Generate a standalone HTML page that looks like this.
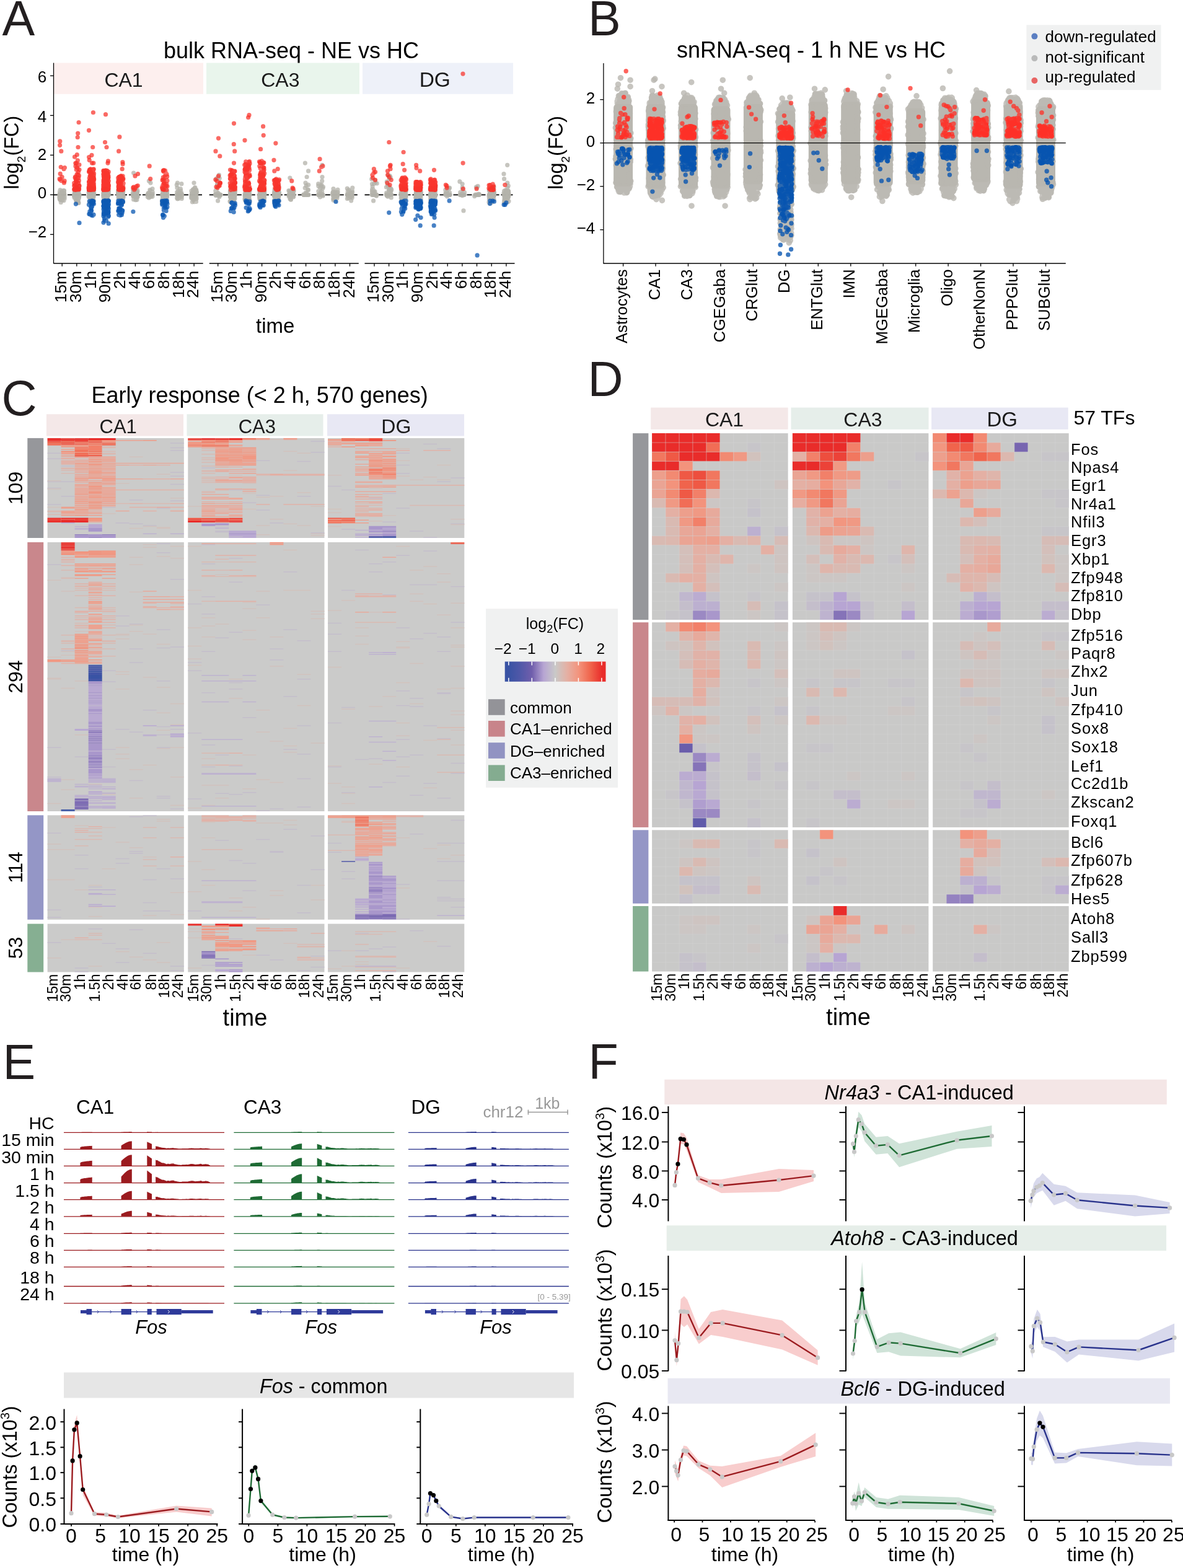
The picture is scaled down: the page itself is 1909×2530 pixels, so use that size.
<!DOCTYPE html>
<html><head><meta charset="utf-8"><title>Figure</title>
<style>html,body{margin:0;padding:0;background:#fff;overflow:hidden}svg{display:block}</style>
</head><body><svg width="1909" height="2530" viewBox="0 0 1909 2530" font-family='"Liberation Sans", Arial, Helvetica, sans-serif'><text x="3.5" y="56.8" fill="#231F20" font-size="79">A</text><text x="949" y="56.8" fill="#231F20" font-size="79">B</text><text x="2.5" y="670" fill="#231F20" font-size="79">C</text><text x="948.5" y="639" fill="#231F20" font-size="79">D</text><text x="4.5" y="1741" fill="#231F20" font-size="79">E</text><text x="949.5" y="1740.4" fill="#231F20" font-size="79">F</text><text x="470" y="93.6" text-anchor="middle" font-size="36">bulk RNA-seq - NE vs HC</text><rect x="87" y="101.5" width="241" height="50.2" fill="#FDEFEE"/><rect x="333" y="101.5" width="247" height="50.2" fill="#E9F5EC"/><rect x="585" y="101.5" width="243" height="50.2" fill="#EEF1F9"/><text x="199.5" y="140" text-anchor="middle" fill="#1A1A1A" font-size="32">CA1</text><text x="452.3" y="140" text-anchor="middle" fill="#1A1A1A" font-size="32">CA3</text><text x="701.8" y="140" text-anchor="middle" fill="#1A1A1A" font-size="33.5">DG</text><path d="M86.5 101.5L86.5 425.6" stroke="#000" stroke-width="1.3"/><path d="M81 122.3L86.5 122.3" stroke="#000" stroke-width="1.3"/><text x="75.3" y="133.1" text-anchor="end" font-size="26">6</text><path d="M81 186.3L86.5 186.3" stroke="#000" stroke-width="1.3"/><text x="75.3" y="196.8" text-anchor="end" font-size="26">4</text><path d="M81 250.3L86.5 250.3" stroke="#000" stroke-width="1.3"/><text x="75.3" y="257.7" text-anchor="end" font-size="26">2</text><path d="M81 314.3L86.5 314.3" stroke="#000" stroke-width="1.3"/><text x="75.3" y="320.2" text-anchor="end" font-size="26">0</text><path d="M81 378.3L86.5 378.3" stroke="#000" stroke-width="1.3"/><text x="75.3" y="382.9" text-anchor="end" font-size="26">−2</text><text transform="translate(29.8 246.1) rotate(-90)" text-anchor="middle" font-size="32.5">log<tspan font-size="19" dy="11">2</tspan><tspan dy="-11">(FC)</tspan></text><path d="M87 425L327.7 425" stroke="#000" stroke-width="1.3"/><path d="M87 314.3L327.7 314.3" stroke="#000" stroke-width="1.8" stroke-dasharray="8 3"/><path d="M100.2 425L100.2 429.8" stroke="#000" stroke-width="1.3"/><text transform="translate(107.3 436.8) rotate(-90)" text-anchor="end" font-size="26.5">15m</text><path d="M123.8 425L123.8 429.8" stroke="#000" stroke-width="1.3"/><text transform="translate(130.9 436.8) rotate(-90)" text-anchor="end" font-size="26.5">30m</text><path d="M147.5 425L147.5 429.8" stroke="#000" stroke-width="1.3"/><text transform="translate(154.6 436.8) rotate(-90)" text-anchor="end" font-size="26.5">1h</text><path d="M171.1 425L171.1 429.8" stroke="#000" stroke-width="1.3"/><text transform="translate(178.2 436.8) rotate(-90)" text-anchor="end" font-size="26.5">90m</text><path d="M194.8 425L194.8 429.8" stroke="#000" stroke-width="1.3"/><text transform="translate(201.9 436.8) rotate(-90)" text-anchor="end" font-size="26.5">2h</text><path d="M218.4 425L218.4 429.8" stroke="#000" stroke-width="1.3"/><text transform="translate(225.5 436.8) rotate(-90)" text-anchor="end" font-size="26.5">4h</text><path d="M242.1 425L242.1 429.8" stroke="#000" stroke-width="1.3"/><text transform="translate(249.2 436.8) rotate(-90)" text-anchor="end" font-size="26.5">6h</text><path d="M265.8 425L265.8 429.8" stroke="#000" stroke-width="1.3"/><text transform="translate(272.9 436.8) rotate(-90)" text-anchor="end" font-size="26.5">8h</text><path d="M289.4 425L289.4 429.8" stroke="#000" stroke-width="1.3"/><text transform="translate(296.5 436.8) rotate(-90)" text-anchor="end" font-size="26.5">18h</text><path d="M313.1 425L313.1 429.8" stroke="#000" stroke-width="1.3"/><text transform="translate(320.2 436.8) rotate(-90)" text-anchor="end" font-size="26.5">24h</text><path d="M337.8 425L578.8 425" stroke="#000" stroke-width="1.3"/><path d="M337.8 314.3L578.8 314.3" stroke="#000" stroke-width="1.8" stroke-dasharray="8 3"/><path d="M351.7 425L351.7 429.8" stroke="#000" stroke-width="1.3"/><text transform="translate(358.8 436.8) rotate(-90)" text-anchor="end" font-size="26.5">15m</text><path d="M375.3 425L375.3 429.8" stroke="#000" stroke-width="1.3"/><text transform="translate(382.4 436.8) rotate(-90)" text-anchor="end" font-size="26.5">30m</text><path d="M399 425L399 429.8" stroke="#000" stroke-width="1.3"/><text transform="translate(406.1 436.8) rotate(-90)" text-anchor="end" font-size="26.5">1h</text><path d="M422.6 425L422.6 429.8" stroke="#000" stroke-width="1.3"/><text transform="translate(429.8 436.8) rotate(-90)" text-anchor="end" font-size="26.5">90m</text><path d="M446.3 425L446.3 429.8" stroke="#000" stroke-width="1.3"/><text transform="translate(453.4 436.8) rotate(-90)" text-anchor="end" font-size="26.5">2h</text><path d="M469.9 425L469.9 429.8" stroke="#000" stroke-width="1.3"/><text transform="translate(477.1 436.8) rotate(-90)" text-anchor="end" font-size="26.5">4h</text><path d="M493.6 425L493.6 429.8" stroke="#000" stroke-width="1.3"/><text transform="translate(500.7 436.8) rotate(-90)" text-anchor="end" font-size="26.5">6h</text><path d="M517.2 425L517.2 429.8" stroke="#000" stroke-width="1.3"/><text transform="translate(524.4 436.8) rotate(-90)" text-anchor="end" font-size="26.5">8h</text><path d="M540.9 425L540.9 429.8" stroke="#000" stroke-width="1.3"/><text transform="translate(548 436.8) rotate(-90)" text-anchor="end" font-size="26.5">18h</text><path d="M564.5 425L564.5 429.8" stroke="#000" stroke-width="1.3"/><text transform="translate(571.6 436.8) rotate(-90)" text-anchor="end" font-size="26.5">24h</text><path d="M588.5 425L830.5 425" stroke="#000" stroke-width="1.3"/><path d="M588.5 314.3L830.5 314.3" stroke="#000" stroke-width="1.8" stroke-dasharray="8 3"/><path d="M604 425L604 429.8" stroke="#000" stroke-width="1.3"/><text transform="translate(611.1 436.8) rotate(-90)" text-anchor="end" font-size="26.5">15m</text><path d="M627.6 425L627.6 429.8" stroke="#000" stroke-width="1.3"/><text transform="translate(634.8 436.8) rotate(-90)" text-anchor="end" font-size="26.5">30m</text><path d="M651.3 425L651.3 429.8" stroke="#000" stroke-width="1.3"/><text transform="translate(658.4 436.8) rotate(-90)" text-anchor="end" font-size="26.5">1h</text><path d="M675 425L675 429.8" stroke="#000" stroke-width="1.3"/><text transform="translate(682.1 436.8) rotate(-90)" text-anchor="end" font-size="26.5">90m</text><path d="M698.6 425L698.6 429.8" stroke="#000" stroke-width="1.3"/><text transform="translate(705.7 436.8) rotate(-90)" text-anchor="end" font-size="26.5">2h</text><path d="M722.2 425L722.2 429.8" stroke="#000" stroke-width="1.3"/><text transform="translate(729.4 436.8) rotate(-90)" text-anchor="end" font-size="26.5">4h</text><path d="M745.9 425L745.9 429.8" stroke="#000" stroke-width="1.3"/><text transform="translate(753 436.8) rotate(-90)" text-anchor="end" font-size="26.5">6h</text><path d="M769.5 425L769.5 429.8" stroke="#000" stroke-width="1.3"/><text transform="translate(776.6 436.8) rotate(-90)" text-anchor="end" font-size="26.5">8h</text><path d="M793.2 425L793.2 429.8" stroke="#000" stroke-width="1.3"/><text transform="translate(800.3 436.8) rotate(-90)" text-anchor="end" font-size="26.5">18h</text><path d="M816.9 425L816.9 429.8" stroke="#000" stroke-width="1.3"/><text transform="translate(824 436.8) rotate(-90)" text-anchor="end" font-size="26.5">24h</text><text x="444.2" y="537" text-anchor="middle" font-size="33">time</text><path d="M101.5 315.5h0M100.3 315.3h0M97 322.3h0M99.3 322.7h0M98.6 312.8h0M99.1 308.6h0M98.6 316.4h0M101.9 313.1h0M104.3 314.8h0M100.1 310.3h0M101.9 311.3h0M104 316.8h0M103 323.4h0M99.9 309.6h0M99.3 311.8h0M103.5 311.8h0M104.1 320.6h0M100.1 311.2h0M104.1 318.5h0M96.4 314.9h0M99.3 314.3h0M101.4 314.3h0M97.7 314.3h0M96.4 314.3h0M96.8 314.3h0M119.8 314.8h0M121 314.6h0M121.5 316h0M121.5 311h0M122 313.4h0M127.8 301.1h0M121.3 310.9h0M120.3 319.2h0M123.7 318.8h0M123 309.6h0M120.8 317.2h0M122.6 307.3h0M125.1 313.7h0M121.7 312.8h0M123.2 307.9h0M123.2 323.3h0M119.7 314.4h0M125.8 311.8h0M126.3 309.1h0M124.4 313.5h0M123.9 317h0M125.6 325.6h0M127.7 315.6h0M120.2 311.1h0M125.7 324.3h0M123 312h0M123.3 314.9h0M121.2 314.3h0M119.7 314.3h0M119.7 314.3h0M124 314.3h0M148.7 309.8h0M149.5 323h0M150.3 309.9h0M145.2 318.8h0M148.6 311.1h0M150.1 319.3h0M145.4 307.1h0M149.6 306.6h0M148.5 317.6h0M149.6 313h0M149.2 315.1h0M147.2 308.7h0M147.1 313.5h0M145 315.3h0M144.3 326h0M145.2 314.9h0M145.8 319.5h0M143.2 310.8h0M145.7 316.7h0M146.3 303.3h0M151.2 312.3h0M146.4 308.6h0M147.9 304.5h0M149.7 311.9h0M146.2 310.5h0M148.8 327.4h0M151 312.6h0M147.1 304h0M145.4 311.3h0M146.8 319.5h0M145.6 314.3h0M147.5 314.3h0M145.1 314.3h0M146.6 314.3h0M150.5 314.3h0M168.2 313.1h0M171.4 313.8h0M171.8 306.8h0M169.1 321.1h0M170.7 316.4h0M175.3 314.5h0M167.1 317.9h0M168.8 312.3h0M167.8 314.3h0M170.9 312.4h0M167.7 315.7h0M172.4 314.4h0M174.9 308.7h0M168.9 319.1h0M174.9 315h0M168.4 319.8h0M173.6 312.9h0M170.7 322h0M169.7 312.2h0M170.6 314.9h0M175.2 314.8h0M175 313.6h0M168.9 305.5h0M174.1 308.9h0M171.8 318.3h0M167.1 312h0M167.1 316.2h0M171.9 314.4h0M167.4 322.4h0M167.1 313.7h0M172.3 314.3h0M169.3 314.3h0M173.4 314.3h0M170.5 314.3h0M169.3 314.3h0M192.2 308.2h0M196.5 318h0M194.8 310.3h0M195.6 310.9h0M198.6 309.7h0M193.9 309.9h0M198.9 316.9h0M191 318.9h0M193.6 320.3h0M190.7 312.1h0M198.1 320.2h0M196.3 312.8h0M194.2 314.3h0M191.5 310.3h0M191.8 320.1h0M193 311.4h0M196.1 319.1h0M195.8 319.5h0M195.5 319h0M195.3 306.7h0M191.1 313.9h0M194.3 313.7h0M193.4 314.5h0M197.6 320.2h0M196.6 322.6h0M197.1 307.3h0M194.1 314.3h0M195.7 314.3h0M194.4 314.3h0M193.9 314.3h0M193.3 314.3h0M218.8 322.6h0M217.7 310.1h0M219.9 311.9h0M216.7 310.2h0M221.2 309.5h0M220.7 318.6h0M215.9 311.7h0M216.9 316.5h0M214.2 312.1h0M215.1 308.2h0M214.2 313h0M216.3 316.4h0M216.7 312.9h0M215.6 279.1h0M220.5 314.3h0M221.2 314.3h0M218.9 314.3h0M216.2 314.3h0M219.6 314.3h0M245.2 309.4h0M242.2 313.4h0M239.2 311.8h0M239.5 313.1h0M246.2 310h0M243.6 317.5h0M242.7 307.9h0M243.4 314.3h0M245.4 314.3h0M243.6 314.3h0M243.5 314.3h0M241.4 314.3h0M266.2 312.3h0M265.7 317.9h0M265.9 308.1h0M266.2 323.2h0M267.7 316.7h0M268.1 308.3h0M264.7 315.9h0M269.1 315.6h0M268.9 318.7h0M262.5 318.1h0M261.8 325.9h0M267.3 306h0M266.4 309.4h0M263.9 311.9h0M266.1 312.5h0M265.8 315.8h0M268.5 315.5h0M269 311.6h0M269.1 312.3h0M264.8 320.5h0M261.6 314.1h0M263.8 316.1h0M269.7 308.1h0M269 314.3h0M266.9 314.3h0M268.3 314.3h0M267.3 314.3h0M267.8 314.3h0M288.1 314.7h0M285.7 310.2h0M290 310.6h0M287.4 313.9h0M290.6 312.2h0M292.6 310.8h0M288 320.3h0M290.1 317.2h0M291.8 307.9h0M286.1 314.5h0M292.9 296.7h0M285.9 303.1h0M285.9 314.3h0M291.3 314.3h0M285.4 314.3h0M291 314.3h0M309.7 313.6h0M309.8 314.6h0M315.1 315.6h0M316.7 310.8h0M310.3 314.8h0M312.3 313.6h0M313.5 318.4h0M312.2 315.6h0M310 318.7h0M310.9 314h0M315.5 306h0M314.3 311.6h0M313.1 314.6h0M315.1 314.4h0M311.5 320.9h0M311 315.4h0M310 318.3h0M315.7 315.6h0M316.4 321.2h0M315.8 312.8h0M313.2 320.8h0M314.7 311.3h0M311.9 309.2h0M312 308.8h0M311.1 310.3h0M314.2 303.4h0M309.1 318.4h0M312.3 307.6h0M310.4 325.8h0M311.6 319.7h0M313 295.1h0M309 314.3h0M312.7 314.3h0M312.8 314.3h0M313 314.3h0M314.5 314.3h0M354 317.4h0M348.3 313.5h0M353.3 288.7h0M347.9 314.3h0M352.4 314.3h0M354.9 314.3h0M351.9 314.3h0M349.8 314.3h0M352.2 287.8h0M354.3 287.5h0M350.6 299h0M349.1 290h0M350.9 299.2h0M372.9 316.1h0M371.9 305.8h0M378.8 316.3h0M371.4 312.9h0M372.4 316.9h0M377.9 306.1h0M375.7 316.5h0M376.9 312.6h0M375.6 302.9h0M379 307.8h0M372.3 316.3h0M379 320.1h0M371.5 307.7h0M372.6 313.2h0M377.8 309.3h0M371.9 314h0M372.5 319.3h0M378.6 315.8h0M375.7 310.1h0M375.4 313.7h0M378.5 311.8h0M375.3 314.8h0M373.3 314.3h0M378.7 310.7h0M371.6 312.7h0M376.4 322.3h0M371.1 324.8h0M373.2 311.7h0M372.9 312.3h0M375.2 316.8h0M378.9 314.3h0M372.8 314.3h0M377.8 314.3h0M374.1 314.3h0M397.7 310.4h0M401 315.3h0M403 323.6h0M397.5 303.6h0M397 323.6h0M400.2 317.1h0M400.5 320.3h0M399.3 309.8h0M399.6 305.6h0M395.3 315.7h0M397.3 313.5h0M401.4 315.7h0M397.7 321.1h0M400.5 318.6h0M402 319.1h0M397.1 316.6h0M399 318.1h0M400.3 319h0M395.3 317.2h0M396.6 317.7h0M395.3 319h0M395.9 313.9h0M401.8 313.8h0M397.5 307.6h0M399.3 309.6h0M398.3 315.4h0M399.8 319h0M403 326h0M400.6 310.8h0M398.2 313.1h0M398.5 314.3h0M396.4 314.3h0M400.7 314.3h0M402.9 314.3h0M400.9 314.3h0M423.7 308.8h0M423 321.1h0M426.7 308.5h0M424.5 310.6h0M424.3 309.7h0M420.1 307.1h0M424 315.8h0M421.5 313.6h0M424.3 310.7h0M424.3 315.9h0M421.3 316.4h0M424.1 309h0M419.7 314.1h0M426.8 313h0M418.9 319.4h0M419.5 319.3h0M419.3 309.7h0M420 314h0M422.4 311.3h0M422.1 314.2h0M419.4 312.4h0M421.5 313h0M420.3 316.7h0M426.5 312.8h0M420.2 311.4h0M422.2 314.5h0M419.4 307.5h0M418.6 317.6h0M422.6 320.2h0M425.7 306.9h0M419.9 314.3h0M426.1 314.3h0M418.7 314.3h0M420 314.3h0M426.4 314.3h0M450.2 310.8h0M442.5 310.4h0M449.5 307.8h0M446.5 312h0M445.3 312.9h0M444.7 307.2h0M450 324.7h0M444.4 311.1h0M444.6 320.8h0M442.7 322.5h0M443.2 316.2h0M449.2 313.1h0M444.1 315.6h0M449.7 311.8h0M448.2 315.6h0M442.9 312h0M443.3 328.7h0M444.9 311.6h0M448.6 314.9h0M449.3 321.3h0M442.9 317.1h0M449.6 317h0M448.5 306.6h0M449.2 307.3h0M449.3 319.5h0M447.8 305.6h0M445.9 314.3h0M448.7 314.3h0M444.9 314.3h0M444.8 314.3h0M444 314.3h0M469.7 315.2h0M474 307.6h0M471.6 310.3h0M471.9 305h0M469.4 322.2h0M468.8 311.7h0M468.6 320.5h0M472.5 306.6h0M468.8 309.4h0M468.5 317.8h0M468.8 319.6h0M472.7 315h0M466.2 315.2h0M467.9 287.1h0M473.5 314.3h0M473.6 314.3h0M469.4 314.3h0M473 314.3h0M489.8 313.8h0M490.3 313.9h0M497.6 275.9h0M493 295.1h0M491.3 314.3h0M495.4 314.3h0M490.6 314.3h0M489.8 314.3h0M493.1 311h0M492.2 303.3h0M517.8 312.9h0M519.7 309.7h0M518.7 314.1h0M518.2 308.6h0M519.8 266.3h0M521.5 301.5h0M519.5 314.3h0M514.3 314.3h0M515.3 314.3h0M520.9 314.3h0M519.5 314.3h0M513.7 296.6h0M516.7 297.9h0M517.2 310.5h0M541.5 310.2h0M540.1 318.5h0M537.1 310.7h0M542.1 315.9h0M543.9 315.9h0M542.8 313.4h0M537.6 309.7h0M544.6 314.3h0M541.9 312.8h0M544 319.7h0M538.6 316.9h0M538 323.1h0M540.8 311.5h0M541.7 323.9h0M539.8 314.3h0M537.8 314.3h0M539.9 314.3h0M536.8 314.3h0M539 314.3h0M568.4 316.2h0M562.8 317.6h0M560.3 304h0M566.1 311.3h0M560.3 314.6h0M563.8 314.8h0M562 318.1h0M564.7 315.2h0M560.8 315.1h0M563.4 314.6h0M565.6 317.8h0M562.4 319.5h0M567.1 312.5h0M563.8 314.3h0M560.7 314.3h0M566.8 314.3h0M562.3 314.3h0M563.6 314.3h0M606.9 315.4h0M600.4 314h0M605.3 314.3h0M604.1 314.3h0M601 314.3h0M607.5 314.3h0M601.1 314.3h0M605.1 309.2h0M605.9 294.2h0M600.5 296.8h0M600.5 308.4h0M624 313.7h0M625 316.2h0M631.4 314.2h0M624.4 314.3h0M628.3 314.3h0M629.5 314.3h0M626.1 314.3h0M629.6 314.3h0M631.8 306.3h0M628.8 287.6h0M629.1 303.7h0M626.1 282.4h0M628.9 283.5h0M626.3 300.7h0M627.7 306.3h0M653.1 315.5h0M650.9 313.4h0M649 314.6h0M653 320.3h0M652.8 308.6h0M647.9 317.6h0M653.1 315h0M650.6 322.2h0M654.3 316.4h0M648.7 322.4h0M652.1 318.8h0M647.1 313.7h0M647.2 316.5h0M654.4 316.9h0M649.8 314.9h0M648.8 317.7h0M649.1 303.8h0M647.3 307.9h0M647.5 325.5h0M654.2 307.6h0M650.8 314.8h0M647 311.4h0M653 318.3h0M651.2 314.6h0M652.3 317h0M650.2 312.3h0M649.9 318.7h0M648.4 315.5h0M650.9 313.4h0M648.9 308.8h0M651.1 314.3h0M652.5 314.3h0M652.5 314.3h0M648.5 314.3h0M651.7 314.3h0M678.1 315.9h0M676.1 307.6h0M676.8 313.8h0M674.4 314.9h0M676.4 316.8h0M676.9 313.5h0M673.8 314.7h0M673.2 310.1h0M679 310.9h0M671.6 314.2h0M674.4 311.2h0M678.4 324.4h0M674.5 316.2h0M671.6 304.2h0M671.7 315.2h0M672.3 312.5h0M672.8 307.5h0M674.2 304.9h0M676.6 316h0M673.1 312.3h0M671.4 310.6h0M676.8 320h0M679.1 309h0M672.4 311.7h0M671.3 321.3h0M676.8 312.5h0M676.2 316.2h0M673.9 318.2h0M675.5 321.2h0M674.7 311.7h0M677 314.3h0M677.8 314.3h0M677.4 314.3h0M673.8 314.3h0M694.6 325.5h0M699 312.1h0M696.2 314.2h0M698.1 313.7h0M699.4 317.1h0M700.6 310.6h0M700.8 307.4h0M702.4 315.6h0M696.5 321.7h0M698 315.7h0M694.4 312.9h0M695.8 315.9h0M698.8 316.8h0M698.4 312.7h0M695.1 306.8h0M701.5 313.9h0M699.7 314.2h0M695.3 310.6h0M695.1 314.8h0M702.3 313.8h0M702.6 307.1h0M701 307.4h0M695.2 315.6h0M694.7 321.1h0M701.3 308.6h0M700.1 305.9h0M695 316.2h0M702.2 314.3h0M701.3 314.3h0M702.2 314.3h0M695.5 314.3h0M696.1 314.3h0M719.1 312.4h0M722.7 314.3h0M724.8 314.3h0M726 314.3h0M724.5 314.3h0M722.9 314.3h0M721.5 308.8h0M725.5 303h0M745.6 312.9h0M748 339.9h0M747.6 314.3h0M748.1 314.3h0M744 314.3h0M744.2 314.3h0M741.9 292.9h0M746.4 305.6h0M773.3 313.4h0M766.6 314.3h0M766.6 314.3h0M771.7 314.3h0M767.6 314.3h0M771.1 314.3h0M768.4 301.8h0M789 326.3h0M790.2 319.7h0M789.3 307.4h0M791.1 311.4h0M791.6 319.2h0M795.1 303.6h0M797.4 310.8h0M789.1 315.2h0M794 317.1h0M793 321.6h0M796.3 316.6h0M790.4 321.3h0M791.9 309.8h0M796.7 308.3h0M789.4 321.9h0M789.8 328h0M797 314.3h0M796.9 316h0M797 309.4h0M795 309.6h0M794.9 314.3h0M789.6 314.3h0M792.8 314.3h0M796.9 314.3h0M793.4 314.3h0M816 308.3h0M816.4 307.8h0M815.7 308.4h0M817.8 322.9h0M820.3 308.4h0M814.7 320.7h0M816.3 314.3h0M815.2 312.2h0M818.3 322.4h0M818 307.4h0M815.6 319h0M815.3 309.9h0M817.8 314.3h0M816.3 320.3h0M818.6 320.6h0M814.8 317.7h0M815.6 314.5h0M813.5 308.3h0M813.6 323.8h0M819.9 318.5h0M816.1 314h0M820.8 312.3h0M815.5 318.4h0M818.6 307.6h0M819 319.5h0M816.1 314.9h0M813.6 288.7h0M818.8 295.1h0M818.8 314.3h0M814.5 314.3h0M814.9 314.3h0M818 314.3h0" stroke="#B3B1AA" stroke-width="7.2" stroke-linecap="round" stroke-opacity="0.75" fill="none"/><path d="M96.5 311.8h0M96.5 309.3h0M97.8 310.2h0M103.3 312.8h0M102.9 312.4h0M96.4 316h0M100.9 318.9h0M100.4 314.1h0M96.9 318.2h0M102.5 307.4h0M101 317.2h0M96.4 321.3h0M98.3 326.4h0M96.4 313.1h0M103.4 311.7h0M98.3 310.3h0M97.2 306.6h0M95.9 317.5h0M101.8 309.8h0M103.4 307.6h0M99.3 314.3h0M96.4 314.3h0M97.3 314.3h0M95.9 314.3h0M99 314.3h0M127 327.4h0M126.2 309.7h0M126.9 309.1h0M124 321.5h0M127.8 314.7h0M122.7 319.8h0M126.8 321.6h0M125.2 321.4h0M122.4 310.6h0M127.7 315.2h0M120.8 307.1h0M124.3 315.2h0M123.3 325.3h0M122.1 317.2h0M122.6 307.1h0M127.4 319.5h0M119.6 317.1h0M124.3 309.5h0M121.7 309.5h0M126.1 320h0M123.4 321.7h0M127.1 312.7h0M120.6 312.9h0M125.3 312.7h0M127.1 315.7h0M123.7 302.7h0M124 314.3h0M122.3 314.3h0M124.3 314.3h0M122.4 314.3h0M120.1 314.3h0M143.6 308.1h0M147.7 313.3h0M148.2 321.8h0M146.3 311.8h0M148.6 319.6h0M147.8 314.4h0M143.8 311.1h0M146.5 308.8h0M148.7 321.8h0M143.3 316.4h0M149 307.2h0M144.9 306.8h0M150.3 314.7h0M148.2 311.2h0M150.3 316.1h0M143.4 309.9h0M144.4 314h0M144.2 314.3h0M146.4 324.4h0M143.6 317.8h0M145.3 317.7h0M150.2 304.7h0M149.4 320.2h0M143.6 316.7h0M145.8 310.4h0M146.6 316.2h0M147.5 311.5h0M144 312.3h0M148.1 312.4h0M146.1 318.9h0M151.5 314.3h0M148.6 314.3h0M145.5 314.3h0M147 314.3h0M150.7 314.3h0M174.6 307.6h0M172.3 316.6h0M175.4 312.6h0M175.4 309h0M167.3 310.8h0M171.9 307.4h0M170.6 310.4h0M172.5 315.9h0M171.9 316.4h0M168 307.9h0M173.6 320.6h0M171.7 313.6h0M174.6 314.7h0M167.4 315.3h0M172.1 312.3h0M169.5 321.1h0M174.1 314.4h0M168.8 312.6h0M174.1 314.3h0M173.6 308.2h0M167 312.3h0M173.3 306.4h0M172.8 308.6h0M172.8 315h0M172.2 315.5h0M167.8 315.7h0M172.3 307.2h0M170 316.1h0M175 307.1h0M174.1 312.1h0M173.9 314.3h0M167.7 314.3h0M168.6 314.3h0M167 314.3h0M197.5 311.4h0M190.7 310.1h0M196.7 306.6h0M192.9 310.4h0M195.4 312.6h0M193.8 306.6h0M193.4 306.5h0M197.4 309.9h0M198.5 326.3h0M195.1 311.1h0M197.2 306.2h0M198.1 320.8h0M198.4 315.2h0M198.7 308.5h0M194.9 324.3h0M191.6 313.1h0M195.2 314.2h0M192.2 318.3h0M192.6 318.4h0M190.6 314.7h0M199 318.2h0M198 317.1h0M192.4 314.5h0M193.5 317.1h0M196.9 322.1h0M198.4 313h0M198.8 319.1h0M197.2 314.3h0M193.8 314.3h0M196.7 314.3h0M195.3 314.3h0M197.3 314.3h0M218.8 307.6h0M215.9 312.7h0M218.6 314h0M221.8 316.1h0M215.6 322h0M221.3 317.4h0M215.8 310.7h0M218.2 313.5h0M214.9 306.3h0M218.4 315.1h0M219.5 308.3h0M215.3 317.3h0M221.4 311.6h0M220.9 322.3h0M217 314.3h0M216.9 314.3h0M217.3 314.3h0M214.5 314.3h0M239.4 311.6h0M244.6 314.2h0M241.6 316.3h0M240.3 319.2h0M241.8 312.4h0M246.1 317.1h0M243 295.1h0M246 304.7h0M240.4 314.3h0M238 314.3h0M241.6 314.3h0M241 314.3h0M242.4 314.3h0M263.6 307h0M266.2 315h0M265 316h0M267.6 310.7h0M264.8 307.1h0M262.6 315.8h0M263.3 307.9h0M266.8 319.2h0M264.4 310.4h0M264.7 322.4h0M266.2 316h0M263.6 307.2h0M262.4 313.6h0M267.4 308.7h0M269.6 317.5h0M269 312h0M265.5 316.4h0M266.7 318.3h0M262.9 315.5h0M264.5 313h0M261.8 327.9h0M265.8 317.7h0M266.3 313h0M268.1 314.3h0M264.6 314.3h0M269 314.3h0M264.1 314.3h0M265.8 314.3h0M287.9 313.2h0M290.7 311h0M293.2 320.4h0M288.8 311.9h0M287 317.4h0M287.4 309h0M286.5 321h0M292.7 316.3h0M292.5 313h0M293.5 313.6h0M286.4 295.1h0M286.6 314.3h0M288 314.3h0M292.7 314.3h0M287.1 314.3h0M285.4 314.3h0M308.9 308.2h0M312.4 317.4h0M313.1 317.3h0M317.1 316.6h0M311 318.9h0M308.8 319.4h0M314.7 320.2h0M317.1 316.8h0M317.3 310.4h0M310.8 318.6h0M316.6 306.9h0M317.1 319.1h0M313.8 325.6h0M312.1 320.9h0M314.2 319.9h0M315 308.8h0M316.7 313.7h0M315.8 314h0M316.2 322.6h0M310.9 311.9h0M312.6 306.2h0M315.6 320.5h0M313.2 307.3h0M313.7 310.5h0M311.5 306h0M312.4 311.9h0M312.6 318h0M311.8 320.6h0M317.1 320.5h0M312 305.6h0M316.5 325.5h0M313.8 314.3h0M316 314.3h0M316.4 314.3h0M313.2 314.3h0M347.7 314.4h0M348.4 315.4h0M352.3 311.6h0M353.5 282.3h0M353.3 314.3h0M356 314.3h0M348.7 314.3h0M347.5 314.3h0M349.7 314.3h0M351 299.8h0M349.6 287.9h0M351.6 301.3h0M352.2 285.5h0M375.3 322.3h0M378.3 317.9h0M379.2 307.4h0M376.9 317.4h0M373.1 312.2h0M378.9 308.7h0M371.3 309.6h0M371.9 316.9h0M372.1 307.5h0M373.6 314.6h0M378.5 309.7h0M373.4 314.8h0M379.4 307.9h0M373.9 316.7h0M371.6 313.4h0M376.2 310.9h0M376 315.8h0M372.5 309.3h0M371.9 317h0M372.1 310.5h0M374.5 316.4h0M375.4 311.8h0M377 312.7h0M371.3 317.1h0M373.1 308.9h0M373.2 321.7h0M374 317.4h0M379.1 311.7h0M372.4 315h0M373.9 311.8h0M375.3 314.3h0M377.5 314.3h0M376.4 314.3h0M371.8 314.3h0M372.4 314.3h0M395.9 321.9h0M395.2 312.3h0M396.3 305.9h0M396.9 316.4h0M396.5 306.2h0M396 313.6h0M401.2 313.2h0M396.9 315.9h0M397.7 312h0M400.5 322h0M400.2 316.5h0M401.1 323.3h0M396.3 308.9h0M397.6 312.2h0M400.4 311.4h0M401.9 309.6h0M402.4 321.4h0M400.8 312.5h0M399.9 316.8h0M403.1 308.3h0M401.9 308.6h0M398.5 314.6h0M395.7 315.6h0M401.5 317.4h0M395 321.7h0M400.9 308.1h0M396.6 310.9h0M395.3 321h0M400.8 310.4h0M401 314.9h0M396.4 314.3h0M397 314.3h0M403.1 314.3h0M402.6 314.3h0M395.2 314.3h0M426.7 318.3h0M426.4 315.6h0M420.8 311.5h0M426.9 314h0M420.5 314.5h0M420.6 313h0M421 320.3h0M419.6 314h0M419.9 315.5h0M422.2 309.6h0M425.5 313.7h0M420.7 321.1h0M424 317.7h0M421.6 312.6h0M419.5 304.9h0M425.1 308.5h0M420.8 314.2h0M420.2 317.7h0M424.1 313.2h0M419.3 313.1h0M420.3 317.2h0M422.4 313.1h0M425.8 314.5h0M422.9 316.1h0M426.3 311h0M421.1 316.2h0M419.9 308.8h0M422.4 319h0M419.6 319.8h0M421.5 316.9h0M420.3 314.3h0M419.1 314.3h0M422.1 314.3h0M424.8 314.3h0M443.9 314.5h0M448.8 321h0M442.4 315.9h0M446 305.3h0M446.6 319.3h0M446.2 313.2h0M448.6 321.8h0M447.3 310.7h0M449.8 301.1h0M442.6 312.9h0M450.3 316h0M442.9 306.3h0M448.6 312.9h0M450.4 312.2h0M450.2 309.8h0M448.3 309.1h0M444.1 312.6h0M449.3 311.5h0M449.1 312.4h0M447.2 314.6h0M445.1 312.7h0M444 310.6h0M449.9 314.2h0M449 314.8h0M444.9 310.3h0M449.6 306.7h0M449.5 315.2h0M444.9 314.3h0M449.5 314.3h0M444.1 314.3h0M442.2 314.3h0M442.6 314.3h0M466.9 312.2h0M469.1 311h0M473.1 316.4h0M468.7 313.9h0M471.3 316.1h0M473 315.1h0M469.1 308.6h0M465.9 307.5h0M470.2 310.8h0M469 318.5h0M473.5 317.8h0M467 310h0M467.6 313.4h0M472 314.3h0M473.8 314.3h0M466.4 314.3h0M467.3 314.3h0M469 314.3h0M490.4 314.4h0M494.5 313.7h0M492.4 263.1h0M492.7 314.3h0M497.7 314.3h0M490.8 314.3h0M492.3 314.3h0M493.9 314.3h0M494.3 299.6h0M497.4 306.7h0M516.2 313.3h0M517.4 314.2h0M516.5 318h0M515.7 315.9h0M519.7 291.9h0M518.9 298.3h0M515.2 314.3h0M520.3 314.3h0M520.9 314.3h0M519.5 314.3h0M520.8 303.8h0M513.8 299.9h0M515.2 300.9h0M514.8 301h0M543.6 314.4h0M537.6 310.2h0M545.1 309.7h0M543.6 316.4h0M544.3 314.1h0M544.6 314.8h0M538.2 309h0M538.8 321h0M545 306.1h0M544.5 315.9h0M540.6 320.1h0M540.1 316.3h0M538.9 311h0M538 304.7h0M544.9 314.3h0M541.6 314.3h0M541.3 314.3h0M538.4 314.3h0M565.1 310.7h0M567.7 317.5h0M568.6 310.3h0M564.6 316.8h0M568.2 319.2h0M568.6 310.4h0M568 314.5h0M561.1 311.2h0M563 306.4h0M561.2 309.1h0M565.9 312.1h0M566.5 315.6h0M561.5 307.9h0M565.2 311.9h0M564.9 314.3h0M563.9 314.3h0M562.3 314.3h0M561 314.3h0M602.6 312.7h0M607.6 316.1h0M602.6 323.9h0M603.3 314.3h0M607.8 314.3h0M602.3 314.3h0M605.8 314.3h0M600.8 310.8h0M604.1 310.6h0M601.1 301.1h0M599.7 288.9h0M608.2 296h0M631.3 319h0M629.1 314.3h0M624.6 313.6h0M629.2 314.3h0M631.7 314.3h0M630.2 314.3h0M623.8 314.3h0M629.3 304.5h0M623.4 302h0M630.8 309h0M623.7 311.1h0M630.1 285.9h0M628.2 284.4h0M627.7 303.8h0M627 300.1h0M654 309.6h0M650.1 316.9h0M653.7 317.6h0M650.1 314.5h0M655.3 315.7h0M651.2 312.1h0M654.7 308.8h0M648.6 319.4h0M649.9 303.7h0M648 313.6h0M649.2 312.5h0M649.9 319.9h0M652.8 316.5h0M652 311.4h0M652.5 313.1h0M650.1 316.2h0M654.4 304.9h0M649.3 311.8h0M650.3 312.5h0M653.9 318.8h0M655.5 306.3h0M650.2 312.6h0M651.4 314.5h0M648.8 320.9h0M651.8 310.9h0M651.6 309h0M650.6 306.1h0M650.8 318h0M654.2 305.9h0M652.8 307.3h0M648.7 314.3h0M653 314.3h0M648.2 314.3h0M651.4 314.3h0M674.6 316.1h0M678.2 310.3h0M677.9 313.7h0M676.2 314.7h0M673.4 315.1h0M673.3 316.3h0M671.2 316.5h0M675 312.2h0M679 310.2h0M677.8 317.3h0M671 318.2h0M672 314h0M672.7 309.2h0M675.7 310.8h0M673.2 310.1h0M671.9 315.1h0M675.1 313.3h0M671.1 313.8h0M675.8 307.7h0M673 320.8h0M675.7 309.6h0M672.6 312.5h0M673.9 314.6h0M678.8 303.1h0M679.2 320.4h0M672.9 312.4h0M671.5 309.3h0M672.3 314.8h0M676.6 311.1h0M678.8 317.4h0M677.9 314.3h0M676.8 314.3h0M678.2 314.3h0M674.7 314.3h0M677.5 314.3h0M700.9 318.9h0M700.8 306.2h0M696.5 314.5h0M700.6 321.1h0M697 314.7h0M699.3 311.8h0M696.5 313h0M696.7 304.4h0M694.4 303.1h0M702 311.4h0M696.1 311.2h0M696.5 312.5h0M697.3 313.1h0M697.1 320.3h0M694.6 305.4h0M697.3 308.4h0M695.9 325.5h0M695.6 313.3h0M695.4 321.1h0M697.2 319.7h0M699 311.8h0M700.7 308h0M697 312.7h0M702.3 310h0M694.5 316.2h0M698 309.8h0M699.5 316.5h0M698.1 314.3h0M696.7 314.3h0M696.6 314.3h0M702.9 314.3h0M721.5 316.8h0M719 313.5h0M722.7 314.3h0M718.7 314.3h0M725.4 314.3h0M722.6 314.3h0M720.1 310.5h0M718.8 306.4h0M719.2 308.9h0M744.4 313.7h0M749.2 314.3h0M745.1 314.3h0M746.4 314.3h0M749.2 314.3h0M742.3 314.3h0M746.1 296.8h0M749.5 310.4h0M765.7 316.6h0M769.8 314.3h0M769.8 314.3h0M768.7 314.3h0M773.5 314.3h0M767.9 314.3h0M771.1 300.4h0M796.6 316.5h0M796 318.3h0M790 314.6h0M796.7 316.1h0M794.1 316.2h0M790 313.4h0M796.1 310.7h0M793.4 314.5h0M791.5 319.8h0M789.2 318.1h0M796.5 316.4h0M797.4 315.3h0M794 314.1h0M790.4 316.3h0M793.6 319.1h0M793.5 326.6h0M791.2 313.2h0M791.1 305h0M791.1 313.7h0M796.8 315.5h0M791.9 314.3h0M797.5 314.3h0M795.7 314.3h0M793.5 314.3h0M815.3 316.4h0M819.4 315.9h0M820.4 309.5h0M819.1 308.8h0M816.2 312.8h0M815.4 307h0M818.5 321.2h0M814.3 321h0M816.6 314.5h0M812.9 312.1h0M814.3 313.1h0M814.8 319.5h0M820.1 314.2h0M819.3 313.3h0M821.1 315.2h0M819.7 313.3h0M820.5 318h0M820.3 299.8h0M818.8 314.1h0M819.8 311.8h0M813.6 314.7h0M817.5 312.9h0M813.3 327.3h0M816.3 312.3h0M817 314.4h0M815.2 317.8h0M817.4 321.8h0M813 280.7h0M817.8 314.3h0M819.7 314.3h0M817.4 314.3h0M813.8 314.3h0M820.6 314.3h0" stroke="#B3B1AA" stroke-width="7.2" stroke-linecap="round" stroke-opacity="0.75" fill="none"/><path d="M96.4 318.8h0M96.7 313.1h0M100.9 322.4h0M98.4 314.5h0M101.4 311.6h0M97.7 314.8h0M102.7 318.2h0M103.4 308h0M97.2 321.3h0M100.8 312.6h0M103.1 318.9h0M101.9 313.2h0M96.1 319.7h0M102.5 312.2h0M100.6 309.7h0M99.5 323h0M97.9 312.7h0M99.5 316.3h0M101.7 320.9h0M102.8 319.2h0M96.8 314.3h0M96.5 314.3h0M98.8 314.3h0M97.2 314.3h0M124.2 317h0M125.5 316.6h0M122.4 322.5h0M126.5 327.2h0M119.8 315h0M123.4 306.9h0M121.2 313.7h0M123.7 321.5h0M126 307.2h0M126.4 306.7h0M120.6 314.8h0M126.7 319.2h0M127.9 313.7h0M127 316.2h0M121.8 313.9h0M123.5 306.6h0M124.1 320.2h0M126.4 313.2h0M124.3 317h0M121.9 310.5h0M124.8 309.9h0M124.1 314.9h0M124.4 310.8h0M123.4 316.5h0M120.9 312.1h0M127.9 316.6h0M120.9 305.2h0M122.5 314.3h0M125.8 314.3h0M123.3 314.3h0M124.9 314.3h0M128 314.3h0M148.6 309.1h0M147.5 316.7h0M149.2 308.6h0M144.1 313.8h0M143.2 316.6h0M148.9 320h0M145 315.1h0M147.3 315.2h0M145.4 311.9h0M143.7 308.4h0M147.2 315.8h0M151.6 307.4h0M145.5 309.2h0M144.4 315.4h0M149.2 324.3h0M143.2 317.6h0M150.4 316.6h0M151.2 323.5h0M148.3 328.1h0M144.1 312.6h0M144.8 314.9h0M148.6 317h0M147.1 306.9h0M151.2 317.4h0M145.4 315.2h0M144.6 308.5h0M151.8 312.3h0M146.1 311.9h0M146.7 308.2h0M143.7 315h0M144.3 314.3h0M150.6 314.3h0M145.3 314.3h0M151.4 314.3h0M168.4 314.9h0M168.3 317.1h0M171.6 320.5h0M172.3 315.8h0M173.4 318.3h0M173.9 307.2h0M166.9 316.4h0M171.3 308.9h0M169.9 314h0M171.9 311.6h0M168.1 311h0M170.3 321.7h0M170.7 318.4h0M167.2 317.9h0M171.6 314.2h0M171.2 311.8h0M174.5 314.8h0M173.3 314.8h0M167.2 311.5h0M173 321.7h0M172.4 318h0M169.1 304.6h0M169.7 318.9h0M172.6 318h0M173.1 311.1h0M167.5 311.2h0M168.1 310.3h0M172.8 312.4h0M174.5 310.6h0M167.8 322.2h0M173.8 314.3h0M172.3 314.3h0M167.7 314.3h0M169.6 314.3h0M169.1 314.3h0M190.8 312.1h0M195 319.4h0M190.9 308.5h0M191.7 310.8h0M196.9 316.4h0M195 322.4h0M192.6 317.3h0M197.8 306.8h0M192.6 315.6h0M194.8 309.7h0M198.6 304.5h0M192.8 307.6h0M195.8 308.4h0M196.1 315.3h0M192.8 321h0M194 311.6h0M197.7 312.2h0M195.2 315.6h0M192.4 313.5h0M192.6 320h0M193 314.1h0M193.8 315.9h0M198.8 316.6h0M197.8 317.3h0M197 315.2h0M190.5 307.5h0M195.4 317.2h0M198 314.3h0M194.4 314.3h0M193 314.3h0M193.8 314.3h0M216.4 316.8h0M216.3 315.6h0M220.2 315.3h0M218 310.7h0M217 310.4h0M219.9 316.7h0M217.3 311.3h0M220.2 312.9h0M214.8 316.2h0M220.3 314.7h0M218.8 317.2h0M222.2 317.6h0M221.4 306.1h0M222.1 308h0M221.3 314.3h0M215.7 314.3h0M217.3 314.3h0M221.3 314.3h0M219 314.3h0M244 313.6h0M243.5 316.2h0M243.5 313.2h0M240.8 317.4h0M246.2 313.1h0M238.3 317.7h0M240.4 291.9h0M241.9 306.3h0M240.8 314.3h0M239.4 314.3h0M238.5 314.3h0M242.8 314.3h0M269.1 312h0M262.3 308.1h0M262.4 313.4h0M262.1 315.3h0M270 314.2h0M262.9 308.9h0M263.5 314h0M264 313.7h0M269.3 310h0M268 307.4h0M267.7 315.2h0M268.4 315.6h0M268.7 312.5h0M268.3 313.7h0M269 316.3h0M261.6 322.4h0M263 313.9h0M262.8 318.6h0M263.3 310.5h0M264.6 315.1h0M264.3 308h0M262.7 310.7h0M266 314.8h0M268.1 314.4h0M266.9 314.3h0M263.9 314.3h0M269.5 314.3h0M268 314.3h0M290.6 310.6h0M292.9 317.7h0M285.6 319.5h0M290.5 310.5h0M291.6 314h0M290 304.5h0M287.5 314.2h0M291 313.7h0M288.2 312.6h0M293.7 315.8h0M285.2 298.3h0M291.4 304.7h0M291 314.3h0M293 314.3h0M293.5 314.3h0M291.9 314.3h0M289.4 314.3h0M316.3 309.3h0M310.3 314.1h0M313 310.2h0M316.3 311h0M313.1 312.7h0M314.7 316.2h0M314.9 302.6h0M312.1 308.8h0M316.7 306.4h0M310.5 317.9h0M311.5 305.9h0M308.8 315.8h0M314.2 310.1h0M313.3 308h0M314 318.2h0M313.2 317.8h0M313.3 321.2h0M312.7 310.8h0M315.9 308.9h0M309.6 312h0M317.3 309.4h0M315.3 312.2h0M311.7 313.9h0M309.2 313.9h0M309.5 313.7h0M315.6 317.3h0M311.3 320.4h0M312.1 322.7h0M314.5 315.6h0M313.3 310.1h0M315.3 314.3h0M312.7 314.3h0M312.3 314.3h0M312.5 314.3h0M315.8 314.3h0M353.2 316.2h0M354.4 314.2h0M347.9 312.6h0M351.6 323.9h0M351 314.3h0M354.4 314.3h0M350.3 314.3h0M355.9 314.3h0M349.6 305.4h0M350 310.7h0M347.8 308h0M350.5 297.5h0M350.1 310.7h0M376.8 317.5h0M372.8 307.8h0M374.6 309.6h0M377 313.4h0M376.1 317.7h0M372.4 318.4h0M374.3 314.9h0M374.7 321.9h0M379 308.4h0M375.3 318.9h0M376.2 311.3h0M373 307h0M374 313h0M377.4 317.7h0M375.9 318.2h0M375.5 315.5h0M374.1 316.3h0M378.3 310.3h0M378.6 314h0M375.7 317.1h0M372.8 311.9h0M379.2 313.7h0M373 320.3h0M373.6 318.8h0M376.2 311.1h0M371.4 325.4h0M378 322.5h0M371.8 318.5h0M374 321.5h0M377.9 298.3h0M377.8 314.3h0M376.5 314.3h0M378.3 314.3h0M377.2 314.3h0M379.4 314.3h0M396.1 324.1h0M397.3 310.7h0M396.4 318.5h0M398.1 313.4h0M401.9 309.9h0M401.2 318.4h0M402.6 315h0M401.3 307.7h0M396.8 310.8h0M398.2 316.7h0M400.7 307.6h0M397.6 307.3h0M399.2 310.2h0M395.3 315.8h0M399.6 318.6h0M396 321.3h0M401.8 307.9h0M400.8 316.1h0M396.5 312.6h0M401.6 310.3h0M400.1 314.5h0M399.5 312.6h0M397.6 313.2h0M396.5 315.7h0M399 314.1h0M399.7 311.7h0M401.6 303.6h0M398.8 302h0M396.3 318.5h0M399.1 311.2h0M400.8 314.3h0M399.5 314.3h0M401.1 314.3h0M400.9 314.3h0M421 307.2h0M419.7 309.9h0M424.3 323.2h0M426.1 312.5h0M424.3 312h0M420.6 322.3h0M423.4 307.6h0M418.9 318.6h0M426.7 310h0M419.2 306.2h0M426.4 314.6h0M420.3 315.3h0M426.1 311.2h0M419.9 319.7h0M420.3 317.9h0M426.6 313.4h0M422.8 314.3h0M421.6 305.7h0M423.9 317.7h0M425.5 315.4h0M419.2 321.6h0M422.1 313.9h0M419 308.7h0M426.6 320.5h0M425.8 314.1h0M422.3 312.4h0M421.5 312.3h0M418.4 314.8h0M420.4 314.7h0M425.3 318.6h0M426.1 314.3h0M423.5 314.3h0M420.2 314.3h0M419.6 314.3h0M423.4 314.3h0M448.6 311.5h0M448.2 315.8h0M446.4 315.6h0M446.4 313.5h0M448.7 308.5h0M443.9 314.4h0M445.2 313.2h0M447.5 310.1h0M443.1 311.2h0M445.8 314.3h0M442.4 313h0M446.6 311.7h0M445.7 311.7h0M448.4 311.5h0M447.2 317.4h0M450.2 312.1h0M444.2 318.3h0M448.4 315.6h0M449.4 309.7h0M444.8 304.8h0M445.2 317.7h0M447.5 310.1h0M448.9 317.9h0M445.3 314.4h0M449.1 309.9h0M448.4 307h0M446.7 315.5h0M448.7 314.3h0M443.8 314.3h0M442.9 314.3h0M448.9 314.3h0M473.8 308.8h0M467.1 308.2h0M468.7 317.4h0M470.6 312.6h0M469.1 321.7h0M472 308.5h0M471.5 312.7h0M467.2 316.4h0M469.9 316.7h0M473.6 317h0M467.9 320.8h0M470.3 311.3h0M467.3 314.7h0M466.1 316.8h0M471.8 314.3h0M470.4 314.3h0M473.6 314.3h0M472.1 314.3h0M466.5 314.3h0M494.7 311.3h0M495.1 285.5h0M497.7 298.3h0M491.5 314.3h0M497.9 314.3h0M490.8 314.3h0M495.6 314.3h0M495.2 314.3h0M496.9 305.8h0M497.2 298.2h0M518.9 313.1h0M516.5 309.7h0M521.2 316.1h0M520.7 315.7h0M520 285.5h0M515.7 314.3h0M518.2 314.3h0M517.2 314.3h0M513.7 314.3h0M514.2 314.3h0M516.6 303.5h0M513.9 308.5h0M518.5 300.8h0M544.7 312.2h0M544 314.1h0M543 315.6h0M537.7 320.4h0M536.9 312.3h0M540.6 310.1h0M538.2 317.8h0M538 317.8h0M544.4 313.2h0M541.2 313.6h0M543.5 313.7h0M544.5 310h0M538 318.8h0M543.2 317.6h0M544.2 314.3h0M545 314.3h0M544.9 314.3h0M539.3 314.3h0M537.7 314.3h0M563.4 308.8h0M566 317.9h0M560.8 313.9h0M561.3 315.2h0M566.4 308.5h0M562.9 313.1h0M560.4 320.4h0M568.3 307.7h0M566.2 310.5h0M566.7 323.8h0M568.8 303.1h0M565 316.2h0M565.3 313.1h0M565.1 314.3h0M560.4 314.3h0M562.3 314.3h0M567.3 314.3h0M564.4 314.3h0M605.5 314.2h0M604.9 313.7h0M600.5 314.3h0M602.4 314.3h0M601.8 314.3h0M602.5 314.3h0M603.4 314.3h0M605.3 290.8h0M600.6 305.6h0M603.4 296.5h0M603.1 308h0M602 305.6h0M624.2 315.6h0M625.9 317.2h0M627.5 314.3h0M629.3 314.3h0M623.7 314.3h0M624.3 314.3h0M628.4 314.3h0M629.5 304h0M629.6 310.1h0M624.3 293h0M630.9 304.4h0M628.4 287.6h0M627.8 308.1h0M625.3 297.4h0M650.2 319.3h0M648.8 322h0M653.5 311.1h0M652.5 318.4h0M647.3 312.6h0M649.9 313.1h0M650.2 321.8h0M650.8 308.7h0M648.4 303.1h0M650.7 308.3h0M654.8 318.9h0M650.3 309.6h0M652.8 308.4h0M648.7 317.4h0M651.9 316.2h0M648.1 318.9h0M654.8 309.7h0M650.2 314h0M653.7 322.7h0M653.7 313.4h0M647.9 315.7h0M648.8 309.8h0M650.7 313.1h0M651.4 311.4h0M654.5 307.4h0M655.2 314.7h0M649.8 309.7h0M650.5 309.9h0M650.5 320.4h0M647.2 319.8h0M651.3 314.3h0M648.5 314.3h0M649.2 314.3h0M652.3 314.3h0M649.7 314.3h0M675.4 317.5h0M679.1 312.1h0M673.2 316.8h0M676.3 317.5h0M671.8 317.9h0M675.3 306h0M676.9 313.3h0M674.2 310h0M672.6 318.1h0M674 308.1h0M672.4 323.6h0M675.1 318.1h0M670.9 318.9h0M676.8 316.4h0M673.9 314.5h0M672.6 314.2h0M674.2 308.5h0M677 305.1h0M671.2 312.9h0M674.9 318.3h0M676.2 315.5h0M671.6 319.6h0M673 322.9h0M672.9 323.4h0M675.4 319.5h0M675.9 316.6h0M674.7 315.5h0M678.9 315.6h0M674.1 314.7h0M678.9 314.6h0M672.7 314.3h0M678.7 314.3h0M673 314.3h0M673.3 314.3h0M677.9 314.3h0M697 315.6h0M700.9 315.6h0M700 314.3h0M698.9 315.9h0M697.2 317.5h0M695.3 310.7h0M698.7 312.6h0M699.1 314.3h0M697.1 318h0M697 305.3h0M695.3 316.6h0M696.9 318.9h0M702.2 321.9h0M699.5 307.6h0M700.3 318.8h0M696 321.4h0M700.4 308.1h0M701.1 317.2h0M696.2 321h0M697.3 324h0M702.4 316.3h0M702.5 316.1h0M700.2 321.8h0M698.4 320.8h0M698.5 308.6h0M702.5 303.1h0M694.4 314.3h0M699.4 314.3h0M694.6 314.3h0M694.7 314.3h0M700.7 314.3h0M720.7 313h0M721.3 314.3h0M721.4 314.3h0M720.8 314.3h0M725.9 314.3h0M724.7 314.3h0M725.5 310.7h0M724.8 304.2h0M723.9 303.5h0M746 315.6h0M744.6 314.3h0M749 314.3h0M744.7 314.3h0M748.5 314.3h0M743.3 314.3h0M746.2 302.7h0M742.8 310.3h0M771.9 313.1h0M771.9 314.3h0M773 314.3h0M769.4 314.3h0M772 314.3h0M769.4 302.8h0M795.8 314.1h0M796.2 315.5h0M792.1 307.8h0M791.7 308.8h0M796.1 313.7h0M797.1 321.8h0M791.9 316h0M790.8 311h0M791.5 312.7h0M795 315h0M792.9 313.4h0M793.1 308.9h0M789.9 306.5h0M791.8 307.3h0M797.2 310.7h0M797 315.8h0M797.1 301.8h0M793.9 318.5h0M796 317.5h0M790.9 318.6h0M789.5 314.3h0M790.1 314.3h0M795.8 314.3h0M797.2 314.3h0M791.3 314.3h0M813.9 316.9h0M814.1 319.2h0M818.3 306.8h0M816.6 308.6h0M817.3 311.8h0M814.5 314.5h0M820.6 308.6h0M815.5 323.7h0M820.5 314.6h0M816.3 314.3h0M820.8 310.6h0M819.3 319.2h0M815.1 315.9h0M815.9 316.9h0M818.9 303.1h0M818.3 313.1h0M815.5 315.4h0M819.6 307.7h0M819.4 310.6h0M819.7 314.1h0M821 314.5h0M821 324.6h0M815.3 314.3h0M813.7 314.4h0M816.1 313.7h0M819.8 325.8h0M815.2 312h0M818.7 266.3h0M814.3 314.3h0M817.9 314.3h0M815.9 314.3h0M820 314.3h0M814 314.3h0" stroke="#B3B1AA" stroke-width="7.2" stroke-linecap="round" stroke-opacity="0.75" fill="none"/><path d="M103.4 295h0M97 288.7h0M96.6 234.3h0M98.2 269.5h0M96.1 288.7h0M121.8 304.7h0M127.4 291.4h0M125.6 282.2h0M127.6 305.4h0M127 305.5h0M120.7 299.1h0M121.3 305.8h0M121.1 286.8h0M124.3 270.3h0M123.3 263.3h0M128 273.8h0M122.5 292.4h0M121 299.6h0M121.6 298.5h0M127.8 299.3h0M122.6 297.2h0M123.9 301.8h0M119.7 305.9h0M126 237.5h0M127.1 197.5h0M148.2 296.1h0M151.6 280.1h0M151.3 288.1h0M143.5 293.3h0M144.3 301.3h0M147.7 305.8h0M145.8 306.3h0M145.2 296.1h0M147.5 306.2h0M145.2 276.6h0M150.1 303.8h0M150.3 301.1h0M147.5 275.2h0M144.5 275.4h0M143.7 306h0M151.2 272.8h0M148.9 306.2h0M145.6 306.3h0M146.3 303.6h0M146.4 296.1h0M146.7 306.2h0M151.1 305.9h0M151.4 302.1h0M143.2 302h0M145.2 306.2h0M146.9 302.6h0M150.3 285.6h0M149.9 299.7h0M143.5 305.9h0M145.5 273.4h0M145.2 297h0M148.9 280.5h0M149.5 299.4h0M148.2 278.7h0M150.2 303.1h0M150.4 281.9h0M151.6 304h0M145.4 297h0M145.1 290.7h0M148.8 291.5h0M145.9 304h0M146.6 305.4h0M146.7 287.5h0M146.3 292.8h0M149.5 303.8h0M146.7 281.8h0M148.7 293.3h0M144.5 295.1h0M150.1 295.6h0M147.4 274h0M150.3 290.6h0M150.3 280.6h0M144.3 299h0M143.6 253.5h0M143.5 210.3h0M148.4 263.1h0M174.2 295.6h0M169.8 285.1h0M173.9 305.6h0M166.9 275.4h0M169.8 295.9h0M172.9 303.6h0M172.8 284.4h0M174.5 299.1h0M174.6 302.5h0M171.4 297h0M168.2 301h0M173.5 297.7h0M168.5 303.1h0M169 304.7h0M175.2 304.1h0M175.3 299.4h0M167.8 290.7h0M172.8 284.3h0M170.3 292h0M170.5 286.1h0M174.2 288.2h0M167.7 291.1h0M170.5 302.8h0M168.4 277.8h0M167.2 275.6h0M167.7 295.1h0M174 290.7h0M170.2 288.9h0M169.2 306h0M169.9 288.3h0M168.7 294.8h0M173.8 284.9h0M169.9 276.1h0M171.6 301.8h0M170.1 302.4h0M169.3 287.3h0M172.5 290.7h0M174.6 282.6h0M166.9 306.3h0M168.9 304.9h0M168.3 284.3h0M173.6 279.6h0M170.6 286.5h0M171.1 304.9h0M171.5 295.8h0M172.6 293.6h0M172.3 305.8h0M169.7 277.7h0M173 306.2h0M171.4 296.6h0M174 293.9h0M171.2 302.3h0M169.4 301.2h0M174.5 287.3h0M174.8 304.1h0M172.2 291.7h0M172.6 303.6h0M173.5 306.1h0M171.7 284.5h0M172.4 298h0M173.8 305.2h0M171.9 299.3h0M172.4 305.5h0M167.9 288.9h0M173 306.2h0M173 285.1h0M170.8 287.8h0M167 306.3h0M168.3 287h0M170.6 293.1h0M172.3 290.4h0M171.7 284.6h0M169.7 282.7h0M172 237.5h0M174.5 259.9h0M191.7 303h0M197.8 302.6h0M190.6 287h0M195.1 291.4h0M193.6 301.3h0M191.4 298.3h0M198.8 288h0M195.1 302.3h0M194.9 289.8h0M198.1 284.2h0M192.1 298.8h0M196 284.1h0M190.5 293.9h0M194.8 304.6h0M195.4 284h0M191.4 305.7h0M191 290.4h0M192 302.1h0M194.4 302.1h0M194.3 285.3h0M193.2 288.9h0M194.8 285.3h0M193.2 304.3h0M193.6 304.9h0M195.1 305.6h0M193.5 289.8h0M196.2 306.2h0M197.7 303.5h0M193.5 305.1h0M194.8 285.6h0M198.2 303.7h0M198 304.4h0M193.8 291.5h0M192 305.9h0M193.6 297.4h0M191.6 304.2h0M197.2 272.7h0M191.6 243.9h0M222.3 299.5h0M214.8 302.9h0M222.5 280.7h0M264.5 289.3h0M270 300.5h0M262.6 299.8h0M264.1 292h0M266.2 285.2h0M263 305.7h0M268.9 297.2h0M261.6 302.3h0M263.2 298.2h0M269.7 284.8h0M262.6 300h0M263.3 275.3h0M350.2 292.2h0M352.5 284h0M351.1 302.8h0M348 243.9h0M355.3 295.1h0M378.8 276h0M378.1 297.4h0M379.2 294.1h0M373 281h0M376.9 277.5h0M379.1 288h0M374 281.1h0M371.2 295.6h0M373.9 296.7h0M371.8 301.6h0M372.1 282.5h0M379.3 302.1h0M374.4 278.2h0M378.2 304h0M375 275.6h0M378.5 293.3h0M371.7 288.8h0M376.5 289h0M374.2 295.3h0M374.9 293.1h0M377.3 232.7h0M400.9 269.6h0M403.2 284h0M401.6 267.2h0M398.8 275.3h0M395.8 272.4h0M394.9 301.2h0M401 294h0M396.5 306.3h0M398.7 274.7h0M400.1 298.7h0M402.5 301.5h0M398.6 302.8h0M400.9 305.7h0M396.8 279.2h0M399.9 266.5h0M401.5 295.9h0M403.1 305.2h0M396.6 264.9h0M396 300.8h0M396.3 279.5h0M402.4 274.7h0M399 272.4h0M399.4 305.9h0M401.8 306.2h0M398.4 302.6h0M401 305.2h0M401.3 299.4h0M395.3 306.3h0M398.2 293.1h0M402.6 274.1h0M400.6 189.5h0M426.5 306.3h0M426.9 291.4h0M422.3 259.9h0M424.1 297.9h0M423.6 306.3h0M420.4 304.4h0M423.4 289.9h0M422.2 286.6h0M420.7 263.1h0M418.5 305.1h0M422.9 294.7h0M420.4 304.8h0M420 262.7h0M420.5 280.5h0M424.7 305.6h0M422.4 306.3h0M425.1 262.9h0M426.6 295.2h0M424.9 282.2h0M419.5 306.1h0M423.3 264.1h0M418.5 291.9h0M425.5 276h0M424.9 302.9h0M425.9 270.5h0M420.7 278.5h0M420.3 306.3h0M426.4 304.9h0M421.9 298.8h0M419.1 303.8h0M425.2 218.3h0M446 305h0M449.7 297.8h0M446.9 292.1h0M445.6 300.8h0M450.2 302.8h0M445.7 298.7h0M448.8 293.5h0M449.6 304.8h0M443.7 290.6h0M446.3 299.6h0M448.8 299.3h0M445.1 292.3h0M449.7 291.5h0M447.4 305.5h0M445.6 304.1h0M442 258.3h0M473.2 304.7h0M518.6 269.5h0M520.9 267.9h0M603.1 279.1h0M601 282.3h0M627.9 285.5h0M629.4 267.9h0M625.5 275.9h0M648.2 296.7h0M651.9 292.3h0M650.1 293.1h0M652.3 305.7h0M654.3 303.8h0M650.8 289h0M654.7 304.7h0M652.4 306h0M654.8 288.1h0M655 303.6h0M651.7 287.9h0M653.8 300.2h0M654.1 293.3h0M655.2 304.5h0M653.4 293.1h0M652.7 293.7h0M651.4 300h0M647.8 291.4h0M648.9 297.6h0M651.7 290.8h0M654.4 303.4h0M655.2 295.3h0M648.9 305.3h0M648.6 297.7h0M647.1 290.7h0M651.6 297.8h0M651.9 304.3h0M651.1 245.5h0M672.5 301.1h0M677.9 305.1h0M670.8 303.4h0M670.7 303.6h0M676.8 306h0M673.9 294.1h0M676.8 306.3h0M675.3 305.7h0M677.4 301h0M673.5 301.1h0M678.7 299h0M674.6 302.8h0M672.8 297.2h0M673.5 302.2h0M672.1 300.2h0M674.8 306.3h0M675.7 297.7h0M675 299.9h0M670.8 304.1h0M679 299.1h0M672.9 303.5h0M674.1 302.2h0M675.8 305.9h0M676.4 295.9h0M675.6 304.9h0M675.3 304.1h0M670.9 293.7h0M674.8 300.3h0M673.4 306.3h0M677.5 299.9h0M675.9 301.7h0M672.8 294.5h0M675.5 305.5h0M678.7 302.2h0M671.2 294.9h0M675.6 299.1h0M677.7 297h0M678.1 306.3h0M677.8 300.1h0M676.5 304.3h0M675.3 304.9h0M676.4 299.1h0M673.1 306h0M672 271.1h0M699.3 297.1h0M694.8 301.9h0M694.7 295.6h0M701.2 300.3h0M698.3 304.5h0M702.8 300.3h0M697.9 305.7h0M700.6 296.4h0M699.4 299.4h0M702.7 293.9h0M699.9 295.3h0M699.9 297.5h0M698 305.6h0M698 302.4h0M697.7 295.9h0M701.8 306.3h0M702 306.1h0M698.3 294.1h0M695.3 292.5h0M694.8 305.5h0M702 301h0M696.4 301.9h0M699.2 303.1h0M700.5 274.3h0M719.3 298.3h0M769.1 304.7h0M793.7 304h0M793.8 302.7h0M794 304h0M791.1 305.9h0M795.4 306.3h0M794 305.3h0" stroke="#F83028" stroke-width="7.2" stroke-linecap="round" stroke-opacity="0.72" fill="none"/><path d="M97.2 280.4h0M104.4 270.5h0M96.8 227.9h0M103 272.7h0M104.1 291.9h0M126.2 306h0M121.8 263.3h0M120 305.1h0M126.4 277.7h0M122.5 289.6h0M121.6 285.1h0M122.2 297.1h0M119.7 295.4h0M123.6 302.2h0M126.7 287.1h0M126.7 295.6h0M120.7 305.7h0M126.8 305.2h0M123.5 298h0M124.3 249.7h0M122.8 306.3h0M121.8 306.3h0M121.6 297.5h0M125.2 221.5h0M143.5 306.2h0M146.6 306.3h0M144.1 302.7h0M148.8 286.4h0M145.2 283.6h0M148.7 302.6h0M146.5 292.1h0M151.4 296.6h0M151.5 302.7h0M146.8 288.4h0M146.1 306.1h0M147.5 285.6h0M145.1 303.1h0M145.1 304h0M145 298.7h0M150.9 298.8h0M144.8 300.6h0M146.4 299.2h0M151.4 300h0M150.3 281.8h0M144.9 276.9h0M149.8 282.2h0M149.6 302.5h0M145.5 290.8h0M151.1 284.8h0M151.4 296.1h0M151.2 295.4h0M148.4 284.1h0M144.9 305.7h0M146 293.3h0M144 305.7h0M148.5 298h0M150.4 305.2h0M145.3 303.8h0M146.6 300.7h0M151.7 289.3h0M143.5 277.2h0M151.2 292.1h0M151.3 283.8h0M144.4 299.5h0M143.3 303.7h0M150 303.7h0M148.7 293.4h0M145.8 301.8h0M150.6 298h0M143.3 303.7h0M147.2 278.8h0M144 277.4h0M147.7 301.8h0M144.9 274.5h0M151.2 306h0M150 304.5h0M145.1 304.1h0M149.4 302.7h0M148 250.3h0M150.4 181.5h0M170 287.6h0M167.1 291.5h0M171.5 288h0M166.9 304.4h0M171.1 296.1h0M169.1 282.5h0M167.8 295.8h0M172.3 284.5h0M174.5 305.7h0M170.1 295.7h0M173.3 285.9h0M172.5 281.9h0M167.9 292.9h0M172.9 301.6h0M171.3 301h0M167.7 287h0M173.2 284.1h0M170.2 303.7h0M172.3 295.7h0M174.7 286.5h0M173.1 303.3h0M172.4 289.1h0M173.6 298.3h0M172.2 297.2h0M173.5 290.1h0M168.2 294.2h0M171.5 293.1h0M170.4 295h0M167.9 285.6h0M167 298.9h0M168.8 302.5h0M170.2 283.8h0M170.9 290.9h0M173.9 290.7h0M174 305.1h0M170.5 302.7h0M169.4 302.9h0M174.8 300h0M168.1 284.6h0M172.5 276.7h0M169.8 285h0M172.1 279.7h0M168.5 282.1h0M171.6 280.1h0M170.9 306h0M166.9 281h0M170.1 282.1h0M167.1 290.8h0M171.2 275.2h0M169.8 291.2h0M168.7 285.2h0M174 301.8h0M172.5 275.6h0M172.3 292.7h0M167.3 294.2h0M172.5 291.8h0M172.8 291.1h0M173.4 297.1h0M172.5 278.6h0M169.4 302.6h0M167.3 277.6h0M174.8 293.1h0M175.3 277.4h0M168.2 303.6h0M167.6 276h0M173.2 303h0M173.1 281.4h0M169 277.7h0M173.9 290.2h0M171 281.1h0M168.1 289.2h0M170.2 298.4h0M167.4 301.8h0M175.3 291.9h0M169.5 229.5h0M194.8 289h0M195.5 297h0M198.7 289.4h0M195.4 306.1h0M195 284h0M193.5 296.5h0M193.9 301.6h0M194.3 299.2h0M192 290.1h0M198.2 305.6h0M191.8 300.7h0M195.9 304.8h0M194 306.2h0M197.7 303h0M192.8 297.6h0M191.5 300.9h0M195 305h0M197.1 306.3h0M191.4 303.6h0M191 301.4h0M192.6 295.9h0M197.5 287.4h0M192.6 285.7h0M194.7 288.2h0M198.9 304.8h0M194 301.4h0M192.1 303.9h0M191.8 302.3h0M194.3 305.5h0M193.7 293h0M194.4 304.2h0M193.7 296.7h0M194.9 305.5h0M195.4 294.8h0M193.3 289h0M193.1 298.9h0M192.9 293.2h0M198.1 264.7h0M192.9 220.9h0M218.4 303.7h0M215.6 301.9h0M242.7 288.7h0M264.9 292.7h0M264.6 295.4h0M268.9 306.3h0M262 304.3h0M264.4 274.6h0M269.9 291.6h0M265.6 305.8h0M263.8 304.3h0M268.9 290.6h0M262.1 290.7h0M266.1 303.9h0M267.9 300.4h0M354.2 299.7h0M355.4 295.4h0M347.8 289.8h0M352.5 223.1h0M377.5 288.5h0M378.2 285.3h0M378.5 283.5h0M379.4 305.2h0M375 303.8h0M374.4 286.9h0M374.5 281.6h0M378.2 291.7h0M378 305.3h0M374.1 303.5h0M377.1 302.1h0M371.4 288h0M373 299.7h0M379.3 295.2h0M375.6 304.5h0M373.2 282.3h0M374.3 294.7h0M374.9 290.5h0M375.5 299.3h0M371.5 274h0M377.5 263.1h0M377.5 199.1h0M397 284.1h0M395.1 299.3h0M395.6 293.1h0M402.5 260.6h0M399.5 305h0M400.8 266.5h0M401.7 296.3h0M398 286.6h0M402.3 306h0M398.9 268.1h0M395.6 296.3h0M400.2 286.6h0M398.7 305.9h0M400.7 283h0M396.8 305.7h0M400.2 272.3h0M395 273.7h0M402.7 281.7h0M401.2 306.2h0M396.1 273.4h0M394.7 266h0M399.8 284.7h0M398.1 299.9h0M398.6 273.1h0M403.1 304.9h0M402 270.5h0M399.9 304.1h0M400.7 304.9h0M400.3 285.2h0M400.9 271.4h0M402 185.7h0M422.5 301.8h0M420.2 284.6h0M426.6 302h0M421.6 306.2h0M422.3 301h0M426.6 304.7h0M418.8 268h0M426 295.2h0M421.9 264.1h0M420.8 299.9h0M425.3 270.6h0M423.4 282.5h0M426.1 305.5h0M421.5 301.7h0M422.4 284.5h0M424.4 281.4h0M422.1 301.8h0M420.3 267.1h0M420.3 304.6h0M422 295.3h0M424.4 297.4h0M419.7 281.5h0M423.8 283.5h0M420.5 299.5h0M420.1 286.4h0M418.4 305.6h0M424.5 300.8h0M419.6 262.1h0M420.6 292h0M424.3 284.5h0M424.6 203.9h0M448.9 302.2h0M449.7 301h0M447.1 305.8h0M447.7 291.9h0M443.1 296.4h0M445.7 296h0M443.9 302.9h0M445.7 288.9h0M444.8 303.7h0M443.2 297.1h0M449.8 305.1h0M443.8 290.8h0M446.4 290h0M445.6 293.9h0M446 300.2h0M444.9 231.1h0M472.1 303.1h0M515.3 275.9h0M605.5 290.3h0M605.6 277.5h0M629.1 298.3h0M625.7 282.3h0M630.1 266.3h0M631.3 290.3h0M652.8 303.1h0M650.8 304.4h0M655.3 300.5h0M655 306.2h0M654.1 305h0M652.9 290.9h0M647.2 302.6h0M648.4 305.6h0M655.5 289.7h0M653.3 291.4h0M654.4 296.8h0M648.7 300.4h0M653 304.1h0M651.4 302.1h0M650.1 289.5h0M651.5 301.4h0M648.7 292.1h0M652.5 303.6h0M647 300.8h0M652.4 297.1h0M652.8 292.1h0M647.9 304.9h0M650.3 289.8h0M651.6 300h0M648.7 287.8h0M653.7 304.5h0M652.6 274.3h0M676.4 296.5h0M671.5 304.1h0M678 304.1h0M673.9 302.9h0M672.6 294.3h0M675 300.9h0M678.3 293.7h0M676.6 297.2h0M674.1 304.8h0M675.8 300.2h0M673.8 294.9h0M676.3 299.9h0M673.4 298.1h0M678.3 299.3h0M679.2 294.5h0M672.2 294.1h0M678.9 303.2h0M673.3 305h0M675.9 304.2h0M671.1 306h0M675.7 296.7h0M671.2 300.3h0M676.9 306h0M679.1 296h0M678.6 304.7h0M673.2 303.6h0M675.5 294.9h0M675.4 302.6h0M675.2 300.1h0M671.2 295.9h0M673.9 305h0M675.7 304.2h0M674 301.9h0M678.7 297.8h0M677.9 305.6h0M672 304.1h0M677.5 305.9h0M678.7 305.2h0M671.5 296.9h0M673.5 293.8h0M677.9 299.3h0M678 305.8h0M677.3 305.9h0M674.7 297.8h0M671.6 266.3h0M697.9 305.6h0M695.2 288.8h0M698.5 296.5h0M701.8 305.6h0M699.2 297.5h0M694.4 304.8h0M702.2 306.2h0M696.9 295h0M695.7 294.6h0M696.1 305.7h0M698.7 294.5h0M698.5 298.8h0M698 301.9h0M702.7 302.7h0M699.4 301.4h0M696.8 290.4h0M696.4 293.1h0M696.3 302.4h0M702.8 298.7h0M694.9 295.6h0M699.6 290.6h0M700.6 290.7h0M698.1 303.4h0M721.1 303.1h0M747.4 304.7h0M795.2 297h0M790.6 298.9h0M796.8 305.9h0M788.9 303.8h0M796.3 299.5h0M792 302.1h0M814.8 298.3h0" stroke="#F83028" stroke-width="7.2" stroke-linecap="round" stroke-opacity="0.72" fill="none"/><path d="M98.9 291.6h0M100.1 285.7h0M98.8 243.9h0M97.3 290.3h0M127.9 265.8h0M120.7 299h0M127.5 303.5h0M123.2 273.7h0M126.9 305.2h0M127.5 283.4h0M120.9 304.6h0M122 268.2h0M119.7 299.8h0M120.5 253.2h0M123.9 293h0M125 272.3h0M125.9 305.4h0M125.3 258.9h0M123.4 303.2h0M127.9 300.1h0M123.9 288.3h0M123 305h0M124.1 281.2h0M125.7 215.1h0M150.9 286.9h0M150.3 276.5h0M147.7 304.6h0M147.1 284.4h0M148.8 276.9h0M144.2 287.4h0M148.4 303.2h0M150.8 289.7h0M145.8 287.1h0M148.9 302.5h0M149.1 297.9h0M151.5 303.6h0M145.7 284.6h0M148.9 298h0M144.4 274.1h0M149.5 278.7h0M149.6 276.1h0M144.7 300.6h0M151.5 305.1h0M143.6 297.5h0M150.9 299.6h0M143.5 306.1h0M146.1 278h0M145.9 286.6h0M151.3 290.1h0M146.5 275.1h0M150.1 304.1h0M145.9 300.7h0M145.3 285h0M150.8 273.8h0M149.3 295.3h0M149.6 288.4h0M148.1 301.6h0M144.5 302.8h0M147.6 273.1h0M147.3 305.4h0M144.2 301.6h0M150.6 299.4h0M148.3 305.4h0M145.4 303.7h0M149 300.7h0M143.7 293.5h0M144.6 305.6h0M145.9 275.2h0M146.3 272.9h0M146.8 277.8h0M143.3 304.5h0M146.4 290.6h0M144.1 276.6h0M151.3 305.1h0M151 298.9h0M146.7 303.3h0M147.7 298.6h0M150.9 263.1h0M149.7 237.5h0M144.2 258.3h0M175.1 301.1h0M170.6 298.5h0M174.3 303.5h0M173.4 303.8h0M168.4 284.1h0M169.3 277.1h0M167.5 290.8h0M170.3 300.2h0M168.6 306.2h0M168.9 280h0M169.8 290.4h0M168.3 286.4h0M174.5 297h0M168.2 281.9h0M169.7 304.6h0M167.7 276.2h0M168.5 297.9h0M170.3 306.2h0M168.1 297h0M171.8 298h0M173.5 280.2h0M169.5 297.3h0M172.3 287.7h0M172.7 298.6h0M171.1 299.2h0M174.9 284.7h0M171.3 287.5h0M168.7 276.9h0M169.9 275.1h0M170.5 298.4h0M174.9 286.5h0M168 303.6h0M168.8 293.6h0M170.9 283.2h0M174.2 300.2h0M166.9 304.1h0M170.5 296.4h0M167.3 281.4h0M172.3 282.5h0M167.7 302.8h0M174.6 304.7h0M172.6 284.7h0M171.4 288.5h0M168.9 302.5h0M171.1 304.9h0M170.9 282.1h0M175.1 298.3h0M172.7 291.8h0M174.6 296.3h0M170 281.1h0M170.5 297.8h0M171.2 298.8h0M169.7 284.3h0M167.2 284.6h0M166.9 301.6h0M174.7 284.4h0M172.7 292.3h0M168.4 305.5h0M173.9 299.8h0M169.6 298.3h0M167.2 293.4h0M167 297.5h0M170.4 296.6h0M166.9 306.3h0M168 280.7h0M167.3 304.1h0M172.3 305.7h0M173 276.1h0M169.5 305.7h0M170 305.9h0M170 284h0M175 284.5h0M172.9 275.6h0M174 263.1h0M170.5 184.7h0M192.1 300.2h0M198.4 305.8h0M194.2 304.5h0M198.4 299h0M196.4 298.5h0M196.3 285.7h0M195.4 297.4h0M199.1 295.8h0M198.9 302.7h0M197.6 293.9h0M194.9 303.2h0M193.5 296.3h0M193.1 291h0M196.2 296.8h0M195.1 295.1h0M197 305.1h0M195.8 289.9h0M196.7 302.6h0M195.5 287.2h0M195.5 287.7h0M198.5 306.1h0M195.7 303h0M196.7 301.3h0M192.6 290.9h0M195.3 303.2h0M191.6 306h0M192.5 303.3h0M191.3 293.5h0M197.4 289.5h0M192.3 285.4h0M196.6 305.4h0M195.7 303.9h0M192.8 297.9h0M193.9 302.8h0M191.4 294.7h0M193.2 306h0M198.3 301.1h0M197.9 261.5h0M220.2 300.5h0M216.7 305.9h0M218 283.9h0M241.2 267.9h0M264.4 305.9h0M263.5 302.6h0M265.3 296.4h0M264.1 301.1h0M266.5 275.4h0M268.1 299.5h0M263.8 276.6h0M263.3 286.2h0M263.1 288.7h0M269 281.2h0M267 277.8h0M267 282.3h0M353.5 299.3h0M355 295.7h0M354.8 251.9h0M348.9 301.5h0M378.2 304.9h0M376.1 282.7h0M379.3 301.4h0M373.2 283.4h0M375.3 303h0M377.9 283.5h0M376.7 305.6h0M371.1 283.1h0M376.3 298h0M376.4 280.7h0M376.7 297.2h0M372.6 281.7h0M376.3 278.4h0M379.6 295h0M372.6 306.3h0M371.9 300h0M378.7 276.5h0M374.2 274.9h0M378.9 288.3h0M376.9 281.1h0M378.7 243.9h0M394.8 302.6h0M396.1 297.4h0M397.8 303.4h0M396 305h0M398.8 274.2h0M396.5 290.6h0M403.1 263.9h0M395.9 271.1h0M401.8 306.3h0M395.3 289.3h0M396.5 283.6h0M395.8 286.3h0M398.5 279.7h0M400.5 295.6h0M395.9 292.4h0M396.7 260.9h0M395 277.5h0M396.8 305.9h0M402.6 283.7h0M403.1 305.1h0M395.6 290.4h0M399.5 270.4h0M395.4 273.9h0M401.1 306.3h0M400.3 304.7h0M397.7 288.7h0M397.9 305.1h0M401.3 261.5h0M399.2 285.9h0M401 265.9h0M395 226.3h0M424.2 295.5h0M426.5 290.4h0M420.1 271.6h0M421.9 298.7h0M425.5 303.8h0M424.5 287.9h0M419.5 304.1h0M419.8 301.7h0M425.7 282.3h0M426.2 305.9h0M425.8 262.3h0M422.8 282.8h0M426.1 273.8h0M419.9 287.4h0M424.2 289.8h0M425.2 281.7h0M419.9 283.2h0M420.1 263h0M421.4 277.9h0M420.6 302.3h0M423.4 305.5h0M419.9 294h0M426.6 296.9h0M426.7 279.8h0M423.5 272.4h0M422.9 306.2h0M424.3 303.5h0M418.5 260.8h0M422.8 298.2h0M419.1 305.9h0M420.6 240.7h0M448.4 306.1h0M444.7 290h0M444.7 295.6h0M446.5 293.3h0M445.1 304.9h0M442.3 291h0M446.5 305.9h0M448.9 295.3h0M448.1 302.5h0M443.6 295.6h0M450.6 289.9h0M448.5 299.5h0M446.3 306.3h0M446.8 290.6h0M444.2 298.5h0M442.8 275.9h0M448.2 272.7h0M470.8 291.9h0M516.1 256.7h0M601.6 287.1h0M603.4 272.7h0M624.9 295.1h0M630 272.7h0M627.8 229.5h0M651.2 305.5h0M652.3 298.4h0M651.9 290.9h0M652.6 291.1h0M653.3 286.4h0M647.1 299h0M654.4 298.7h0M647.6 302.7h0M649.4 303.4h0M653.8 300.7h0M647.8 304.4h0M653 305.4h0M649.4 286.9h0M648.9 301.6h0M647.2 299.4h0M650 304.6h0M654.9 305.3h0M650 293.9h0M650.2 299.8h0M649.2 291.8h0M653.7 305.5h0M650.8 291.3h0M651.4 301.3h0M648.6 305.3h0M651.3 300.7h0M653.6 306.2h0M653.3 303.2h0M650.2 264.7h0M672 305.5h0M676.8 305.7h0M673 304.4h0M678.1 306.3h0M670.9 304.9h0M673.1 304.9h0M677.9 305.8h0M677.6 301.4h0M676.7 305.4h0M677.6 295.1h0M673.5 306h0M677.3 294.8h0M676 305.9h0M671.8 305.8h0M677.5 302.8h0M674.5 306.1h0M678 303.2h0M674 302.2h0M672.4 293.6h0M677.8 303.1h0M670.8 300.9h0M673.9 301.5h0M675.8 297.3h0M671 298.1h0M678.3 296.9h0M676 298h0M675.5 295.2h0M679 298.6h0M678.8 299h0M670.9 297.5h0M676.7 305.1h0M677.4 294.4h0M677.6 304h0M673 306.3h0M675.4 303.4h0M673.3 305.8h0M671.9 302h0M672.6 297.2h0M677.3 297.9h0M678.6 296.7h0M673 301.1h0M672.7 295.7h0M673.3 297.9h0M677.7 275.9h0M702 305.5h0M694.3 290.2h0M701.5 290h0M695.5 300.7h0M696.6 301.9h0M698.7 291.7h0M697 303.3h0M701.9 300.8h0M696.1 295.7h0M701.4 303.1h0M700.5 305.8h0M702.2 299.3h0M699.2 295h0M697.4 299.3h0M694.4 305.9h0M696.4 302.8h0M697.1 301.1h0M700.3 304.3h0M701.7 294h0M698.2 296h0M700 293.8h0M699.4 305.9h0M696.3 305.7h0M695.9 293.7h0M720.9 299.9h0M747.1 263.1h0M796.1 301.2h0M789.1 298.8h0M790.5 303.7h0M795 306.1h0M790.4 298.5h0M792.6 306.3h0M747 119.1h0" stroke="#F83028" stroke-width="7.2" stroke-linecap="round" stroke-opacity="0.72" fill="none"/><path d="M122.4 329.1h0M146.8 327.5h0M143.4 330.3h0M147.1 340h0M144 330.1h0M149.5 324.3h0M151.4 329h0M144.9 341.2h0M150 325.2h0M150.9 325.2h0M145 344.9h0M174.6 335.3h0M171.9 330.4h0M174.3 342.2h0M174.7 337.9h0M173.3 325.9h0M168.6 331.4h0M173.8 324.4h0M171.3 345h0M172.9 325.6h0M167.2 325.1h0M168.2 341.4h0M175.4 324h0M170.5 341.1h0M167.2 326.8h0M174.3 333.9h0M170.3 335.1h0M175.1 336.5h0M175.4 348.1h0M174.6 345.6h0M175.3 336.6h0M169.4 337.6h0M167.9 326.8h0M167 337.6h0M174.9 326.2h0M174.8 324.5h0M171 342.6h0M171.6 338.8h0M169.2 325.2h0M174.6 328h0M168.7 337.3h0M175.4 329h0M167.3 345.4h0M169.8 342.1h0M170.6 325.6h0M173.5 325.5h0M171.1 335.5h0M171.9 342.2h0M167.3 339.1h0M167 332.2h0M174 325.6h0M171.3 323.9h0M174.3 342.4h0M174.4 324.2h0M171.5 355.9h0M168.8 355.9h0M193.5 337.2h0M193.5 343.5h0M196.6 339.5h0M193.8 327.7h0M195.4 343.2h0M190.5 328.7h0M195.7 343.8h0M198.4 326h0M197.6 340h0M196.4 346.7h0M196.5 324.1h0M190.9 340.5h0M261.9 328.4h0M266.6 332.2h0M269.9 334.1h0M262.8 324.5h0M266.1 330.4h0M267.8 328.3h0M268.1 327.8h0M262.6 347.1h0M270 328.9h0M262 324.9h0M262.7 329h0M268.1 324h0M379.2 327.8h0M374.4 327.2h0M375.7 329.3h0M374.3 335.7h0M376 328h0M400.8 328.7h0M398.5 324.3h0M403.3 337.1h0M396.7 323.9h0M402.4 335.6h0M426.3 324.8h0M424.5 326.7h0M420 329.3h0M424.1 324.2h0M423.8 324.3h0M418.6 331.5h0M423.6 331h0M444 329.9h0M443.7 332.1h0M444.3 329.5h0M442.7 326.5h0M447.5 326.7h0M443.4 324.6h0M442.7 324.7h0M445.8 326.9h0M652.5 324.2h0M654.2 324.5h0M647.7 326.4h0M653.8 328.5h0M647.9 327.7h0M653.5 324h0M655.2 324.2h0M651.1 340.6h0M651.8 335.4h0M671.4 333h0M674.2 335.5h0M676.8 333.7h0M673.2 327h0M678.1 325.8h0M674.5 336.9h0M675 324.3h0M673.9 328.4h0M677 330.9h0M674.5 325.9h0M678.9 328.3h0M679.2 327.4h0M672.5 334.6h0M676.9 334h0M675.6 327.4h0M671.2 324.3h0M673.7 327.4h0M674.3 329.3h0M675.5 337.8h0M678.3 333.6h0M671 329.2h0M677.7 336.5h0M671 325.2h0M674.5 325.8h0M676.8 328h0M675.5 327.1h0M671.5 330.9h0M678.1 327.8h0M673.2 332.1h0M679.1 334.3h0M670.7 354.3h0M697.1 344.6h0M697.2 334.8h0M699.6 327.3h0M701 326.7h0M696 325.2h0M697.8 338.3h0M702.2 329.6h0M696.6 328.7h0M698.8 330.4h0M694.3 332.3h0M701.4 325.8h0M697.3 326.8h0M695.3 335.3h0M699.3 340.3h0M694.7 327.9h0M697.4 335.2h0M702.7 339.8h0M702.8 324.3h0M702.3 329.8h0M695.8 331.5h0M698.4 331.6h0M701.4 324h0M695.4 339h0M700.2 363.9h0M770.1 411.9h0M790.8 324h0M813.1 330.3h0" stroke="#0A57B2" stroke-width="7.2" stroke-linecap="round" stroke-opacity="0.75" fill="none"/><path d="M128 359.7h0M146.9 334h0M147.4 335h0M147.3 325.4h0M147.6 330.4h0M147.6 339.9h0M150.6 324.9h0M147.4 347.2h0M143.8 345.3h0M150.2 326.9h0M147.6 326.7h0M169.3 342.1h0M174.5 342.4h0M169.2 334.4h0M167.6 328.6h0M168.9 346.8h0M173.3 326.8h0M168.9 340.8h0M171.9 331.7h0M171.7 329h0M170.1 349.4h0M169.8 335.1h0M171 344.2h0M173.4 347.3h0M168.4 325.9h0M175 331.2h0M175.1 324.8h0M170.2 337.4h0M167.2 326.2h0M167.3 343.2h0M168.1 324.2h0M173.4 334.9h0M168.3 331.8h0M168.5 338.9h0M174.5 344.3h0M172.3 343.4h0M168.1 336.1h0M174.3 325.1h0M169.7 343.3h0M175.3 324.7h0M169.3 331.7h0M174.8 349.4h0M169.4 339.3h0M166.9 325h0M168.7 346h0M168.5 338.8h0M168.6 327.1h0M167.4 325.9h0M169.7 342.2h0M170.9 345.9h0M168.3 329.1h0M171.3 330.9h0M173 328.1h0M171.1 347.6h0M167 359.1h0M168.4 352.7h0M196.2 330.1h0M192.1 336.1h0M190.8 324.1h0M193.2 324h0M192.7 338.9h0M197.2 343.1h0M192.6 324.1h0M191.2 340h0M191.3 327.3h0M197.6 339.7h0M194.9 330.5h0M214.9 341.5h0M261.8 330.2h0M265.4 326.8h0M266.7 324.2h0M268 325h0M266.2 334.9h0M267.6 326.8h0M265.3 348.6h0M265.5 323.9h0M268 326.3h0M266.2 332.4h0M267.8 325.5h0M263.5 351.1h0M372.3 340.4h0M376.6 337.1h0M379.5 331.1h0M377.2 342.2h0M402.3 328.5h0M397.3 325.8h0M400.3 341h0M397.1 335.1h0M402.6 338.4h0M399.3 336.1h0M418.8 329h0M425.2 325.1h0M425.3 331.3h0M419.5 329h0M420.6 325.2h0M420.3 331.5h0M420.1 334.7h0M446.4 325h0M448.2 328h0M450 331.1h0M448.9 324h0M444.9 333.5h0M447.3 326.2h0M444.7 324.6h0M542 325.5h0M648.3 336.3h0M647.4 341.8h0M649.2 331h0M648 337.2h0M653.7 336.5h0M655 329.3h0M650.8 331.6h0M650.5 325.3h0M678.2 326.6h0M671.4 331.4h0M670.9 327.9h0M675.2 333.7h0M677 325.8h0M674.8 330.9h0M678.1 329.7h0M672 333.3h0M678.3 334.8h0M676.3 336.6h0M678.5 328.2h0M678.6 324.5h0M677.9 323.9h0M674.7 333h0M679.1 324.2h0M678.8 335.9h0M675.7 328.9h0M672.1 327.5h0M673.4 325.5h0M671.1 325.1h0M677.4 325.3h0M676.4 324.1h0M671.2 326h0M670.9 328.5h0M672.2 325.3h0M677.6 326.6h0M679 324.9h0M672.6 326.4h0M676.8 333.6h0M673.7 332.5h0M673.9 347.9h0M678.2 363.9h0M695.3 334h0M695.4 324h0M698.7 342.8h0M696.6 325h0M696.1 324.8h0M697.7 330.7h0M702.7 326.3h0M701.9 324.8h0M695.8 325.7h0M698 336.9h0M697.1 332.5h0M701.1 339.3h0M695.7 324.1h0M696.4 329.7h0M696.5 345.7h0M696.9 342.5h0M700.2 334.9h0M699.6 324h0M695.7 326.3h0M695.3 342h0M700.6 332.6h0M697 323.9h0M701.6 327.1h0M701.1 351.1h0M790.7 328.6h0M797.4 325.2h0M815.1 330.3h0" stroke="#0A57B2" stroke-width="7.2" stroke-linecap="round" stroke-opacity="0.75" fill="none"/><path d="M148.6 333.1h0M147 336.2h0M149.8 326.3h0M144.3 324.6h0M148.7 324h0M147.5 324.1h0M149.5 347.8h0M151.1 346.3h0M149.7 328.4h0M147.5 325h0M172.7 329.3h0M169.1 323.9h0M174 324.1h0M173.8 343.7h0M173.7 333.8h0M172.7 335.4h0M170.8 341.5h0M174.6 334.6h0M168.5 325.7h0M171.3 329.9h0M172.3 324.6h0M167 332.9h0M169.1 334.2h0M175.1 342.5h0M167.3 324.4h0M167.4 345.9h0M171.7 326.8h0M168.2 331h0M169.9 326.8h0M173 341.3h0M174.9 340.2h0M169.6 324.6h0M168.1 326.5h0M174.8 324h0M170.7 325h0M169.8 331.1h0M167.3 326.2h0M170.4 327h0M171.1 325.4h0M174.5 324.2h0M168.6 326.8h0M169.3 324.5h0M167 348.6h0M171.4 343h0M168 334.4h0M167.6 324.3h0M172.9 335.6h0M170.4 339.5h0M174.3 343.3h0M169.1 344.5h0M172 329.1h0M173 324.8h0M173.3 329.4h0M171.4 332.7h0M175.2 360.7h0M196.3 324h0M192.6 338.3h0M198.3 324.7h0M192.2 325.3h0M192 336.4h0M196.4 330.7h0M190.9 327.4h0M197.3 324.7h0M193.9 338.2h0M194.1 347.3h0M194.4 336.1h0M191.6 346.6h0M267.3 329.9h0M264.3 336h0M269.4 323.9h0M264.3 339.2h0M268.5 324.4h0M266.6 337h0M268.1 340.5h0M266 327.2h0M268.1 336.9h0M261.7 324.4h0M269.5 325.6h0M262.8 346.4h0M373.8 327.2h0M376 333.9h0M377.6 329.2h0M378 335.1h0M373.4 336h0M402.8 325h0M397.5 327.2h0M401.3 339.6h0M398.2 325.8h0M401.3 326.9h0M422.6 326.2h0M424.3 324.5h0M419.2 332.9h0M420.3 332.7h0M423.4 324.8h0M422.9 327.1h0M423.9 325.7h0M424 325.9h0M447.2 324.5h0M448.1 329.9h0M450.1 324h0M443.2 329.1h0M444.1 330.2h0M443.4 325.3h0M443.6 327.1h0M627.7 343.1h0M653.3 332.5h0M647.7 326.3h0M651 327.2h0M647.1 325.9h0M648.8 346.1h0M649.7 328.9h0M653.6 329.9h0M650.5 342.5h0M671.3 324.7h0M676.4 325.4h0M672.7 326.5h0M671.7 332h0M673.4 325.1h0M678.6 327h0M672.9 325.5h0M679.2 327.7h0M671.7 326.9h0M675.1 326.1h0M678.6 336.2h0M678.2 331h0M673.9 334.4h0M672.3 327.4h0M673.9 325.2h0M673.8 330.8h0M679.1 327.9h0M675.7 336.9h0M674.5 328.6h0M673.6 324.7h0M675.3 327.8h0M673.9 331.8h0M676.3 329.5h0M676 332.7h0M677.7 324.8h0M676.3 330.2h0M675.2 331.5h0M670.8 334.9h0M672.6 326h0M675.6 333.2h0M679.1 351.1h0M702.4 327.7h0M699.7 329.3h0M695.8 332.8h0M699.3 326.4h0M702.1 329.9h0M697.7 327.7h0M702.1 338.8h0M700.2 331.9h0M700.3 328.3h0M700.2 327.8h0M696.5 324.2h0M696.8 326.3h0M701.9 336.5h0M698.8 326.5h0M700.8 345.6h0M695.3 341.1h0M696 324.5h0M696.6 326.9h0M695.9 328.1h0M700 334.6h0M696.4 325.3h0M698.3 342.6h0M699.5 324.9h0M695.2 336.2h0M725.1 323.9h0M794.9 324h0M816.9 327.1h0" stroke="#0A57B2" stroke-width="7.2" stroke-linecap="round" stroke-opacity="0.75" fill="none"/><text x="1309" y="93" text-anchor="middle" font-size="36">snRNA-seq - 1 h NE vs HC</text><path d="M973.9 102L973.9 425.6" stroke="#000" stroke-width="1.3"/><path d="M973.9 425L1719.8 425" stroke="#000" stroke-width="1.3"/><path d="M968.3 160.7L973.9 160.7" stroke="#000" stroke-width="1.3"/><text x="960.3" y="167" text-anchor="end" font-size="26">2</text><path d="M968.3 230.7L973.9 230.7" stroke="#000" stroke-width="1.3"/><text x="960.3" y="237" text-anchor="end" font-size="26">0</text><path d="M968.3 300.7L973.9 300.7" stroke="#000" stroke-width="1.3"/><text x="960.3" y="307" text-anchor="end" font-size="26">−2</text><path d="M968.3 370.7L973.9 370.7" stroke="#000" stroke-width="1.3"/><text x="960.3" y="377" text-anchor="end" font-size="26">−4</text><text transform="translate(907.6 246.4) rotate(-90)" text-anchor="middle" font-size="32.5">log<tspan font-size="19" dy="11">2</tspan><tspan dy="-11">(FC)</tspan></text><path d="M1005.6 425L1005.6 429.8" stroke="#000" stroke-width="1.3"/><text transform="translate(1012.1 434.5) rotate(-90)" text-anchor="end" font-size="25.6">Astrocytes</text><path d="M1058 425L1058 429.8" stroke="#000" stroke-width="1.3"/><text transform="translate(1064.5 434.5) rotate(-90)" text-anchor="end" font-size="25.6">CA1</text><path d="M1110.5 425L1110.5 429.8" stroke="#000" stroke-width="1.3"/><text transform="translate(1117 434.5) rotate(-90)" text-anchor="end" font-size="25.6">CA3</text><path d="M1163 425L1163 429.8" stroke="#000" stroke-width="1.3"/><text transform="translate(1169.5 434.5) rotate(-90)" text-anchor="end" font-size="25.6">CGEGaba</text><path d="M1215.4 425L1215.4 429.8" stroke="#000" stroke-width="1.3"/><text transform="translate(1221.9 434.5) rotate(-90)" text-anchor="end" font-size="25.6">CRGlut</text><path d="M1267.8 425L1267.8 429.8" stroke="#000" stroke-width="1.3"/><text transform="translate(1274.3 434.5) rotate(-90)" text-anchor="end" font-size="25.6">DG</text><path d="M1320.3 425L1320.3 429.8" stroke="#000" stroke-width="1.3"/><text transform="translate(1326.8 434.5) rotate(-90)" text-anchor="end" font-size="25.6">ENTGlut</text><path d="M1372.8 425L1372.8 429.8" stroke="#000" stroke-width="1.3"/><text transform="translate(1379.2 434.5) rotate(-90)" text-anchor="end" font-size="25.6">IMN</text><path d="M1425.2 425L1425.2 429.8" stroke="#000" stroke-width="1.3"/><text transform="translate(1431.7 434.5) rotate(-90)" text-anchor="end" font-size="25.6">MGEGaba</text><path d="M1477.7 425L1477.7 429.8" stroke="#000" stroke-width="1.3"/><text transform="translate(1484.2 434.5) rotate(-90)" text-anchor="end" font-size="25.6">Microglia</text><path d="M1530.1 425L1530.1 429.8" stroke="#000" stroke-width="1.3"/><text transform="translate(1536.6 434.5) rotate(-90)" text-anchor="end" font-size="25.6">Oligo</text><path d="M1582.6 425L1582.6 429.8" stroke="#000" stroke-width="1.3"/><text transform="translate(1589.1 434.5) rotate(-90)" text-anchor="end" font-size="25.6">OtherNonN</text><path d="M1635 425L1635 429.8" stroke="#000" stroke-width="1.3"/><text transform="translate(1641.5 434.5) rotate(-90)" text-anchor="end" font-size="25.6">PPPGlut</text><path d="M1687.5 425L1687.5 429.8" stroke="#000" stroke-width="1.3"/><text transform="translate(1694 434.5) rotate(-90)" text-anchor="end" font-size="25.6">SUBGlut</text><rect x="990.1" y="167.7" width="31" height="133" rx="6" fill="#B9B7B0"/><rect x="1042.5" y="167.7" width="31" height="136.5" rx="6" fill="#B9B7B0"/><rect x="1095" y="167.7" width="31" height="136.5" rx="6" fill="#B9B7B0"/><rect x="1147.5" y="171.2" width="31" height="133" rx="6" fill="#B9B7B0"/><rect x="1199.9" y="167.7" width="31" height="129.5" rx="6" fill="#B9B7B0"/><rect x="1252.3" y="178.2" width="31" height="133" rx="6" fill="#B9B7B0"/><rect x="1304.8" y="164.2" width="31" height="133" rx="6" fill="#B9B7B0"/><rect x="1357.2" y="164.2" width="31" height="133" rx="6" fill="#B9B7B0"/><rect x="1409.7" y="167.7" width="31" height="133" rx="6" fill="#B9B7B0"/><rect x="1462.2" y="174.7" width="31" height="122.5" rx="6" fill="#B9B7B0"/><rect x="1514.6" y="167.7" width="31" height="133" rx="6" fill="#B9B7B0"/><rect x="1567.1" y="160.7" width="31" height="133" rx="6" fill="#B9B7B0"/><rect x="1619.5" y="167.7" width="31" height="136.5" rx="6" fill="#B9B7B0"/><rect x="1672" y="171.2" width="31" height="129.5" rx="6" fill="#B9B7B0"/><path d="M1012.3 166.8h0M1008.5 164.4h0M1009 153.5h0M1000 166h0M1013.4 163.2h0M1007.6 165.3h0M1007.1 166.9h0M1001.8 155.2h0M1014.6 163.4h0M1011.7 159.8h0M1009.5 159.9h0M1008.7 150.9h0M1000.5 161.7h0M1005.4 156.5h0M1013.2 156.2h0M1009.1 164.6h0M1002.9 161.6h0M1002.2 160h0M998.2 167.1h0M1006.2 160.6h0M1007 167.6h0M1002 163.2h0M998.4 154.7h0M1003.6 162.9h0M1007 161.7h0M1011.2 158.8h0M1006 151.2h0M1003.7 155.8h0M1003.9 152h0M1000.7 165.2h0M999.1 166.6h0M1011.1 162.1h0M1014.3 166.6h0M1012.9 161.1h0M1005.5 166.2h0M1006.6 309.5h0M1005 304.7h0M1008.4 310.1h0M1011.7 309.3h0M1001.1 309.5h0M1007.1 305.1h0M1010.4 301.5h0M1011.7 309h0M1003.1 301h0M1011.7 307.8h0M1010.3 310.8h0M1005.9 304.5h0M1015.7 302.7h0M1011.2 301.2h0M1013.7 302.2h0M996.1 301.1h0M1009.9 303.4h0M998.4 305.4h0M1012.3 303.2h0M995.6 301.3h0M1011.2 310.8h0M1009.4 308.5h0M999.1 306.1h0M1007.7 306.2h0M1016.5 300.7h0M1000.4 309.4h0M1007.5 305.7h0M1010.2 306.3h0M1008.9 302.2h0M1011.9 302.4h0M1006.6 310.7h0M1003.8 309.3h0M1007.2 311h0M1005.1 303.1h0M1002.2 305h0M994.9 238.6h0M1016.2 271h0M1016.2 180.7h0M1016.4 183.2h0M993.9 252.2h0M994.8 232.1h0M1016.8 227h0M1016.6 293.6h0M1016.5 298.1h0M1017.1 296.6h0M994.1 240.6h0M995.1 288.8h0M1016.5 173h0M1017.8 292.2h0M993.4 256.6h0M993.6 198.5h0M994.8 235.3h0M1017.4 257.3h0M995.2 259.9h0M1016.8 291.8h0M996.3 143.2h0M1017.1 129.2h0M1017.1 139.7h0M1063.1 157.2h0M1062.5 158.8h0M1055 164.2h0M1063.2 154.8h0M1066.9 166.8h0M1052.4 164.4h0M1066 160.2h0M1055.3 162.3h0M1054 158h0M1057.5 156.6h0M1051.8 158h0M1061.6 156.1h0M1057.7 156.4h0M1055.8 167.2h0M1068.1 164.6h0M1052.2 156.1h0M1067.3 163.8h0M1064.9 163h0M1053.3 164.9h0M1061 160.8h0M1056.6 165h0M1060.2 156.8h0M1053.3 156.7h0M1067.6 166.4h0M1058.3 163.8h0M1050.3 165.8h0M1055.5 161.4h0M1060.5 154.1h0M1056 161.2h0M1068.1 167.5h0M1064.5 157.9h0M1051.5 161.4h0M1056 161.9h0M1053.4 154.3h0M1056.1 166.2h0M1054.7 317.9h0M1064.6 305.1h0M1057 304.4h0M1056.4 304.7h0M1055.1 304.4h0M1053.4 310.7h0M1050.2 305.1h0M1060.3 309.7h0M1056.6 307h0M1068.3 306.1h0M1051.4 310.3h0M1055.2 304.8h0M1051.2 314.5h0M1056.2 305h0M1062.4 313.2h0M1057.7 304.8h0M1062.6 310.3h0M1057.4 307.9h0M1052.6 309.4h0M1056.2 306.4h0M1055.7 304.3h0M1064.7 309.5h0M1054.8 306.1h0M1067.5 305.6h0M1052.9 316.9h0M1055.8 316.7h0M1058.7 318.2h0M1050.1 312.4h0M1059 309.1h0M1058.5 314.3h0M1052.7 313.7h0M1061.2 317.8h0M1058.7 304.3h0M1049.1 306.7h0M1063.6 309.6h0M1047.5 227.7h0M1046.3 201.5h0M1069.2 239.9h0M1046.6 179h0M1047.2 287.4h0M1068.3 226h0M1069.5 271.7h0M1047.7 263.2h0M1069.3 259.3h0M1069.3 283h0M1046.2 254.6h0M1046.3 204.5h0M1068.2 264.7h0M1070.3 207.1h0M1046.9 194.7h0M1069.6 203.9h0M1045.9 236.6h0M1045.8 226h0M1047.3 240.4h0M1070.2 195.2h0M1068 139.7h0M1056.9 127.4h0M1059.1 321.7h0M1110.7 163.7h0M1118.2 167.1h0M1102 164h0M1106 160.4h0M1110.9 165.3h0M1117.3 159.2h0M1114.3 166.9h0M1100.4 167.5h0M1112.2 162.8h0M1115.2 164.8h0M1109.7 166.6h0M1112.8 165h0M1109.9 161.2h0M1112.7 167.2h0M1109.2 160.9h0M1111.5 161.1h0M1114.5 166h0M1108.1 158.5h0M1115.1 157.6h0M1112.1 163.9h0M1106.8 158.6h0M1105.9 166.6h0M1108.7 162.1h0M1103.9 161.3h0M1118.2 166.7h0M1113.9 164.7h0M1116.1 157.7h0M1107.2 160.3h0M1105 159.3h0M1108.9 162.4h0M1109.6 160.9h0M1099.7 167.3h0M1109.1 159.7h0M1112.4 164.2h0M1118.4 165.6h0M1108.9 308h0M1110.6 307.4h0M1110.6 312.6h0M1105.8 310.1h0M1104.2 307.5h0M1105.3 315h0M1112.9 308h0M1103.7 304.5h0M1108.8 312.7h0M1117.7 310.1h0M1117 311.8h0M1113.6 304.9h0M1104 306.7h0M1116.9 312.1h0M1107 313.5h0M1101.6 308.5h0M1117.7 308.7h0M1104.7 316.2h0M1118.9 304.5h0M1108 306.4h0M1114.2 305.4h0M1105.8 316h0M1110.3 307.5h0M1112.7 310.2h0M1117.8 308.5h0M1107.3 304.6h0M1113.2 307.8h0M1104.3 311.7h0M1111.1 306.4h0M1107.4 307.8h0M1108.6 316.4h0M1108.7 314.4h0M1106.4 309.7h0M1111.3 315.7h0M1112.9 315.4h0M1099.7 285.1h0M1098.4 235.3h0M1122.2 302.1h0M1122 182.8h0M1121.6 249.6h0M1120.5 181.7h0M1121.2 240.3h0M1121.3 200.8h0M1098 263.5h0M1100 244.8h0M1098.5 202.5h0M1120.8 217.9h0M1122 236.5h0M1100.1 215h0M1121.3 235.2h0M1122.3 222.1h0M1098.4 185.1h0M1122.6 208.9h0M1098.7 206.6h0M1121.1 287.3h0M1103.6 150.2h0M1116 332.2h0M1163 162.6h0M1170.2 163.2h0M1153.5 168.5h0M1154.2 167h0M1168 168.6h0M1158.7 164.1h0M1163.1 157.8h0M1160.3 163.6h0M1171.3 169.6h0M1162.3 169.3h0M1161.1 164h0M1167 169.4h0M1162 167.1h0M1172.1 166.9h0M1157.6 167h0M1156.4 163.4h0M1160.3 164h0M1160.7 166.9h0M1168.1 163.7h0M1161.2 158.7h0M1160.2 167.9h0M1164.1 166.4h0M1156.1 168.3h0M1162.9 165.1h0M1159.6 157.5h0M1161.1 162.5h0M1169.1 169h0M1162.2 164.5h0M1171.8 165h0M1154.8 168.7h0M1157.8 162.6h0M1171.2 170.6h0M1166.3 157.7h0M1162.2 167.1h0M1158.3 168.2h0M1164.1 308.2h0M1172.9 305.5h0M1169.7 307.5h0M1166.9 308.1h0M1167.8 314.5h0M1156.6 316.5h0M1161.9 309.9h0M1158.9 314.5h0M1154.3 310.3h0M1158.6 306.8h0M1161.3 314.8h0M1160 304.6h0M1171 304.4h0M1153.5 304.8h0M1159.4 312.3h0M1156.2 311.1h0M1159.3 316.8h0M1158.5 309.1h0M1169.5 315.4h0M1158.7 307.8h0M1168.6 304.5h0M1167.5 306.7h0M1153.6 309.1h0M1160.6 304.7h0M1159.3 317h0M1164.7 311.2h0M1167.3 313.8h0M1160.9 305.2h0M1157 314.1h0M1172.9 305.5h0M1164 311.5h0M1157.4 308.2h0M1159.6 316.8h0M1161.9 313.4h0M1167.8 305.4h0M1173 182.6h0M1152.3 197.7h0M1152.4 247.4h0M1152.7 269.9h0M1152.7 208h0M1150.5 227.5h0M1150.5 293.6h0M1174.3 232.4h0M1152.1 242.3h0M1151.7 232.2h0M1152.6 251.7h0M1151.2 214.5h0M1173.4 221.8h0M1174.1 188.9h0M1152.1 237.6h0M1174.4 237.5h0M1152.2 285.3h0M1152.6 288.2h0M1150.9 295.5h0M1173.8 216h0M1163.5 143.2h0M1170.1 332.2h0M1220.7 154.9h0M1216.8 165.6h0M1215.6 159.6h0M1224.9 167.6h0M1214.3 155.6h0M1211 154.3h0M1212.3 165.4h0M1212.9 162.1h0M1217.1 161h0M1208.4 158.2h0M1218 153.9h0M1213.8 162.5h0M1215.2 163h0M1225.6 167.4h0M1220.2 154h0M1215.3 163.3h0M1223.2 166.7h0M1226.5 167.4h0M1215.2 153.9h0M1221 167.2h0M1221.7 166.6h0M1218.2 156.1h0M1216.8 160.6h0M1218.5 155.4h0M1217.6 155.3h0M1205.2 164.8h0M1219.5 157.2h0M1221.1 166.8h0M1217.3 165h0M1217.5 164.5h0M1224 161h0M1217.3 156.9h0M1214.7 167.7h0M1215.4 159.7h0M1217.4 158h0M1221 300.4h0M1205 298.3h0M1224.8 301.2h0M1206.2 303h0M1218.6 311.4h0M1216 308.4h0M1210.5 297.6h0M1215.6 318.6h0M1221.3 309.8h0M1214.3 306.1h0M1213.7 312.6h0M1211.4 320.2h0M1209 307.7h0M1222.8 297.4h0M1212.6 316.1h0M1217.5 300.2h0M1225.6 298.8h0M1222.9 297.2h0M1223.5 303h0M1208.8 305.9h0M1223 299.5h0M1205.3 301.2h0M1207.5 304.8h0M1208.4 299h0M1224.7 300.4h0M1210.4 302.9h0M1215 317.5h0M1220.7 319.3h0M1209.6 320h0M1208.5 308.8h0M1214.5 319.1h0M1214.4 308.7h0M1204.1 297.2h0M1213.8 314.3h0M1218.4 297.2h0M1203.6 279.8h0M1227.5 258.6h0M1205 198.7h0M1227.4 243.1h0M1226.6 281.8h0M1203.7 294.5h0M1226.6 238.6h0M1204.2 205.2h0M1226.5 182.3h0M1204 278.9h0M1227.9 177.3h0M1205.1 247h0M1227.7 246.1h0M1203 273.6h0M1204.8 180.3h0M1205 241.4h0M1225.5 269.7h0M1226.7 226.9h0M1226.4 270.3h0M1227.1 231.1h0M1210.2 125.7h0M1210.1 321.7h0M1258.1 176.3h0M1274.1 177h0M1265 167h0M1269.8 167h0M1262.1 174.6h0M1274.4 177.3h0M1269.3 169.1h0M1271.8 166.5h0M1268.7 173.4h0M1262.1 172.6h0M1263.5 170.1h0M1263.9 174.8h0M1267.9 173.4h0M1262.9 174.7h0M1270.3 167.5h0M1263 176.6h0M1272.6 169.5h0M1265.2 176.5h0M1275.2 173.9h0M1266.2 170.8h0M1277.9 175.7h0M1272.4 172.4h0M1278.2 178.1h0M1276.5 172.3h0M1274.4 178h0M1273.4 170.9h0M1263 166.8h0M1275.6 175.7h0M1260.6 170h0M1264.6 169.1h0M1271.8 170.9h0M1272.4 172.8h0M1264.2 168.9h0M1262.8 172.7h0M1263 169.9h0M1275.6 320.6h0M1264.9 365.5h0M1269.4 378h0M1260.3 326.3h0M1268.9 351h0M1261.9 383.3h0M1263.2 347h0M1276.6 327.4h0M1261.4 373.2h0M1267.4 351.2h0M1261.7 329.9h0M1264.1 349.2h0M1271.2 316.8h0M1273.1 373.2h0M1276.9 329.5h0M1259.3 360.2h0M1260.6 344.2h0M1270.5 311.5h0M1260.5 328.1h0M1262.3 330.2h0M1262.2 379h0M1274.1 362.3h0M1260.7 369.6h0M1262.2 340.7h0M1274.4 324.1h0M1272.2 333.6h0M1258.7 314.3h0M1274.8 347.1h0M1266.1 319.8h0M1276.9 348.9h0M1269.8 332.5h0M1268.5 347.7h0M1261.6 321.4h0M1273.8 312.4h0M1261 316.5h0M1273.7 314h0M1273.7 334.7h0M1267.2 352.5h0M1273.5 369.6h0M1268.9 375.2h0M1260.3 353.8h0M1275 350.8h0M1267.8 326h0M1265.8 360.6h0M1272.4 343.8h0M1259.5 339.5h0M1273.4 349.6h0M1267.8 349.3h0M1265.1 335.3h0M1276 355h0M1269.6 343.2h0M1265.3 362h0M1266.5 373h0M1263.4 365.8h0M1266.1 342.6h0M1271.3 322.2h0M1275.5 314h0M1264.7 324.1h0M1267.1 334.3h0M1267.4 326.2h0M1275 366.7h0M1267.2 349.1h0M1262.7 322.4h0M1264.7 371.1h0M1271.6 365.4h0M1258.7 377.1h0M1261.6 373.6h0M1272.6 324.9h0M1269.4 362.2h0M1261.2 375.1h0M1269 320.2h0M1260.7 359h0M1269.2 385.7h0M1275.3 355.1h0M1268.3 336.8h0M1266.3 334.6h0M1275.6 324.3h0M1269.3 321.2h0M1260 315.7h0M1261.4 350.5h0M1268 316.1h0M1259.6 336.9h0M1258.9 335h0M1272.4 322h0M1262.8 382.6h0M1276.9 362.4h0M1266.7 371.5h0M1265.5 357.2h0M1259.7 383.5h0M1263.9 316.7h0M1275.2 313.6h0M1268.5 382.1h0M1263.2 315.8h0M1266.6 322.8h0M1276.1 343.1h0M1267.2 362.2h0M1263.2 386h0M1264.4 366h0M1260.2 342.6h0M1275.3 388.1h0M1275.4 331.1h0M1266 311.5h0M1266.9 340.1h0M1273.9 359.1h0M1273.4 370.5h0M1263.7 336h0M1270.1 368.7h0M1263.6 359.7h0M1274.4 311.5h0M1261.2 343.4h0M1272.7 345.7h0M1258.9 344.4h0M1269.6 336h0M1266.5 379.2h0M1275 311.7h0M1269.4 323.5h0M1269.6 327.2h0M1275 322.1h0M1261.5 364.9h0M1266.5 372.1h0M1266.5 369.8h0M1273 336.1h0M1272.5 319.4h0M1274.8 383.9h0M1275.3 350.3h0M1274.9 321.8h0M1271.7 332.7h0M1270.2 356.1h0M1262.7 386.2h0M1267.9 343.9h0M1256 219.2h0M1279.2 281h0M1256.8 262.5h0M1255.6 243.4h0M1279 252.6h0M1255.6 196.7h0M1256.1 276.2h0M1257.3 201.8h0M1279.7 222.7h0M1255.5 298.6h0M1279.2 178.3h0M1279 195.5h0M1279 258.2h0M1257.6 196h0M1255.4 183.1h0M1257.4 309.2h0M1279.5 221.1h0M1278.1 267.9h0M1280.1 271.4h0M1280.3 301.3h0M1274.8 157.2h0M1326.2 162.5h0M1310.6 161.5h0M1326.7 158.6h0M1326.8 156.7h0M1324.9 163.9h0M1315.8 151.5h0M1315.7 163.4h0M1324.3 159.8h0M1325.9 153h0M1326 160.2h0M1326.7 155h0M1323.6 155.2h0M1315.7 152.4h0M1318.5 163.6h0M1319.1 161.5h0M1325.8 160.3h0M1316 154.2h0M1319.3 158.9h0M1320.1 155h0M1317 162.6h0M1322 161.2h0M1324.8 152.7h0M1326.5 152.7h0M1318.2 163.8h0M1315.6 159.7h0M1322.6 155h0M1320.8 154.8h0M1315.2 164.1h0M1321.4 152.2h0M1324.9 163.7h0M1330.6 162.1h0M1318.6 157.8h0M1319.8 155.6h0M1318 164.2h0M1312.8 160h0M1318.3 305.6h0M1317.9 298.6h0M1312.8 302h0M1325.3 306.2h0M1313.2 303.5h0M1319.2 307.3h0M1319.4 302.5h0M1323 303.2h0M1327.3 298.7h0M1326.5 306.7h0M1326.3 299.3h0M1328.1 301.7h0M1310.7 298.2h0M1328.8 298.9h0M1318.7 301.7h0M1323.2 302.2h0M1318.4 302.8h0M1316.5 298.2h0M1325.4 298.8h0M1325.5 299.1h0M1324.6 297.9h0M1314.8 303h0M1324.4 306.3h0M1320.9 302.2h0M1323.9 302.6h0M1318.5 297.7h0M1319.7 301h0M1314.5 299.8h0M1328.5 300.7h0M1313.4 302.9h0M1311.4 298.6h0M1320 298.1h0M1314.1 298.1h0M1317.7 299.7h0M1325.7 299.6h0M1332.2 258.5h0M1331 202.4h0M1309.3 211.2h0M1309.5 226.6h0M1310 233.2h0M1310 256.8h0M1309.6 170.3h0M1309 168.6h0M1308.1 259.3h0M1331 232.3h0M1330.5 193h0M1309.7 255.8h0M1309.2 181h0M1308.6 231.1h0M1310.1 217.3h0M1330.8 280.2h0M1309.4 290.5h0M1331.2 184.4h0M1331.3 252.6h0M1331 218.3h0M1314.5 143.2h0M1361.8 164h0M1372.6 157.7h0M1369.2 159h0M1376.6 151.5h0M1371.5 158h0M1376 153.8h0M1367.9 152.6h0M1366.4 159.9h0M1371.3 160.6h0M1365.5 158.1h0M1378.5 156.3h0M1373.7 157.8h0M1366.6 152h0M1372.2 157.8h0M1368.9 157.4h0M1374.2 160.6h0M1378.7 157.7h0M1371.2 154.6h0M1370.7 157.2h0M1367.6 161.9h0M1367.8 162.6h0M1373.2 160.7h0M1373.1 154.2h0M1368.1 161.7h0M1366.7 163.7h0M1371.1 157.4h0M1366.5 160.9h0M1379 164h0M1364 157.9h0M1378 151.9h0M1368 164.1h0M1367.7 162.3h0M1373.5 163.8h0M1368.5 156.2h0M1377.2 164h0M1377 307.3h0M1381.8 300.4h0M1367.5 300.3h0M1362.6 297.2h0M1367.4 304.5h0M1367 301.7h0M1367.2 297.9h0M1369.1 299.4h0M1379.4 298.7h0M1365.7 305.1h0M1369.8 299.8h0M1374.5 302.2h0M1369.9 298.8h0M1366.5 298.1h0M1379.3 306.1h0M1366.6 298.7h0M1377.9 298.1h0M1370.1 307.2h0M1377.3 304.7h0M1382.2 300.8h0M1381.4 299.9h0M1381.6 299.8h0M1373 302.8h0M1377.3 300.7h0M1364 297.6h0M1379.3 300.2h0M1364.9 297.2h0M1371.4 305.2h0M1363.5 297.5h0M1370.9 307.3h0M1380.7 301.2h0M1380.1 299.4h0M1380.7 297.2h0M1369.9 304.2h0M1368.4 307.1h0M1383.5 208.2h0M1362.1 231.5h0M1360.3 214.5h0M1361.6 267.6h0M1384.3 168h0M1362.1 217.8h0M1384.9 290.2h0M1383.9 276h0M1361.9 245.7h0M1383.3 214.4h0M1361.5 281h0M1361.8 202.9h0M1385 191.2h0M1362.5 236.6h0M1384.3 292.5h0M1384.7 273h0M1384.1 196.3h0M1362.1 173h0M1384.8 181.2h0M1384.2 253.4h0M1365.6 146.7h0M1419.1 166.1h0M1419 163h0M1432.8 163.8h0M1419.8 160.1h0M1420.8 167.3h0M1416.2 165.2h0M1435.9 167.7h0M1430.7 164.5h0M1420 167.5h0M1419.7 160.9h0M1417.7 163.4h0M1421.4 156.5h0M1426.3 167.5h0M1428.9 160h0M1428.2 161.8h0M1429 158.1h0M1420.8 166.3h0M1418 164.6h0M1419 156.8h0M1423.7 156.6h0M1422.2 161.1h0M1428.6 167.3h0M1423.4 160.2h0M1423.6 157.4h0M1421.6 167.7h0M1436.3 166.7h0M1434.5 162.9h0M1428.4 159.7h0M1424.6 166.2h0M1415.1 166.6h0M1415.9 167.6h0M1431.3 164.2h0M1419.6 154.9h0M1416.5 164.1h0M1423.8 160.7h0M1422.1 309.1h0M1427 303.4h0M1426.1 304.7h0M1424 315.7h0M1420.3 312.9h0M1423.7 300.8h0M1433.1 305.4h0M1425.4 310.5h0M1430 311.8h0M1423 308.1h0M1426 306.7h0M1425.7 309.4h0M1431.1 302.7h0M1431.7 309.3h0M1425.8 305.4h0M1430.6 314.9h0M1423.5 317h0M1419.5 306h0M1422.8 301.4h0M1423.4 307h0M1421 312.9h0M1419.8 305.3h0M1415.5 305.9h0M1424.8 302.7h0M1429.1 301.9h0M1423.5 316.1h0M1422.9 315h0M1428.6 314.3h0M1423.3 317.9h0M1420.7 310h0M1431.7 304.9h0M1428.7 312.4h0M1430 316.4h0M1418.1 301.5h0M1423.1 317.2h0M1436 183.2h0M1414.2 263h0M1413.2 255.4h0M1437 248.4h0M1413.6 256.8h0M1435.7 204.6h0M1413.3 269.6h0M1437.6 193h0M1414.1 171.3h0M1436.4 234h0M1436 256.1h0M1414.9 297.2h0M1413.5 257.5h0M1437.6 207h0M1413.7 219.6h0M1412.8 244.1h0M1436.1 199.1h0M1436.1 190h0M1412.8 181.1h0M1413.2 278.7h0M1425.1 144.2h0M1423.9 324.5h0M1482.5 165.1h0M1482.6 174.1h0M1483.9 166.4h0M1470.2 169.4h0M1478.3 172.4h0M1481.4 167.7h0M1475.7 169.6h0M1475.2 165.1h0M1483.2 168.9h0M1472.4 173.6h0M1469.5 174.6h0M1479 168.1h0M1472.1 168.4h0M1483.9 172.7h0M1469.8 171.1h0M1470.3 173.7h0M1478.2 165.5h0M1477.3 171.9h0M1467.7 174.3h0M1476.5 168.9h0M1478 173.7h0M1469.7 173.7h0M1474.8 164.3h0M1477.1 170h0M1472.5 167.6h0M1475.9 173.7h0M1470.6 168.9h0M1480.1 164.3h0M1483.1 171.7h0M1480.3 166.4h0M1479.8 171.4h0M1482.1 174.2h0M1478.3 172.7h0M1480.5 168.3h0M1478 172.3h0M1480.5 308.2h0M1481.5 307.1h0M1469.9 305h0M1478.9 298.4h0M1474 302.3h0M1477.8 301.1h0M1481.1 309.3h0M1478.1 308.3h0M1479.5 300.3h0M1478.4 305.6h0M1473.5 298h0M1477.7 306.8h0M1479.8 297.2h0M1472.2 299.6h0M1474.4 303.1h0M1480.5 310.3h0M1471.7 297.4h0M1467.3 298.2h0M1472 307.3h0M1480.2 309.8h0M1475.2 298.9h0M1477.5 304h0M1482.6 306.3h0M1482.7 298.7h0M1478.7 307.5h0M1473.2 304.7h0M1477.6 308.6h0M1478.3 305.6h0M1475.1 306.8h0M1477 310h0M1471.2 300h0M1475.3 302.5h0M1488.4 297.3h0M1466.5 297.4h0M1479.7 301.5h0M1466.4 270.1h0M1465.4 204.3h0M1488.1 219.9h0M1466.1 280.8h0M1488 202.4h0M1465.8 197.1h0M1489.6 237.5h0M1466.8 234.5h0M1490.1 192.7h0M1489.6 233.9h0M1488.4 280.2h0M1465.2 217.7h0M1466.3 261.6h0M1489 237.4h0M1487.7 248.4h0M1488.9 268.3h0M1466.6 266.4h0M1490.1 215.5h0M1490.1 264.5h0M1489.7 223.3h0M1535.4 166.4h0M1526.1 163.7h0M1539.1 166.9h0M1538.7 165.7h0M1529 162.7h0M1530.6 160.2h0M1525.2 162.3h0M1528.5 167.7h0M1529.7 159.4h0M1536.5 164.1h0M1521.8 162h0M1537.4 164.1h0M1538 166.5h0M1533.1 160.2h0M1522.6 166.2h0M1529.5 167.6h0M1527 158.6h0M1531.5 162.5h0M1534.7 161.1h0M1530.3 166.2h0M1534.5 161.5h0M1525.7 159.1h0M1532.4 163.2h0M1529.5 159.2h0M1527.3 159.9h0M1533.1 160.3h0M1528.4 165.7h0M1524.8 158.2h0M1535.6 166.9h0M1537.7 163h0M1528.8 162.1h0M1528.3 164.6h0M1526.3 163.1h0M1519.8 166.9h0M1526.4 165.3h0M1530.7 308.4h0M1534.7 313.7h0M1528.4 305.2h0M1534.9 311.3h0M1535.4 315.3h0M1540.2 304.7h0M1527.5 306h0M1527.1 306.7h0M1525 303.4h0M1527.9 310.5h0M1523.6 311.5h0M1534 317.4h0M1533.5 316.8h0M1537.2 301.4h0M1521.2 303.3h0M1533.6 305.5h0M1524.3 315h0M1523.2 306.4h0M1521.4 303.8h0M1522.8 310.2h0M1530.3 316.2h0M1525.3 308.3h0M1525.4 305.6h0M1536.6 301.5h0M1527 316.2h0M1526.1 304.1h0M1537.4 308.9h0M1523.3 305.4h0M1534.3 315.6h0M1530.7 307.4h0M1524.2 304.2h0M1539.8 304.5h0M1535.6 315.6h0M1525.7 315.6h0M1528.8 306h0M1541.9 271.8h0M1541.2 214.4h0M1520 198.4h0M1541.6 179.8h0M1519.8 238.6h0M1540.9 192.2h0M1542.5 175.7h0M1542.4 279.6h0M1541.6 235.4h0M1517.9 283.9h0M1540.3 206.6h0M1541.7 231.9h0M1518.3 271h0M1518.5 228.5h0M1540.3 212.5h0M1518.5 284.2h0M1540.7 171.6h0M1518.1 191.1h0M1540.2 239.6h0M1518.8 296h0M1521.4 142.5h0M1538.9 319.6h0M1581.3 155.9h0M1577.6 158h0M1580 160.2h0M1577.6 153.2h0M1578.5 151.7h0M1576.9 155.2h0M1578.2 151.8h0M1586.6 156.1h0M1582.4 160.3h0M1577.3 153.8h0M1585.4 159.5h0M1581.8 154.3h0M1575 157.2h0M1590 155.5h0M1589.2 159.5h0M1586.3 158.7h0M1578.6 156.4h0M1580 151.5h0M1587 153.7h0M1588.2 157.2h0M1581.5 155.1h0M1576.3 152.9h0M1577.7 160.5h0M1575.6 159.3h0M1585.2 154.3h0M1589.5 159.3h0M1574 156.5h0M1580.3 150.7h0M1582 152.1h0M1583.9 155.7h0M1587.8 156.4h0M1577.5 150.6h0M1582.2 150.5h0M1588.9 159.1h0M1583.8 151h0M1579.2 304.8h0M1587.7 294.4h0M1579.6 293.7h0M1581 294.4h0M1579.1 298.9h0M1578.4 293.9h0M1578.1 297.6h0M1592.2 295.9h0M1584.9 303.4h0M1580.6 303.2h0M1586.4 295h0M1584.3 306.4h0M1583.4 296.6h0M1576.4 296.2h0M1573.8 295.9h0M1590 296.4h0M1582.9 297.2h0M1575.6 294.8h0M1579 307.1h0M1587.1 296.5h0M1581.1 298.9h0M1579.9 298.1h0M1573.2 295.3h0M1579.3 305.6h0M1575.7 294.1h0M1575.9 303.8h0M1581.4 301.7h0M1577.8 296.6h0M1578.1 304.6h0M1591.7 298.1h0M1587.3 307.7h0M1587.5 304.2h0M1586.1 306.9h0M1580.2 294.6h0M1584.3 293.7h0M1572.5 275.3h0M1572.4 271.4h0M1571.9 262.7h0M1571.1 286.3h0M1593.9 292.3h0M1572 223.1h0M1570.1 164h0M1594.1 199.3h0M1594.5 245.1h0M1593.7 255.3h0M1593.6 178h0M1571.2 259.8h0M1571.2 203.2h0M1570.3 263.9h0M1570.8 190.7h0M1594.3 170.4h0M1594.6 225.1h0M1570.4 192.8h0M1571.6 262h0M1570.1 212.2h0M1643.4 163.6h0M1634.9 167.1h0M1629.2 165.6h0M1631 157.7h0M1624.6 167h0M1641 161.6h0M1631 159.8h0M1635.9 167h0M1639.4 161.8h0M1627.4 161.2h0M1628.7 162.8h0M1628.3 161.7h0M1637.4 160.2h0M1637.7 164.6h0M1630.1 164.9h0M1637.4 166.9h0M1635.6 162.1h0M1641.2 166.9h0M1639.1 165.8h0M1631.6 160.2h0M1633.6 160.9h0M1635.9 167.2h0M1626 165.2h0M1624.7 167.4h0M1625.4 166.9h0M1636 167.5h0M1624 167.1h0M1633 163.3h0M1627.2 166.8h0M1632.4 162.3h0M1632.7 162.1h0M1641.5 159.2h0M1639.5 164.7h0M1624.4 166h0M1644.6 165.3h0M1641.6 321.2h0M1635 305.9h0M1627.1 313.5h0M1640.7 321.3h0M1635 316.9h0M1641.2 319h0M1632.7 320.9h0M1635.8 322.1h0M1633.5 310.4h0M1632.9 320h0M1629.8 317.1h0M1628.7 322h0M1630 319.7h0M1633.8 317.2h0M1639.8 322.3h0M1637.6 323.1h0M1636.6 305.4h0M1630.2 305.1h0M1640.6 324.6h0M1627.6 310.4h0M1628.2 314.1h0M1634.3 323.6h0M1637.6 318.4h0M1625.9 309.1h0M1644.9 305.2h0M1627.1 305h0M1635.5 314.3h0M1630.1 324.6h0M1639.5 317.2h0M1626.1 312.1h0M1639.9 312.7h0M1632.9 318.6h0M1644.5 311.2h0M1627.9 309.3h0M1630.4 312.9h0M1647 211.7h0M1623.6 171h0M1647 250.5h0M1623.6 191.4h0M1646.7 272.3h0M1624.6 300.2h0M1624.9 227.6h0M1645.9 215.5h0M1623.4 296.9h0M1645.3 178.2h0M1624.8 218.3h0M1645.9 180.5h0M1645.8 274h0M1647.1 194h0M1646.6 204h0M1646.4 279.1h0M1624.9 256h0M1647.4 227.1h0M1624.7 276.6h0M1624 262.2h0M1627.9 147.4h0M1695.1 167.6h0M1681.7 170.6h0M1695.6 166.8h0M1679.5 169.5h0M1693.7 170.6h0M1693.6 162.9h0M1692.8 166.2h0M1688.1 163h0M1684.3 164.1h0M1694.7 166.9h0M1688.6 165.1h0M1686 164h0M1685.9 161.9h0M1684.2 163.8h0M1687.7 164.7h0M1680.9 164h0M1688 165h0M1686.8 162.8h0M1684.1 168.7h0M1685 164h0M1688.6 171.2h0M1681.2 164.3h0M1693.7 164.5h0M1685.2 164.1h0M1688.9 165.3h0M1689.6 164.9h0M1682.4 163.4h0M1679.8 170.4h0M1690.8 171.2h0M1681.7 164.8h0M1683 166h0M1689.9 166.8h0M1690.6 171.1h0M1697.1 170h0M1690.6 163.7h0M1692.4 308.2h0M1680.9 300.7h0M1683.7 318.8h0M1689.4 310.1h0M1681.9 318.5h0M1684.1 311.8h0M1682.8 314.7h0M1696.1 307.7h0M1689.9 318.1h0M1692.4 318.6h0M1684.1 315.8h0M1677.6 300.8h0M1682.4 301.3h0M1687.8 311.2h0M1692.1 318.6h0M1697 300.9h0M1695.7 311.3h0M1694.1 301.2h0M1682.5 315.6h0M1687.4 318h0M1689.4 309.9h0M1687.5 312.1h0M1688.3 318.5h0M1689.9 305h0M1681.8 304.5h0M1676.4 300.9h0M1688 306.8h0M1697.9 301.6h0M1682.2 311.2h0M1693.3 305.2h0M1684.2 310.6h0M1693 313.5h0M1689.9 314.4h0M1680.6 308.2h0M1690.3 309.7h0M1697.7 289.9h0M1699 260.3h0M1675.3 204.4h0M1697.5 262.9h0M1675.1 277.8h0M1699.2 208.5h0M1698.5 250.7h0M1675.2 222.2h0M1699.6 172.4h0M1675.3 182.1h0M1699.7 186.2h0M1676.5 212.5h0M1677.1 242.1h0M1676.3 187.4h0M1699.1 187.2h0M1676.4 224.5h0M1699.5 193.3h0M1697.7 287.8h0M1676.8 295.8h0M1676.1 201.5h0M1688.9 315.8h0" stroke="#B9B7B0" stroke-width="9.6" stroke-linecap="round" stroke-opacity="0.8" fill="none"/><path d="M997.7 165.8h0M1006 158h0M1006.3 165.4h0M996.3 166.3h0M998.9 157.6h0M997.1 160h0M998.4 158.7h0M1006.1 158.9h0M1004.1 162.5h0M1008.7 150.5h0M1013.2 157.9h0M1007.1 165.3h0M1001.5 155h0M1009.6 161.9h0M1009.1 150.2h0M1013.7 160.7h0M1004.9 167.5h0M1005.2 166.8h0M1002.7 161.6h0M998.4 162.6h0M1003 150.9h0M1005.5 155.8h0M999.1 166.4h0M1014.8 162.6h0M1007.3 151h0M996.2 163.5h0M998.1 159h0M1002 157.8h0M1013.8 164.4h0M1014.5 160.8h0M999.5 154.7h0M1010.2 156.4h0M1011.9 163.1h0M1001.1 161h0M998 167.3h0M1000.9 309.4h0M1000.3 301.3h0M1007.6 305.1h0M997.9 306h0M997.9 302.3h0M1005 304.5h0M1002.2 305.4h0M1011.7 310.2h0M1001 304.4h0M1005.7 301.5h0M998.1 304.4h0M1001 308.4h0M1008.1 300.7h0M1013.8 304.1h0M996 302.2h0M1014.9 303.8h0M1006 300.8h0M1004.7 305.9h0M999.6 307.2h0M1008.5 302.6h0M1000.5 309.4h0M1014.8 304.7h0M997.7 302.1h0M998.9 309.3h0M1000.7 302.5h0M1011.4 308.5h0M1008.1 300.7h0M998.6 305.2h0M996.7 301.1h0M1003.1 305.5h0M1007 302.3h0M1007.1 304.3h0M1007.4 301.8h0M998.1 307.5h0M1011.1 306.1h0M994.3 266.7h0M993.5 256.9h0M995.5 291.2h0M1016 242h0M995.3 222.8h0M1017.9 214.7h0M1015.7 231.9h0M995.4 257.9h0M995.4 267.5h0M995.5 213.9h0M993.9 294.8h0M994.9 189h0M1015.6 281.6h0M1016.1 286.7h0M993.3 206.2h0M1017.9 223.3h0M994.4 180.2h0M1017.9 239.5h0M1017.2 261.3h0M1015.9 292.8h0M997.5 136.2h0M1001.5 125.7h0M1055.3 158.7h0M1058.4 167.3h0M1054.2 155.1h0M1053.6 156.8h0M1058.8 165.8h0M1060.5 162.1h0M1055.5 160.7h0M1054.1 163.1h0M1064.6 160.3h0M1062.2 156.5h0M1061.9 158.9h0M1057.9 167.2h0M1062.3 161.4h0M1053.3 154.9h0M1067.2 167.3h0M1052.5 153.9h0M1054.6 155.8h0M1051.8 162.7h0M1055.3 166.1h0M1050.6 164.6h0M1052.6 162.1h0M1062.7 160.8h0M1048.3 167.5h0M1051.5 157.7h0M1060.3 157.9h0M1048.3 166h0M1066.8 161.9h0M1054.8 161.8h0M1062.4 167.5h0M1063.9 158.7h0M1060.4 157.7h0M1061.9 167.4h0M1064.7 156.2h0M1054.2 156.7h0M1056.9 161.1h0M1063.4 314.5h0M1052.9 317.2h0M1057.4 311.2h0M1057.7 308.3h0M1057.5 311h0M1059.6 309.9h0M1050 309.8h0M1049.4 310.3h0M1065.5 311.2h0M1059.7 315.3h0M1060.3 306.4h0M1060.1 304.4h0M1064.4 314h0M1062.7 307.9h0M1051.2 305.8h0M1060.5 309.1h0M1060.2 308.1h0M1059.6 312.9h0M1050.4 306h0M1066.2 311.6h0M1058 315.2h0M1057.2 316h0M1062.1 313.8h0M1055 314.5h0M1054.8 304.8h0M1061.7 305.3h0M1053 312.4h0M1052.6 315.3h0M1063.3 311.4h0M1053.9 316.3h0M1050 308.6h0M1049.7 310.3h0M1065.3 310h0M1065 304.6h0M1052.6 313.1h0M1070.3 302.7h0M1047.6 299.4h0M1068.3 275.2h0M1047.6 289h0M1047.5 232.3h0M1046.1 300.9h0M1069.6 188.6h0M1068.4 173.7h0M1069.8 193h0M1045.6 228h0M1070.3 282.2h0M1045.6 267.5h0M1069.7 173.1h0M1047.3 192.4h0M1068.7 294.6h0M1069.5 181.1h0M1045.7 233.5h0M1046.8 209h0M1068.6 263.8h0M1048 242.1h0M1052.5 146.7h0M1055.1 129.2h0M1068.4 323.4h0M1104.6 158.8h0M1101 164.2h0M1106.6 163.9h0M1117.9 167.3h0M1101.9 165.3h0M1110.6 160.4h0M1102.5 162.7h0M1119.4 167h0M1109.4 157.3h0M1106.8 167h0M1113.4 160.1h0M1106.4 158.3h0M1105 157.3h0M1116.6 163.1h0M1115.7 165.3h0M1116.3 166.8h0M1117.3 160.5h0M1107.2 159.8h0M1111.5 157.8h0M1108.6 160.1h0M1109.3 159.8h0M1104.1 163.2h0M1112.1 167.5h0M1111.2 159.9h0M1100.8 165.2h0M1112.6 166.9h0M1114.9 158.9h0M1120 164.5h0M1111 165.2h0M1112.7 158.7h0M1108.6 164.7h0M1116.4 160.9h0M1106.7 158h0M1100.1 166.2h0M1099.4 167.5h0M1106.8 312.6h0M1107.1 312h0M1109 306.1h0M1107.1 304.5h0M1111.7 307.8h0M1104.7 314.5h0M1111.3 309.9h0M1108.1 314.6h0M1111.8 314.5h0M1114.4 307h0M1107.1 305.3h0M1115.9 308.7h0M1114.4 307.1h0M1115.2 306.4h0M1102.1 308.1h0M1110.3 312.2h0M1115.8 306h0M1111 313.5h0M1111.2 307.9h0M1112.3 305.2h0M1106.6 308.7h0M1103.5 310.9h0M1105.8 305.9h0M1105.3 314.9h0M1107.5 306.3h0M1110.2 313h0M1109.6 313.6h0M1113.9 304.4h0M1117.4 308.1h0M1111.6 307.3h0M1112.9 315.3h0M1108 308.7h0M1105.3 311.6h0M1108.8 315.1h0M1111.5 307.2h0M1122 191.7h0M1121.4 200h0M1121.3 209.2h0M1120.6 244.8h0M1100.4 240.6h0M1122 219.9h0M1122.6 286.8h0M1099.3 177.6h0M1098.6 239.6h0M1122.4 291.4h0M1121.2 300.1h0M1098.4 300.8h0M1099.6 292.9h0M1098.4 180.7h0M1120.8 247.9h0M1100.1 301.9h0M1098.6 288.9h0M1098.7 230.1h0M1099.3 195.7h0M1100.1 254.8h0M1109.1 153.7h0M1115.7 132.7h0M1169.5 160.4h0M1167 167h0M1161.2 161.6h0M1161.9 161.1h0M1170.3 165.6h0M1165.3 161.4h0M1164.3 162.8h0M1171.1 167.6h0M1157.2 163.2h0M1168.6 166.1h0M1169.4 169h0M1157.3 167.2h0M1154.9 168.1h0M1161.6 157.4h0M1162.3 162h0M1162.3 170h0M1156.9 165.9h0M1167.5 162.9h0M1156.4 170.7h0M1173.5 170.1h0M1166 164.9h0M1162.7 162h0M1162.3 170.3h0M1166.6 165.2h0M1161.7 162.9h0M1164.5 171.2h0M1159.9 167h0M1160 159.6h0M1168.1 170.2h0M1168.1 158.8h0M1157.4 160.6h0M1155.9 162.3h0M1162.1 165.3h0M1167.3 169.2h0M1157.4 168.1h0M1171.1 305.8h0M1165.5 314.9h0M1167.2 317h0M1155.2 312.1h0M1170.9 310.5h0M1161.1 317.8h0M1157 314.7h0M1166 304.7h0M1168.7 306.5h0M1172.1 307.2h0M1170.3 309.2h0M1155.3 312.5h0M1157 311.9h0M1153.3 305.8h0M1164.6 306.9h0M1159.9 310.1h0M1154.6 311.8h0M1157.5 310.7h0M1167.6 312.1h0M1163.9 309.2h0M1171.6 310h0M1164.9 307.4h0M1159.5 309.8h0M1172.1 304.9h0M1155.5 312.5h0M1162.2 317.5h0M1163.1 304.8h0M1165.7 313.6h0M1154.6 310h0M1158.9 310.9h0M1166.9 311.7h0M1157.1 315.9h0M1161.1 311.4h0M1171.7 306.7h0M1167.6 308.1h0M1173.1 274h0M1173.7 282.9h0M1173.5 212.7h0M1173.9 281.1h0M1173.4 270.7h0M1151.5 298.7h0M1150.6 255.4h0M1152.2 183.8h0M1152.5 183.9h0M1175 242.6h0M1174.2 302.1h0M1175.4 192.4h0M1150.5 270.5h0M1173.1 267.6h0M1152.1 237h0M1152.7 227.5h0M1173.2 287h0M1173.6 249.5h0M1173.6 214.5h0M1152.7 213h0M1168.7 150.2h0M1166.3 129.2h0M1224.1 165.6h0M1220.2 161.2h0M1223.1 165h0M1219.1 162.8h0M1208.2 167.7h0M1212.5 156.1h0M1209.5 161.1h0M1209.9 159.5h0M1215.8 156.3h0M1209.7 165.3h0M1222.7 161.1h0M1212.9 158.6h0M1219.1 163.5h0M1224 167h0M1212.4 161.3h0M1220.3 167.5h0M1217.4 155.1h0M1220.6 161.4h0M1209.4 161.2h0M1224 166.5h0M1205 166.2h0M1208.7 160.4h0M1216.4 155.3h0M1209.9 156.2h0M1216.4 158.4h0M1214.2 164.3h0M1216.8 160.2h0M1206.9 166.6h0M1226.4 167.2h0M1221.4 156.3h0M1216.5 161.1h0M1211.7 163h0M1223.7 165h0M1221.9 165.1h0M1212.9 160.8h0M1204.9 297.8h0M1208.9 298.1h0M1225.4 302.6h0M1218 299.8h0M1214.4 302.9h0M1225.9 299.9h0M1218.4 318.6h0M1210.9 307.3h0M1212.1 307.9h0M1215.5 300.7h0M1218.1 319.8h0M1213 302.4h0M1209.3 311.6h0M1218.7 320.9h0M1215.9 309.1h0M1225.3 297.8h0M1220.4 300.8h0M1206.5 299.6h0M1205.1 301.1h0M1222.9 312.9h0M1212.3 317.9h0M1211.6 313.5h0M1217.8 302.9h0M1223.2 297.3h0M1211.3 303.8h0M1211.9 313.1h0M1211.3 310h0M1224.3 299.9h0M1216 318h0M1217.6 316.7h0M1226.4 298.8h0M1224.1 299.6h0M1220.3 297.2h0M1206.6 306.3h0M1224.1 298.3h0M1227.2 180.3h0M1204.5 173.3h0M1226 182.1h0M1226.2 264.9h0M1226.2 174.6h0M1226.6 180h0M1226.1 250h0M1204 280.7h0M1227.4 196.5h0M1225.6 288h0M1203.3 284.8h0M1227.1 227h0M1225.9 181.6h0M1204.9 265h0M1204.8 226.7h0M1204.2 211.3h0M1204.2 290.6h0M1227.4 235.1h0M1205 252.3h0M1204.9 168.5h0M1217.3 150.2h0M1211.3 318.2h0M1263.6 171.9h0M1261.7 174h0M1274.6 178h0M1266 177.7h0M1271.8 175.9h0M1269.9 172.7h0M1266.3 170.9h0M1273 176.2h0M1261.9 174h0M1271.5 169.7h0M1272.2 173.7h0M1264.8 176.4h0M1266 170.2h0M1271.3 171.6h0M1272.9 170.4h0M1265.4 174.6h0M1263.6 172.7h0M1276.5 176.1h0M1259.5 174.4h0M1272.6 175.6h0M1275.6 172.4h0M1266.8 178.2h0M1260.5 175.7h0M1267.7 167.1h0M1273.9 168.4h0M1269.8 166.1h0M1266.5 166h0M1262.9 175.2h0M1272.2 176.5h0M1269 167h0M1266.6 167.6h0M1268.6 172.4h0M1270.6 176.9h0M1278.1 177.4h0M1258.1 175.6h0M1269.8 315h0M1264.3 344.3h0M1275.5 382.4h0M1261.7 350.3h0M1274.7 312h0M1262.2 381.6h0M1275.9 370.2h0M1274.3 346.4h0M1262.3 320.8h0M1268.8 340.7h0M1268.1 360.6h0M1264.1 333.2h0M1267.1 376h0M1275.8 338.3h0M1272.7 347h0M1260.4 363h0M1269.6 330.9h0M1264.5 372.8h0M1262.4 348.9h0M1276 370.6h0M1276.7 375.9h0M1274.4 342.6h0M1260.5 343h0M1264.5 323.3h0M1261.3 369.4h0M1263.2 370h0M1271.3 326.5h0M1271.7 363.5h0M1265.7 357.5h0M1259.4 379.7h0M1274.2 334.9h0M1267.8 380.7h0M1274.3 353.8h0M1270.7 364.8h0M1274.8 314.6h0M1263.7 320.4h0M1275 332.2h0M1276.2 323.1h0M1273.6 324.2h0M1271.1 321.5h0M1259.5 376.5h0M1266.9 349.6h0M1273.1 377.1h0M1274.2 316.3h0M1271.1 373.5h0M1262.7 352h0M1264.6 387.2h0M1265.3 323.6h0M1273.2 377.1h0M1273.1 341.6h0M1277 368.8h0M1276 323.8h0M1259 331.5h0M1274.6 316.4h0M1258.7 335.1h0M1260.3 328.7h0M1264.8 384.4h0M1273.4 357.2h0M1277 329.8h0M1271 382.8h0M1265.9 364.7h0M1269.6 312.2h0M1270.3 366.9h0M1269.7 373.8h0M1275 346.5h0M1263.5 366.3h0M1261.8 382.5h0M1266.4 343.5h0M1260 317.9h0M1260.8 311.5h0M1262.3 362.2h0M1276.9 379.8h0M1276.4 323h0M1273.2 350.7h0M1264.7 338.2h0M1270.5 319h0M1267.8 344.3h0M1270.9 313.1h0M1268.2 324.3h0M1265.7 338.3h0M1265.9 331.5h0M1274.9 328.4h0M1263.9 381.6h0M1261.4 338.4h0M1270.4 354.4h0M1274.5 355.2h0M1268.6 336.5h0M1264.2 383.9h0M1269.7 326.9h0M1268.3 315.3h0M1274.7 316.3h0M1263.4 362.9h0M1267.5 312.3h0M1269.7 375.9h0M1270.1 332.8h0M1265.5 367.5h0M1266.2 351.1h0M1261.6 338h0M1270.2 311.7h0M1261 312.1h0M1274.5 320.8h0M1259.1 354.2h0M1276.7 353.7h0M1261.6 311.4h0M1259.5 343.9h0M1276.9 354.5h0M1262.9 363.7h0M1270.4 364.1h0M1271.8 344.7h0M1260.7 313.8h0M1269 360.7h0M1276.9 379.6h0M1276.6 365.4h0M1273.3 314.7h0M1272.8 346.6h0M1262.2 367.2h0M1263.7 355.9h0M1267.9 323.9h0M1264.7 363.1h0M1264 380.4h0M1266.9 371.5h0M1274.5 313.9h0M1271.4 316.1h0M1275.8 360.1h0M1259.6 316.6h0M1276.2 325.9h0M1265.4 316.2h0M1271.2 344h0M1262.3 315.7h0M1259.3 369.8h0M1256.7 276.9h0M1278.4 256.3h0M1280 272.2h0M1278.3 288.7h0M1255.4 298.6h0M1256.5 207.7h0M1256.9 266.8h0M1257.1 307.9h0M1257 207.4h0M1257.1 288.7h0M1279.2 236.3h0M1278.1 295.5h0M1280.3 243.1h0M1278.6 284.1h0M1257.8 259.8h0M1255.4 268.6h0M1257.2 301h0M1256.5 267.6h0M1256.5 227.2h0M1279.2 214.6h0M1262.2 158.9h0M1273.3 391.7h0M1312.3 163.3h0M1314.1 162.2h0M1325.2 151.3h0M1329.4 161.8h0M1327.1 162.6h0M1315.3 152.1h0M1324.4 152h0M1321.7 160.1h0M1324.7 162.8h0M1319.4 163.1h0M1320.7 151.2h0M1314.1 156.2h0M1315.8 156.1h0M1325 152.2h0M1321.1 163.2h0M1321.3 160h0M1325.8 157.6h0M1312.3 159.6h0M1324.8 150.4h0M1330.1 163.1h0M1310.3 162.4h0M1315.2 157h0M1327.1 157.2h0M1324.7 151.4h0M1318 159.2h0M1328.5 163.3h0M1326.6 152.8h0M1320.7 156.6h0M1327.6 164h0M1329.9 162.2h0M1310.1 163.7h0M1323.9 153.7h0M1319.5 154.6h0M1317.6 157.4h0M1311.9 163.8h0M1321.5 306.3h0M1316.9 303.8h0M1321.7 300.4h0M1323.9 297.9h0M1313.9 300h0M1330.3 297.2h0M1319.8 305.5h0M1318 306.1h0M1313.8 303.5h0M1315 301.4h0M1313.4 303.6h0M1315.2 305.8h0M1317.4 299.5h0M1323.2 302.6h0M1323.6 302.4h0M1330.8 298.8h0M1315.4 303.8h0M1312.7 304.1h0M1331.6 297.5h0M1310 299.3h0M1321.4 307.7h0M1312.6 303.7h0M1328.6 301.5h0M1331.2 297.3h0M1331.3 297.7h0M1330.7 298.5h0M1316.5 304.8h0M1319.5 303h0M1322.3 307.1h0M1326.7 302.3h0M1318.1 303.2h0M1326.4 301.9h0M1324.6 300.5h0M1309.3 297.4h0M1312.2 301.5h0M1332.2 266h0M1309.2 276.6h0M1308.9 205.8h0M1309.7 191.1h0M1331.9 219.5h0M1331.7 175h0M1331.3 179.4h0M1331.8 215h0M1332.5 265.4h0M1331.5 260.4h0M1331.4 270.6h0M1310.1 187.1h0M1308.6 273.4h0M1330.3 195.8h0M1330.8 193.9h0M1308.2 280h0M1331.5 250.8h0M1331.8 181.4h0M1309.8 188h0M1307.8 231.1h0M1331.3 144.9h0M1379.2 162.3h0M1371.7 154h0M1364.5 158.1h0M1374.7 150.5h0M1373.4 161.4h0M1373 164.1h0M1374 158h0M1375.7 155.6h0M1382.6 162.9h0M1376.4 158.2h0M1364.1 162.7h0M1377.3 155.2h0M1377.8 152.9h0M1369.3 161.5h0M1373.4 150.9h0M1366.7 158.7h0M1366 163.9h0M1366.1 153.7h0M1365.9 156.5h0M1375.5 159.6h0M1364.4 163.9h0M1368.6 155.8h0M1368.8 152.1h0M1371.3 163.9h0M1366.8 160.9h0M1362.8 160.8h0M1375.5 152.6h0M1369.7 162h0M1375.6 158.6h0M1376.1 157h0M1365.9 163.6h0M1375.8 163.5h0M1371 153.2h0M1376.9 156.4h0M1371.1 156.9h0M1378.5 306.3h0M1368 307.5h0M1368.2 297.9h0M1377.9 305.6h0M1368.4 307h0M1365.4 303.7h0M1369.5 300.2h0M1372.2 302.9h0M1372.8 303.4h0M1378 302.3h0M1376.1 307.3h0M1367.2 303.1h0M1374.5 302.8h0M1370.1 299.6h0M1368.7 304.2h0M1373.8 298.3h0M1373 302.4h0M1368.8 307.6h0M1378.3 299.4h0M1370.1 302.1h0M1373.2 303.2h0M1374.4 304.1h0M1368.9 299.8h0M1377.6 304h0M1374.7 300.4h0M1376.5 297.5h0M1375.9 301.4h0M1374.7 299.6h0M1370.5 307.6h0M1376.7 304.4h0M1366.7 299h0M1371.9 303.1h0M1368.4 300.2h0M1378.7 298.2h0M1372.9 302h0M1360.7 272h0M1382.8 196.7h0M1361 238.6h0M1362 228.5h0M1383.7 209.8h0M1360.3 196.9h0M1385.1 273.5h0M1383.1 186.8h0M1361.3 261.6h0M1384.4 254.6h0M1360.3 204.2h0M1383.6 191.9h0M1360.4 208h0M1384.4 283h0M1360.8 278.4h0M1384.5 180h0M1383.2 196.9h0M1362.2 249.5h0M1385 278.6h0M1360.7 232.8h0M1373.7 318.2h0M1431.5 157.4h0M1421 166.2h0M1425 161.6h0M1424 163.8h0M1427 160.9h0M1419.2 160.9h0M1431.9 158.4h0M1427 156.3h0M1424 163.8h0M1415 165.7h0M1415 165.6h0M1426.6 161.9h0M1421.4 157.2h0M1422.7 161.1h0M1429.7 162.9h0M1418.4 163h0M1417.5 161.1h0M1419.8 161.5h0M1430.1 164h0M1429.9 154.7h0M1429.3 166.1h0M1418.5 165.6h0M1417.2 167.4h0M1426.9 157.6h0M1420.8 160.5h0M1428.4 164.5h0M1415.2 165.7h0M1419.8 156.6h0M1417.5 165h0M1418.2 163.1h0M1427.5 158.8h0M1423.3 167.5h0M1424.8 166.5h0M1429.2 156.5h0M1425.2 161.2h0M1425.5 314.1h0M1425.2 313.3h0M1420.2 311.5h0M1425.6 306.3h0M1424.9 302.6h0M1418.5 301.9h0M1421.5 309.9h0M1423.8 300.7h0M1419.4 317.4h0M1431.3 306.8h0M1430.7 312.9h0M1422.4 301.6h0M1419.3 311.1h0M1423.5 314.8h0M1434.4 306.3h0M1420.7 318.2h0M1427.3 303.8h0M1421.4 317.6h0M1429.5 314.3h0M1431.8 302.1h0M1431.6 311.1h0M1427.1 312.6h0M1429.4 304.7h0M1422.9 313.2h0M1426.9 311.4h0M1424.3 308h0M1422.4 303.4h0M1432.1 302.7h0M1428 313.6h0M1433.7 300.7h0M1430.1 315h0M1431.4 314.2h0M1433.8 304.7h0M1425.8 315.2h0M1417.3 301.2h0M1412.9 173.6h0M1437.5 208.3h0M1437.4 257.4h0M1436.2 195.1h0M1436.5 271.3h0M1413.4 259.1h0M1436.6 171.7h0M1436.5 189.7h0M1413.8 239.6h0M1412.8 249.6h0M1435.5 214.8h0M1413.3 219.7h0M1436.8 265.9h0M1413.5 226.7h0M1435.9 277.5h0M1436.8 251.8h0M1436.5 197.6h0M1435.9 272.2h0M1436.9 276.3h0M1437.3 254.4h0M1433.6 123.6h0M1487.7 174.2h0M1472.9 165.2h0M1476.9 164.7h0M1485.5 173.9h0M1481.3 165.8h0M1475.6 169.9h0M1477.6 174.5h0M1477.6 168.4h0M1482.9 168.2h0M1470.3 174.7h0M1472 171.7h0M1473.6 172.2h0M1473.7 173.3h0M1485.1 169.8h0M1483 164.8h0M1482.8 174.6h0M1470.7 170.6h0M1477.8 165.2h0M1485.3 170.4h0M1475.3 174.4h0M1483 169.9h0M1475.8 172.8h0M1485.8 169.3h0M1468.3 173.4h0M1471.7 168.9h0M1480.1 173.1h0M1480.1 165h0M1481.1 170.2h0M1483.6 165.7h0M1475.6 169.3h0M1481.4 165.5h0M1481.1 171.8h0M1472.3 169.4h0M1479.1 168.2h0M1483.8 169.1h0M1474.3 297.2h0M1483.9 308.5h0M1478.4 297.3h0M1478.3 298.7h0M1487.8 297.8h0M1477.8 304.7h0M1482.9 307.1h0M1473.7 306.2h0M1483.5 301.7h0M1482.2 305h0M1478.2 303.2h0M1480.2 297.6h0M1478.3 303h0M1482.7 304.4h0M1481 299.1h0M1472.9 301.1h0M1479.7 310.2h0M1471.7 304.6h0M1483.8 302.8h0M1477.1 308.1h0M1479.6 298.3h0M1487.9 297.5h0M1471.3 309.6h0M1470 298.6h0M1481.8 304.8h0M1475 304.1h0M1474.9 301.7h0M1486.1 304.8h0M1474.5 302.3h0M1478.5 308.2h0M1473.1 311.2h0M1487.8 298.8h0M1474.3 308.9h0M1477.2 304.9h0M1483.5 307.5h0M1488.6 286.3h0M1467.5 189.1h0M1467.2 205h0M1489.3 280.4h0M1465.5 176.2h0M1489 226.5h0M1466.6 284.2h0M1466.1 250.6h0M1488.4 260.4h0M1465.6 278.1h0M1466.6 296.5h0M1488.5 290.2h0M1489.2 275.9h0M1488.2 241.2h0M1465.4 232.3h0M1489.4 254.6h0M1466.4 285.7h0M1466.3 178.3h0M1467.1 202.9h0M1465.8 195.4h0M1479 154.8h0M1525.6 167.4h0M1533.3 160.1h0M1519.5 167.3h0M1526 162.1h0M1536.2 158h0M1534.5 159.1h0M1531.8 158.3h0M1528.1 167.2h0M1538.9 164.3h0M1522.8 161.3h0M1524.7 167.4h0M1529.9 163.2h0M1536.4 161.5h0M1527.8 159h0M1537.9 165.1h0M1537.9 167.6h0M1539.3 164.7h0M1533.1 163.7h0M1538.7 167.1h0M1530.4 161.5h0M1539.9 167.2h0M1534.7 161.2h0M1531.2 161.6h0M1530 167.4h0M1535.7 158.4h0M1531.1 157.3h0M1532.5 158.2h0M1527.1 160.6h0M1534.2 163h0M1535.5 157.4h0M1535.4 167.5h0M1537.8 167.1h0M1537.1 164.7h0M1538.9 167.4h0M1536.7 166.6h0M1535.4 317.2h0M1523.8 315.5h0M1536.9 300.8h0M1520.4 304.8h0M1531 311.8h0M1528.6 313.4h0M1536.1 301.3h0M1521.2 303.7h0M1531.3 311.2h0M1535.8 309.9h0M1532.7 302.7h0M1522.3 304.4h0M1529.6 304h0M1527.8 304.6h0M1530.2 312.5h0M1531.3 317.9h0M1526.2 303.3h0M1536.5 310.4h0M1525.3 308.7h0M1538.4 308.4h0M1533 303.5h0M1536.2 301.5h0M1527.4 303h0M1533.3 309.1h0M1526.1 314.4h0M1530.5 315.4h0M1531.7 305.1h0M1536.1 316.8h0M1534.6 315.5h0M1537.3 304.4h0M1535.9 300.9h0M1533.7 302.1h0M1526.4 304.3h0M1533.7 310.6h0M1533.2 312.5h0M1519.9 247.9h0M1519.1 178.3h0M1541.4 190.6h0M1519.6 293.4h0M1518.8 261h0M1540.6 241h0M1518 249.4h0M1541.8 292.3h0M1519 245.6h0M1542 214.9h0M1519.5 210.1h0M1520 264.8h0M1541.6 235.6h0M1520 191h0M1519.8 239.6h0M1540.7 255h0M1517.8 231.6h0M1542.3 298h0M1542.5 227.5h0M1519.1 169.4h0M1532.6 114.8h0M1572.2 160.5h0M1578.9 152h0M1587.5 154.7h0M1586.4 154.3h0M1581.8 153.8h0M1588.3 152.3h0M1579.9 158h0M1580 157.4h0M1576.4 160.6h0M1587.3 154.7h0M1576.9 150.3h0M1580.7 154.8h0M1578.7 158.4h0M1577.4 153.9h0M1587.1 152.7h0M1576.3 160.7h0M1579.2 150.4h0M1575 153.8h0M1589.6 159.6h0M1581.9 151.8h0M1577.8 156.5h0M1588.1 153.3h0M1581.6 155.8h0M1587.3 160.7h0M1579.4 152h0M1575.5 154.9h0M1578.7 157.6h0M1586.8 154h0M1589.5 154.2h0M1583.1 150.8h0M1580.2 159.5h0M1579.8 155.7h0M1579.3 159.6h0M1588.8 157.5h0M1584.7 160.3h0M1576.5 296h0M1581.7 307.1h0M1585.1 303.6h0M1590.2 299.5h0M1585.1 297.5h0M1583.4 299.4h0M1577.9 296.2h0M1586.2 297.7h0M1577.9 294.2h0M1578.1 296.8h0M1588.4 304.8h0M1583.9 295.9h0M1580.4 306.1h0M1583 297.6h0M1576 301.4h0M1577.1 302.8h0M1582 300h0M1580.5 304.3h0M1582.2 303h0M1580.8 303.2h0M1576.9 297h0M1593.5 294.3h0M1574.7 294.7h0M1585.1 300.4h0M1586.1 304.8h0M1590.5 295.5h0M1575.4 296h0M1586.7 307.3h0M1580.8 299.7h0M1583.7 305.9h0M1588 297.4h0M1581.9 308.1h0M1581.6 296.7h0M1588.2 296.8h0M1579.2 300.8h0M1570.5 212h0M1594.8 266.6h0M1571.1 266.9h0M1593.3 290.5h0M1570.7 199.2h0M1594.3 200.4h0M1570.4 269.6h0M1571 206.2h0M1593.8 260.1h0M1595 256.6h0M1592.8 189.6h0M1572 245.7h0M1594 205.5h0M1594.7 221.3h0M1570.9 275.6h0M1571.6 184.2h0M1594.3 260.2h0M1592.7 261.2h0M1594.7 205.8h0M1571.2 181.5h0M1575.6 145.6h0M1636.8 158.5h0M1635.7 162.8h0M1629.8 165.5h0M1645.4 166.3h0M1636.1 164.6h0M1628.8 158.3h0M1640.5 162.2h0M1633.9 158.1h0M1627.2 164.9h0M1634.8 158.2h0M1633.9 163h0M1635.9 165.6h0M1645.1 167.6h0M1638.9 157.4h0M1635 163.3h0M1630.6 159.3h0M1642.7 166.3h0M1643.8 167.3h0M1637.8 161.5h0M1636.8 164.1h0M1637.5 165h0M1638.6 164.5h0M1632.2 161.1h0M1635 157.9h0M1633.8 162.8h0M1636.5 163.3h0M1626.6 162h0M1635.4 159h0M1631.2 159.6h0M1632.3 165.5h0M1632.1 165.2h0M1638.9 160.3h0M1642.9 161.4h0M1638.8 163.3h0M1638.1 166.4h0M1639.5 310.3h0M1641.1 305.8h0M1634.9 324.5h0M1633.9 314.7h0M1624.2 306.5h0M1635.5 317.8h0M1640.9 308.2h0M1637.1 313.4h0M1637 304.9h0M1638.6 317.5h0M1636.9 311.5h0M1628.1 305.3h0M1631.5 313.5h0M1635.7 308.1h0M1638.9 313.5h0M1639.6 315.4h0M1635 307.9h0M1640.7 313.1h0M1640.2 315.5h0M1638.6 308.7h0M1639 307.1h0M1642.2 313.1h0M1640.6 313.7h0M1637.6 320.2h0M1634.2 311.9h0M1638 320.1h0M1640.8 309.7h0M1640.7 307.9h0M1633 305.8h0M1629.1 314.2h0M1644.8 305.1h0M1639.2 305.2h0M1637.1 312.1h0M1629.6 310.8h0M1640.5 318h0M1646 206.8h0M1645.8 284.3h0M1624 298.2h0M1624.2 209.9h0M1624.6 223.4h0M1623.3 277.5h0M1645.9 220.5h0M1646.5 243.5h0M1647.3 198.6h0M1623.1 240.6h0M1623.2 293h0M1645.8 171.2h0M1622.6 234h0M1647.3 272.3h0M1646.5 208.3h0M1623 197.8h0M1645.8 182.8h0M1646.1 276.2h0M1624.5 225.7h0M1646.3 292.8h0M1634 327.6h0M1693.4 170.8h0M1681 163.6h0M1686.4 165h0M1692.1 170.3h0M1685.5 171.1h0M1694 166h0M1682.4 166.1h0M1683.1 165.3h0M1682.8 164.4h0M1687.7 165.7h0M1689.3 168.1h0M1686.9 168.8h0M1693.8 163.1h0M1681.7 164.4h0M1690.4 162.1h0M1689.8 162h0M1689.7 162.7h0M1688.3 165.7h0M1689.9 163h0M1683.3 162h0M1695.9 171h0M1684.5 171.2h0M1677.5 170.1h0M1691.2 164.8h0M1690.7 171h0M1680.1 167.7h0M1695.4 167.7h0M1690 169.2h0M1687.7 166.2h0M1690.3 164h0M1682.7 163.5h0M1692.2 169.4h0M1690.1 169.3h0M1693.1 162.4h0M1686.6 167.7h0M1689.6 315h0M1682.5 309h0M1686 314.6h0M1694.6 308.8h0M1694.7 303.3h0M1685.9 318.9h0M1678.8 308.5h0M1695.3 307.4h0M1687.3 304.6h0M1693.1 306.5h0M1689.6 311.9h0M1695.8 310.4h0M1686 307.3h0M1680 301.2h0M1692.3 317.4h0M1681.6 307.1h0M1688 314.8h0M1677.8 300.9h0M1693.2 310.8h0M1689.4 301h0M1687.1 314h0M1689.1 310.8h0M1684 308.3h0M1686.6 309.7h0M1686.3 316.5h0M1679 308.6h0M1696.8 304.9h0M1676.6 301.4h0M1692.2 316.9h0M1694.6 302h0M1694.3 309.3h0M1687.9 303.6h0M1689.2 316.6h0M1683.4 306.1h0M1685.4 319.8h0M1676.7 259.9h0M1699 202.1h0M1676.5 259.5h0M1699.1 174.6h0M1698.2 243.1h0M1676.1 171.8h0M1675.9 172.2h0M1698.9 294.1h0M1699.9 225.7h0M1676.3 253.8h0M1677.3 203.7h0M1675.6 177.9h0M1675.7 261h0M1677.3 228.6h0M1698.7 190.6h0M1675.8 256.8h0M1699.5 297.4h0M1677 285.5h0M1676.5 289.5h0M1675.9 187.2h0M1682.5 321.3h0" stroke="#B9B7B0" stroke-width="9.6" stroke-linecap="round" stroke-opacity="0.8" fill="none"/><path d="M1004.1 184.7h0M1009 208.9h0M997.8 209.2h0M1005.8 216.7h0M997.5 210.3h0M1012.6 192.5h0M1011.1 205.3h0M996.2 209.8h0M1012 190.9h0M1007.8 214h0M1004.8 220.2h0M1007.7 197.4h0M1001.6 182.5h0M1011.6 218h0M1007.2 174.7h0M1064.9 221.9h0M1054.2 204.1h0M1062.1 209.1h0M1050.4 209.7h0M1050.4 213.5h0M1058.9 217.4h0M1067.6 218.8h0M1062 196.9h0M1049.8 198.3h0M1057.6 222.5h0M1059.9 210.6h0M1065.4 221.8h0M1068.1 197.7h0M1047.9 211.8h0M1054.5 221.6h0M1048.4 197h0M1049.3 199.6h0M1048.5 202.4h0M1052.4 205.6h0M1060.6 204.9h0M1057.9 208.7h0M1047.7 219.9h0M1059.8 211.6h0M1058.4 196.9h0M1055 217.5h0M1062.2 215.9h0M1066 215.8h0M1054.9 214.6h0M1051.2 201.9h0M1057.5 220.6h0M1054.4 205.1h0M1053.1 218h0M1048.6 210.2h0M1049.2 208.7h0M1052.6 220.6h0M1066.9 220.7h0M1055.6 221.3h0M1054.6 200.5h0M1051.7 202h0M1062.8 221.1h0M1061.9 203.8h0M1065.2 223h0M1061.2 194.9h0M1056.2 210.2h0M1066.1 202.7h0M1064 202.8h0M1054.8 206.4h0M1063.4 206h0M1060.1 209.1h0M1052.9 205.9h0M1063.8 222.2h0M1061.6 214.5h0M1066.3 221.7h0M1056.3 219.8h0M1061.4 214.2h0M1050 200.1h0M1061.8 221.8h0M1048.6 191.5h0M1049.9 201.4h0M1052.9 208.2h0M1056.4 222.1h0M1063 199.9h0M1051.6 222.9h0M1049.5 197.2h0M1057 194.3h0M1050.7 201.4h0M1059.5 220.6h0M1056.8 205.6h0M1051.2 218.3h0M1066.4 196.2h0M1064.9 217.5h0M1068.2 210.4h0M1059.4 211h0M1060.6 195.1h0M1051.3 222.5h0M1060.3 222.5h0M1062.6 222.9h0M1058.5 216.4h0M1064.2 200h0M1047.8 219.6h0M1058 214.9h0M1048.4 197.1h0M1064.2 218.7h0M1065.4 217.6h0M1048.6 200.2h0M1059.6 203.1h0M1057.5 202.4h0M1060.7 220.4h0M1061.6 217.4h0M1056.6 202.7h0M1068 208.5h0M1066.9 222.5h0M1060.1 202.7h0M1059.3 221.6h0M1064.7 202.6h0M1066.1 201.4h0M1063.9 205.1h0M1065.3 202.1h0M1058.6 215.7h0M1062.2 203.9h0M1102.8 211.9h0M1119.6 215.1h0M1101.3 219.9h0M1119.3 217h0M1120.7 206.4h0M1116.5 218.3h0M1104.9 208.2h0M1117.3 220.6h0M1115.5 217.3h0M1108.4 220.4h0M1111.3 221.4h0M1117.1 220.9h0M1120.6 217.1h0M1108.9 213.2h0M1108.2 211.6h0M1111 209.8h0M1100.9 211.1h0M1107.2 217.9h0M1115.7 203.7h0M1119.6 217.7h0M1119.5 214.7h0M1112.5 220.1h0M1106.5 220.6h0M1113.3 220.8h0M1103.1 214.1h0M1120.4 222h0M1112.9 210.7h0M1120.3 221h0M1104 219h0M1100.4 210.7h0M1104.5 216.5h0M1107.8 205.3h0M1117.2 208.3h0M1111.5 212.7h0M1102.9 217.7h0M1109.5 217.3h0M1107.7 214.7h0M1118.3 221.8h0M1100.7 209.6h0M1102 217.3h0M1119.3 208.1h0M1100.4 220.6h0M1103.6 213.1h0M1106.2 214.5h0M1115.2 220.6h0M1112.2 216.8h0M1108.7 222.2h0M1112.8 206.7h0M1117.4 214.1h0M1116.7 211.2h0M1100.9 199.2h0M1153.7 221.2h0M1169.8 220.4h0M1166.5 219.6h0M1152.5 198.5h0M1173 204.3h0M1159 221.9h0M1171.6 221h0M1157.3 197.2h0M1161.9 214.2h0M1161.1 214.5h0M1164.6 199.8h0M1163.4 219.2h0M1165.1 200.2h0M1162.6 204.5h0M1212.6 184.1h0M1265 218h0M1265.3 210h0M1275.1 217.8h0M1268.4 219.8h0M1273.1 204.5h0M1260.6 223h0M1278.2 221.8h0M1275.8 212h0M1277.2 223h0M1262.5 221.9h0M1264 215.4h0M1277.5 209.7h0M1263.9 219.2h0M1276.9 216.4h0M1265.9 206.1h0M1260.1 222.6h0M1260.5 215.4h0M1257.6 217.1h0M1275.5 211.2h0M1265.8 222.8h0M1264 219.4h0M1276.3 221.2h0M1264.7 211.8h0M1273.6 221.6h0M1264.8 211.8h0M1275.5 219.5h0M1268.1 205.3h0M1274.6 216.6h0M1262.7 207.6h0M1269 205.4h0M1265.7 220.4h0M1274.9 223h0M1273.5 215.4h0M1263.9 221.9h0M1271 214.7h0M1278.3 220.1h0M1270 218.3h0M1269.5 222.9h0M1257.8 220.5h0M1276.6 213.6h0M1265.4 186.6h0M1319.4 213.2h0M1317.5 216.9h0M1311.7 219.9h0M1310.5 198.9h0M1312.9 216.4h0M1317.8 196.1h0M1312.4 196.2h0M1311.7 188.8h0M1317.1 203.8h0M1311.8 200.7h0M1323.8 215.5h0M1311.9 213.1h0M1329.7 194h0M1330.7 212.8h0M1309.8 207.8h0M1319.9 196.4h0M1329.9 193.4h0M1423.8 206.3h0M1420.9 214.3h0M1434.7 223.7h0M1427.4 206.9h0M1418.8 222.4h0M1433.2 208.4h0M1433.8 206.3h0M1427.5 215.7h0M1431.3 218.2h0M1429.3 209.3h0M1435.5 223.5h0M1422.9 213.4h0M1418.9 201.6h0M1422.2 209.9h0M1434.9 201.1h0M1422.3 213.7h0M1431.5 220.1h0M1429 203.9h0M1427.1 217.7h0M1422.7 203.3h0M1424.5 222.2h0M1423.5 211.5h0M1417.9 206.7h0M1434.8 218.9h0M1417.6 202.5h0M1422.7 217.2h0M1421.3 209h0M1425.4 196.9h0M1416.6 222.3h0M1434.6 201.3h0M1424.9 203.9h0M1429.1 207.2h0M1419.6 217.7h0M1418.5 221.4h0M1419.4 206.3h0M1425.8 223.6h0M1427.3 214.8h0M1420.4 153.7h0M1482.4 188.7h0M1524.8 201.7h0M1538 206.5h0M1531.4 216.6h0M1529.8 171.7h0M1530 219.8h0M1536.3 187.7h0M1527.5 220.2h0M1520.7 195.4h0M1532.4 201.8h0M1523.2 169.2h0M1521.4 198.4h0M1537.3 220.1h0M1524.7 204.7h0M1527.9 195.7h0M1579.2 197.8h0M1572.3 213.6h0M1575.8 217.1h0M1575.2 208.6h0M1572.8 215.4h0M1583.2 217.8h0M1584.1 196.6h0M1588.2 197.1h0M1591.3 201.8h0M1575.7 216.6h0M1576.8 216.3h0M1585.8 204.1h0M1578.5 198.8h0M1575.9 212.5h0M1573.8 212.7h0M1580.7 203.6h0M1584.9 193.7h0M1592.5 217.5h0M1577.1 200.5h0M1587 215.4h0M1582.5 217.6h0M1592.2 217.9h0M1592.4 204.7h0M1575 190.6h0M1587.2 217.9h0M1591.1 200.9h0M1591 217.2h0M1579.8 205.1h0M1578.9 207.2h0M1584.4 196.2h0M1583.4 215.9h0M1572.1 216h0M1592.4 209h0M1576.9 193.4h0M1591.4 205.8h0M1572.6 218h0M1575.2 204.8h0M1584.4 193.4h0M1577 190.7h0M1578.3 205h0M1577.4 216.4h0M1585.2 195.2h0M1583.3 215.3h0M1587.2 178.2h0M1627.9 211.2h0M1632.5 200.8h0M1644.8 200.8h0M1628 216.5h0M1629 215.6h0M1643.9 205.3h0M1642.2 198.9h0M1639.2 199h0M1632.2 193.1h0M1645.2 192h0M1632.4 211.3h0M1626.2 210.5h0M1636.6 211.7h0M1630.9 206.9h0M1630.8 197.5h0M1644.4 215.7h0M1627.9 213.4h0M1631.7 192.4h0M1629.8 218.9h0M1631.1 216.3h0M1628 211.6h0M1644.8 215.5h0M1641 190.5h0M1642.3 195.9h0M1626.4 196.4h0M1632.2 207.4h0M1632.4 218.5h0M1633.5 197.4h0M1628.9 213h0M1645.2 218.7h0M1639.5 214.5h0M1630.4 196.2h0M1634.6 192h0M1643.2 219h0M1639.9 191.9h0M1627.3 197h0M1636.4 200.4h0M1636 213.5h0M1639.3 217.4h0M1625 220h0M1635.7 171.2h0M1696.5 216.5h0M1696.7 212.6h0M1682.8 220.1h0M1691.3 220.2h0M1685 216.4h0M1687 211.5h0M1688.8 211.5h0M1684.5 218.7h0M1678.3 203h0M1678.4 214.9h0M1686.8 219.8h0M1691.7 218.1h0M1686.3 205.5h0M1685.1 218.4h0M1695.2 204.1h0M1677.5 203.2h0M1693.2 214.4h0M1689.4 207.1h0M1696.5 218.2h0M1680.6 205.8h0M1684.4 216.7h0M1683.7 217.9h0M1688.3 216.5h0M1684.8 210.6h0M1679.4 210.5h0M1691.3 217.4h0M1689.7 208.8h0M1697.2 188.7h0" stroke="#FF2F26" stroke-width="7.4" stroke-linecap="round" stroke-opacity="0.75" fill="none"/><path d="M999.5 193.1h0M997.5 215.6h0M1008.9 184.8h0M1002.9 221.2h0M1015.8 219.4h0M999.8 190.7h0M1000.7 204.6h0M998.2 221.2h0M995.6 221.3h0M997.2 218.3h0M1015.1 217.1h0M1009.4 217.1h0M1011.6 212.9h0M1006.7 156.8h0M1049.9 205.3h0M1067.7 219.1h0M1049.1 211h0M1050.2 216.8h0M1057.5 219.3h0M1050.3 196.6h0M1060.5 191.9h0M1056.4 217.6h0M1068.3 220.6h0M1064.1 208.4h0M1060.3 218.6h0M1053.5 196.5h0M1050.2 195.2h0M1053.9 191.9h0M1057.5 219h0M1050.1 222.1h0M1065.3 200.3h0M1067.6 222.7h0M1061.1 222.1h0M1052 212.6h0M1066.2 222.5h0M1058.7 202.3h0M1065.8 211.2h0M1057.2 209.1h0M1061.8 201.1h0M1053.7 212.2h0M1050.9 195h0M1054.3 200.3h0M1062.8 213.1h0M1047.7 215.9h0M1061.3 221.5h0M1065.2 222.9h0M1050.6 204.7h0M1056.4 218.3h0M1063.2 192.8h0M1059.1 222.8h0M1053.6 200.9h0M1049.6 200.2h0M1049.6 222.7h0M1052 218.4h0M1057.3 222.8h0M1048.5 220.2h0M1055.1 196.2h0M1063.7 211.3h0M1055.8 216.9h0M1065.3 213.3h0M1051.1 215.4h0M1059.5 221.8h0M1063.4 209.5h0M1049.5 220.4h0M1063.7 212.3h0M1060.7 223h0M1049.2 197.6h0M1054.7 194.3h0M1067.2 204.3h0M1056.3 223h0M1058.6 217.8h0M1049.5 214.9h0M1049.1 220.6h0M1055.1 210.5h0M1058.6 213.9h0M1055.9 192.1h0M1062.5 215.6h0M1054.9 220.7h0M1067.5 193.8h0M1048.3 198.1h0M1058.5 222.2h0M1052.9 193h0M1057.4 214.5h0M1055.2 196.1h0M1057 204.1h0M1060.9 222.7h0M1055.1 191.8h0M1064.1 220.2h0M1059.1 204.7h0M1055.5 192.4h0M1052.1 219.6h0M1057.8 209h0M1068.4 216.9h0M1058 212.1h0M1057.1 212.1h0M1063.4 221.9h0M1057.6 220.3h0M1067.1 216.9h0M1061.7 222h0M1052.1 212.4h0M1053.5 221.5h0M1068.1 193.3h0M1058.4 208.5h0M1048.6 193.9h0M1061.6 198.8h0M1054.6 200.3h0M1061.4 194.6h0M1049.2 219.7h0M1053.1 218.7h0M1057 213.9h0M1062.5 217.9h0M1068.4 217h0M1066.7 221.3h0M1053.7 210.9h0M1056 176.1h0M1112.2 222.8h0M1113.8 208.5h0M1114 211.4h0M1102.9 218.5h0M1103.3 217.3h0M1120.4 220.5h0M1105.8 210.9h0M1119.4 205.1h0M1120.2 215.1h0M1108.3 222.7h0M1113.6 206.4h0M1109.3 217.7h0M1111.3 219.7h0M1111.7 208.1h0M1107.6 221.9h0M1114.8 216.5h0M1110.7 207.1h0M1116.2 217.4h0M1115.6 215.8h0M1111.9 203.8h0M1116.3 220.7h0M1100.7 209.6h0M1115.6 214.9h0M1116 218h0M1113.6 213.7h0M1119.4 215.1h0M1114.6 218.4h0M1109.1 206h0M1110.3 220.6h0M1108.6 213.6h0M1118.2 223h0M1103 215.2h0M1104.8 205.9h0M1115 218.6h0M1103.9 209.6h0M1102.9 221.2h0M1103.4 220.3h0M1104.8 221.8h0M1114.8 205.6h0M1118.3 220.4h0M1108.9 222h0M1111.6 215.4h0M1118.3 209.3h0M1114.9 222.3h0M1107.4 205.8h0M1112.7 219.7h0M1111.5 221.9h0M1102.4 209.7h0M1109.1 215h0M1110.9 206.4h0M1109 188.7h0M1158.3 197.7h0M1154.8 219.8h0M1163.1 197.4h0M1163.8 211.8h0M1155.9 220.8h0M1172.3 197.8h0M1164 221.2h0M1158 216h0M1155 201.1h0M1164.1 210h0M1158.2 205.6h0M1168.1 220.4h0M1156.7 205.7h0M1163 161.4h0M1219.6 192.2h0M1270.5 210.5h0M1267.7 216.2h0M1273.6 215.2h0M1258 206.2h0M1273 221.2h0M1271.8 221.1h0M1276.9 222.7h0M1267.8 210.6h0M1268 213.1h0M1270.6 222.8h0M1275.2 219.6h0M1276.1 212.8h0M1274 218.1h0M1266.5 209.5h0M1277.2 216.3h0M1270.6 217.9h0M1260.1 216.9h0M1265.1 216.5h0M1274.4 216.5h0M1272.3 211.5h0M1259.8 221.6h0M1259.2 215.6h0M1262.6 218.7h0M1260.4 214.2h0M1274.4 218.1h0M1274.6 207.7h0M1272.5 223h0M1260.4 221.2h0M1268.6 219.9h0M1267.2 215.5h0M1262.2 205.8h0M1259.7 206.2h0M1277.4 213.4h0M1264.8 217h0M1258.4 220.7h0M1272.4 220.6h0M1263 214.7h0M1272.3 213.9h0M1263.7 213.6h0M1263.7 217.3h0M1276.5 166.3h0M1329.1 213.8h0M1316.8 214h0M1330.3 208.3h0M1317.7 198.7h0M1329.5 199.4h0M1318.7 211.2h0M1324.2 204.4h0M1315.3 205.9h0M1327.4 194.9h0M1326.5 200.1h0M1320.5 213.3h0M1319.2 197.9h0M1321.1 219h0M1318.3 212.6h0M1321.6 205.1h0M1327.8 199.4h0M1311.1 182.8h0M1422.7 195.2h0M1419.2 202.4h0M1424.2 219.3h0M1427.6 219.6h0M1420.3 218.9h0M1422.1 219.1h0M1422.3 215.8h0M1422.9 218h0M1417.4 212h0M1415.3 205.2h0M1429.6 215.7h0M1426.8 218.7h0M1433.3 195h0M1431.7 214.8h0M1428.2 223.7h0M1427.9 222.9h0M1432.2 223.4h0M1425.3 213.1h0M1415.6 198.4h0M1421.9 205.6h0M1418.6 223.2h0M1426.4 196.4h0M1435.3 215.4h0M1418.2 214.3h0M1434 212.2h0M1421.1 198.4h0M1419.4 219.8h0M1432.1 222h0M1422.9 207.5h0M1414.9 211.4h0M1429.6 220.1h0M1418.5 215h0M1431.8 222.4h0M1416.5 196.2h0M1422.2 207.3h0M1431.7 197.8h0M1421.2 214.9h0M1417.8 185.2h0M1485.7 202.7h0M1526 219.7h0M1526.2 218.1h0M1535 201.3h0M1531 216.7h0M1527.2 188.3h0M1538.9 199.7h0M1535.8 185.1h0M1537.4 200.4h0M1528.3 208h0M1525.2 210.7h0M1540.1 182.9h0M1523.2 214.2h0M1526.8 171.1h0M1578 192h0M1583.2 213.4h0M1579.4 193.2h0M1576.2 211.8h0M1586.3 207.9h0M1583.1 205.6h0M1577 202.1h0M1579.6 214.1h0M1579.3 213.2h0M1588.5 213.5h0M1579.3 202h0M1577 204.7h0M1588.6 217.8h0M1592.1 194.5h0M1591.6 195.2h0M1593 208.9h0M1577.1 208.7h0M1578.9 201.7h0M1573 216.1h0M1588.1 192.8h0M1588.8 217.8h0M1575.1 211.5h0M1588.9 212.6h0M1589 209.9h0M1587.7 192.4h0M1588.1 192h0M1579.8 193.4h0M1592.6 210.3h0M1577.6 201.6h0M1574.2 198.8h0M1585.2 209.4h0M1577.2 216.7h0M1589.7 191.6h0M1591.9 190.8h0M1584 208.5h0M1580.6 209.4h0M1590.3 195.3h0M1583.1 207.2h0M1574 190.5h0M1590.8 212.9h0M1574.3 198.3h0M1591.9 198.3h0M1572.9 211.4h0M1591.9 217.5h0M1637.8 210.6h0M1634.3 195.5h0M1643.8 218.9h0M1638.7 199.4h0M1634.5 208.1h0M1627 200.7h0M1632.9 205.7h0M1640 218.3h0M1644.3 202h0M1633.4 212.5h0M1639.4 220.2h0M1629.5 208.1h0M1642.6 218.7h0M1633.5 203.9h0M1638.3 216.8h0M1628.3 197.6h0M1630 200.4h0M1633.8 215.8h0M1625.8 216.5h0M1633.1 193.9h0M1628 210.3h0M1645.3 203.5h0M1624.5 217.7h0M1645.2 213.3h0M1644.1 203.2h0M1628.8 218h0M1627.1 216.1h0M1632 192.5h0M1630.7 193.8h0M1634.8 199.9h0M1625.2 211.8h0M1636.7 194.3h0M1636.9 219.1h0M1634.5 198h0M1636.4 191.2h0M1627.4 190.8h0M1638.3 199.9h0M1632.7 213.6h0M1638.9 212.5h0M1645.4 201.6h0M1644.8 185.2h0M1630.2 164.2h0M1683 214.3h0M1677 211h0M1677 213.4h0M1677.4 203.3h0M1697.2 220.1h0M1682 207.7h0M1677.4 211h0M1693.4 209.5h0M1697 215.9h0M1684.1 208.8h0M1688.3 210.1h0M1697.2 215.4h0M1680.1 216.7h0M1696 210.3h0M1677.9 217.5h0M1682.9 204.1h0M1679.5 206.7h0M1679 212.1h0M1681.1 217.9h0M1685.7 205.2h0M1688.6 219.6h0M1687 216h0M1695.3 213.7h0M1681.4 215h0M1685.6 206.6h0M1691 208.1h0M1696.6 216.4h0M1681.1 181.7h0" stroke="#FF2F26" stroke-width="7.4" stroke-linecap="round" stroke-opacity="0.75" fill="none"/><path d="M996.6 204h0M1012.6 192.2h0M1003.1 199.6h0M1000.2 208.2h0M1001.3 200.7h0M1002.9 221.9h0M1005.8 210.4h0M1009.2 221.3h0M1009.8 202.1h0M1006.4 215.6h0M1013.3 190.1h0M999.6 198.8h0M1006.6 213.1h0M1010.2 114.8h0M1053.1 223h0M1051.6 205.4h0M1064.1 199.1h0M1063.1 217.2h0M1048.5 222.9h0M1064.2 202.6h0M1068 215.4h0M1061.2 217.4h0M1058.2 203.6h0M1061.7 201.4h0M1057.1 215.1h0M1051.4 218.5h0M1066.5 216.2h0M1052.8 222.5h0M1050.8 205.3h0M1064.3 222h0M1053.8 206.5h0M1066.8 219.7h0M1061.5 221.2h0M1060.8 197.4h0M1058.4 201.3h0M1058.4 218.4h0M1051.9 203.8h0M1062 211.5h0M1053 221.7h0M1063 191.6h0M1067.7 207.3h0M1064.5 221.3h0M1066.8 196.4h0M1054.7 220.2h0M1052.7 214.7h0M1066 202.4h0M1061.3 193.1h0M1050.6 192.4h0M1063.3 199.9h0M1051.5 222.3h0M1050.9 192.9h0M1059 200.9h0M1058.2 203.6h0M1062.3 198.3h0M1063.6 218.9h0M1062.1 206.9h0M1061.2 211.2h0M1048.2 212.2h0M1054.1 219.7h0M1058.4 221.6h0M1060.3 193.3h0M1066.2 214.9h0M1068.5 221.5h0M1062.8 204.3h0M1066.7 206.8h0M1049.1 210.7h0M1064.3 211.5h0M1050.6 220h0M1067.6 209.9h0M1050.3 222.9h0M1048.2 211h0M1055.4 212.6h0M1067.7 210.1h0M1062.4 192.6h0M1059.4 215.7h0M1063.4 211.7h0M1060.5 220.2h0M1048 203h0M1065.2 207.8h0M1061.2 201.3h0M1062 208.1h0M1067.7 199.6h0M1049.1 221.6h0M1059.4 197.2h0M1059.4 219.2h0M1056.4 216.8h0M1067.6 193.5h0M1063.6 212.3h0M1057.2 221.5h0M1056.7 221.4h0M1067 207h0M1047.8 214.4h0M1065.3 216.8h0M1050 198.6h0M1067.1 193.6h0M1051.1 211.2h0M1050.5 191.6h0M1052.5 222.9h0M1068 196.7h0M1052.7 221.7h0M1067 222.5h0M1052.9 220h0M1058.7 201.6h0M1050.5 212.3h0M1059.7 193.4h0M1066.9 222h0M1060.3 193.9h0M1057 202.8h0M1060.5 197.2h0M1055.1 214.1h0M1047.7 219.9h0M1054.3 203.8h0M1053.3 214h0M1060.8 222.5h0M1065.2 150.9h0M1115 222.5h0M1110.7 208.2h0M1110.7 213.1h0M1116 204.8h0M1110.3 216.2h0M1106 221.1h0M1109.9 217.9h0M1100.5 221.8h0M1114.3 203.8h0M1106.6 210.2h0M1109.1 222.3h0M1106.2 206.9h0M1107 212.8h0M1112 210.9h0M1100.3 219.4h0M1102.6 222.7h0M1118 204.4h0M1115.1 216.8h0M1112.2 216.2h0M1102.2 214.8h0M1115 220.5h0M1111 207.9h0M1101.5 221.5h0M1107.7 210.8h0M1114 220.7h0M1104.5 212.3h0M1114.3 210h0M1120.9 205.5h0M1105 221.9h0M1105.4 211.3h0M1106.2 218.7h0M1118.4 217.8h0M1102.7 222.8h0M1112.8 221h0M1116 209h0M1107.8 211.6h0M1109.1 210h0M1111.8 221.8h0M1108.9 208.1h0M1118.9 220h0M1106.5 208.1h0M1105.4 221.1h0M1102.7 217.7h0M1105.7 214.8h0M1104.6 214.2h0M1100.9 215.2h0M1113.1 214h0M1119.5 207h0M1110.1 221.7h0M1107.8 205h0M1111.3 186.9h0M1160.7 197.6h0M1167.8 212.8h0M1167.3 196.4h0M1168.4 212.5h0M1153.1 209.2h0M1169.2 221.8h0M1153.3 198.3h0M1166 221.3h0M1164.8 216.4h0M1161.9 220.9h0M1169.4 221.9h0M1152.7 201.4h0M1156.5 201.1h0M1208.6 173.3h0M1276.4 207.1h0M1269.1 222.5h0M1273.5 222.3h0M1264 213.9h0M1275.1 222.8h0M1274.6 211.5h0M1258.1 219.7h0M1262.9 207.5h0M1266.4 219.4h0M1272.6 206.3h0M1264.7 214.9h0M1261 204.8h0M1275.6 221.4h0M1271.5 217.7h0M1258.5 208.5h0M1258.2 221.6h0M1272.9 212.9h0M1266.2 210.3h0M1274.3 209.3h0M1267.1 220.4h0M1267.6 219.3h0M1259.5 207.7h0M1264.5 219h0M1267.5 206.8h0M1268.9 216.2h0M1277.5 221.7h0M1265.6 208h0M1260.5 218.8h0M1265.1 218.8h0M1259.8 217.2h0M1267.6 209h0M1266.5 216.4h0M1261.8 219.3h0M1261.1 211.9h0M1259 220.4h0M1261.3 208.5h0M1261.4 220.4h0M1267.6 219.2h0M1263.8 222.9h0M1260 205.8h0M1267.3 197.8h0M1316.1 207.7h0M1325.5 195.7h0M1316.2 203.3h0M1329.8 192.3h0M1311.3 207.5h0M1322.2 216.1h0M1317.4 215.1h0M1327 198.7h0M1319.7 211.8h0M1326.3 199.4h0M1310.9 192.6h0M1318.4 215.8h0M1316.1 210.8h0M1318.1 218.6h0M1329.4 212.1h0M1327.3 220.1h0M1320.6 203.7h0M1368.1 144.9h0M1420.4 220.4h0M1427.3 213.5h0M1417.2 199.1h0M1430.1 222.5h0M1424 221.3h0M1424.1 202.2h0M1416.3 206.2h0M1425.7 223.1h0M1416.7 197.3h0M1428.5 201.3h0M1420.1 220.6h0M1422.6 205.1h0M1433.2 198.6h0M1427.5 197.5h0M1425.2 223h0M1433.8 217.9h0M1428.3 198.8h0M1420.2 196.1h0M1430.7 202.2h0M1426.3 213.7h0M1416 198.3h0M1417.9 220.1h0M1424.9 223.3h0M1431.7 218.4h0M1434.2 211.7h0M1427.8 222.7h0M1421.8 195h0M1427.3 209.4h0M1419.7 221.6h0M1419.7 196.9h0M1424.9 222.2h0M1427.1 214.8h0M1435 218.6h0M1435.3 201.3h0M1418.8 221.4h0M1431.4 221.8h0M1430.9 172.6h0M1469 142.5h0M1526.7 199h0M1535.9 207.8h0M1536.2 216.3h0M1525.7 200.2h0M1521.6 200.9h0M1525 193.1h0M1527.5 206.5h0M1528.9 205.4h0M1521.2 217.8h0M1540.5 172.7h0M1532.5 174.8h0M1525.7 214.5h0M1533.8 177.5h0M1533 186.9h0M1587.5 210.2h0M1580.5 208.9h0M1585.2 193.9h0M1588.1 217.2h0M1581.2 197h0M1577.2 190.7h0M1576 214.1h0M1572.5 214.5h0M1577.6 193.3h0M1592.6 213.2h0M1590 209.6h0M1576.6 209.7h0M1578.4 193h0M1580.7 201.7h0M1591.3 201.6h0M1589.6 205.4h0M1592.2 211.4h0M1591 203.8h0M1580.5 218h0M1588.4 216.7h0M1586.5 212.4h0M1592.5 210.5h0M1584.3 197.8h0M1578.9 208.8h0M1590.7 216.1h0M1586.7 193.8h0M1580 216.1h0M1581.6 217.1h0M1590.7 218h0M1582.4 213.5h0M1579.9 193.2h0M1581.5 203.3h0M1583.8 204.1h0M1585.9 203.7h0M1584.4 213h0M1572.1 206.8h0M1577.5 199.9h0M1574.6 202.7h0M1589.2 201h0M1574.4 201.9h0M1580.5 201.1h0M1572.9 191.9h0M1583.3 201.3h0M1589.5 160.7h0M1639.9 194.5h0M1629 198.5h0M1628.3 200.7h0M1633.9 200.8h0M1630.8 212.4h0M1639.2 192.9h0M1638.1 215.4h0M1624.9 192.3h0M1643.7 220.1h0M1637 211.6h0M1634 197.9h0M1638.6 210.2h0M1628.4 199.9h0M1637.5 220.1h0M1640.2 194.8h0M1635.1 210.7h0M1626 217.1h0M1644.6 201.5h0M1632.6 213.5h0M1641.7 197.4h0M1632.9 218.6h0M1644.4 191.5h0M1643.7 210.9h0M1640.5 219.6h0M1626.6 215.2h0M1643.6 216.6h0M1630.6 206.1h0M1639.7 197.3h0M1627.8 207.2h0M1644.3 200.6h0M1642.1 194.6h0M1640.8 199.3h0M1642.1 207.2h0M1644.9 218.5h0M1627.6 205.5h0M1640.2 207.9h0M1628.6 219.7h0M1645.2 214h0M1629.3 215h0M1629 203.9h0M1642.9 178.2h0M1640.5 174.7h0M1679.4 214.5h0M1681.1 206.7h0M1685.5 203h0M1679.4 219.1h0M1682.9 208.4h0M1692.3 203.9h0M1687.2 205.5h0M1685 218.4h0M1687.9 209.5h0M1697.3 219.8h0M1692.5 215.9h0M1681.6 206.4h0M1677.7 218.9h0M1697.2 210.2h0M1684.7 212.2h0M1692.2 210.4h0M1697.6 207.3h0M1683.2 212.9h0M1688.2 206.3h0M1689.8 205.6h0M1696 219.9h0M1678.6 204.6h0M1691 213.2h0M1697.1 219.5h0M1693.5 215.5h0M1679.5 219h0M1688.5 195.7h0M1694 171.2h0" stroke="#FF2F26" stroke-width="7.4" stroke-linecap="round" stroke-opacity="0.75" fill="none"/><path d="M999.1 247.9h0M999.5 250.2h0M1002.9 259.2h0M1013.4 247.3h0M1005.2 239.9h0M1004.8 239.7h0M996.6 244.9h0M1008.8 249.5h0M1003.6 240.1h0M1015.6 253.9h0M1004.9 265.7h0M1052.3 252.7h0M1049 269.9h0M1067.3 257.8h0M1066.9 245.2h0M1064 252.7h0M1060.3 246h0M1058.6 246.9h0M1061.2 247.7h0M1048.1 248.4h0M1057.2 255.4h0M1057.7 241.1h0M1060.6 263h0M1054.9 272.7h0M1056.9 266.7h0M1060.7 260.2h0M1059.7 244.4h0M1051.1 242.4h0M1048.1 239.1h0M1062.8 246.7h0M1060.4 240.2h0M1062.2 270.8h0M1064.2 262.3h0M1055.2 256.9h0M1068.5 242.3h0M1057.4 275.2h0M1063.4 274.6h0M1055.7 253.1h0M1054 275.8h0M1061.7 259.3h0M1059.4 250.9h0M1063 262.3h0M1066.4 247.2h0M1060.2 249.2h0M1059.6 270.2h0M1050 248.7h0M1058.4 251.7h0M1068.1 257.2h0M1059.4 255.9h0M1057.9 264.6h0M1058.6 270.4h0M1055.7 275.5h0M1054.7 246.8h0M1059.3 265h0M1058 247.3h0M1061 249.7h0M1058.9 241.4h0M1063.3 262.6h0M1061.9 255.1h0M1056.1 256.7h0M1056.2 257h0M1052.8 244.9h0M1051.2 272.8h0M1050.7 259.1h0M1061.6 238.8h0M1048.7 248.3h0M1060.9 263.1h0M1065.1 247.9h0M1056.6 246h0M1057.6 241.5h0M1051.5 251.2h0M1054.4 244.7h0M1051.8 250.1h0M1065.3 241.7h0M1064.4 252.3h0M1048.6 255.9h0M1059.2 239.2h0M1064.2 250.6h0M1059.9 253.3h0M1058.2 243.2h0M1050.9 249.7h0M1066.7 257h0M1048.1 242.3h0M1047.8 250.4h0M1056 240.6h0M1054.3 269.4h0M1057.7 263.3h0M1065.4 270.5h0M1048.2 243.3h0M1068 246.3h0M1067.5 244.3h0M1049.1 270.6h0M1068.2 249h0M1062.8 260.1h0M1049.5 241.6h0M1068.5 248.5h0M1065.6 256.3h0M1061.1 259.9h0M1067.4 240.1h0M1067.2 244.8h0M1066.3 244.7h0M1059 262.9h0M1054.8 257.9h0M1058.8 249.7h0M1048.5 270.8h0M1051 259.9h0M1057.5 265.5h0M1062.3 247h0M1049.6 250.8h0M1061.1 257.4h0M1057.6 241.4h0M1052.9 309.1h0M1115.2 238.5h0M1116.2 252h0M1114.2 254.9h0M1107.4 252.6h0M1111.9 259.2h0M1114.7 241.4h0M1111.6 245.5h0M1101.8 267.5h0M1101.9 272.1h0M1119.2 260.5h0M1119.3 262.8h0M1109.1 270.1h0M1118.8 243.2h0M1117.4 239.9h0M1107.7 248.9h0M1103.8 239.7h0M1118.4 242h0M1111.7 238.6h0M1117.6 242h0M1111.4 246.4h0M1111.4 249.3h0M1102 268h0M1120 255.5h0M1114.3 260.9h0M1102.1 242.4h0M1108.7 246.6h0M1117.1 253h0M1101.9 241.9h0M1115.9 239.8h0M1102.5 258.6h0M1100.7 242.2h0M1108.6 238.8h0M1101.8 244.9h0M1102.1 268.9h0M1101.2 239.1h0M1100 265.1h0M1109.1 258.6h0M1112.3 252.3h0M1121 255.1h0M1106.4 253.3h0M1110.1 243.1h0M1105.2 241.5h0M1112.7 254.7h0M1109.4 259.8h0M1101.8 247.3h0M1108.2 268.5h0M1106 239.3h0M1105.5 252.4h0M1118.3 267.1h0M1104.6 248.1h0M1118.3 250h0M1119.9 264.2h0M1120.4 272h0M1109 269.6h0M1103.4 259.1h0M1117.2 274.3h0M1102.7 251.9h0M1105 242.7h0M1110.2 241.5h0M1100.2 254.7h0M1111.1 254h0M1116.2 248.7h0M1119.8 238.7h0M1101.9 254.6h0M1113.5 264.7h0M1116.1 255.3h0M1111.9 254.8h0M1116.5 279.7h0M1155.5 248.2h0M1171.7 241.5h0M1159.9 243.5h0M1160.8 247h0M1157.4 255.8h0M1209.4 269.6h0M1259 278.8h0M1266.3 291.3h0M1270.2 247h0M1270.5 247.8h0M1274.6 267h0M1264 252.3h0M1265.7 290.3h0M1258.1 285.7h0M1262.5 304.9h0M1272.6 313h0M1271.3 272.3h0M1277.4 239.3h0M1258.5 284.1h0M1257.8 242.5h0M1277.8 260h0M1272.8 253.2h0M1272 243.6h0M1258.6 281.5h0M1259.6 285.7h0M1261.5 265.6h0M1266.3 272.4h0M1276.1 307.6h0M1265.1 265.8h0M1270.7 265.1h0M1277.9 308.8h0M1274.9 245.5h0M1270.9 259h0M1276.4 253.2h0M1266.4 256.4h0M1262.9 284.8h0M1276.7 300.9h0M1262.3 242h0M1276.7 280.9h0M1265 259.8h0M1258.4 307.3h0M1268.1 312.9h0M1267.6 248.9h0M1259.3 245h0M1260.7 308.6h0M1270 239h0M1275.9 285.2h0M1262.7 238.7h0M1261.3 255.2h0M1259.5 243.1h0M1269.5 306.7h0M1257.4 238.9h0M1273.7 244.4h0M1278.1 251h0M1271.8 292.4h0M1272.4 248.3h0M1266.2 304.8h0M1277.9 242.3h0M1273.2 288.7h0M1275.8 309.6h0M1269 244.7h0M1275.6 258h0M1269.3 307.8h0M1266.2 314h0M1268.6 302h0M1276.5 284.9h0M1276.8 269.9h0M1274.8 280.1h0M1265.6 312.3h0M1270.5 279h0M1266.3 244.7h0M1277.2 257.7h0M1277.2 289.9h0M1272.3 273.3h0M1270.9 244.4h0M1270.8 311.7h0M1265.8 247h0M1260.8 239.7h0M1272.9 309h0M1258.6 247.2h0M1277.6 283.1h0M1261.9 268.2h0M1274.5 263.1h0M1270.3 240.5h0M1270.2 274.1h0M1272.1 281h0M1271.8 284h0M1268.6 273.4h0M1266.9 304.4h0M1259.5 264.7h0M1263.8 249.1h0M1267 252h0M1261.4 286.6h0M1260.9 264.2h0M1264.9 252.2h0M1272.6 274.2h0M1274.8 275.1h0M1266.8 312.5h0M1258.6 258.2h0M1260.7 313.8h0M1264.6 266.8h0M1265.2 244h0M1262.4 248.9h0M1272 292.1h0M1277.6 305.5h0M1275.2 273.4h0M1261.2 240.8h0M1275.6 314.5h0M1266.3 266.1h0M1270.7 251.4h0M1267.1 238.4h0M1262.8 249h0M1265.5 280.2h0M1276.7 307.5h0M1269.4 238.9h0M1263.4 245.5h0M1257.5 287.6h0M1267.1 253.5h0M1267.9 306.4h0M1265.1 244.3h0M1263.8 262.2h0M1274.3 255.6h0M1264.2 242.2h0M1268.4 241.9h0M1277.4 249.5h0M1264.7 278.2h0M1265.6 246.9h0M1269.9 254h0M1264.5 259.7h0M1268.9 297h0M1269.4 249.9h0M1262.7 276.9h0M1265 262.6h0M1270.8 307.5h0M1273.4 275.3h0M1274.1 240.2h0M1267.8 303.5h0M1274.2 257.2h0M1260.3 244.5h0M1275.8 255.5h0M1271.2 274.3h0M1259.4 248.1h0M1265.5 260.2h0M1271.4 271.1h0M1272.7 239.6h0M1259.3 259.9h0M1268.3 367.2h0M1262.8 377.7h0M1276.6 402.2h0M1270.8 368.9h0M1269.8 374.2h0M1265.8 351.8h0M1269.4 335.6h0M1261.9 314.7h0M1261.3 317.6h0M1264.4 339.1h0M1272 331.5h0M1258.5 326.7h0M1266.5 322h0M1267.2 328.1h0M1274.7 314.9h0M1268.4 331.4h0M1258.8 351.4h0M1261 347.1h0M1268.3 331.8h0M1270 324.2h0M1264.3 337.7h0M1272.5 316h0M1260.6 349.5h0M1263.5 344.6h0M1277.6 319.9h0M1277.5 347.8h0M1277.4 322h0M1268.4 321h0M1312.8 246.8h0M1429.6 250h0M1415.4 256.1h0M1423.6 239.4h0M1423.6 243h0M1430.5 241.9h0M1422.4 239.4h0M1416.3 259.2h0M1428.8 251.4h0M1418 240.4h0M1421.2 237.8h0M1425.9 246.8h0M1425.9 251.4h0M1419.8 247.5h0M1417 243.1h0M1416 253.8h0M1434 244.9h0M1432.4 247.8h0M1423.9 255.3h0M1418.6 246.9h0M1428.2 246.1h0M1418.1 237.7h0M1423 239.8h0M1425.1 252.1h0M1433.7 238.1h0M1417.1 237.9h0M1429.9 247.8h0M1427.5 244.2h0M1419.8 255.4h0M1435.5 237.9h0M1414.8 243.6h0M1428.1 240.2h0M1424.2 248.4h0M1414.8 239.3h0M1427.8 239.6h0M1418.5 241.9h0M1429.8 243.4h0M1429.9 253.5h0M1433.8 290.2h0M1476 251.2h0M1485.8 261h0M1482.5 259.1h0M1471.2 264.4h0M1476 267.5h0M1487.5 251.8h0M1488.1 274.2h0M1467.9 270.8h0M1469.4 249.5h0M1468 249.2h0M1472.4 248.7h0M1480.4 265.3h0M1470.5 249.8h0M1483.9 259.7h0M1471.7 277.1h0M1481.3 273.5h0M1480.5 254.1h0M1468.2 272.4h0M1474.7 262.3h0M1476.9 251.6h0M1481.2 270.4h0M1470.3 275.5h0M1486.3 264.3h0M1468.8 274.7h0M1486.6 260.1h0M1475.8 277.2h0M1478.1 250.6h0M1467.9 267.7h0M1477 275.8h0M1487.3 257.7h0M1480.4 287.4h0M1524.4 240.2h0M1526 241.6h0M1536.7 240.3h0M1520.1 245.4h0M1534 248.7h0M1535.3 240.2h0M1523.4 238.2h0M1529.2 241.7h0M1522 237.8h0M1530.5 244.1h0M1521.8 253.7h0M1523.4 243.6h0M1531.5 242.9h0M1534.8 246.3h0M1523.7 239.1h0M1539 244.5h0M1531.2 252h0M1535.9 238.1h0M1524.5 254.5h0M1539.1 239.4h0M1524.3 246.6h0M1523.4 254h0M1522.1 240.9h0M1530.9 241.8h0M1524.6 242h0M1533.3 240h0M1534.8 255.4h0M1539.8 252.5h0M1536 250.4h0M1530.6 240.4h0M1533.6 240.5h0M1533.3 240.8h0M1539.4 237.9h0M1520 249.5h0M1535.5 251.8h0M1522.4 242.9h0M1534.1 253.3h0M1532.4 282.1h0M1628.3 238h0M1637.6 238h0M1632.6 238.8h0M1628.4 249.2h0M1640.5 241.3h0M1643 242.1h0M1630.6 241.6h0M1636.6 247.3h0M1634.6 251.9h0M1645.1 260.4h0M1630.5 250.4h0M1632 268.5h0M1644.9 253.7h0M1628 246h0M1644.3 253.9h0M1645 239.5h0M1629.6 246.3h0M1645.1 243.6h0M1631.6 258.4h0M1639.7 237.8h0M1627.7 246.7h0M1639.3 237.7h0M1626.9 252.4h0M1637.4 244.4h0M1625.8 253.9h0M1635.8 250h0M1637.4 239.7h0M1680.5 263.3h0M1677.7 238.6h0M1680.4 249.4h0M1678.7 253h0M1683.6 245.6h0M1684.1 238.3h0M1695.2 258.7h0M1679.4 239h0M1683.7 238.5h0M1684.2 245.4h0M1683.6 243.7h0M1680.7 239.8h0M1696.8 238.6h0M1683.2 254.8h0M1686.8 255.4h0M1681.8 263h0M1680.9 247.1h0M1693.6 248.3h0M1692.4 247.3h0M1689.4 261.2h0M1681.8 237.7h0M1696.5 244h0M1696.2 262.8h0M1694.1 239.7h0M1683.8 255.7h0M1685.4 240.7h0M1687 237.7h0M1697.4 241.6h0M1679.8 238.1h0M1689 251.1h0M1690.2 242.2h0M1696.7 251.4h0M1679.3 258.6h0M1694.2 239.4h0M1696.7 263.3h0M1697.7 238.8h0M1678.1 244h0M1696.1 286.7h0M1688.7 290.2h0" stroke="#0553B0" stroke-width="7.4" stroke-linecap="round" stroke-opacity="0.78" fill="none"/><path d="M1005.6 254.4h0M1005.9 243.9h0M997.9 261.3h0M1011.7 262.8h0M999.3 255.1h0M1007.2 254.7h0M1013.7 241.8h0M1016.1 253.5h0M1003.7 239.7h0M1013 249.4h0M1050.3 238.5h0M1047.6 252.8h0M1058.2 258.5h0M1066.8 259.7h0M1067.8 265h0M1058.9 238.9h0M1055.6 262.3h0M1065.2 251.1h0M1068.1 240.7h0M1059.6 247.5h0M1052.7 238.6h0M1059.4 243.7h0M1061.3 239.3h0M1052.4 268h0M1058 250h0M1053.2 238.9h0M1067.5 247h0M1053.5 249.6h0M1054.1 239.8h0M1068.1 274.3h0M1066.1 269.8h0M1049 263.6h0M1047.6 245.3h0M1064.6 245.5h0M1056.8 249h0M1056 268.3h0M1064.9 260.8h0M1058.6 238.4h0M1047.9 272.4h0M1049.5 251.3h0M1057.9 265.6h0M1063.9 245.7h0M1063.9 272.9h0M1059 238.6h0M1062.7 276.1h0M1066 268.3h0M1057.8 246.7h0M1051.3 271.1h0M1053.9 262.4h0M1068.5 257.9h0M1065 258h0M1065 261.8h0M1065.4 248.4h0M1053.8 257.9h0M1052.8 242.3h0M1047.6 241.4h0M1053.1 245.4h0M1048.2 247.1h0M1066.6 253.8h0M1066.4 271.1h0M1065 254.8h0M1049.8 238.7h0M1055.4 244.3h0M1059.7 238.7h0M1067 239h0M1054.9 239.4h0M1058.3 255.3h0M1056.1 244.6h0M1052 248h0M1059.7 244.1h0M1061.8 258h0M1065.9 270.3h0M1067.5 250.2h0M1057.8 244.7h0M1063.2 261.6h0M1062.7 272.7h0M1050 264.1h0M1068.2 248.4h0M1064.7 249.8h0M1059.8 253.5h0M1059.2 268.3h0M1054.5 238.9h0M1051.2 240.3h0M1052.9 252.9h0M1057.3 241h0M1067.8 239.1h0M1050.6 270.2h0M1058.3 249.3h0M1050.5 241.9h0M1056.7 260.1h0M1068 248.7h0M1060.1 264.8h0M1067.4 254.2h0M1048 258.4h0M1059 239.1h0M1056.5 262.2h0M1054.4 270.2h0M1064.6 265.6h0M1049.5 259h0M1057.8 244h0M1059.5 261.7h0M1052.2 238.7h0M1064.8 247.5h0M1067 275.4h0M1061.4 239.9h0M1068.5 271.1h0M1067.3 266.7h0M1051 246.8h0M1052 261.8h0M1060.7 241.8h0M1064.8 286.7h0M1054.7 287.1h0M1117.9 241.4h0M1120.1 242.2h0M1119.4 255.2h0M1108.3 247.4h0M1119.2 243.9h0M1107.7 259.2h0M1100 257.5h0M1109 242.2h0M1101.2 269.5h0M1120.1 245.9h0M1108.2 242h0M1103.5 249.2h0M1112 264.3h0M1120.2 272.2h0M1117.2 269.6h0M1104 243.3h0M1100.1 246.5h0M1109.9 238.5h0M1117.1 273h0M1116.5 248h0M1107.1 274h0M1112.6 251.9h0M1111.9 273h0M1108.1 258.4h0M1103.6 253.2h0M1111.1 273.1h0M1110.8 252h0M1100.9 243.9h0M1113.1 249.3h0M1105.6 253.1h0M1102.5 273.7h0M1114.3 248.7h0M1100.1 242h0M1118.7 243.4h0M1112.9 242.1h0M1108.7 244h0M1113.2 245.5h0M1110.1 258h0M1110.4 244.5h0M1108.7 241.1h0M1102.1 254.1h0M1109.9 238.7h0M1101.1 238.7h0M1102.8 243.2h0M1114.9 243.7h0M1104.3 238.5h0M1110.1 247.3h0M1112 238.6h0M1101.2 258h0M1118.2 239h0M1113.2 240.4h0M1110.7 246.9h0M1119.1 274.1h0M1116.7 270.2h0M1104.1 243.1h0M1115.7 251.3h0M1107.2 242.7h0M1116.4 267.9h0M1116.9 265.9h0M1115.6 242.7h0M1101.8 245.7h0M1114.5 265.5h0M1116.3 249.4h0M1107.1 261h0M1115.6 244.3h0M1120.7 255.8h0M1106.2 282.1h0M1172 244.7h0M1165.9 242.5h0M1169 254.8h0M1153.7 245.1h0M1168.5 251.4h0M1161.5 267.1h0M1268.8 273.3h0M1266.7 241.1h0M1258.1 272.7h0M1265 288.3h0M1259.1 264.5h0M1269.9 284.1h0M1262.2 239.4h0M1264.6 288.2h0M1262 288.4h0M1258.5 299.4h0M1270.9 241.1h0M1267.8 238.4h0M1270.1 244h0M1272.4 289.2h0M1271.7 289.2h0M1276.3 257.6h0M1257.8 283.6h0M1267.3 262h0M1258.8 243.9h0M1273.5 239.6h0M1276.6 271.4h0M1265.8 241h0M1272.1 238.7h0M1261.9 295.1h0M1276.8 260.8h0M1264 277.2h0M1258.3 290.5h0M1261.9 251h0M1260.8 239.6h0M1276 262.8h0M1274.4 244h0M1265.7 267.4h0M1275.2 262.6h0M1258.8 245.4h0M1257.8 239.3h0M1263 262.9h0M1273.9 259.8h0M1267.2 292h0M1267.7 249.2h0M1263.8 253.5h0M1276.4 309.3h0M1268.2 275h0M1274.9 275.2h0M1261.6 297.9h0M1260.9 263.5h0M1269.9 296.6h0M1262.1 243.2h0M1264.1 240.7h0M1276.2 299h0M1265.8 251.7h0M1259.1 302.9h0M1272.5 284.4h0M1277.5 274h0M1270.9 292.9h0M1276.3 239.3h0M1265.2 250.3h0M1261.4 268.8h0M1258.5 244.2h0M1275.9 274.5h0M1267 300.2h0M1265 285h0M1274.5 246.2h0M1262.2 271.4h0M1264.1 294.9h0M1276.2 312.4h0M1259 313h0M1266.9 239.3h0M1270.6 256.4h0M1267.6 255.3h0M1275.7 262.8h0M1267.1 292.9h0M1270.4 281.9h0M1260.7 287.3h0M1278 273.5h0M1271.2 259.2h0M1270.6 240.6h0M1259.8 238.6h0M1265.9 244h0M1273.3 301.8h0M1259.7 244.6h0M1274.7 277.5h0M1258.3 313.2h0M1272.5 252h0M1272.9 244.4h0M1275.2 240.1h0M1270 279.8h0M1264.1 313h0M1262.2 281.7h0M1264.1 247.2h0M1269.9 299.2h0M1268.6 240.1h0M1276.2 241.7h0M1277.3 248.7h0M1263.8 242.4h0M1271.7 280.3h0M1274.6 259.1h0M1269.5 243.1h0M1277.6 288.1h0M1273.8 259.4h0M1270.6 309h0M1275.4 240.1h0M1269.9 271.8h0M1260.4 238.7h0M1265.1 249.1h0M1258 238.4h0M1270.3 240.5h0M1274.8 301.8h0M1269.6 286.1h0M1260.5 255h0M1260.8 264.2h0M1273.2 249.6h0M1274.7 259.6h0M1271.6 308h0M1273.6 273.4h0M1261.1 305.2h0M1270.6 279.1h0M1268 242.4h0M1259.6 268.4h0M1263.7 243.2h0M1262.1 279.9h0M1273.9 294.1h0M1273.3 281.9h0M1259.1 268.6h0M1267.7 273.2h0M1265.2 284h0M1260.4 250.7h0M1265.1 309.6h0M1261.4 244.1h0M1266.5 290.7h0M1273.5 281h0M1277.7 297.2h0M1262.5 270h0M1270.5 251.1h0M1258.3 301.1h0M1264.2 239.6h0M1266.4 252.7h0M1269.1 298.9h0M1265.9 287.2h0M1272.7 253.2h0M1276.1 257.1h0M1277 360.2h0M1272.5 370.7h0M1276.6 379.4h0M1258.5 409.2h0M1266.7 356.7h0M1269.9 333.6h0M1264.1 335.3h0M1262 345.4h0M1263.5 355.6h0M1259.2 317.1h0M1265.9 317.7h0M1263 314.8h0M1267.3 320.1h0M1263 321.4h0M1274.4 325.8h0M1273.8 348h0M1277.8 314.7h0M1264.2 329.9h0M1265.9 350.9h0M1265.9 334.5h0M1258.3 337.2h0M1264.7 337.3h0M1261 314.9h0M1265.2 351.6h0M1277.6 319h0M1265.5 349.2h0M1264.9 326.7h0M1272.3 335.1h0M1268.1 326.7h0M1321.3 258.7h0M1423.7 243.8h0M1417 238.2h0M1431.5 249.2h0M1424.6 255h0M1421.5 237.8h0M1418.6 246.6h0M1414.7 254.4h0M1424.8 239h0M1434.9 242.5h0M1422.1 258h0M1421.9 250.6h0M1424.4 248.8h0M1432 259.7h0M1434 253.7h0M1425.3 243.8h0M1428.7 242.7h0M1425.1 241.5h0M1415.5 246.1h0M1422 258.6h0M1433 252.1h0M1415.7 257.4h0M1419 257.3h0M1429.7 238.1h0M1431.9 242.5h0M1427.9 239.5h0M1433.8 253.1h0M1415.1 257.6h0M1421.2 243.5h0M1425.7 249.5h0M1418.7 249.8h0M1433.1 238.6h0M1429.6 252.2h0M1431.2 259.1h0M1423.5 246.1h0M1430.7 249.9h0M1427 238.5h0M1421.2 240.5h0M1422.5 291.9h0M1472 250.7h0M1486 248.3h0M1480.8 277.1h0M1482.2 254.9h0M1469.6 273h0M1480.8 262h0M1483.5 272.4h0M1484.3 260h0M1467.9 256.8h0M1467.4 256.7h0M1473.1 269.6h0M1478.9 259.2h0M1483.2 250h0M1482.2 266.9h0M1475.8 255.4h0M1470.7 261.6h0M1472 277h0M1485.4 268.2h0M1474.6 260.1h0M1474.4 251.7h0M1485.7 260.7h0M1479.4 273.9h0M1483 253.1h0M1468.3 263.7h0M1486.9 257.5h0M1486.7 253.7h0M1485.3 261.8h0M1475 250.3h0M1475.8 265.2h0M1472.6 252.7h0M1476.2 283.2h0M1529.1 237.8h0M1536.9 251.6h0M1533.8 244.1h0M1524.7 248.1h0M1536.8 252.8h0M1535.4 241.7h0M1521.7 238.6h0M1534.2 246.1h0M1526.5 249.5h0M1528.1 251.8h0M1520.1 240.8h0M1523.8 238.9h0M1529.9 243.2h0M1521.7 254.1h0M1537 242.4h0M1522.3 253.6h0M1521.5 242.5h0M1527.3 244.6h0M1524.2 239.4h0M1534.3 237.8h0M1535.2 245h0M1519.8 239.6h0M1525 244.1h0M1520.9 238.2h0M1524.2 239.6h0M1539.2 240h0M1530.6 254h0M1538.2 242.9h0M1524.5 248.2h0M1528 241.7h0M1538.4 240.6h0M1536.8 253.8h0M1527.9 240.5h0M1520.2 242.7h0M1525.9 238.4h0M1526.9 239h0M1531.2 265.7h0M1592.4 243.3h0M1625.1 244.1h0M1642.1 240.6h0M1639.3 258.6h0M1628.8 240.8h0M1636.2 244.5h0M1634.7 241h0M1643.4 238h0M1625.8 264.4h0M1634.6 242.4h0M1630.6 254.6h0M1640.5 238.8h0M1638.9 237.7h0M1637.7 238.8h0M1638.4 253.3h0M1627.6 261.3h0M1629.3 240.8h0M1643.2 245.3h0M1639.6 259.2h0M1638.7 257.2h0M1628.5 243.3h0M1638.4 265.1h0M1643.7 255.4h0M1642.4 263.1h0M1628.1 253.7h0M1644 267.7h0M1624.9 237.9h0M1631.6 266.9h0M1686.9 240.1h0M1679.3 238.5h0M1697.6 249.8h0M1683.8 258.7h0M1691 238.1h0M1680.2 241.5h0M1683.7 250.2h0M1682.7 261.9h0M1695 258.6h0M1685.2 261.6h0M1690.9 261.8h0M1679.3 262.9h0M1683.7 253.7h0M1684.4 237.9h0M1688.4 240.4h0M1689.1 239.6h0M1687.6 252.4h0M1682.3 256h0M1682.5 238.8h0M1686 249.5h0M1684.1 246.4h0M1697.7 240.4h0M1697.5 263.8h0M1695 239.5h0M1696.3 256.8h0M1689.3 253.5h0M1697.8 257.3h0M1693.8 244.7h0M1678.1 260.3h0M1693.5 253.3h0M1684.4 240.3h0M1693.8 248h0M1685.7 237.8h0M1690.3 246.7h0M1697.2 245.5h0M1685.7 237.9h0M1677.5 244.1h0M1690.8 294.8h0" stroke="#0553B0" stroke-width="7.4" stroke-linecap="round" stroke-opacity="0.78" fill="none"/><path d="M995.4 263.8h0M997.8 248.6h0M999 244.6h0M1013.3 249.7h0M1006.4 247.6h0M1015.9 241.2h0M1012.3 249.4h0M1006.2 241.7h0M1013.1 260.6h0M997.4 248.2h0M1059.2 238.5h0M1067.8 238.7h0M1065.2 253.3h0M1064.8 239.9h0M1055.8 263.2h0M1062.6 254.6h0M1066.5 259.7h0M1053.6 243.7h0M1062.9 251.9h0M1068.1 239.4h0M1061.2 245.8h0M1058.4 260h0M1063.5 251.1h0M1047.7 258.2h0M1052.4 247h0M1053.5 272.4h0M1050.3 275.2h0M1066.1 259.3h0M1056.6 240.3h0M1061.1 248.7h0M1051 240.4h0M1048 256.8h0M1068.5 262.1h0M1055.2 274.4h0M1062.8 244.9h0M1064.4 248.8h0M1067.6 271.7h0M1047.6 246.4h0M1064 246.6h0M1063.5 267.1h0M1057.7 250.8h0M1061.7 247.1h0M1054.9 247.3h0M1048.9 272.2h0M1063.4 261.4h0M1052.1 261.6h0M1068.1 250.1h0M1055.6 264h0M1055.3 259.5h0M1047.7 244h0M1055.7 270.2h0M1056.4 246.7h0M1068.3 239h0M1065.9 263.7h0M1061 268.1h0M1059.6 246.5h0M1055.1 262.5h0M1059.1 267.6h0M1067.9 238.4h0M1047.8 255.8h0M1065.3 240.2h0M1058.7 243.6h0M1055 257.8h0M1050.4 261.7h0M1050.9 260.1h0M1066.7 269.5h0M1058 258.5h0M1067.8 259.6h0M1064.1 246.4h0M1050 264.1h0M1052.4 242.3h0M1055.8 265h0M1055.8 239.4h0M1062.1 238.8h0M1052.8 243.5h0M1055.1 251.5h0M1061.9 239.6h0M1054.3 269.2h0M1064.7 260.8h0M1064.6 238.5h0M1063.1 262.5h0M1060.9 240.9h0M1057.1 253.4h0M1048.7 239.4h0M1063 240.9h0M1061.2 239.3h0M1066.6 261.5h0M1055.5 268h0M1054 272.3h0M1055.2 239.7h0M1048.5 243.7h0M1065.1 244.1h0M1055.5 272.3h0M1063.5 260h0M1065.4 239.7h0M1056.5 241.3h0M1061.5 238.5h0M1064.8 257.1h0M1061 241h0M1067.3 251.9h0M1066.1 273.2h0M1050 258.2h0M1063.2 267.5h0M1049.2 256.3h0M1063.4 241.7h0M1068.2 258.5h0M1049.3 260.4h0M1050.5 250h0M1049.8 272.6h0M1060.5 253.8h0M1060.4 281.4h0M1104.9 262.9h0M1102.9 253.8h0M1103.1 238.9h0M1101 241.7h0M1106 268.3h0M1106.3 243.1h0M1112.5 239.9h0M1117.2 238.8h0M1106.5 265.8h0M1120.4 255.2h0M1105.8 269.4h0M1112 262.8h0M1118.4 243.6h0M1100 244.4h0M1119.7 243.7h0M1106 258.6h0M1106.6 254h0M1111.6 238.4h0M1111.3 255.9h0M1120.4 270.8h0M1104.8 240.9h0M1108.1 238.4h0M1106.9 266.1h0M1113.7 245.5h0M1107.4 260.2h0M1106.2 243.8h0M1108.4 253.1h0M1103.9 245.9h0M1112 248.1h0M1116.7 248.6h0M1107.8 261.7h0M1119.5 242.9h0M1120.5 263.3h0M1113 243.4h0M1108.4 254.6h0M1110.6 238.9h0M1115.5 255.6h0M1119.5 249.6h0M1113.9 250.8h0M1117.1 273.1h0M1109.1 248.4h0M1114.9 257.7h0M1108.6 258.4h0M1119.4 251.4h0M1116.1 257.1h0M1108.4 262.8h0M1114.8 268.7h0M1119.4 238.5h0M1115.1 270.9h0M1112.2 244.7h0M1106.3 258h0M1119 242.5h0M1107.4 245h0M1113.9 250.7h0M1107.6 243.9h0M1119.1 239.7h0M1109.3 258.9h0M1113.8 246.1h0M1116.4 270.8h0M1110.1 242.3h0M1109.4 258h0M1116.2 261.4h0M1120.3 264.6h0M1102.1 261.2h0M1105.7 246.7h0M1116.8 241.3h0M1109.7 259.3h0M1106.6 293h0M1160.5 242.3h0M1154.7 244.5h0M1159.4 252.8h0M1171.2 251.7h0M1168.2 244.6h0M1210.6 247.8h0M1267.5 245.7h0M1278.1 241h0M1259 287.8h0M1271.3 261h0M1273.7 285.7h0M1273.4 314.3h0M1268.9 300.4h0M1265.1 265.9h0M1261.4 283.4h0M1271.6 267.4h0M1269.9 276.2h0M1274.7 240.1h0M1265 239h0M1278.3 268.8h0M1272.9 291.1h0M1275.2 250.8h0M1267.7 272.2h0M1272.2 312.8h0M1275.1 249.9h0M1261.3 266.4h0M1262.4 305h0M1277.5 296.4h0M1269.4 300.5h0M1261.6 306.3h0M1270.3 244.5h0M1267.2 241h0M1269.6 279.6h0M1271.9 275.6h0M1264.3 286.4h0M1267.4 247.9h0M1272.5 243.6h0M1273.6 254.9h0M1262.8 261.3h0M1269.4 296.6h0M1266.4 297.3h0M1269.9 268.3h0M1271.9 247.2h0M1263.6 245.9h0M1263.4 278.9h0M1277 303.3h0M1272.5 249h0M1273.8 304.2h0M1257.5 310.9h0M1275 261.7h0M1260.3 266.1h0M1266.1 241.5h0M1268.1 313.2h0M1275.6 238.7h0M1265 244.7h0M1272.1 246.4h0M1271.4 286.8h0M1263 270h0M1257.9 288.5h0M1265.6 264h0M1258.6 238.5h0M1270.6 278h0M1266.6 291.8h0M1264.4 259.8h0M1267.5 260.6h0M1262 271.4h0M1273.5 240h0M1276.4 243.6h0M1262.3 256.9h0M1275.7 252.2h0M1265.2 263.4h0M1276.9 294h0M1277 243.8h0M1271.2 238.6h0M1259.8 242.5h0M1264 250.4h0M1258.6 284.3h0M1268.5 299.3h0M1258.6 252.3h0M1265.8 238.8h0M1275.9 266.5h0M1264.2 238.8h0M1267.6 292.6h0M1272.9 252.4h0M1277.7 290h0M1270 291.8h0M1267.9 267.6h0M1267 241.8h0M1275.2 240.5h0M1277.1 267.7h0M1266.3 262.2h0M1263.2 273.7h0M1268.6 238.5h0M1274.9 283.6h0M1259.5 239.6h0M1267.5 264.1h0M1276.7 280.3h0M1272.1 246.5h0M1266.8 251.7h0M1260.6 293.3h0M1271.3 239.8h0M1277 244.2h0M1276.4 281.2h0M1275.1 305.1h0M1266.6 260.9h0M1261.2 254.9h0M1265.7 288.9h0M1264.9 264.8h0M1263 264.2h0M1258.2 241.8h0M1275.4 251.6h0M1270.3 270.1h0M1270.3 305.2h0M1265.6 238.7h0M1268.6 263.9h0M1265.1 293.5h0M1258.4 292.2h0M1272 253.1h0M1265.7 260.2h0M1258.7 238.5h0M1258.7 280.6h0M1274 275.8h0M1276.9 255.8h0M1258.5 272.3h0M1258.9 239.1h0M1276.5 280.7h0M1258.3 252.2h0M1264.5 245.1h0M1271.3 291.8h0M1268.5 290.8h0M1261.3 257.1h0M1277 252.2h0M1260.1 239.7h0M1262.3 268.9h0M1274.5 239.7h0M1272.1 261.4h0M1257.6 239.6h0M1258 306.2h0M1259.6 257.7h0M1263.6 239.3h0M1265.5 246.6h0M1262.2 270.1h0M1274.6 251.5h0M1263.4 238.6h0M1266.2 248.1h0M1269 259h0M1259.8 363.7h0M1259 372.4h0M1259.4 395.2h0M1271.8 410.9h0M1270.1 351.4h0M1262.1 331h0M1266.2 338.1h0M1264.1 326.1h0M1272.9 345.7h0M1275.4 320.6h0M1265.3 315h0M1259.6 322h0M1277.2 314.7h0M1277.5 324.4h0M1259.4 324.4h0M1269.7 343h0M1264.6 321h0M1258.1 320.1h0M1277.3 317.4h0M1276.2 317.3h0M1259.4 339.8h0M1265.7 326.6h0M1271.6 348.1h0M1260 316.2h0M1276.5 325.3h0M1263.9 347.1h0M1269.1 353.2h0M1264.1 339.8h0M1319 246.4h0M1326.8 272.3h0M1430.4 238.4h0M1417.5 250.6h0M1431.1 243.8h0M1426.2 245.9h0M1421.3 254.7h0M1418.5 259h0M1434.8 245.8h0M1425.2 247.5h0M1423.7 247.1h0M1419.3 245.9h0M1433 243.6h0M1415.3 246.3h0M1417.2 237.9h0M1424 248.2h0M1417.4 243.7h0M1431.8 244.4h0M1422.1 251h0M1425.6 246.6h0M1422.8 251h0M1421.1 246.2h0M1430.3 238.2h0M1422.9 241h0M1415.1 253h0M1432.5 259.7h0M1432.3 243.2h0M1432.4 249h0M1434.8 244.1h0M1433.6 252.2h0M1426.4 240.8h0M1423.5 245.8h0M1433.8 246.6h0M1431.1 238.1h0M1419.4 247.3h0M1430.8 238.5h0M1429.1 237.8h0M1420.4 252.5h0M1420.2 272.7h0M1416.3 265.7h0M1474.2 270.6h0M1474.7 249.5h0M1479.2 259.2h0M1482.7 251h0M1487.1 250.7h0M1481.4 268.3h0M1486.2 248.7h0M1483.1 261.4h0M1471 250.4h0M1486.7 276.8h0M1481.3 266.8h0M1483.1 248.2h0M1477.4 272.3h0M1476.9 267.5h0M1469.7 270h0M1471.9 250h0M1471.7 253.6h0M1485.3 255h0M1470.8 252.1h0M1472.1 250.5h0M1479.7 258h0M1470.1 269.9h0M1480 275.7h0M1467.9 257.9h0M1470.8 250.2h0M1487.9 249.4h0M1481.1 262.4h0M1470.9 253h0M1476.7 276.3h0M1486.1 260.5h0M1528.3 256.2h0M1534.9 255h0M1524.9 241.1h0M1536.4 248.4h0M1531.9 252.9h0M1536.9 254.6h0M1531.7 245.7h0M1538.7 253.3h0M1540 238.2h0M1531.3 247.5h0M1532 250.6h0M1531 237.8h0M1531.4 253.9h0M1540.3 238.1h0M1524.3 238h0M1534.7 246.5h0M1539.6 248.4h0M1521.5 240.4h0M1526.3 249.2h0M1538.2 255.6h0M1524.4 243.7h0M1538.5 243h0M1521.2 241.7h0M1536.3 254.9h0M1521.4 252h0M1539.2 239.7h0M1530.3 254h0M1521.2 238.1h0M1526.2 254.3h0M1526.6 237.9h0M1522.5 241.1h0M1529.2 253.4h0M1524.1 239.6h0M1525.7 250.6h0M1525.6 252h0M1534 251.3h0M1533.3 244.3h0M1530.7 272.7h0M1576.1 243.3h0M1627.9 248.2h0M1627 266h0M1625.8 249.4h0M1632.4 263.9h0M1634.1 238.3h0M1639.2 250.8h0M1645.1 247.6h0M1640.6 255.8h0M1628.2 259.4h0M1631.7 266.5h0M1641 262.2h0M1631.6 254.7h0M1628.9 254.6h0M1627.2 246.7h0M1643.2 242.6h0M1634.1 254.7h0M1632.6 241h0M1633.2 244.4h0M1631.2 249.2h0M1625.7 241h0M1624.8 250.6h0M1639.7 253.6h0M1640.1 265.6h0M1626.2 263.6h0M1641 254.5h0M1639.5 238h0M1625.9 272.7h0M1689.3 242.4h0M1693.5 242.9h0M1679.8 262.5h0M1696.1 250.9h0M1691.2 252.2h0M1681.7 238.7h0M1695.9 242.6h0M1683.1 262.2h0M1688.1 250.2h0M1689.3 238.6h0M1696.3 246h0M1683 254.5h0M1692 240.2h0M1683.3 248.3h0M1691.8 239h0M1679.3 240.9h0M1696 240.5h0M1683 240.5h0M1693.8 237.8h0M1684.8 242.6h0M1680.1 250.4h0M1697.3 237.7h0M1694 247h0M1691.3 255.4h0M1691.3 251.1h0M1679.8 248.4h0M1697.5 239.1h0M1690.4 249h0M1696.9 250.3h0M1679.4 241.8h0M1684.1 246h0M1695.7 240.6h0M1677.1 241h0M1679.2 246.9h0M1685.8 252.2h0M1692.3 242.6h0M1689.2 276.2h0M1696.6 300.7h0" stroke="#0553B0" stroke-width="7.4" stroke-linecap="round" stroke-opacity="0.78" fill="none"/><path d="M973.9 230.7L1719.8 230.7" stroke="#000" stroke-width="1.3"/><rect x="1656.4" y="40.3" width="217.1" height="104.9" fill="#F0F1F1"/><path d="M1669.4 58.6h0" stroke="#5B7FC2" stroke-width="10" stroke-linecap="round" fill="none"/><path d="M1669.4 94.1h0" stroke="#B9BABA" stroke-width="10" stroke-linecap="round" fill="none"/><path d="M1669.4 130h0" stroke="#E86564" stroke-width="10" stroke-linecap="round" fill="none"/><text x="1686.5" y="67.5" font-size="26">down-regulated</text><text x="1686.5" y="100.8" font-size="26">not-significant</text><text x="1686.5" y="132.5" font-size="26">up-regulated</text><text x="419.2" y="649.5" text-anchor="middle" font-size="36">Early response (&lt; 2 h, 570 genes)</text><rect x="74.9" y="668.3" width="221.1" height="35.2" fill="#F4E8E8"/><rect x="301.5" y="668.3" width="220" height="35.2" fill="#E6EEEA"/><rect x="528" y="668.3" width="221" height="35.2" fill="#E8E8F4"/><text x="190.7" y="699.4" text-anchor="middle" fill="#1A1A1A" font-size="31">CA1</text><text x="414.9" y="699.4" text-anchor="middle" fill="#1A1A1A" font-size="31">CA3</text><text x="639.3" y="699.4" text-anchor="middle" fill="#1A1A1A" font-size="32">DG</text><rect x="44.3" y="706.9" width="25.9" height="161.1" fill="#96979B"/><text transform="translate(36 787.5) rotate(-90)" text-anchor="middle" font-size="32">109</text><rect x="76.6" y="706.9" width="220.2" height="161.1" fill="#CBCBCA"/><rect x="303.3" y="706.9" width="220.2" height="161.1" fill="#CBCBCA"/><rect x="529.1" y="706.9" width="220.2" height="161.1" fill="#CBCBCA"/><rect x="44.3" y="874.9" width="25.9" height="434.1" fill="#C9878C"/><text transform="translate(36 1092) rotate(-90)" text-anchor="middle" font-size="32">294</text><rect x="76.6" y="874.9" width="220.2" height="434.1" fill="#CBCBCA"/><rect x="303.3" y="874.9" width="220.2" height="434.1" fill="#CBCBCA"/><rect x="529.1" y="874.9" width="220.2" height="434.1" fill="#CBCBCA"/><rect x="44.3" y="1315.4" width="25.9" height="168.4" fill="#9496C6"/><text transform="translate(36 1399.6) rotate(-90)" text-anchor="middle" font-size="32">114</text><rect x="76.6" y="1315.4" width="220.2" height="168.4" fill="#CBCBCA"/><rect x="303.3" y="1315.4" width="220.2" height="168.4" fill="#CBCBCA"/><rect x="529.1" y="1315.4" width="220.2" height="168.4" fill="#CBCBCA"/><rect x="44.3" y="1490.6" width="25.9" height="77.9" fill="#86AF92"/><text transform="translate(36 1529.5) rotate(-90)" text-anchor="middle" font-size="32">53</text><rect x="76.6" y="1490.6" width="220.2" height="77.9" fill="#CBCBCA"/><rect x="303.3" y="1490.6" width="220.2" height="77.9" fill="#CBCBCA"/><rect x="529.1" y="1490.6" width="220.2" height="77.9" fill="#CBCBCA"/><path d="M76.6 706.9h22v1.5h-22zM142.7 706.9h44v1.5h-44zM76.6 708.4h22v1.5h-22zM98.6 708.4h22v1.5h-22zM120.6 708.4h22v1.5h-22zM142.7 708.4h22v1.5h-22zM164.7 708.4h22v1.5h-22zM98.6 835.5h44v1.5h-44zM98.6 838.4h22v1.5h-22zM98.6 839.9h22v1.5h-22zM120.6 839.9h22v1.5h-22zM98.6 841.4h22v1.5h-22zM120.6 841.4h22v1.5h-22z" fill="#E92C2A"/><path d="M98.6 706.9h22v1.5h-22zM76.6 709.9h22v1.5h-22zM120.6 709.9h22v1.5h-22zM76.6 711.3h22v1.5h-22zM120.6 711.3h22v1.5h-22zM98.6 715.8h22v1.5h-22zM76.6 837h22v1.5h-22zM120.6 837h22v1.5h-22zM76.6 838.4h22v1.5h-22zM120.6 838.4h22v1.5h-22z" fill="#EC4238"/><path d="M120.6 706.9h22v1.5h-22zM98.6 709.9h22v1.5h-22zM76.6 835.5h22v1.5h-22zM76.6 839.9h22v1.5h-22zM76.6 841.4h22v1.5h-22z" fill="#EA322D"/><path d="M142.7 709.9h22v1.5h-22zM98.6 711.3h22v1.5h-22zM76.6 712.8h22v1.5h-22zM120.6 712.8h22v1.5h-22zM76.6 714.3h44v1.5h-44zM164.7 714.3h22v1.5h-22zM164.7 717.2h22v1.5h-22zM142.7 727.6h22v1.5h-22zM120.6 730.5h22v1.5h-22z" fill="#F0644C"/><path d="M164.7 709.9h22v1.5h-22zM120.6 717.2h44v1.5h-44zM98.6 720.2h44v1.5h-44zM98.6 727.6h22v1.5h-22zM120.6 729.1h22v1.5h-22zM142.7 732h22v1.5h-22zM142.7 788.2h22v1.5h-22zM142.7 794.1h22v1.5h-22zM142.7 810.4h22v1.5h-22zM142.7 835.5h22v1.5h-22z" fill="#F38E77"/><path d="M186.7 709.9h44v1.5h-44zM98.6 718.7h22v1.5h-22zM98.6 724.6h22v1.5h-22zM98.6 729.1h22v1.5h-22zM98.6 730.5h22v1.5h-22zM98.6 732h22v1.5h-22zM120.6 736.5h22v1.5h-22zM164.7 736.5h22v1.5h-22zM142.7 737.9h22v1.5h-22zM164.7 739.4h22v1.5h-22zM164.7 742.4h22v1.5h-22zM142.7 745.3h22v1.5h-22zM120.6 746.8h22v1.5h-22zM120.6 748.3h22v1.5h-22zM164.7 748.3h22v1.5h-22zM120.6 751.2h22v1.5h-22zM164.7 751.2h22v1.5h-22zM142.7 752.7h22v1.5h-22zM120.6 755.7h22v1.5h-22zM142.7 758.6h22v1.5h-22zM142.7 760.1h22v1.5h-22zM142.7 761.6h44v1.5h-44zM164.7 763.1h22v1.5h-22zM142.7 766h22v1.5h-22zM164.7 767.5h22v1.5h-22zM142.7 769h22v1.5h-22zM164.7 771.9h22v1.5h-22zM120.6 773.4h22v1.5h-22zM164.7 773.4h22v1.5h-22zM142.7 774.9h44v1.5h-44zM142.7 779.3h22v1.5h-22zM142.7 782.3h22v1.5h-22zM142.7 786.7h44v1.5h-44zM142.7 791.1h22v1.5h-22zM164.7 797.1h22v1.5h-22zM142.7 798.5h22v1.5h-22zM142.7 800h22v1.5h-22zM142.7 801.5h22v1.5h-22zM120.6 804.4h22v1.5h-22zM142.7 805.9h22v1.5h-22zM120.6 807.4h22v1.5h-22zM120.6 808.9h22v1.5h-22zM164.7 808.9h22v1.5h-22zM120.6 811.8h22v1.5h-22zM164.7 811.8h22v1.5h-22zM142.7 813.3h22v1.5h-22zM120.6 814.8h22v1.5h-22zM164.7 814.8h22v1.5h-22zM142.7 816.3h22v1.5h-22zM120.6 817.7h22v1.5h-22zM98.6 819.2h22v1.5h-22zM142.7 819.2h22v1.5h-22zM120.6 820.7h44v1.5h-44zM120.6 822.2h22v1.5h-22zM98.6 825.1h22v1.5h-22zM98.6 826.6h66.1v1.5h-66.1zM98.6 831.1h22v1.5h-22zM142.7 831.1h22v1.5h-22z" fill="#ECA290"/><path d="M230.7 709.9h22v1.5h-22zM164.7 711.3h22v1.5h-22zM164.7 712.8h22v1.5h-22zM120.6 718.7h22v1.5h-22zM142.7 729.1h22v1.5h-22zM98.6 735h22v1.5h-22zM142.7 740.9h22v1.5h-22zM142.7 743.8h22v1.5h-22zM142.7 748.3h22v1.5h-22zM142.7 749.8h22v1.5h-22zM142.7 755.7h22v1.5h-22zM142.7 763.1h22v1.5h-22zM120.6 770.5h66.1v1.5h-66.1zM142.7 777.8h22v1.5h-22zM164.7 779.3h22v1.5h-22zM142.7 783.8h22v1.5h-22zM142.7 785.2h22v1.5h-22zM142.7 792.6h22v1.5h-22zM142.7 795.6h22v1.5h-22zM120.6 797.1h22v1.5h-22zM164.7 801.5h22v1.5h-22zM142.7 803h22v1.5h-22zM142.7 808.9h22v1.5h-22zM142.7 814.8h22v1.5h-22zM98.6 817.7h22v1.5h-22zM142.7 817.7h22v1.5h-22zM120.6 831.1h22v1.5h-22zM142.7 837h22v1.5h-22zM142.7 838.4h22v1.5h-22zM142.7 839.9h22v1.5h-22z" fill="#F09984"/><path d="M142.7 711.3h22v1.5h-22zM76.6 715.8h22v1.5h-22zM142.7 715.8h44v1.5h-44zM76.6 717.2h22v1.5h-22zM120.6 721.7h22v1.5h-22zM120.6 726.1h22v1.5h-22zM120.6 727.6h22v1.5h-22zM142.7 730.5h22v1.5h-22zM120.6 732h22v1.5h-22zM120.6 733.5h44v1.5h-44z" fill="#F1725A"/><path d="M98.6 712.8h22v1.5h-22zM142.7 712.8h22v1.5h-22zM120.6 715.8h22v1.5h-22zM120.6 735h44v1.5h-44zM98.6 837h22v1.5h-22z" fill="#EE5342"/><path d="M120.6 714.3h44v1.5h-44zM98.6 717.2h22v1.5h-22zM142.7 718.7h22v1.5h-22zM142.7 720.2h22v1.5h-22zM142.7 721.7h22v1.5h-22zM120.6 723.2h44v1.5h-44zM120.6 724.6h44v1.5h-44zM142.7 726.1h22v1.5h-22z" fill="#F28069"/><path d="M274.8 714.3h22v1.5h-22zM274.8 721.7h22v1.5h-22zM274.8 726.1h22v1.5h-22zM76.6 730.5h22v1.5h-22zM76.6 739.4h22v1.5h-22zM98.6 751.2h22v1.5h-22zM274.8 761.6h22v1.5h-22zM274.8 767.5h22v1.5h-22zM76.6 776.4h44v1.5h-44zM274.8 780.8h22v1.5h-22zM76.6 786.7h22v1.5h-22zM98.6 800h22v1.5h-22zM208.7 805.9h22v1.5h-22zM274.8 807.4h22v1.5h-22zM76.6 813.3h22v1.5h-22zM164.7 817.7h22v1.5h-22zM252.8 819.2h22v1.5h-22zM186.7 842.9h22v1.5h-22zM208.7 844.4h22v1.5h-22zM230.7 847.3h22v1.5h-22z" fill="#C4BECB"/><path d="M164.7 720.2h22v1.5h-22zM164.7 721.7h22v1.5h-22zM164.7 727.6h22v1.5h-22zM164.7 730.5h22v1.5h-22zM164.7 732h22v1.5h-22zM98.6 754.2h22v1.5h-22zM98.6 758.6h22v1.5h-22zM98.6 763.1h22v1.5h-22zM186.7 811.8h22v1.5h-22zM230.7 811.8h44v1.5h-44zM76.6 823.7h22v1.5h-22zM76.6 825.1h22v1.5h-22zM76.6 829.6h22v1.5h-22z" fill="#D9BAB2"/><path d="M142.7 736.5h22v1.5h-22zM98.6 739.4h22v1.5h-22zM142.7 739.4h22v1.5h-22zM164.7 740.9h22v1.5h-22zM120.6 742.4h44v1.5h-44zM164.7 743.8h22v1.5h-22zM142.7 746.8h154.1v1.5h-154.1zM186.7 749.8h22v1.5h-22zM230.7 749.8h22v1.5h-22zM142.7 751.2h22v1.5h-22zM120.6 754.2h66.1v1.5h-66.1zM164.7 755.7h22v1.5h-22zM120.6 757.2h66.1v1.5h-66.1zM120.6 761.6h22v1.5h-22zM120.6 764.5h44v1.5h-44zM120.6 767.5h44v1.5h-44zM164.7 769h22v1.5h-22zM120.6 771.9h44v1.5h-44zM186.7 771.9h44v1.5h-44zM274.8 771.9h22v1.5h-22zM120.6 774.9h22v1.5h-22zM164.7 776.4h22v1.5h-22zM120.6 780.8h66.1v1.5h-66.1zM120.6 782.3h22v1.5h-22zM120.6 783.8h22v1.5h-22zM164.7 785.2h22v1.5h-22zM120.6 786.7h22v1.5h-22zM120.6 788.2h22v1.5h-22zM164.7 788.2h22v1.5h-22zM120.6 789.7h66.1v1.5h-66.1zM120.6 791.1h22v1.5h-22zM164.7 791.1h22v1.5h-22zM120.6 792.6h22v1.5h-22zM164.7 792.6h22v1.5h-22zM120.6 794.1h22v1.5h-22zM164.7 794.1h22v1.5h-22zM120.6 795.6h22v1.5h-22zM164.7 795.6h22v1.5h-22zM142.7 797.1h22v1.5h-22zM164.7 798.5h22v1.5h-22zM120.6 800h22v1.5h-22zM164.7 800h22v1.5h-22zM120.6 801.5h22v1.5h-22zM120.6 803h22v1.5h-22zM164.7 803h22v1.5h-22zM164.7 804.4h22v1.5h-22zM120.6 805.9h22v1.5h-22zM164.7 805.9h22v1.5h-22zM142.7 807.4h44v1.5h-44zM120.6 810.4h22v1.5h-22zM142.7 811.8h22v1.5h-22zM252.8 817.7h22v1.5h-22zM120.6 819.2h22v1.5h-22zM98.6 823.7h66.1v1.5h-66.1zM186.7 823.7h22v1.5h-22zM274.8 823.7h22v1.5h-22zM120.6 825.1h22v1.5h-22zM98.6 828.1h66.1v1.5h-66.1zM142.7 841.4h22v1.5h-22z" fill="#E7AA9C"/><path d="M208.7 736.5h22v1.5h-22zM120.6 763.1h22v1.5h-22zM252.8 764.5h22v1.5h-22zM76.6 774.9h22v1.5h-22zM186.7 779.3h22v1.5h-22zM76.6 788.2h22v1.5h-22zM274.8 803h22v1.5h-22zM76.6 817.7h22v1.5h-22zM164.7 828.1h22v1.5h-22zM142.7 829.6h22v1.5h-22zM230.7 848.8h22v1.5h-22zM252.8 850.3h22v1.5h-22zM208.7 851.7h22v1.5h-22zM252.8 851.7h22v1.5h-22z" fill="#D1C2BD"/><path d="M98.6 737.9h44v1.5h-44zM164.7 737.9h22v1.5h-22zM120.6 740.9h22v1.5h-22zM98.6 742.4h22v1.5h-22zM98.6 743.8h44v1.5h-44zM98.6 745.3h44v1.5h-44zM164.7 745.3h22v1.5h-22zM98.6 746.8h22v1.5h-22zM98.6 748.3h22v1.5h-22zM120.6 749.8h22v1.5h-22zM164.7 749.8h22v1.5h-22zM208.7 749.8h22v1.5h-22zM252.8 749.8h22v1.5h-22zM120.6 752.7h22v1.5h-22zM164.7 752.7h22v1.5h-22zM98.6 755.7h22v1.5h-22zM120.6 758.6h22v1.5h-22zM164.7 758.6h22v1.5h-22zM120.6 760.1h22v1.5h-22zM164.7 760.1h22v1.5h-22zM164.7 764.5h22v1.5h-22zM120.6 766h22v1.5h-22zM164.7 766h22v1.5h-22zM120.6 769h22v1.5h-22zM230.7 771.9h44v1.5h-44zM120.6 776.4h22v1.5h-22zM120.6 777.8h22v1.5h-22zM164.7 777.8h22v1.5h-22zM164.7 782.3h22v1.5h-22zM120.6 785.2h22v1.5h-22zM186.7 789.7h110.1v1.5h-110.1zM120.6 798.5h22v1.5h-22zM142.7 804.4h22v1.5h-22zM164.7 810.4h22v1.5h-22zM208.7 811.8h22v1.5h-22zM274.8 811.8h22v1.5h-22zM120.6 813.3h22v1.5h-22zM164.7 813.3h22v1.5h-22zM120.6 816.3h22v1.5h-22zM164.7 816.3h22v1.5h-22zM208.7 817.7h44v1.5h-44zM274.8 817.7h22v1.5h-22zM230.7 823.7h22v1.5h-22zM98.6 829.6h44v1.5h-44z" fill="#E1B2A8"/><path d="M98.6 842.9h22v1.5h-22zM142.7 845.8h22v1.5h-22zM142.7 847.3h22v1.5h-22zM142.7 848.8h22v1.5h-22zM142.7 850.3h22v1.5h-22z" fill="#B9A9D2"/><path d="M120.6 848.8h22v1.5h-22zM120.6 851.7h22v1.5h-22zM120.6 853.2h22v1.5h-22zM230.7 860.6h22v1.5h-22zM274.8 860.6h22v1.5h-22z" fill="#BEB3CF"/><path d="M142.7 851.7h22v1.5h-22zM142.7 853.2h22v1.5h-22zM142.7 854.7h22v1.5h-22zM142.7 856.2h22v1.5h-22zM142.7 862.1h22v1.5h-22zM120.6 863.6h66.1v1.5h-66.1zM120.6 865h66.1v1.5h-66.1zM120.6 866.5h22v1.5h-22zM164.7 866.5h22v1.5h-22z" fill="#A997CB"/><path d="M120.6 862.1h22v1.5h-22zM164.7 862.1h22v1.5h-22zM142.7 866.5h22v1.5h-22z" fill="#9482C0"/><path d="M303.3 706.9h22v1.5h-22zM369.4 835.5h22v1.5h-22z" fill="#EE5342"/><path d="M325.3 706.9h22v1.5h-22zM303.3 708.4h22v1.5h-22zM347.3 708.4h22v1.5h-22zM303.3 839.9h44v1.5h-44zM347.3 839.9h44v1.5h-44zM303.3 841.4h22v1.5h-22z" fill="#E92C2A"/><path d="M347.3 706.9h22v1.5h-22zM325.3 837h22v1.5h-22zM369.4 837h22v1.5h-22zM369.4 841.4h22v1.5h-22z" fill="#EC4238"/><path d="M369.4 706.9h22v1.5h-22zM325.3 708.4h22v1.5h-22zM369.4 708.4h22v1.5h-22zM303.3 837h22v1.5h-22zM347.3 837h22v1.5h-22zM325.3 841.4h22v1.5h-22z" fill="#EA322D"/><path d="M391.4 706.9h22v1.5h-22zM347.3 711.3h22v1.5h-22zM325.3 718.7h44v1.5h-44zM303.3 838.4h22v1.5h-22zM347.3 838.4h22v1.5h-22zM347.3 841.4h22v1.5h-22z" fill="#F0644C"/><path d="M413.4 706.9h22v1.5h-22zM457.4 706.9h22v1.5h-22zM391.4 708.4h22v1.5h-22zM347.3 709.9h22v1.5h-22zM325.3 711.3h22v1.5h-22zM325.3 715.8h22v1.5h-22zM325.3 717.2h44v1.5h-44zM303.3 718.7h22v1.5h-22zM369.4 729.1h22v1.5h-22zM347.3 742.4h44v1.5h-44z" fill="#F38E77"/><path d="M413.4 708.4h22v1.5h-22zM457.4 708.4h22v1.5h-22zM369.4 711.3h22v1.5h-22zM369.4 717.2h22v1.5h-22zM347.3 723.2h22v1.5h-22zM391.4 724.6h22v1.5h-22zM391.4 727.6h22v1.5h-22zM347.3 730.5h66.1v1.5h-66.1zM347.3 743.8h22v1.5h-22zM347.3 745.3h22v1.5h-22zM391.4 745.3h22v1.5h-22zM347.3 748.3h22v1.5h-22zM347.3 752.7h22v1.5h-22zM347.3 757.2h66.1v1.5h-66.1zM347.3 760.1h22v1.5h-22zM369.4 763.1h22v1.5h-22zM435.4 764.5h22v1.5h-22zM369.4 769h44v1.5h-44zM369.4 770.5h22v1.5h-22zM347.3 773.4h22v1.5h-22zM391.4 774.9h22v1.5h-22zM347.3 788.2h44v1.5h-44zM391.4 792.6h22v1.5h-22zM325.3 797.1h44v1.5h-44zM325.3 801.5h44v1.5h-44zM369.4 803h22v1.5h-22zM325.3 804.4h66.1v1.5h-66.1zM347.3 811.8h22v1.5h-22zM325.3 814.8h66.1v1.5h-66.1zM325.3 816.3h44v1.5h-44zM369.4 819.2h22v1.5h-22zM369.4 820.7h22v1.5h-22zM347.3 822.2h44v1.5h-44zM325.3 823.7h22v1.5h-22zM347.3 825.1h44v1.5h-44zM325.3 828.1h44v1.5h-44zM325.3 831.1h22v1.5h-22zM369.4 831.1h22v1.5h-22zM347.3 832.5h44v1.5h-44z" fill="#E7AA9C"/><path d="M435.4 708.4h22v1.5h-22zM457.4 727.6h22v1.5h-22zM479.5 730.5h22v1.5h-22zM457.4 758.6h22v1.5h-22zM369.4 766h22v1.5h-22zM325.3 770.5h22v1.5h-22zM391.4 779.3h22v1.5h-22zM479.5 794.1h22v1.5h-22zM391.4 795.6h22v1.5h-22zM435.4 800h22v1.5h-22zM413.4 801.5h22v1.5h-22zM303.3 816.3h22v1.5h-22zM501.5 816.3h22v1.5h-22zM391.4 820.7h22v1.5h-22zM435.4 837h22v1.5h-22zM369.4 842.9h22v1.5h-22zM457.4 844.4h22v1.5h-22zM413.4 847.3h22v1.5h-22zM479.5 847.3h22v1.5h-22zM501.5 860.6h22v1.5h-22zM413.4 862.1h22v1.5h-22zM501.5 863.6h22v1.5h-22z" fill="#D1C2BD"/><path d="M303.3 709.9h44v1.5h-44zM303.3 712.8h22v1.5h-22zM369.4 712.8h22v1.5h-22zM303.3 714.3h44v1.5h-44zM303.3 715.8h22v1.5h-22zM347.3 715.8h22v1.5h-22zM303.3 720.2h66.1v1.5h-66.1zM369.4 721.7h44v1.5h-44zM369.4 726.1h22v1.5h-22zM347.3 729.1h22v1.5h-22zM391.4 729.1h22v1.5h-22zM369.4 732h22v1.5h-22zM347.3 735h66.1v1.5h-66.1zM391.4 736.5h22v1.5h-22zM347.3 737.9h66.1v1.5h-66.1zM347.3 739.4h22v1.5h-22zM391.4 739.4h22v1.5h-22zM347.3 740.9h44v1.5h-44zM391.4 742.4h22v1.5h-22zM347.3 749.8h66.1v1.5h-66.1z" fill="#F09984"/><path d="M369.4 709.9h22v1.5h-22zM347.3 714.3h22v1.5h-22zM369.4 718.7h22v1.5h-22zM347.3 721.7h22v1.5h-22zM369.4 723.2h44v1.5h-44zM347.3 724.6h44v1.5h-44zM347.3 726.1h22v1.5h-22zM391.4 726.1h22v1.5h-22zM347.3 727.6h44v1.5h-44zM347.3 732h22v1.5h-22zM391.4 732h22v1.5h-22zM347.3 733.5h66.1v1.5h-66.1zM347.3 736.5h44v1.5h-44zM369.4 739.4h22v1.5h-22zM391.4 740.9h22v1.5h-22zM369.4 743.8h44v1.5h-44zM369.4 745.3h22v1.5h-22zM347.3 746.8h66.1v1.5h-66.1zM369.4 748.3h44v1.5h-44zM391.4 763.1h22v1.5h-22zM347.3 774.9h44v1.5h-44zM325.3 811.8h22v1.5h-22zM369.4 811.8h22v1.5h-22zM325.3 822.2h22v1.5h-22zM325.3 825.1h22v1.5h-22zM325.3 832.5h22v1.5h-22z" fill="#ECA290"/><path d="M501.5 711.3h22v1.5h-22zM501.5 729.1h22v1.5h-22zM413.4 742.4h22v1.5h-22zM479.5 743.8h22v1.5h-22zM325.3 754.2h22v1.5h-22zM369.4 789.7h22v1.5h-22zM413.4 798.5h22v1.5h-22zM479.5 800h22v1.5h-22zM391.4 810.4h22v1.5h-22zM413.4 822.2h22v1.5h-22zM347.3 842.9h22v1.5h-22zM435.4 842.9h22v1.5h-22zM347.3 847.3h22v1.5h-22zM347.3 850.3h22v1.5h-22zM347.3 856.2h22v1.5h-22zM347.3 857.7h22v1.5h-22zM501.5 859.1h22v1.5h-22z" fill="#C4BECB"/><path d="M325.3 712.8h22v1.5h-22zM303.3 835.5h66.1v1.5h-66.1zM369.4 838.4h22v1.5h-22z" fill="#F1725A"/><path d="M347.3 712.8h22v1.5h-22zM303.3 717.2h22v1.5h-22zM325.3 838.4h22v1.5h-22z" fill="#F28069"/><path d="M325.3 721.7h22v1.5h-22zM369.4 752.7h22v1.5h-22zM391.4 755.7h22v1.5h-22zM347.3 758.6h22v1.5h-22zM369.4 760.1h44v1.5h-44zM413.4 764.5h22v1.5h-22zM457.4 764.5h66.1v1.5h-66.1zM435.4 766h88.1v1.5h-88.1zM347.3 769h22v1.5h-22zM391.4 770.5h22v1.5h-22zM347.3 771.9h22v1.5h-22zM391.4 771.9h22v1.5h-22zM369.4 773.4h44v1.5h-44zM347.3 776.4h66.1v1.5h-66.1zM347.3 777.8h66.1v1.5h-66.1zM391.4 788.2h22v1.5h-22zM347.3 789.7h22v1.5h-22zM391.4 789.7h22v1.5h-22zM325.3 803h44v1.5h-44zM325.3 808.9h22v1.5h-22zM369.4 808.9h22v1.5h-22zM413.4 813.3h22v1.5h-22zM457.4 813.3h66.1v1.5h-66.1zM369.4 816.3h22v1.5h-22zM325.3 817.7h66.1v1.5h-66.1zM325.3 819.2h44v1.5h-44zM325.3 820.7h22v1.5h-22zM325.3 826.6h66.1v1.5h-66.1zM325.3 829.6h22v1.5h-22zM369.4 829.6h22v1.5h-22z" fill="#E1B2A8"/><path d="M325.3 723.2h22v1.5h-22zM325.3 726.1h22v1.5h-22zM325.3 732h22v1.5h-22zM325.3 737.9h22v1.5h-22zM325.3 740.9h22v1.5h-22zM325.3 745.3h22v1.5h-22zM325.3 751.2h22v1.5h-22zM325.3 758.6h22v1.5h-22zM325.3 760.1h22v1.5h-22zM325.3 763.1h22v1.5h-22zM413.4 766h22v1.5h-22zM325.3 769h22v1.5h-22zM325.3 771.9h22v1.5h-22zM325.3 774.9h22v1.5h-22zM325.3 777.8h22v1.5h-22zM325.3 792.6h22v1.5h-22zM325.3 794.1h22v1.5h-22zM347.3 808.9h22v1.5h-22z" fill="#D9BAB2"/><path d="M325.3 844.4h22v1.5h-22zM369.4 856.2h44v1.5h-44zM369.4 857.7h44v1.5h-44zM369.4 859.1h44v1.5h-44zM369.4 862.1h44v1.5h-44zM369.4 863.6h44v1.5h-44zM391.4 865h22v1.5h-22zM369.4 866.5h44v1.5h-44z" fill="#B9A9D2"/><path d="M347.3 844.4h22v1.5h-22zM325.3 845.8h44v1.5h-44zM325.3 847.3h22v1.5h-22zM369.4 860.6h44v1.5h-44z" fill="#A997CB"/><path d="M347.3 851.7h22v1.5h-22zM369.4 865h22v1.5h-22z" fill="#BEB3CF"/><path d="M551.1 706.9h22v1.5h-22zM573.1 708.4h22v1.5h-22zM551.1 709.9h22v1.5h-22zM551.1 835.5h22v1.5h-22zM529.1 838.4h22v1.5h-22z" fill="#F0644C"/><path d="M573.1 706.9h22v1.5h-22zM551.1 708.4h22v1.5h-22zM551.1 841.4h22v1.5h-22zM529.1 842.9h22v1.5h-22z" fill="#F1725A"/><path d="M595.2 706.9h22v1.5h-22zM595.2 708.4h22v1.5h-22zM573.1 709.9h22v1.5h-22zM529.1 835.5h22v1.5h-22zM551.1 838.4h22v1.5h-22z" fill="#EE5342"/><path d="M529.1 708.4h22v1.5h-22zM551.1 711.3h22v1.5h-22zM595.2 711.3h22v1.5h-22zM551.1 714.3h66.1v1.5h-66.1zM551.1 720.2h22v1.5h-22zM617.2 740.9h22v1.5h-22zM617.2 743.8h22v1.5h-22zM595.2 746.8h22v1.5h-22zM617.2 754.2h22v1.5h-22zM617.2 757.2h22v1.5h-22zM595.2 760.1h22v1.5h-22zM617.2 761.6h22v1.5h-22zM595.2 766h22v1.5h-22zM595.2 769h22v1.5h-22zM529.1 837h22v1.5h-22z" fill="#F09984"/><path d="M529.1 709.9h22v1.5h-22zM529.1 717.2h22v1.5h-22zM573.1 717.2h22v1.5h-22zM573.1 718.7h22v1.5h-22zM573.1 730.5h66.1v1.5h-66.1zM595.2 733.5h22v1.5h-22zM617.2 735h22v1.5h-22zM573.1 736.5h66.1v1.5h-66.1zM595.2 740.9h22v1.5h-22zM617.2 742.4h22v1.5h-22zM595.2 743.8h22v1.5h-22zM595.2 745.3h22v1.5h-22zM595.2 748.3h22v1.5h-22zM595.2 751.2h22v1.5h-22zM573.1 752.7h22v1.5h-22zM573.1 755.7h22v1.5h-22zM617.2 760.1h22v1.5h-22zM573.1 766h22v1.5h-22zM617.2 767.5h22v1.5h-22zM617.2 770.5h22v1.5h-22zM595.2 771.9h44v1.5h-44zM573.1 785.2h22v1.5h-22zM617.2 785.2h22v1.5h-22zM573.1 838.4h22v1.5h-22zM573.1 842.9h22v1.5h-22z" fill="#ECA290"/><path d="M595.2 709.9h22v1.5h-22z" fill="#EA322D"/><path d="M617.2 709.9h22v1.5h-22zM595.2 742.4h22v1.5h-22zM617.2 746.8h22v1.5h-22zM595.2 749.8h44v1.5h-44zM595.2 752.7h44v1.5h-44zM617.2 758.6h22v1.5h-22zM617.2 763.1h22v1.5h-22zM595.2 764.5h22v1.5h-22zM617.2 766h22v1.5h-22zM617.2 769h22v1.5h-22zM551.1 842.9h22v1.5h-22z" fill="#F38E77"/><path d="M529.1 711.3h22v1.5h-22zM529.1 720.2h22v1.5h-22zM573.1 723.2h22v1.5h-22zM639.2 726.1h22v1.5h-22zM683.2 726.1h44v1.5h-44zM573.1 757.2h22v1.5h-22zM573.1 758.6h22v1.5h-22zM573.1 760.1h22v1.5h-22zM573.1 764.5h22v1.5h-22zM573.1 776.4h44v1.5h-44zM573.1 782.3h44v1.5h-44zM639.2 782.3h110.1v1.5h-110.1zM573.1 783.8h66.1v1.5h-66.1zM595.2 797.1h22v1.5h-22zM573.1 800h22v1.5h-22zM573.1 801.5h44v1.5h-44zM573.1 804.4h44v1.5h-44zM595.2 810.4h22v1.5h-22zM573.1 819.2h44v1.5h-44zM573.1 825.1h22v1.5h-22zM573.1 829.6h44v1.5h-44zM595.2 832.5h22v1.5h-22z" fill="#E1B2A8"/><path d="M529.1 712.8h22v1.5h-22zM529.1 714.3h22v1.5h-22zM529.1 715.8h88.1v1.5h-88.1zM595.2 717.2h22v1.5h-22zM595.2 718.7h22v1.5h-22zM595.2 723.2h44v1.5h-44zM573.1 727.6h66.1v1.5h-66.1zM573.1 729.1h22v1.5h-22zM617.2 729.1h22v1.5h-22zM595.2 732h44v1.5h-44zM573.1 735h44v1.5h-44zM573.1 737.9h44v1.5h-44zM595.2 739.4h44v1.5h-44zM573.1 740.9h22v1.5h-22zM617.2 745.3h22v1.5h-22zM573.1 748.3h22v1.5h-22zM617.2 748.3h22v1.5h-22zM617.2 751.2h22v1.5h-22zM573.1 763.1h22v1.5h-22zM595.2 767.5h22v1.5h-22zM595.2 770.5h22v1.5h-22zM573.1 777.8h44v1.5h-44zM617.2 782.3h22v1.5h-22zM595.2 785.2h22v1.5h-22zM573.1 792.6h66.1v1.5h-66.1zM573.1 797.1h22v1.5h-22zM573.1 808.9h44v1.5h-44zM573.1 816.3h22v1.5h-22zM573.1 822.2h44v1.5h-44zM573.1 828.1h44v1.5h-44zM573.1 831.1h44v1.5h-44z" fill="#E7AA9C"/><path d="M683.2 715.8h22v1.5h-22zM705.3 723.2h22v1.5h-22zM639.2 730.5h22v1.5h-22zM639.2 749.8h22v1.5h-22zM639.2 763.1h22v1.5h-22zM727.3 770.5h22v1.5h-22zM705.3 776.4h22v1.5h-22zM529.1 783.8h22v1.5h-22zM551.1 789.7h22v1.5h-22zM617.2 795.6h22v1.5h-22zM595.2 803h22v1.5h-22zM639.2 819.2h22v1.5h-22zM617.2 841.4h22v1.5h-22zM727.3 844.4h22v1.5h-22zM551.1 853.2h22v1.5h-22zM661.2 856.2h22v1.5h-22zM683.2 866.5h22v1.5h-22z" fill="#C4BECB"/><path d="M639.2 723.2h22v1.5h-22zM639.2 742.4h22v1.5h-22zM705.3 749.8h22v1.5h-22zM529.1 766h22v1.5h-22zM639.2 767.5h22v1.5h-22zM683.2 769h22v1.5h-22zM661.2 773.4h22v1.5h-22zM705.3 773.4h22v1.5h-22zM595.2 786.7h22v1.5h-22zM529.1 820.7h22v1.5h-22zM529.1 826.6h22v1.5h-22zM617.2 831.1h22v1.5h-22zM727.3 837h22v1.5h-22zM595.2 839.9h22v1.5h-22zM727.3 845.8h22v1.5h-22zM529.1 848.8h22v1.5h-22z" fill="#D1C2BD"/><path d="M595.2 755.7h44v1.5h-44zM595.2 757.2h22v1.5h-22zM595.2 758.6h22v1.5h-22zM595.2 761.6h22v1.5h-22zM595.2 763.1h22v1.5h-22zM617.2 764.5h22v1.5h-22zM551.1 837h22v1.5h-22zM529.1 839.9h44v1.5h-44zM529.1 841.4h22v1.5h-22z" fill="#F28069"/><path d="M573.1 811.8h44v1.5h-44zM573.1 814.8h44v1.5h-44zM661.2 814.8h88.1v1.5h-88.1zM595.2 820.7h22v1.5h-22zM573.1 832.5h22v1.5h-22z" fill="#D9BAB2"/><path d="M595.2 848.8h44v1.5h-44zM595.2 850.3h44v1.5h-44zM595.2 851.7h22v1.5h-22zM595.2 853.2h44v1.5h-44zM595.2 856.2h22v1.5h-22zM595.2 857.7h44v1.5h-44zM617.2 860.6h22v1.5h-22zM595.2 862.1h44v1.5h-44zM617.2 863.6h22v1.5h-22z" fill="#A997CB"/><path d="M617.2 851.7h22v1.5h-22zM595.2 854.7h44v1.5h-44zM617.2 859.1h22v1.5h-22zM595.2 860.6h22v1.5h-22zM595.2 863.6h22v1.5h-22z" fill="#B9A9D2"/><path d="M573.1 854.7h22v1.5h-22zM573.1 860.6h22v1.5h-22zM573.1 862.1h22v1.5h-22zM573.1 863.6h22v1.5h-22zM573.1 866.5h22v1.5h-22z" fill="#BEB3CF"/><path d="M617.2 856.2h22v1.5h-22z" fill="#9482C0"/><path d="M595.2 865h22v1.5h-22z" fill="#5A5AA9"/><path d="M617.2 865h22v1.5h-22zM595.2 866.5h22v1.5h-22z" fill="#4956A7"/><path d="M617.2 866.5h22v1.5h-22z" fill="#4255A6"/><path d="M98.6 874.9h22v1.5h-22zM98.6 877.9h22v1.5h-22zM98.6 880.8h22v1.5h-22z" fill="#EC4238"/><path d="M98.6 876.4h22v1.5h-22zM98.6 879.3h22v1.5h-22zM98.6 882.3h22v1.5h-22zM98.6 883.8h22v1.5h-22z" fill="#E92C2A"/><path d="M252.8 876.4h22v1.5h-22zM252.8 891.1h22v1.5h-22zM76.6 910.3h22v1.5h-22zM274.8 934h22v1.5h-22zM186.7 993h22v1.5h-22zM208.7 1006.3h22v1.5h-22zM186.7 1009.3h22v1.5h-22zM252.8 1015.2h22v1.5h-22zM274.8 1043.2h22v1.5h-22zM252.8 1044.7h22v1.5h-22zM208.7 1046.2h22v1.5h-22zM98.6 1049.1h22v1.5h-22zM208.7 1068.3h22v1.5h-22zM164.7 1081.6h22v1.5h-22zM252.8 1097.9h22v1.5h-22zM164.7 1099.3h22v1.5h-22zM230.7 1145.1h22v1.5h-22zM252.8 1171.7h22v1.5h-22zM186.7 1176.1h22v1.5h-22zM274.8 1176.1h22v1.5h-22zM208.7 1180.5h22v1.5h-22zM252.8 1185h22v1.5h-22zM76.6 1205.6h22v1.5h-22zM252.8 1205.6h22v1.5h-22zM164.7 1208.6h22v1.5h-22zM120.6 1220.4h22v1.5h-22zM164.7 1236.7h22v1.5h-22zM76.6 1252.9h22v1.5h-22zM208.7 1258.8h22v1.5h-22zM164.7 1278h22v1.5h-22zM252.8 1283.9h22v1.5h-22zM252.8 1286.9h22v1.5h-22zM274.8 1304.6h22v1.5h-22z" fill="#C4BECB"/><path d="M230.7 877.9h22v1.5h-22zM274.8 880.8h22v1.5h-22zM230.7 882.3h22v1.5h-22zM252.8 897h22v1.5h-22zM208.7 898.5h22v1.5h-22zM274.8 900h22v1.5h-22zM208.7 910.3h22v1.5h-22zM98.6 931h22v1.5h-22zM76.6 935.4h22v1.5h-22zM98.6 953.2h22v1.5h-22zM208.7 954.6h22v1.5h-22zM274.8 973.8h22v1.5h-22zM164.7 987.1h22v1.5h-22zM120.6 988.6h22v1.5h-22zM208.7 1007.8h22v1.5h-22zM120.6 1018.1h22v1.5h-22zM208.7 1018.1h22v1.5h-22zM186.7 1022.6h22v1.5h-22zM230.7 1022.6h22v1.5h-22zM186.7 1024h22v1.5h-22zM186.7 1029.9h22v1.5h-22zM252.8 1038.8h22v1.5h-22zM98.6 1050.6h22v1.5h-22zM98.6 1056.5h22v1.5h-22zM76.6 1059.5h22v1.5h-22zM186.7 1083.1h22v1.5h-22zM186.7 1087.5h22v1.5h-22zM230.7 1092h22v1.5h-22zM76.6 1093.4h22v1.5h-22zM76.6 1094.9h22v1.5h-22zM120.6 1097.9h22v1.5h-22zM252.8 1108.2h22v1.5h-22zM98.6 1109.7h22v1.5h-22zM186.7 1111.1h22v1.5h-22zM274.8 1134.8h22v1.5h-22zM252.8 1149.5h22v1.5h-22zM274.8 1168.7h22v1.5h-22zM252.8 1177.6h22v1.5h-22zM120.6 1185h22v1.5h-22zM186.7 1205.6h22v1.5h-22zM274.8 1205.6h22v1.5h-22zM252.8 1207.1h22v1.5h-22zM186.7 1216h22v1.5h-22zM186.7 1223.4h22v1.5h-22zM230.7 1233.7h22v1.5h-22zM208.7 1241.1h22v1.5h-22zM274.8 1252.9h22v1.5h-22zM98.6 1257.3h22v1.5h-22zM142.7 1264.7h22v1.5h-22zM98.6 1273.6h22v1.5h-22zM164.7 1280.9h22v1.5h-22zM208.7 1286.9h22v1.5h-22zM76.6 1295.7h22v1.5h-22zM274.8 1298.7h22v1.5h-22z" fill="#D1C2BD"/><path d="M98.6 885.2h22v1.5h-22z" fill="#EE5342"/><path d="M98.6 886.7h22v1.5h-22z" fill="#EA322D"/><path d="M98.6 888.2h22v1.5h-22zM142.7 888.2h44v1.5h-44zM98.6 889.7h22v1.5h-22zM164.7 889.7h22v1.5h-22zM98.6 891.1h88.1v1.5h-88.1zM120.6 892.6h22v1.5h-22zM164.7 892.6h22v1.5h-22zM120.6 894.1h22v1.5h-22zM120.6 897h66.1v1.5h-66.1zM120.6 898.5h22v1.5h-22zM142.7 911.8h22v1.5h-22zM120.6 916.2h22v1.5h-22zM164.7 916.2h22v1.5h-22zM120.6 920.7h22v1.5h-22zM120.6 922.1h66.1v1.5h-66.1zM120.6 926.6h44v1.5h-44zM120.6 928.1h44v1.5h-44zM142.7 970.9h22v1.5h-22zM120.6 1025.5h22v1.5h-22zM120.6 1029.9h22v1.5h-22zM142.7 1032.9h22v1.5h-22zM120.6 1035.8h22v1.5h-22zM120.6 1043.2h22v1.5h-22zM120.6 1046.2h22v1.5h-22zM120.6 1052.1h22v1.5h-22zM120.6 1056.5h22v1.5h-22zM76.6 1063.9h22v1.5h-22zM142.7 1063.9h22v1.5h-22zM76.6 1065.4h66.1v1.5h-66.1zM76.6 1066.8h22v1.5h-22z" fill="#F09984"/><path d="M120.6 889.7h44v1.5h-44zM98.6 892.6h22v1.5h-22zM142.7 892.6h22v1.5h-22zM98.6 894.1h22v1.5h-22zM142.7 894.1h44v1.5h-44zM120.6 1040.3h22v1.5h-22zM120.6 1044.7h22v1.5h-22zM120.6 1049.1h22v1.5h-22z" fill="#F38E77"/><path d="M120.6 895.6h22v1.5h-22zM120.6 910.3h66.1v1.5h-66.1zM120.6 913.3h66.1v1.5h-66.1zM120.6 917.7h22v1.5h-22zM164.7 917.7h22v1.5h-22zM120.6 919.2h22v1.5h-22zM142.7 942.8h22v1.5h-22zM142.7 950.2h22v1.5h-22zM230.7 953.2h22v1.5h-22zM142.7 954.6h22v1.5h-22zM230.7 962h44v1.5h-44zM230.7 966.4h66.1v1.5h-66.1zM230.7 970.9h66.1v1.5h-66.1zM142.7 973.8h22v1.5h-22zM142.7 976.8h22v1.5h-22zM230.7 978.3h22v1.5h-22zM142.7 979.7h22v1.5h-22zM142.7 981.2h22v1.5h-22zM142.7 982.7h22v1.5h-22zM252.8 982.7h22v1.5h-22zM142.7 985.6h22v1.5h-22zM142.7 990.1h22v1.5h-22zM142.7 991.5h22v1.5h-22zM142.7 994.5h22v1.5h-22zM142.7 998.9h22v1.5h-22zM142.7 1018.1h22v1.5h-22zM142.7 1019.6h22v1.5h-22zM142.7 1029.9h22v1.5h-22zM142.7 1031.4h22v1.5h-22zM120.6 1037.3h44v1.5h-44zM142.7 1038.8h22v1.5h-22zM142.7 1043.2h22v1.5h-22zM120.6 1050.6h22v1.5h-22zM142.7 1052.1h22v1.5h-22zM120.6 1053.6h44v1.5h-44zM120.6 1055h22v1.5h-22zM120.6 1058h44v1.5h-44zM120.6 1059.5h22v1.5h-22zM120.6 1069.8h44v1.5h-44z" fill="#E7AA9C"/><path d="M142.7 895.6h44v1.5h-44zM142.7 898.5h44v1.5h-44zM120.6 908.9h66.1v1.5h-66.1zM120.6 911.8h22v1.5h-22zM164.7 911.8h22v1.5h-22zM142.7 916.2h22v1.5h-22zM142.7 919.2h22v1.5h-22zM142.7 920.7h44v1.5h-44zM164.7 926.6h22v1.5h-22zM120.6 932.5h22v1.5h-22zM164.7 932.5h22v1.5h-22zM142.7 941.3h22v1.5h-22zM142.7 944.3h22v1.5h-22zM142.7 956.1h22v1.5h-22zM142.7 969.4h22v1.5h-22zM142.7 972.4h22v1.5h-22zM142.7 997.5h22v1.5h-22zM142.7 1001.9h22v1.5h-22zM142.7 1003.4h22v1.5h-22zM142.7 1007.8h22v1.5h-22zM142.7 1009.3h22v1.5h-22zM142.7 1010.7h22v1.5h-22zM142.7 1012.2h22v1.5h-22zM142.7 1013.7h22v1.5h-22zM142.7 1021.1h22v1.5h-22zM120.6 1022.6h22v1.5h-22zM120.6 1024h22v1.5h-22zM120.6 1027h22v1.5h-22zM120.6 1028.5h22v1.5h-22zM120.6 1031.4h22v1.5h-22zM120.6 1032.9h22v1.5h-22zM120.6 1034.4h22v1.5h-22zM120.6 1038.8h22v1.5h-22zM120.6 1041.7h22v1.5h-22zM142.7 1044.7h22v1.5h-22zM142.7 1050.6h22v1.5h-22zM120.6 1060.9h22v1.5h-22zM120.6 1062.4h22v1.5h-22zM98.6 1063.9h44v1.5h-44zM98.6 1066.8h44v1.5h-44zM120.6 1068.3h44v1.5h-44z" fill="#ECA290"/><path d="M98.6 898.5h22v1.5h-22zM98.6 903h22v1.5h-22zM98.6 905.9h22v1.5h-22zM98.6 911.8h22v1.5h-22zM142.7 938.4h22v1.5h-22zM142.7 939.9h22v1.5h-22zM120.6 941.3h22v1.5h-22zM164.7 941.3h22v1.5h-22zM120.6 945.8h22v1.5h-22zM164.7 945.8h22v1.5h-22zM142.7 947.2h22v1.5h-22zM142.7 948.7h22v1.5h-22zM142.7 951.7h22v1.5h-22zM142.7 959.1h22v1.5h-22zM142.7 960.5h44v1.5h-44zM274.8 962h22v1.5h-22zM142.7 963.5h22v1.5h-22zM142.7 966.4h22v1.5h-22zM230.7 972.4h22v1.5h-22zM274.8 972.4h22v1.5h-22zM142.7 978.3h22v1.5h-22zM274.8 978.3h22v1.5h-22zM230.7 979.7h66.1v1.5h-66.1zM274.8 982.7h22v1.5h-22zM120.6 985.6h22v1.5h-22zM164.7 985.6h22v1.5h-22zM120.6 987.1h22v1.5h-22zM120.6 993h22v1.5h-22zM164.7 993h22v1.5h-22zM142.7 996h22v1.5h-22zM120.6 998.9h22v1.5h-22zM164.7 998.9h22v1.5h-22zM142.7 1000.4h22v1.5h-22zM164.7 1003.4h22v1.5h-22zM120.6 1009.3h22v1.5h-22zM120.6 1012.2h22v1.5h-22zM164.7 1012.2h22v1.5h-22zM142.7 1022.6h22v1.5h-22zM142.7 1024h22v1.5h-22zM142.7 1027h22v1.5h-22zM142.7 1040.3h22v1.5h-22zM98.6 1046.2h22v1.5h-22zM142.7 1047.7h22v1.5h-22zM142.7 1055h22v1.5h-22zM142.7 1059.5h22v1.5h-22zM142.7 1066.8h22v1.5h-22zM98.6 1069.8h22v1.5h-22z" fill="#E1B2A8"/><path d="M98.6 901.5h22v1.5h-22zM98.6 919.2h22v1.5h-22zM98.6 932.5h22v1.5h-22zM120.6 944.3h22v1.5h-22zM164.7 944.3h22v1.5h-22zM120.6 948.7h22v1.5h-22zM164.7 948.7h22v1.5h-22zM120.6 951.7h22v1.5h-22zM164.7 951.7h22v1.5h-22zM120.6 960.5h22v1.5h-22zM120.6 979.7h22v1.5h-22zM164.7 979.7h22v1.5h-22zM164.7 982.7h22v1.5h-22zM120.6 996h22v1.5h-22zM164.7 996h22v1.5h-22zM120.6 1004.8h22v1.5h-22zM120.6 1007.8h22v1.5h-22zM164.7 1007.8h22v1.5h-22zM98.6 1024h22v1.5h-22zM164.7 1024h22v1.5h-22zM98.6 1032.9h22v1.5h-22zM164.7 1032.9h22v1.5h-22zM98.6 1034.4h22v1.5h-22zM164.7 1034.4h22v1.5h-22zM98.6 1037.3h22v1.5h-22zM164.7 1037.3h22v1.5h-22zM164.7 1046.2h22v1.5h-22zM164.7 1058h22v1.5h-22z" fill="#D9BAB2"/><path d="M142.7 1072.8h22v1.5h-22zM142.7 1078.7h22v1.5h-22zM142.7 1089h22v1.5h-22zM142.7 1090.5h22v1.5h-22zM142.7 1092h22v1.5h-22zM142.7 1093.4h22v1.5h-22zM142.7 1097.9h22v1.5h-22zM98.6 1307.5h22v1.5h-22z" fill="#3953A4"/><path d="M142.7 1074.2h22v1.5h-22zM142.7 1077.2h22v1.5h-22z" fill="#4956A7"/><path d="M142.7 1075.7h22v1.5h-22zM142.7 1083.1h22v1.5h-22zM98.6 1306h22v1.5h-22z" fill="#3B54A4"/><path d="M142.7 1080.1h22v1.5h-22z" fill="#5058A8"/><path d="M142.7 1081.6h22v1.5h-22zM142.7 1084.6h22v1.5h-22zM142.7 1086h22v1.5h-22zM142.7 1087.5h22v1.5h-22zM142.7 1094.9h22v1.5h-22zM142.7 1096.4h22v1.5h-22z" fill="#4255A6"/><path d="M142.7 1099.3h22v1.5h-22zM142.7 1100.8h22v1.5h-22zM142.7 1102.3h22v1.5h-22zM142.7 1105.2h22v1.5h-22zM142.7 1117.1h22v1.5h-22zM142.7 1121.5h22v1.5h-22zM142.7 1125.9h22v1.5h-22zM142.7 1130.3h22v1.5h-22zM142.7 1133.3h22v1.5h-22zM142.7 1143.6h22v1.5h-22zM142.7 1145.1h22v1.5h-22zM142.7 1146.6h22v1.5h-22zM142.7 1151h22v1.5h-22zM142.7 1164.3h22v1.5h-22zM142.7 1165.8h22v1.5h-22zM142.7 1167.3h22v1.5h-22zM142.7 1170.2h22v1.5h-22zM142.7 1171.7h22v1.5h-22zM142.7 1174.6h22v1.5h-22zM142.7 1179.1h22v1.5h-22zM142.7 1182h22v1.5h-22zM142.7 1183.5h22v1.5h-22zM142.7 1185h22v1.5h-22zM142.7 1186.4h22v1.5h-22zM142.7 1189.4h22v1.5h-22zM142.7 1192.4h22v1.5h-22zM142.7 1195.3h22v1.5h-22zM142.7 1196.8h22v1.5h-22zM142.7 1199.7h22v1.5h-22zM142.7 1201.2h22v1.5h-22zM142.7 1202.7h22v1.5h-22zM142.7 1204.2h22v1.5h-22zM142.7 1205.6h22v1.5h-22zM142.7 1207.1h22v1.5h-22zM142.7 1208.6h22v1.5h-22zM142.7 1210.1h22v1.5h-22zM142.7 1213h22v1.5h-22zM142.7 1214.5h22v1.5h-22zM142.7 1216h22v1.5h-22zM142.7 1217.5h22v1.5h-22zM142.7 1220.4h22v1.5h-22zM142.7 1224.8h22v1.5h-22zM142.7 1226.3h22v1.5h-22zM142.7 1230.7h22v1.5h-22zM142.7 1232.2h22v1.5h-22zM142.7 1238.1h22v1.5h-22zM142.7 1241.1h22v1.5h-22zM142.7 1242.6h22v1.5h-22zM142.7 1244h22v1.5h-22zM142.7 1245.5h22v1.5h-22zM142.7 1247h22v1.5h-22zM142.7 1249.9h22v1.5h-22zM142.7 1254.4h22v1.5h-22z" fill="#A997CB"/><path d="M142.7 1103.8h22v1.5h-22zM142.7 1106.7h22v1.5h-22zM142.7 1108.2h22v1.5h-22zM142.7 1109.7h22v1.5h-22zM142.7 1111.1h22v1.5h-22zM142.7 1112.6h22v1.5h-22zM142.7 1114.1h22v1.5h-22zM142.7 1115.6h22v1.5h-22zM142.7 1118.5h22v1.5h-22zM142.7 1120h22v1.5h-22zM142.7 1123h22v1.5h-22zM142.7 1124.4h22v1.5h-22zM142.7 1127.4h22v1.5h-22zM142.7 1128.9h22v1.5h-22zM142.7 1131.8h22v1.5h-22zM142.7 1134.8h22v1.5h-22zM142.7 1136.2h22v1.5h-22zM142.7 1139.2h22v1.5h-22zM142.7 1140.7h22v1.5h-22zM142.7 1142.2h22v1.5h-22zM142.7 1148.1h22v1.5h-22zM142.7 1149.5h22v1.5h-22zM142.7 1152.5h22v1.5h-22zM142.7 1154h22v1.5h-22zM142.7 1155.4h22v1.5h-22zM142.7 1156.9h22v1.5h-22zM142.7 1158.4h22v1.5h-22zM142.7 1159.9h22v1.5h-22zM142.7 1161.3h22v1.5h-22zM142.7 1162.8h22v1.5h-22zM142.7 1168.7h22v1.5h-22zM230.7 1170.2h22v1.5h-22zM274.8 1170.2h22v1.5h-22zM142.7 1173.2h22v1.5h-22zM120.6 1176.1h44v1.5h-44zM120.6 1177.6h22v1.5h-22zM274.8 1183.5h22v1.5h-22zM274.8 1187.9h22v1.5h-22zM142.7 1211.5h22v1.5h-22zM142.7 1235.2h22v1.5h-22zM142.7 1239.6h22v1.5h-22zM142.7 1248.5h22v1.5h-22zM142.7 1251.4h22v1.5h-22zM142.7 1252.9h22v1.5h-22zM164.7 1260.3h22v1.5h-22zM142.7 1269.1h22v1.5h-22zM164.7 1272.1h22v1.5h-22zM142.7 1276.5h22v1.5h-22zM164.7 1285.4h22v1.5h-22zM164.7 1300.1h22v1.5h-22zM164.7 1303.1h22v1.5h-22z" fill="#B9A9D2"/><path d="M142.7 1137.7h22v1.5h-22zM230.7 1185h22v1.5h-22zM274.8 1185h22v1.5h-22zM230.7 1186.4h22v1.5h-22zM274.8 1186.4h22v1.5h-22zM76.6 1255.8h22v1.5h-22zM142.7 1255.8h44v1.5h-44zM76.6 1257.3h22v1.5h-22zM142.7 1257.3h44v1.5h-44zM76.6 1258.8h22v1.5h-22zM142.7 1258.8h44v1.5h-44zM76.6 1260.3h22v1.5h-22zM142.7 1260.3h22v1.5h-22zM142.7 1261.8h44v1.5h-44zM120.6 1264.7h22v1.5h-22zM142.7 1266.2h22v1.5h-22zM120.6 1267.7h22v1.5h-22zM120.6 1269.1h22v1.5h-22zM164.7 1269.1h22v1.5h-22zM142.7 1272.1h22v1.5h-22zM142.7 1278h22v1.5h-22zM142.7 1279.5h44v1.5h-44zM142.7 1280.9h22v1.5h-22zM120.6 1282.4h22v1.5h-22zM120.6 1283.9h66.1v1.5h-66.1zM120.6 1285.4h44v1.5h-44zM142.7 1286.9h44v1.5h-44zM142.7 1288.3h44v1.5h-44zM164.7 1289.8h22v1.5h-22zM142.7 1291.3h22v1.5h-22zM142.7 1294.2h44v1.5h-44zM142.7 1295.7h44v1.5h-44zM142.7 1300.1h22v1.5h-22zM142.7 1301.6h44v1.5h-44zM142.7 1303.1h22v1.5h-22z" fill="#BEB3CF"/><path d="M142.7 1177.6h22v1.5h-22zM142.7 1187.9h22v1.5h-22zM142.7 1190.9h22v1.5h-22zM142.7 1193.8h22v1.5h-22zM142.7 1198.3h22v1.5h-22zM142.7 1218.9h22v1.5h-22zM142.7 1221.9h22v1.5h-22zM142.7 1223.4h22v1.5h-22zM142.7 1227.8h22v1.5h-22zM142.7 1229.3h22v1.5h-22zM142.7 1233.7h22v1.5h-22zM142.7 1236.7h22v1.5h-22zM120.6 1291.3h22v1.5h-22zM120.6 1300.1h22v1.5h-22z" fill="#9482C0"/><path d="M142.7 1180.5h22v1.5h-22zM120.6 1288.3h22v1.5h-22zM120.6 1289.8h22v1.5h-22zM120.6 1292.8h22v1.5h-22zM120.6 1294.2h22v1.5h-22zM120.6 1295.7h22v1.5h-22zM120.6 1298.7h22v1.5h-22zM120.6 1301.6h22v1.5h-22zM120.6 1303.1h22v1.5h-22z" fill="#7E6CB4"/><path d="M120.6 1297.2h22v1.5h-22zM120.6 1304.6h22v1.5h-22z" fill="#6D5DAC"/><path d="M435.4 874.9h22v1.5h-22z" fill="#F38E77"/><path d="M325.3 876.4h22v1.5h-22zM391.4 928.1h22v1.5h-22z" fill="#E7AA9C"/><path d="M347.3 876.4h66.1v1.5h-66.1zM347.3 895.6h66.1v1.5h-66.1zM325.3 919.2h22v1.5h-22zM369.4 919.2h22v1.5h-22zM325.3 928.1h22v1.5h-22zM369.4 928.1h22v1.5h-22zM347.3 969.4h66.1v1.5h-66.1zM369.4 1214.5h22v1.5h-22zM347.3 1233.7h22v1.5h-22z" fill="#E1B2A8"/><path d="M435.4 876.4h22v1.5h-22z" fill="#ECA290"/><path d="M325.3 877.9h22v1.5h-22zM369.4 900h22v1.5h-22zM325.3 908.9h22v1.5h-22zM457.4 922.1h22v1.5h-22zM369.4 938.4h22v1.5h-22zM325.3 962h22v1.5h-22zM303.3 973.8h22v1.5h-22zM413.4 975.3h22v1.5h-22zM325.3 990.1h22v1.5h-22zM457.4 1015.2h22v1.5h-22zM369.4 1019.6h22v1.5h-22zM347.3 1028.5h22v1.5h-22zM479.5 1032.9h22v1.5h-22zM435.4 1046.2h22v1.5h-22zM325.3 1050.6h22v1.5h-22zM435.4 1063.9h22v1.5h-22zM303.3 1068.3h22v1.5h-22zM303.3 1081.6h22v1.5h-22zM479.5 1094.9h22v1.5h-22zM369.4 1100.8h22v1.5h-22zM369.4 1111.1h22v1.5h-22zM325.3 1117.1h22v1.5h-22zM457.4 1123h22v1.5h-22zM391.4 1156.9h22v1.5h-22zM479.5 1170.2h22v1.5h-22zM303.3 1182h22v1.5h-22zM325.3 1201.2h22v1.5h-22zM457.4 1208.6h22v1.5h-22zM479.5 1216h22v1.5h-22zM347.3 1217.5h22v1.5h-22zM369.4 1235.2h22v1.5h-22zM325.3 1236.7h22v1.5h-22zM479.5 1255.8h22v1.5h-22zM391.4 1278h22v1.5h-22zM347.3 1279.5h22v1.5h-22zM369.4 1280.9h22v1.5h-22zM303.3 1288.3h22v1.5h-22zM479.5 1301.6h22v1.5h-22zM435.4 1304.6h22v1.5h-22zM413.4 1307.5h22v1.5h-22z" fill="#C4BECB"/><path d="M435.4 877.9h22v1.5h-22z" fill="#F09984"/><path d="M303.3 880.8h22v1.5h-22zM457.4 886.7h22v1.5h-22zM347.3 905.9h22v1.5h-22zM347.3 926.6h22v1.5h-22zM303.3 951.7h22v1.5h-22zM457.4 951.7h44v1.5h-44zM413.4 953.2h22v1.5h-22zM391.4 970.9h22v1.5h-22zM391.4 981.2h22v1.5h-22zM501.5 985.6h22v1.5h-22zM501.5 990.1h22v1.5h-22zM325.3 996h22v1.5h-22zM413.4 996h22v1.5h-22zM501.5 997.5h22v1.5h-22zM347.3 1006.3h22v1.5h-22zM325.3 1009.3h22v1.5h-22zM303.3 1012.2h22v1.5h-22zM391.4 1016.6h22v1.5h-22zM325.3 1027h22v1.5h-22zM435.4 1027h22v1.5h-22zM391.4 1031.4h22v1.5h-22zM303.3 1041.7h22v1.5h-22zM303.3 1062.4h22v1.5h-22zM303.3 1072.8h22v1.5h-22zM435.4 1074.2h22v1.5h-22zM479.5 1087.5h22v1.5h-22zM369.4 1094.9h22v1.5h-22zM369.4 1125.9h22v1.5h-22zM479.5 1137.7h22v1.5h-22zM413.4 1145.1h22v1.5h-22zM457.4 1174.6h22v1.5h-22zM413.4 1180.5h22v1.5h-22zM435.4 1195.3h22v1.5h-22zM501.5 1198.3h22v1.5h-22zM457.4 1202.7h22v1.5h-22zM457.4 1213h22v1.5h-22zM391.4 1217.5h22v1.5h-22zM325.3 1223.4h22v1.5h-22zM413.4 1257.3h22v1.5h-22zM435.4 1261.8h22v1.5h-22zM325.3 1266.2h44v1.5h-44zM391.4 1272.1h22v1.5h-22zM347.3 1286.9h22v1.5h-22zM325.3 1298.7h22v1.5h-22zM303.3 1303.1h22v1.5h-22z" fill="#D1C2BD"/><path d="M347.3 901.5h22v1.5h-22zM325.3 905.9h22v1.5h-22zM369.4 905.9h44v1.5h-44zM347.3 919.2h22v1.5h-22zM325.3 929.5h88.1v1.5h-88.1zM325.3 969.4h22v1.5h-22zM325.3 1214.5h44v1.5h-44zM325.3 1233.7h22v1.5h-22zM369.4 1233.7h22v1.5h-22z" fill="#D9BAB2"/><path d="M325.3 1089h44v1.5h-44zM391.4 1089h22v1.5h-22zM325.3 1097.9h88.1v1.5h-88.1zM325.3 1131.8h44v1.5h-44zM391.4 1131.8h22v1.5h-22zM325.3 1192.4h66.1v1.5h-66.1zM325.3 1247h88.1v1.5h-88.1zM325.3 1248.5h88.1v1.5h-88.1zM325.3 1300.1h88.1v1.5h-88.1z" fill="#BEB3CF"/><path d="M727.3 874.9h22v1.5h-22z" fill="#F1725A"/><path d="M727.3 876.4h22v1.5h-22z" fill="#EE5342"/><path d="M639.2 880.8h22v1.5h-22zM683.2 913.3h22v1.5h-22zM661.2 919.2h22v1.5h-22zM705.3 925.1h22v1.5h-22zM705.3 938.4h22v1.5h-22zM661.2 957.6h22v1.5h-22zM551.1 967.9h22v1.5h-22zM661.2 969.4h22v1.5h-22zM727.3 972.4h22v1.5h-22zM683.2 973.8h22v1.5h-22zM529.1 984.2h22v1.5h-22zM595.2 987.1h22v1.5h-22zM705.3 991.5h22v1.5h-22zM573.1 1012.2h22v1.5h-22zM727.3 1012.2h22v1.5h-22zM573.1 1025.5h22v1.5h-22zM639.2 1034.4h22v1.5h-22zM573.1 1038.8h22v1.5h-22zM727.3 1040.3h22v1.5h-22zM639.2 1043.2h22v1.5h-22zM727.3 1043.2h22v1.5h-22zM639.2 1044.7h22v1.5h-22zM661.2 1069.8h22v1.5h-22zM727.3 1074.2h22v1.5h-22zM529.1 1075.7h22v1.5h-22zM639.2 1100.8h22v1.5h-22zM727.3 1109.7h22v1.5h-22zM705.3 1111.1h22v1.5h-22zM617.2 1123h22v1.5h-22zM661.2 1134.8h22v1.5h-22zM595.2 1139.2h22v1.5h-22zM551.1 1143.6h22v1.5h-22zM727.3 1146.6h22v1.5h-22zM727.3 1152.5h22v1.5h-22zM639.2 1165.8h22v1.5h-22zM727.3 1177.6h22v1.5h-22zM639.2 1186.4h22v1.5h-22zM683.2 1193.8h22v1.5h-22zM727.3 1201.2h22v1.5h-22zM595.2 1232.2h22v1.5h-22zM529.1 1235.2h22v1.5h-22zM639.2 1236.7h22v1.5h-22zM529.1 1263.2h22v1.5h-22zM551.1 1269.1h22v1.5h-22zM683.2 1270.6h22v1.5h-22zM551.1 1279.5h22v1.5h-22zM551.1 1295.7h22v1.5h-22z" fill="#D1C2BD"/><path d="M573.1 886.7h22v1.5h-22zM683.2 888.2h22v1.5h-22zM639.2 895.6h22v1.5h-22zM617.2 905.9h22v1.5h-22zM595.2 908.9h22v1.5h-22zM595.2 922.1h22v1.5h-22zM661.2 942.8h44v1.5h-44zM727.3 945.8h22v1.5h-22zM551.1 951.7h22v1.5h-22zM617.2 959.1h22v1.5h-22zM727.3 1003.4h22v1.5h-22zM529.1 1004.8h22v1.5h-22zM639.2 1012.2h22v1.5h-22zM683.2 1021.1h22v1.5h-22zM529.1 1022.6h22v1.5h-22zM705.3 1027h22v1.5h-22zM661.2 1029.9h22v1.5h-22zM529.1 1050.6h22v1.5h-22zM705.3 1050.6h22v1.5h-22zM639.2 1114.1h22v1.5h-22zM705.3 1117.1h22v1.5h-22zM705.3 1118.5h22v1.5h-22zM661.2 1125.9h22v1.5h-22zM639.2 1137.7h22v1.5h-22zM661.2 1139.2h22v1.5h-22zM551.1 1140.7h22v1.5h-22zM529.1 1165.8h22v1.5h-22zM683.2 1170.2h22v1.5h-22zM705.3 1190.9h22v1.5h-22zM639.2 1192.4h22v1.5h-22zM661.2 1217.5h22v1.5h-22zM639.2 1220.4h22v1.5h-22zM595.2 1223.4h22v1.5h-22zM573.1 1224.8h22v1.5h-22zM727.3 1230.7h22v1.5h-22zM529.1 1236.7h22v1.5h-22zM727.3 1247h22v1.5h-22zM639.2 1251.4h22v1.5h-22zM617.2 1261.8h22v1.5h-22zM683.2 1263.2h22v1.5h-22zM551.1 1278h22v1.5h-22zM661.2 1282.4h22v1.5h-22zM705.3 1286.9h22v1.5h-22z" fill="#C4BECB"/><path d="M617.2 898.5h22v1.5h-22zM573.1 987.1h22v1.5h-22zM617.2 987.1h22v1.5h-22z" fill="#E7AA9C"/><path d="M573.1 957.6h44v1.5h-44zM573.1 960.5h22v1.5h-22zM617.2 960.5h22v1.5h-22zM573.1 962h66.1v1.5h-66.1z" fill="#E1B2A8"/><path d="M595.2 960.5h22v1.5h-22zM573.1 1003.4h66.1v1.5h-66.1zM705.3 1173.2h44v1.5h-44zM705.3 1192.4h22v1.5h-22zM705.3 1217.5h44v1.5h-44zM705.3 1245.5h44v1.5h-44z" fill="#D9BAB2"/><path d="M595.2 1052.1h22v1.5h-22zM595.2 1055h44v1.5h-44zM595.2 1162.8h44v1.5h-44zM595.2 1187.9h22v1.5h-22zM595.2 1196.8h44v1.5h-44zM617.2 1211.5h22v1.5h-22zM617.2 1226.3h22v1.5h-22zM595.2 1269.1h22v1.5h-22z" fill="#BEB3CF"/><path d="M617.2 1052.1h22v1.5h-22z" fill="#B9A9D2"/><path d="M98.6 1315.4h22v1.5h-22z" fill="#F09984"/><path d="M230.7 1315.4h22v1.5h-22zM208.7 1316.9h22v1.5h-22zM76.6 1343.5h22v1.5h-22zM208.7 1373h22v1.5h-22zM208.7 1376h22v1.5h-22zM120.6 1378.9h22v1.5h-22zM186.7 1384.8h22v1.5h-22zM186.7 1392.2h22v1.5h-22zM120.6 1401.1h22v1.5h-22zM252.8 1401.1h22v1.5h-22zM274.8 1417.3h22v1.5h-22zM230.7 1418.8h22v1.5h-22zM142.7 1430.6h22v1.5h-22zM230.7 1455.7h22v1.5h-22zM76.6 1467.6h22v1.5h-22zM230.7 1469h44v1.5h-44zM76.6 1479.4h22v1.5h-22z" fill="#C4BECB"/><path d="M98.6 1316.9h22v1.5h-22zM98.6 1318.4h22v1.5h-22z" fill="#ECA290"/><path d="M252.8 1321.3h22v1.5h-22zM252.8 1324.3h22v1.5h-22zM120.6 1331.6h22v1.5h-22zM164.7 1334.6h22v1.5h-22zM186.7 1358.2h22v1.5h-22zM76.6 1361.2h22v1.5h-22zM208.7 1367.1h22v1.5h-22zM76.6 1370.1h44v1.5h-44zM230.7 1381.9h22v1.5h-22zM164.7 1401.1h22v1.5h-22zM76.6 1418.8h44v1.5h-44zM142.7 1427.7h22v1.5h-22zM120.6 1435.1h22v1.5h-22zM274.8 1439.5h22v1.5h-22zM142.7 1463.1h22v1.5h-22zM274.8 1474.9h22v1.5h-22zM230.7 1476.4h22v1.5h-22zM142.7 1477.9h22v1.5h-22z" fill="#D1C2BD"/><path d="M142.7 1333.1h22v1.5h-22zM120.6 1339h22v1.5h-22zM120.6 1342h22v1.5h-22zM274.8 1381.9h22v1.5h-22z" fill="#E1B2A8"/><path d="M230.7 1334.6h22v1.5h-22zM274.8 1334.6h22v1.5h-22zM120.6 1336.1h44v1.5h-44zM142.7 1342h22v1.5h-22zM142.7 1347.9h22v1.5h-22zM230.7 1350.9h22v1.5h-22zM274.8 1350.9h22v1.5h-22zM120.6 1353.8h44v1.5h-44zM120.6 1364.1h22v1.5h-22zM230.7 1386.3h22v1.5h-22zM230.7 1396.6h22v1.5h-22zM274.8 1396.6h22v1.5h-22z" fill="#D9BAB2"/><path d="M142.7 1435.1h44v1.5h-44zM142.7 1442.4h44v1.5h-44z" fill="#BEB3CF"/><path d="M142.7 1441h22v1.5h-22zM142.7 1458.7h22v1.5h-22zM142.7 1461.6h44v1.5h-44z" fill="#B9A9D2"/><path d="M325.3 1315.4h44v1.5h-44zM391.4 1315.4h22v1.5h-22zM325.3 1316.9h88.1v1.5h-88.1zM347.3 1318.4h44v1.5h-44zM325.3 1321.3h22v1.5h-22zM325.3 1322.8h44v1.5h-44zM391.4 1322.8h22v1.5h-22zM325.3 1324.3h44v1.5h-44zM391.4 1324.3h22v1.5h-22z" fill="#E1B2A8"/><path d="M325.3 1318.4h22v1.5h-22zM391.4 1318.4h22v1.5h-22zM325.3 1319.8h88.1v1.5h-88.1zM347.3 1321.3h44v1.5h-44zM325.3 1370.1h66.1v1.5h-66.1z" fill="#D9BAB2"/><path d="M369.4 1322.8h22v1.5h-22z" fill="#E7AA9C"/><path d="M457.4 1322.8h22v1.5h-22zM325.3 1325.7h22v1.5h-22zM413.4 1327.2h44v1.5h-44zM457.4 1330.2h22v1.5h-22zM325.3 1350.9h22v1.5h-22zM303.3 1389.3h22v1.5h-22zM325.3 1402.6h22v1.5h-22zM325.3 1427.7h22v1.5h-22zM501.5 1427.7h22v1.5h-22zM435.4 1436.5h22v1.5h-22zM303.3 1438h22v1.5h-22zM435.4 1443.9h22v1.5h-22zM369.4 1448.3h22v1.5h-22zM501.5 1451.3h22v1.5h-22zM391.4 1463.1h22v1.5h-22zM369.4 1469h22v1.5h-22zM413.4 1482.3h22v1.5h-22z" fill="#D1C2BD"/><path d="M457.4 1337.6h22v1.5h-22zM501.5 1347.9h22v1.5h-22zM413.4 1353.8h22v1.5h-22zM347.3 1355.3h22v1.5h-22zM435.4 1373h22v1.5h-22zM435.4 1374.5h22v1.5h-22zM369.4 1387.8h22v1.5h-22zM391.4 1392.2h22v1.5h-22zM501.5 1402.6h22v1.5h-22zM479.5 1427.7h22v1.5h-22zM391.4 1436.5h22v1.5h-22zM303.3 1469h22v1.5h-22zM479.5 1472h22v1.5h-22z" fill="#C4BECB"/><path d="M325.3 1420.3h88.1v1.5h-88.1zM325.3 1454.3h66.1v1.5h-66.1zM325.3 1455.7h66.1v1.5h-66.1zM325.3 1479.4h88.1v1.5h-88.1z" fill="#BEB3CF"/><path d="M529.1 1315.4h22v1.5h-22zM529.1 1316.9h44v1.5h-44zM617.2 1316.9h22v1.5h-22zM529.1 1318.4h22v1.5h-22zM617.2 1321.3h22v1.5h-22zM595.2 1325.7h22v1.5h-22zM617.2 1328.7h22v1.5h-22zM595.2 1330.2h22v1.5h-22zM573.1 1333.1h22v1.5h-22zM595.2 1334.6h22v1.5h-22zM573.1 1336.1h44v1.5h-44zM573.1 1337.6h44v1.5h-44zM595.2 1343.5h22v1.5h-22zM595.2 1346.4h22v1.5h-22zM617.2 1347.9h22v1.5h-22zM595.2 1349.4h22v1.5h-22zM595.2 1350.9h22v1.5h-22zM573.1 1352.3h44v1.5h-44zM573.1 1353.8h22v1.5h-22zM595.2 1359.7h22v1.5h-22zM573.1 1362.7h44v1.5h-44zM573.1 1364.1h44v1.5h-44zM573.1 1365.6h44v1.5h-44zM595.2 1370.1h22v1.5h-22zM595.2 1371.5h22v1.5h-22zM573.1 1378.9h44v1.5h-44z" fill="#ECA290"/><path d="M551.1 1315.4h88.1v1.5h-88.1zM551.1 1318.4h22v1.5h-22zM595.2 1318.4h44v1.5h-44zM573.1 1327.2h22v1.5h-22zM595.2 1328.7h22v1.5h-22zM595.2 1333.1h22v1.5h-22zM573.1 1349.4h22v1.5h-22zM573.1 1370.1h22v1.5h-22z" fill="#F09984"/><path d="M639.2 1315.4h44v1.5h-44zM661.2 1316.9h22v1.5h-22zM595.2 1319.8h44v1.5h-44zM617.2 1327.2h22v1.5h-22zM617.2 1337.6h22v1.5h-22zM573.1 1339h22v1.5h-22zM573.1 1340.5h22v1.5h-22zM617.2 1342h22v1.5h-22zM595.2 1344.9h22v1.5h-22zM617.2 1349.4h22v1.5h-22zM573.1 1355.3h44v1.5h-44zM573.1 1358.2h66.1v1.5h-66.1zM617.2 1364.1h22v1.5h-22zM595.2 1368.6h22v1.5h-22zM595.2 1376h22v1.5h-22z" fill="#E1B2A8"/><path d="M573.1 1316.9h22v1.5h-22zM573.1 1319.8h22v1.5h-22z" fill="#F38E77"/><path d="M595.2 1316.9h22v1.5h-22zM595.2 1321.3h22v1.5h-22zM617.2 1324.3h22v1.5h-22zM595.2 1327.2h22v1.5h-22zM617.2 1330.2h22v1.5h-22zM617.2 1333.1h22v1.5h-22zM617.2 1334.6h22v1.5h-22zM617.2 1336.1h22v1.5h-22zM595.2 1339h22v1.5h-22zM595.2 1340.5h22v1.5h-22zM573.1 1342h44v1.5h-44zM573.1 1343.5h22v1.5h-22zM617.2 1343.5h22v1.5h-22zM573.1 1344.9h22v1.5h-22zM617.2 1344.9h22v1.5h-22zM573.1 1346.4h22v1.5h-22zM595.2 1347.9h22v1.5h-22zM573.1 1350.9h22v1.5h-22zM617.2 1352.3h22v1.5h-22zM595.2 1353.8h44v1.5h-44zM617.2 1355.3h22v1.5h-22zM573.1 1356.8h44v1.5h-44zM573.1 1359.7h22v1.5h-22zM617.2 1359.7h22v1.5h-22zM573.1 1361.2h66.1v1.5h-66.1zM617.2 1362.7h22v1.5h-22zM573.1 1367.1h44v1.5h-44zM573.1 1368.6h22v1.5h-22zM573.1 1371.5h22v1.5h-22zM573.1 1373h44v1.5h-44zM573.1 1374.5h44v1.5h-44zM573.1 1376h22v1.5h-22zM573.1 1377.4h44v1.5h-44zM573.1 1380.4h22v1.5h-22z" fill="#E7AA9C"/><path d="M639.2 1316.9h22v1.5h-22zM551.1 1325.7h22v1.5h-22zM529.1 1346.4h44v1.5h-44zM529.1 1371.5h44v1.5h-44z" fill="#D9BAB2"/><path d="M573.1 1318.4h22v1.5h-22z" fill="#F0644C"/><path d="M573.1 1321.3h22v1.5h-22zM573.1 1324.3h22v1.5h-22zM573.1 1328.7h22v1.5h-22zM573.1 1331.6h22v1.5h-22z" fill="#F28069"/><path d="M573.1 1322.8h22v1.5h-22zM573.1 1325.7h22v1.5h-22zM573.1 1330.2h22v1.5h-22z" fill="#F1725A"/><path d="M727.3 1322.8h22v1.5h-22zM661.2 1344.9h22v1.5h-22zM529.1 1359.7h22v1.5h-22zM705.3 1359.7h44v1.5h-44zM529.1 1374.5h22v1.5h-22zM705.3 1389.3h44v1.5h-44zM551.1 1405.5h22v1.5h-22zM551.1 1417.3h22v1.5h-22zM705.3 1420.3h44v1.5h-44zM639.2 1426.2h22v1.5h-22zM705.3 1446.9h22v1.5h-22zM705.3 1449.8h44v1.5h-44zM705.3 1452.8h44v1.5h-44zM573.1 1461.6h22v1.5h-22zM727.3 1463.1h22v1.5h-22zM573.1 1467.6h22v1.5h-22zM639.2 1482.3h22v1.5h-22z" fill="#C4BECB"/><path d="M551.1 1324.3h22v1.5h-22zM639.2 1350.9h22v1.5h-22zM705.3 1362.7h22v1.5h-22zM683.2 1368.6h22v1.5h-22zM727.3 1378.9h22v1.5h-22zM705.3 1384.8h22v1.5h-22zM639.2 1432.1h22v1.5h-22z" fill="#D1C2BD"/><path d="M573.1 1381.9h22v1.5h-22zM573.1 1387.8h22v1.5h-22zM573.1 1452.8h22v1.5h-22zM573.1 1457.2h22v1.5h-22zM573.1 1460.2h22v1.5h-22zM573.1 1466.1h22v1.5h-22zM705.3 1476.4h44v1.5h-44z" fill="#BEB3CF"/><path d="M573.1 1384.8h22v1.5h-22zM573.1 1386.3h22v1.5h-22zM595.2 1392.2h22v1.5h-22zM595.2 1396.6h22v1.5h-22zM595.2 1398.1h22v1.5h-22zM595.2 1401.1h22v1.5h-22zM595.2 1404h22v1.5h-22zM595.2 1409.9h22v1.5h-22zM595.2 1411.4h22v1.5h-22zM617.2 1414.4h22v1.5h-22zM617.2 1415.8h22v1.5h-22zM595.2 1421.8h44v1.5h-44zM617.2 1423.2h22v1.5h-22zM617.2 1426.2h22v1.5h-22zM595.2 1427.7h44v1.5h-44zM595.2 1429.1h44v1.5h-44zM617.2 1430.6h22v1.5h-22zM617.2 1435.1h22v1.5h-22zM617.2 1438h22v1.5h-22zM617.2 1439.5h22v1.5h-22zM617.2 1441h22v1.5h-22zM595.2 1442.4h22v1.5h-22zM617.2 1443.9h22v1.5h-22zM617.2 1445.4h22v1.5h-22zM617.2 1446.9h22v1.5h-22zM617.2 1448.3h22v1.5h-22zM573.1 1449.8h66.1v1.5h-66.1zM573.1 1451.3h44v1.5h-44zM617.2 1452.8h22v1.5h-22zM573.1 1454.3h22v1.5h-22zM617.2 1454.3h22v1.5h-22zM573.1 1455.7h22v1.5h-22zM595.2 1457.2h44v1.5h-44zM573.1 1458.7h66.1v1.5h-66.1zM573.1 1463.1h22v1.5h-22zM617.2 1463.1h22v1.5h-22zM617.2 1464.6h22v1.5h-22zM595.2 1467.6h44v1.5h-44zM573.1 1470.5h22v1.5h-22zM617.2 1472h22v1.5h-22zM573.1 1473.5h22v1.5h-22z" fill="#B9A9D2"/><path d="M551.1 1389.3h22v1.5h-22z" fill="#5058A8"/><path d="M595.2 1390.7h22v1.5h-22zM595.2 1393.7h22v1.5h-22zM595.2 1395.2h22v1.5h-22zM595.2 1399.6h22v1.5h-22zM595.2 1402.6h22v1.5h-22zM595.2 1405.5h22v1.5h-22zM595.2 1407h22v1.5h-22zM595.2 1408.5h22v1.5h-22zM617.2 1412.9h22v1.5h-22zM595.2 1414.4h22v1.5h-22zM595.2 1415.8h22v1.5h-22zM595.2 1417.3h44v1.5h-44zM595.2 1418.8h44v1.5h-44zM595.2 1420.3h44v1.5h-44zM595.2 1423.2h22v1.5h-22zM595.2 1424.7h44v1.5h-44zM595.2 1426.2h22v1.5h-22zM595.2 1430.6h22v1.5h-22zM617.2 1432.1h22v1.5h-22zM595.2 1433.6h44v1.5h-44zM617.2 1436.5h22v1.5h-22zM595.2 1439.5h22v1.5h-22zM595.2 1441h22v1.5h-22zM617.2 1442.4h22v1.5h-22zM595.2 1443.9h22v1.5h-22zM595.2 1445.4h22v1.5h-22zM595.2 1446.9h22v1.5h-22zM595.2 1448.3h22v1.5h-22zM617.2 1451.3h22v1.5h-22zM595.2 1452.8h22v1.5h-22zM595.2 1454.3h22v1.5h-22zM595.2 1455.7h44v1.5h-44zM595.2 1460.2h44v1.5h-44zM595.2 1461.6h44v1.5h-44zM595.2 1463.1h22v1.5h-22zM595.2 1464.6h22v1.5h-22zM595.2 1466.1h44v1.5h-44zM595.2 1469h44v1.5h-44zM595.2 1470.5h44v1.5h-44zM595.2 1472h22v1.5h-22zM595.2 1473.5h44v1.5h-44zM595.2 1482.3h22v1.5h-22z" fill="#A997CB"/><path d="M595.2 1412.9h22v1.5h-22zM595.2 1432.1h22v1.5h-22zM595.2 1435.1h22v1.5h-22zM595.2 1436.5h22v1.5h-22zM595.2 1438h22v1.5h-22zM573.1 1474.9h44v1.5h-44zM573.1 1479.4h66.1v1.5h-66.1zM573.1 1482.3h22v1.5h-22zM617.2 1482.3h22v1.5h-22z" fill="#9482C0"/><path d="M617.2 1474.9h22v1.5h-22zM573.1 1476.4h66.1v1.5h-66.1zM573.1 1477.9h22v1.5h-22zM573.1 1480.8h22v1.5h-22zM617.2 1480.8h22v1.5h-22z" fill="#7E6CB4"/><path d="M595.2 1477.9h44v1.5h-44zM595.2 1480.8h22v1.5h-22z" fill="#6D5DAC"/><path d="M142.7 1497.9h22v1.5h-22zM208.7 1499.4h22v1.5h-22zM76.6 1520h22v1.5h-22zM164.7 1521.5h22v1.5h-22zM186.7 1530.3h22v1.5h-22zM230.7 1537.6h22v1.5h-22zM186.7 1552.3h22v1.5h-22zM274.8 1558.2h22v1.5h-22zM120.6 1561.2h22v1.5h-22zM274.8 1565.6h22v1.5h-22zM120.6 1567h22v1.5h-22z" fill="#C4BECB"/><path d="M142.7 1505.3h22v1.5h-22zM142.7 1508.2h22v1.5h-22zM120.6 1515.6h44v1.5h-44z" fill="#D9BAB2"/><path d="M120.6 1512.6h22v1.5h-22z" fill="#E1B2A8"/><path d="M98.6 1515.6h22v1.5h-22zM252.8 1520h22v1.5h-22zM186.7 1534.7h22v1.5h-22zM208.7 1543.5h22v1.5h-22zM76.6 1545h22v1.5h-22zM230.7 1547.9h22v1.5h-22zM252.8 1552.3h22v1.5h-22zM142.7 1558.2h22v1.5h-22z" fill="#D1C2BD"/><path d="M303.3 1490.6h22v1.5h-22zM347.3 1490.6h22v1.5h-22zM369.4 1492.1h22v1.5h-22zM369.4 1493.5h22v1.5h-22z" fill="#E92C2A"/><path d="M369.4 1490.6h22v1.5h-22z" fill="#EE5342"/><path d="M303.3 1492.1h22v1.5h-22zM347.3 1492.1h22v1.5h-22z" fill="#EA322D"/><path d="M325.3 1493.5h22v1.5h-22zM325.3 1497.9h22v1.5h-22zM325.3 1499.4h22v1.5h-22zM325.3 1508.2h22v1.5h-22zM325.3 1512.6h44v1.5h-44zM369.4 1517.1h44v1.5h-44zM391.4 1518.5h22v1.5h-22zM347.3 1522.9h66.1v1.5h-66.1zM347.3 1524.4h44v1.5h-44zM369.4 1525.9h22v1.5h-22zM369.4 1527.3h44v1.5h-44zM347.3 1530.3h22v1.5h-22zM391.4 1530.3h22v1.5h-22zM369.4 1531.8h44v1.5h-44zM347.3 1533.2h22v1.5h-22z" fill="#F09984"/><path d="M347.3 1493.5h22v1.5h-22zM347.3 1497.9h22v1.5h-22zM347.3 1517.1h22v1.5h-22z" fill="#F38E77"/><path d="M325.3 1495h44v1.5h-44zM413.4 1500.9h44v1.5h-44zM325.3 1502.4h22v1.5h-22zM347.3 1509.7h22v1.5h-22zM325.3 1511.2h44v1.5h-44zM347.3 1514.1h22v1.5h-22zM325.3 1515.6h22v1.5h-22zM369.4 1518.5h22v1.5h-22zM347.3 1520h66.1v1.5h-66.1zM347.3 1521.5h22v1.5h-22zM347.3 1525.9h22v1.5h-22zM391.4 1525.9h22v1.5h-22zM347.3 1527.3h22v1.5h-22zM369.4 1530.3h22v1.5h-22zM347.3 1531.8h22v1.5h-22zM369.4 1533.2h22v1.5h-22z" fill="#ECA290"/><path d="M413.4 1496.5h22v1.5h-22zM413.4 1497.9h22v1.5h-22zM457.4 1497.9h22v1.5h-22zM347.3 1499.4h22v1.5h-22zM457.4 1500.9h22v1.5h-22zM325.3 1503.8h44v1.5h-44zM325.3 1505.3h22v1.5h-22zM325.3 1509.7h22v1.5h-22zM325.3 1514.1h22v1.5h-22zM369.4 1521.5h44v1.5h-44z" fill="#E7AA9C"/><path d="M303.3 1497.9h22v1.5h-22zM303.3 1502.4h22v1.5h-22zM303.3 1512.6h22v1.5h-22zM347.3 1518.5h22v1.5h-22zM457.4 1521.5h22v1.5h-22zM347.3 1528.8h22v1.5h-22zM391.4 1540.6h22v1.5h-22zM303.3 1561.2h22v1.5h-22z" fill="#D1C2BD"/><path d="M435.4 1497.9h22v1.5h-22zM501.5 1505.3h22v1.5h-22zM479.5 1545h22v1.5h-22zM479.5 1547.9h44v1.5h-44z" fill="#E1B2A8"/><path d="M369.4 1514.1h22v1.5h-22zM413.4 1540.6h22v1.5h-22zM501.5 1542h22v1.5h-22zM435.4 1547.9h22v1.5h-22zM325.3 1556.7h22v1.5h-22zM501.5 1559.7h22v1.5h-22zM479.5 1565.6h22v1.5h-22zM347.3 1567h22v1.5h-22z" fill="#C4BECB"/><path d="M479.5 1522.9h44v1.5h-44zM479.5 1525.9h44v1.5h-44zM479.5 1527.3h44v1.5h-44zM479.5 1543.5h22v1.5h-22zM501.5 1545h22v1.5h-22z" fill="#D9BAB2"/><path d="M325.3 1534.7h22v1.5h-22zM325.3 1545h22v1.5h-22z" fill="#7E6CB4"/><path d="M325.3 1536.2h22v1.5h-22zM325.3 1539.1h22v1.5h-22zM325.3 1540.6h22v1.5h-22zM325.3 1543.5h22v1.5h-22z" fill="#9482C0"/><path d="M325.3 1537.6h22v1.5h-22zM347.3 1546.5h22v1.5h-22zM347.3 1552.3h44v1.5h-44zM347.3 1555.3h44v1.5h-44zM347.3 1558.2h44v1.5h-44zM369.4 1564.1h22v1.5h-22zM369.4 1567h22v1.5h-22z" fill="#A997CB"/><path d="M325.3 1542h22v1.5h-22z" fill="#6D5DAC"/><path d="M347.3 1553.8h22v1.5h-22zM347.3 1556.7h44v1.5h-44zM347.3 1564.1h22v1.5h-22zM347.3 1565.6h44v1.5h-44z" fill="#B9A9D2"/><path d="M661.2 1500.9h22v1.5h-22zM573.1 1505.3h22v1.5h-22zM705.3 1525.9h22v1.5h-22zM617.2 1527.3h22v1.5h-22zM595.2 1530.3h22v1.5h-22zM529.1 1533.2h22v1.5h-22zM573.1 1533.2h22v1.5h-22zM617.2 1567h22v1.5h-22z" fill="#C4BECB"/><path d="M573.1 1502.4h66.1v1.5h-66.1zM573.1 1506.8h44v1.5h-44zM573.1 1522.9h22v1.5h-22zM573.1 1542h66.1v1.5h-66.1zM573.1 1543.5h44v1.5h-44zM573.1 1559.7h66.1v1.5h-66.1zM573.1 1565.6h22v1.5h-22z" fill="#D9BAB2"/><path d="M683.2 1518.5h22v1.5h-22zM551.1 1533.2h22v1.5h-22zM573.1 1550.9h22v1.5h-22zM573.1 1555.3h22v1.5h-22zM551.1 1558.2h22v1.5h-22zM639.2 1561.2h22v1.5h-22zM529.1 1562.6h22v1.5h-22z" fill="#D1C2BD"/><path d="M617.2 1543.5h22v1.5h-22zM595.2 1565.6h44v1.5h-44z" fill="#E1B2A8"/><path d="M573.1 1558.2h66.1v1.5h-66.1z" fill="#BEB3CF"/><text transform="translate(92.9 1571.5) rotate(-90)" text-anchor="end" font-size="23.3">15m</text><text transform="translate(114.1 1571.5) rotate(-90)" text-anchor="end" font-size="23.3">30m</text><text transform="translate(136.8 1571.5) rotate(-90)" text-anchor="end" font-size="23.3">1h</text><text transform="translate(161 1571.5) rotate(-90)" text-anchor="end" font-size="23.3">1.5h</text><text transform="translate(182.5 1571.5) rotate(-90)" text-anchor="end" font-size="23.3">2h</text><text transform="translate(205.9 1571.5) rotate(-90)" text-anchor="end" font-size="23.3">4h</text><text transform="translate(227.4 1571.5) rotate(-90)" text-anchor="end" font-size="23.3">6h</text><text transform="translate(251.7 1571.5) rotate(-90)" text-anchor="end" font-size="23.3">8h</text><text transform="translate(272.7 1571.5) rotate(-90)" text-anchor="end" font-size="23.3">18h</text><text transform="translate(294.9 1571.5) rotate(-90)" text-anchor="end" font-size="23.3">24h</text><text transform="translate(319.6 1571.5) rotate(-90)" text-anchor="end" font-size="23.3">15m</text><text transform="translate(340.8 1571.5) rotate(-90)" text-anchor="end" font-size="23.3">30m</text><text transform="translate(363.5 1571.5) rotate(-90)" text-anchor="end" font-size="23.3">1h</text><text transform="translate(387.7 1571.5) rotate(-90)" text-anchor="end" font-size="23.3">1.5h</text><text transform="translate(409.2 1571.5) rotate(-90)" text-anchor="end" font-size="23.3">2h</text><text transform="translate(432.6 1571.5) rotate(-90)" text-anchor="end" font-size="23.3">4h</text><text transform="translate(454.1 1571.5) rotate(-90)" text-anchor="end" font-size="23.3">6h</text><text transform="translate(478.4 1571.5) rotate(-90)" text-anchor="end" font-size="23.3">8h</text><text transform="translate(499.4 1571.5) rotate(-90)" text-anchor="end" font-size="23.3">18h</text><text transform="translate(521.6 1571.5) rotate(-90)" text-anchor="end" font-size="23.3">24h</text><text transform="translate(545.4 1571.5) rotate(-90)" text-anchor="end" font-size="23.3">15m</text><text transform="translate(566.6 1571.5) rotate(-90)" text-anchor="end" font-size="23.3">30m</text><text transform="translate(589.2 1571.5) rotate(-90)" text-anchor="end" font-size="23.3">1h</text><text transform="translate(613.5 1571.5) rotate(-90)" text-anchor="end" font-size="23.3">1.5h</text><text transform="translate(635 1571.5) rotate(-90)" text-anchor="end" font-size="23.3">2h</text><text transform="translate(658.4 1571.5) rotate(-90)" text-anchor="end" font-size="23.3">4h</text><text transform="translate(679.9 1571.5) rotate(-90)" text-anchor="end" font-size="23.3">6h</text><text transform="translate(704.1 1571.5) rotate(-90)" text-anchor="end" font-size="23.3">8h</text><text transform="translate(725.2 1571.5) rotate(-90)" text-anchor="end" font-size="23.3">18h</text><text transform="translate(747.4 1571.5) rotate(-90)" text-anchor="end" font-size="23.3">24h</text><text x="395.5" y="1655" text-anchor="middle" font-size="38">time</text><rect x="784" y="982.2" width="213" height="288.6" fill="#F0F1F1"/><text x="895.5" y="1015.4" text-anchor="middle" font-size="25">log<tspan font-size="18" dy="6">2</tspan><tspan dy="-6">(FC)</tspan></text><text x="811.7" y="1054.7" text-anchor="middle" font-size="24.5">−2</text><text x="850.6" y="1054.7" text-anchor="middle" font-size="24.5">−1</text><text x="895.2" y="1054.7" text-anchor="middle" font-size="24.5">0</text><text x="933" y="1054.7" text-anchor="middle" font-size="24.5">1</text><text x="969.3" y="1054.7" text-anchor="middle" font-size="24.5">2</text><defs><linearGradient id="cb" x1="0" x2="1" y1="0" y2="0"><stop offset="0.035" stop-color="#3953A4"/><stop offset="0.151" stop-color="#5058A8"/><stop offset="0.267" stop-color="#705EAC"/><stop offset="0.384" stop-color="#B7A5D3"/><stop offset="0.500" stop-color="#C9C9C8"/><stop offset="0.616" stop-color="#E4B0A4"/><stop offset="0.733" stop-color="#F3937C"/><stop offset="0.849" stop-color="#F0644C"/><stop offset="0.965" stop-color="#E92C2A"/></linearGradient></defs><rect x="814.7" y="1067.5" width="162.8" height="32.3" fill="url(#cb)"/><path d="M820.8 1067.5L820.8 1073.5" stroke="#FFFFFF" stroke-width="1.5"/><path d="M820.8 1093.8L820.8 1099.8" stroke="#FFFFFF" stroke-width="1.5"/><path d="M858.3 1067.5L858.3 1073.5" stroke="#FFFFFF" stroke-width="1.5"/><path d="M858.3 1093.8L858.3 1099.8" stroke="#FFFFFF" stroke-width="1.5"/><path d="M895.9 1067.5L895.9 1073.5" stroke="#FFFFFF" stroke-width="1.5"/><path d="M895.9 1093.8L895.9 1099.8" stroke="#FFFFFF" stroke-width="1.5"/><path d="M933.4 1067.5L933.4 1073.5" stroke="#FFFFFF" stroke-width="1.5"/><path d="M933.4 1093.8L933.4 1099.8" stroke="#FFFFFF" stroke-width="1.5"/><path d="M970.9 1067.5L970.9 1073.5" stroke="#FFFFFF" stroke-width="1.5"/><path d="M970.9 1093.8L970.9 1099.8" stroke="#FFFFFF" stroke-width="1.5"/><rect x="788" y="1128.2" width="26.7" height="25.6" fill="#939398"/><text x="822.9" y="1151" font-size="26">common</text><rect x="788" y="1163" width="26.7" height="25.6" fill="#C8848A"/><text x="822.9" y="1185.4" font-size="26">CA1–enriched</text><rect x="788" y="1198.2" width="26.7" height="25.6" fill="#9193C2"/><text x="822.9" y="1221" font-size="26">DG–enriched</text><rect x="788" y="1234.4" width="26.7" height="25.6" fill="#84AC90"/><text x="822.9" y="1256.3" font-size="26">CA3–enriched</text><rect x="1050.2" y="657.6" width="221.4" height="35.3" fill="#F4E8E8"/><rect x="1276.5" y="657.6" width="222" height="35.3" fill="#E6EEEA"/><rect x="1503.1" y="657.6" width="220.6" height="35.3" fill="#E8E8F4"/><text x="1169" y="688" text-anchor="middle" fill="#1A1A1A" font-size="32">CA1</text><text x="1392.4" y="688" text-anchor="middle" fill="#1A1A1A" font-size="32">CA3</text><text x="1617.2" y="688" text-anchor="middle" fill="#1A1A1A" font-size="33">DG</text><text x="1732.4" y="685" font-size="32">57 TFs</text><rect x="1021.1" y="699.1" width="25.3" height="301" fill="#96979B"/><rect x="1052.1" y="699.1" width="219.5" height="301" fill="#C9C9C8"/><path d="M1052.1 699.1h109.8v15.1h-109.8zM1052.1 714.1h87.8v15.1h-87.8zM1096 729.2h65.8v15.1h-65.8zM1052.1 744.2h43.9v15.1h-43.9z" fill="#E92C2A"/><path d="M1139.9 714.1h21.9v15.1h-21.9zM1096 804.5h21.9v15.1h-21.9z" fill="#F16D56"/><path d="M1205.8 714.1h21.9v15.1h-21.9zM1205.8 804.5h21.9v15.1h-21.9zM1205.8 955h21.9v15.1h-21.9zM1074 985h21.9v15.1h-21.9z" fill="#C7C5C9"/><path d="M1052.1 729.2h21.9v15.1h-21.9zM1139.9 759.3h21.9v15.1h-21.9zM1139.9 774.4h21.9v15.1h-21.9z" fill="#F1775F"/><path d="M1074 729.2h21.9v15.1h-21.9zM1096 759.3h21.9v15.1h-21.9zM1117.9 774.4h21.9v15.1h-21.9zM1096 789.4h21.9v15.1h-21.9z" fill="#EF5945"/><path d="M1161.8 729.2h21.9v15.1h-21.9zM1074 759.3h21.9v15.1h-21.9zM1074 789.4h21.9v15.1h-21.9z" fill="#F28A72"/><path d="M1183.8 729.2h21.9v15.1h-21.9zM1074 804.5h21.9v15.1h-21.9zM1117.9 819.5h21.9v15.1h-21.9zM1096 834.6h21.9v15.1h-21.9z" fill="#F09984"/><path d="M1205.8 729.2h21.9v15.1h-21.9z" fill="#D1C2BD"/><path d="M1096 744.2h21.9v15.1h-21.9zM1074 774.4h21.9v15.1h-21.9zM1117.9 804.5h21.9v15.1h-21.9z" fill="#F3937C"/><path d="M1052.1 759.3h21.9v15.1h-21.9zM1096 819.5h21.9v15.1h-21.9zM1139.9 864.7h21.9v15.1h-21.9z" fill="#ED9F8C"/><path d="M1117.9 759.3h21.9v15.1h-21.9z" fill="#ED4E3E"/><path d="M1052.1 774.4h21.9v15.1h-21.9zM1052.1 789.4h21.9v15.1h-21.9zM1117.9 849.6h21.9v15.1h-21.9zM1096 864.7h21.9v15.1h-21.9z" fill="#EAA494"/><path d="M1096 774.4h21.9v15.1h-21.9z" fill="#F0644C"/><path d="M1249.6 774.4h21.9v15.1h-21.9zM1249.6 879.7h21.9v15.1h-21.9zM1249.6 894.8h21.9v15.1h-21.9zM1249.6 909.8h21.9v15.1h-21.9zM1139.9 924.9h21.9v15.1h-21.9z" fill="#CEC4C1"/><path d="M1117.9 789.4h21.9v15.1h-21.9zM1117.9 834.6h21.9v15.1h-21.9z" fill="#F28069"/><path d="M1139.9 789.4h21.9v15.1h-21.9zM1074 864.7h21.9v15.1h-21.9z" fill="#DCB8AF"/><path d="M1052.1 804.5h21.9v15.1h-21.9zM1074 834.6h21.9v15.1h-21.9zM1074 849.6h21.9v15.1h-21.9zM1052.1 864.7h21.9v15.1h-21.9zM1183.8 864.7h21.9v15.1h-21.9zM1139.9 894.8h21.9v15.1h-21.9zM1074 924.9h21.9v15.1h-21.9z" fill="#D9BAB2"/><path d="M1139.9 804.5h21.9v15.1h-21.9zM1205.8 909.8h21.9v15.1h-21.9zM1249.6 939.9h21.9v15.1h-21.9zM1205.8 985h21.9v15.1h-21.9z" fill="#CCC6C4"/><path d="M1074 819.5h21.9v15.1h-21.9zM1139.9 849.6h21.9v15.1h-21.9zM1161.8 864.7h21.9v15.1h-21.9zM1117.9 879.7h43.9v15.1h-43.9zM1227.7 879.7h21.9v15.1h-21.9zM1117.9 894.8h21.9v15.1h-21.9zM1117.9 909.8h21.9v15.1h-21.9zM1096 924.9h43.9v15.1h-43.9zM1117.9 939.9h21.9v15.1h-21.9z" fill="#E4B0A4"/><path d="M1139.9 819.5h21.9v15.1h-21.9zM1139.9 834.6h21.9v15.1h-21.9z" fill="#E7AA9C"/><path d="M1205.8 819.5h21.9v15.1h-21.9zM1249.6 849.6h21.9v15.1h-21.9zM1139.9 955h21.9v15.1h-21.9zM1249.6 970h21.9v15.1h-21.9zM1096 985h21.9v15.1h-21.9zM1249.6 985h21.9v15.1h-21.9z" fill="#C5C2CA"/><path d="M1096 849.6h21.9v15.1h-21.9z" fill="#E8A798"/><path d="M1205.8 849.6h21.9v15.1h-21.9zM1117.9 970h43.9v15.1h-43.9z" fill="#BCB0D0"/><path d="M1117.9 864.7h21.9v15.1h-21.9z" fill="#ECA290"/><path d="M1205.8 864.7h21.9v15.1h-21.9zM1161.8 894.8h21.9v15.1h-21.9z" fill="#DFB5AB"/><path d="M1249.6 864.7h21.9v15.1h-21.9zM1205.8 970h21.9v15.1h-21.9z" fill="#D6BCB6"/><path d="M1096 879.7h21.9v15.1h-21.9zM1096 894.8h21.9v15.1h-21.9zM1096 909.8h21.9v15.1h-21.9zM1139.9 909.8h21.9v15.1h-21.9zM1139.9 939.9h21.9v15.1h-21.9z" fill="#D4BFBA"/><path d="M1096 955h21.9v15.1h-21.9z" fill="#C0B7CE"/><path d="M1117.9 955h21.9v15.1h-21.9z" fill="#BBACD1"/><path d="M1096 970h21.9v15.1h-21.9z" fill="#C4BECB"/><path d="M1117.9 985h21.9v15.1h-21.9z" fill="#9B89C3"/><path d="M1139.9 985h21.9v15.1h-21.9z" fill="#A997CB"/><path d="M1074 699.1v301M1096 699.1v301M1117.9 699.1v301M1139.9 699.1v301M1161.8 699.1v301M1183.8 699.1v301M1205.8 699.1v301M1227.7 699.1v301M1249.6 699.1v301M1052.1 714.1h219.5M1052.1 729.2h219.5M1052.1 744.2h219.5M1052.1 759.3h219.5M1052.1 774.4h219.5M1052.1 789.4h219.5M1052.1 804.5h219.5M1052.1 819.5h219.5M1052.1 834.6h219.5M1052.1 849.6h219.5M1052.1 864.7h219.5M1052.1 879.7h219.5M1052.1 894.8h219.5M1052.1 909.8h219.5M1052.1 924.9h219.5M1052.1 939.9h219.5M1052.1 955h219.5M1052.1 970h219.5M1052.1 985h219.5" stroke="#D4D4D4" stroke-width="0.7" stroke-opacity="0.7"/><rect x="1278.9" y="699.1" width="219.5" height="301" fill="#C9C9C8"/><path d="M1278.9 699.1h109.8v15.1h-109.8zM1278.9 714.1h21.9v15.1h-21.9zM1300.9 714.1h65.8v15.1h-65.8zM1278.9 744.2h43.9v15.1h-43.9z" fill="#E92C2A"/><path d="M1366.7 714.1h21.9v15.1h-21.9zM1300.9 729.2h21.9v15.1h-21.9zM1322.8 759.3h21.9v15.1h-21.9z" fill="#F28069"/><path d="M1278.9 729.2h21.9v15.1h-21.9zM1278.9 774.4h21.9v15.1h-21.9zM1344.8 819.5h21.9v15.1h-21.9zM1322.8 834.6h21.9v15.1h-21.9zM1366.7 879.7h21.9v15.1h-21.9z" fill="#E4B0A4"/><path d="M1322.8 729.2h21.9v15.1h-21.9z" fill="#ED4E3E"/><path d="M1344.8 729.2h21.9v15.1h-21.9zM1322.8 744.2h21.9v15.1h-21.9z" fill="#EC4238"/><path d="M1366.7 729.2h21.9v15.1h-21.9zM1322.8 789.4h21.9v15.1h-21.9zM1322.8 804.5h21.9v15.1h-21.9z" fill="#F1775F"/><path d="M1388.7 729.2h21.9v15.1h-21.9z" fill="#ED9F8C"/><path d="M1476.5 729.2h21.9v15.1h-21.9zM1432.6 774.4h21.9v15.1h-21.9zM1432.6 894.8h21.9v15.1h-21.9z" fill="#C7C5C9"/><path d="M1344.8 744.2h21.9v15.1h-21.9zM1300.9 759.3h21.9v15.1h-21.9zM1344.8 759.3h21.9v15.1h-21.9zM1278.9 789.4h21.9v15.1h-21.9zM1344.8 789.4h21.9v15.1h-21.9zM1300.9 804.5h21.9v15.1h-21.9zM1366.7 834.6h21.9v15.1h-21.9z" fill="#F09984"/><path d="M1278.9 759.3h21.9v15.1h-21.9zM1344.8 804.5h21.9v15.1h-21.9zM1366.7 849.6h21.9v15.1h-21.9z" fill="#EAA494"/><path d="M1366.7 759.3h21.9v15.1h-21.9zM1322.8 849.6h21.9v15.1h-21.9z" fill="#EE9C88"/><path d="M1300.9 774.4h21.9v15.1h-21.9zM1278.9 804.5h21.9v15.1h-21.9zM1366.7 819.5h21.9v15.1h-21.9z" fill="#E6ADA0"/><path d="M1322.8 774.4h21.9v15.1h-21.9z" fill="#F3937C"/><path d="M1344.8 774.4h21.9v15.1h-21.9z" fill="#E8A798"/><path d="M1366.7 774.4h21.9v15.1h-21.9zM1300.9 819.5h21.9v15.1h-21.9zM1300.9 834.6h21.9v15.1h-21.9zM1344.8 894.8h21.9v15.1h-21.9z" fill="#E1B2A8"/><path d="M1300.9 789.4h21.9v15.1h-21.9z" fill="#F28A72"/><path d="M1322.8 819.5h21.9v15.1h-21.9zM1344.8 849.6h21.9v15.1h-21.9z" fill="#ECA290"/><path d="M1344.8 834.6h21.9v15.1h-21.9z" fill="#F29680"/><path d="M1300.9 849.6h21.9v15.1h-21.9zM1388.7 894.8h21.9v15.1h-21.9z" fill="#DCB8AF"/><path d="M1388.7 849.6h21.9v15.1h-21.9zM1322.8 864.7h21.9v15.1h-21.9zM1322.8 879.7h21.9v15.1h-21.9zM1366.7 894.8h21.9v15.1h-21.9zM1344.8 909.8h43.9v15.1h-43.9z" fill="#D9BAB2"/><path d="M1300.9 864.7h21.9v15.1h-21.9zM1388.7 864.7h21.9v15.1h-21.9z" fill="#CEC4C1"/><path d="M1344.8 864.7h43.9v15.1h-43.9zM1388.7 879.7h21.9v15.1h-21.9zM1300.9 909.8h21.9v15.1h-21.9zM1454.5 909.8h21.9v15.1h-21.9zM1300.9 924.9h65.8v15.1h-65.8zM1454.5 939.9h21.9v15.1h-21.9z" fill="#CCC6C4"/><path d="M1344.8 879.7h21.9v15.1h-21.9z" fill="#E7AA9C"/><path d="M1454.5 879.7h21.9v15.1h-21.9zM1322.8 909.8h21.9v15.1h-21.9z" fill="#DFB5AB"/><path d="M1300.9 894.8h21.9v15.1h-21.9zM1454.5 894.8h21.9v15.1h-21.9z" fill="#D4BFBA"/><path d="M1300.9 955h43.9v15.1h-43.9zM1366.7 955h21.9v15.1h-21.9zM1388.7 970h21.9v15.1h-21.9zM1388.7 985h21.9v15.1h-21.9z" fill="#C5C2CA"/><path d="M1344.8 955h21.9v15.1h-21.9zM1344.8 970h43.9v15.1h-43.9zM1454.5 985h21.9v15.1h-21.9z" fill="#B7A5D3"/><path d="M1300.9 970h21.9v15.1h-21.9zM1454.5 970h21.9v15.1h-21.9z" fill="#C4BECB"/><path d="M1322.8 970h21.9v15.1h-21.9zM1322.8 985h21.9v15.1h-21.9z" fill="#BEB3CF"/><path d="M1344.8 985h21.9v15.1h-21.9z" fill="#8573B8"/><path d="M1366.7 985h21.9v15.1h-21.9z" fill="#9B89C3"/><path d="M1300.9 699.1v301M1322.8 699.1v301M1344.8 699.1v301M1366.7 699.1v301M1388.7 699.1v301M1410.6 699.1v301M1432.6 699.1v301M1454.5 699.1v301M1476.5 699.1v301M1278.9 714.1h219.5M1278.9 729.2h219.5M1278.9 744.2h219.5M1278.9 759.3h219.5M1278.9 774.4h219.5M1278.9 789.4h219.5M1278.9 804.5h219.5M1278.9 819.5h219.5M1278.9 834.6h219.5M1278.9 849.6h219.5M1278.9 864.7h219.5M1278.9 879.7h219.5M1278.9 894.8h219.5M1278.9 909.8h219.5M1278.9 924.9h219.5M1278.9 939.9h219.5M1278.9 955h219.5M1278.9 970h219.5M1278.9 985h219.5" stroke="#D4D4D4" stroke-width="0.7" stroke-opacity="0.7"/><rect x="1505.2" y="699.1" width="219.5" height="301" fill="#C9C9C8"/><path d="M1505.2 699.1h21.9v15.1h-21.9zM1571 699.1h21.9v15.1h-21.9zM1571 714.1h21.9v15.1h-21.9zM1527.2 729.2h21.9v15.1h-21.9z" fill="#F28A72"/><path d="M1527.2 699.1h43.9v15.1h-43.9z" fill="#E92C2A"/><path d="M1505.2 714.1h21.9v15.1h-21.9z" fill="#F29680"/><path d="M1527.2 714.1h21.9v15.1h-21.9zM1571 729.2h21.9v15.1h-21.9z" fill="#F0644C"/><path d="M1549.1 714.1h21.9v15.1h-21.9z" fill="#EF5945"/><path d="M1593 714.1h21.9v15.1h-21.9zM1593 819.5h21.9v15.1h-21.9zM1593 894.8h21.9v15.1h-21.9z" fill="#E7AA9C"/><path d="M1636.9 714.1h21.9v15.1h-21.9z" fill="#7765B0"/><path d="M1505.2 729.2h21.9v15.1h-21.9zM1549.1 774.4h21.9v15.1h-21.9zM1571 819.5h21.9v15.1h-21.9z" fill="#ED9F8C"/><path d="M1549.1 729.2h21.9v15.1h-21.9zM1593 729.2h21.9v15.1h-21.9zM1527.2 744.2h21.9v15.1h-21.9z" fill="#F1775F"/><path d="M1615 729.2h21.9v15.1h-21.9zM1505.2 789.4h21.9v15.1h-21.9zM1549.1 789.4h21.9v15.1h-21.9zM1549.1 834.6h21.9v15.1h-21.9zM1571 864.7h21.9v15.1h-21.9zM1680.8 909.8h21.9v15.1h-21.9zM1571 939.9h21.9v15.1h-21.9z" fill="#DCB8AF"/><path d="M1680.8 729.2h43.9v15.1h-43.9zM1680.8 789.4h43.9v15.1h-43.9zM1702.8 804.5h21.9v15.1h-21.9zM1680.8 849.6h43.9v15.1h-43.9z" fill="#C7C5C9"/><path d="M1505.2 744.2h21.9v15.1h-21.9z" fill="#F3937C"/><path d="M1549.1 744.2h21.9v15.1h-21.9z" fill="#EAA494"/><path d="M1527.2 759.3h21.9v15.1h-21.9zM1571 879.7h21.9v15.1h-21.9zM1549.1 939.9h21.9v15.1h-21.9z" fill="#E1B2A8"/><path d="M1549.1 759.3h21.9v15.1h-21.9zM1527.2 789.4h21.9v15.1h-21.9z" fill="#ECA290"/><path d="M1571 759.3h21.9v15.1h-21.9zM1527.2 774.4h21.9v15.1h-21.9zM1593 879.7h21.9v15.1h-21.9zM1571 894.8h21.9v15.1h-21.9zM1549.1 909.8h21.9v15.1h-21.9z" fill="#E4B0A4"/><path d="M1593 759.3h21.9v15.1h-21.9zM1549.1 924.9h43.9v15.1h-43.9z" fill="#DFB5AB"/><path d="M1571 774.4h43.9v15.1h-43.9zM1549.1 804.5h21.9v15.1h-21.9zM1593 909.8h21.9v15.1h-21.9z" fill="#E8A798"/><path d="M1571 789.4h21.9v15.1h-21.9zM1702.8 894.8h21.9v15.1h-21.9zM1702.8 909.8h21.9v15.1h-21.9zM1702.8 924.9h21.9v15.1h-21.9z" fill="#CCC6C4"/><path d="M1571 834.6h21.9v15.1h-21.9zM1680.8 879.7h21.9v15.1h-21.9zM1549.1 894.8h21.9v15.1h-21.9z" fill="#D4BFBA"/><path d="M1549.1 864.7h21.9v15.1h-21.9zM1593 864.7h21.9v15.1h-21.9zM1549.1 879.7h21.9v15.1h-21.9z" fill="#D9BAB2"/><path d="M1680.8 864.7h43.9v15.1h-43.9zM1527.2 924.9h21.9v15.1h-21.9zM1593 924.9h21.9v15.1h-21.9zM1702.8 939.9h21.9v15.1h-21.9z" fill="#D6BCB6"/><path d="M1680.8 894.8h21.9v15.1h-21.9z" fill="#D1C2BD"/><path d="M1571 909.8h21.9v15.1h-21.9z" fill="#E6ADA0"/><path d="M1593 939.9h21.9v15.1h-21.9z" fill="#CEC4C1"/><path d="M1571 955h21.9v15.1h-21.9zM1549.1 970h21.9v15.1h-21.9z" fill="#BCB0D0"/><path d="M1593 955h21.9v15.1h-21.9zM1680.8 970h43.9v15.1h-43.9z" fill="#C4BECB"/><path d="M1571 970h43.9v15.1h-43.9z" fill="#B7A5D3"/><path d="M1549.1 985h21.9v15.1h-21.9zM1680.8 985h21.9v15.1h-21.9z" fill="#BBACD1"/><path d="M1571 985h21.9v15.1h-21.9z" fill="#A997CB"/><path d="M1593 985h21.9v15.1h-21.9z" fill="#B09ECF"/><path d="M1702.8 985h21.9v15.1h-21.9z" fill="#C5C2CA"/><path d="M1527.2 699.1v301M1549.1 699.1v301M1571 699.1v301M1593 699.1v301M1615 699.1v301M1636.9 699.1v301M1658.9 699.1v301M1680.8 699.1v301M1702.8 699.1v301M1505.2 714.1h219.5M1505.2 729.2h219.5M1505.2 744.2h219.5M1505.2 759.3h219.5M1505.2 774.4h219.5M1505.2 789.4h219.5M1505.2 804.5h219.5M1505.2 819.5h219.5M1505.2 834.6h219.5M1505.2 849.6h219.5M1505.2 864.7h219.5M1505.2 879.7h219.5M1505.2 894.8h219.5M1505.2 909.8h219.5M1505.2 924.9h219.5M1505.2 939.9h219.5M1505.2 955h219.5M1505.2 970h219.5M1505.2 985h219.5" stroke="#D4D4D4" stroke-width="0.7" stroke-opacity="0.7"/><rect x="1021.1" y="1004.2" width="25.3" height="330.7" fill="#C9878C"/><rect x="1052.1" y="1004.2" width="219.5" height="330.7" fill="#C9C9C8"/><path d="M1074 1004.2h21.9v15h-21.9zM1117.9 1064.3h21.9v15h-21.9zM1117.9 1094.4h21.9v15h-21.9zM1117.9 1154.5h21.9v15h-21.9zM1096 1169.6h21.9v15h-21.9z" fill="#E4B0A4"/><path d="M1096 1004.2h21.9v15h-21.9z" fill="#F28A72"/><path d="M1117.9 1004.2h21.9v15h-21.9z" fill="#F28069"/><path d="M1139.9 1004.2h21.9v15h-21.9z" fill="#F3937C"/><path d="M1249.6 1004.2h21.9v15h-21.9zM1249.6 1034.3h21.9v15h-21.9zM1249.6 1064.3h21.9v15h-21.9zM1249.6 1094.4h21.9v15h-21.9zM1249.6 1124.5h21.9v15h-21.9zM1096 1139.5h21.9v15h-21.9zM1249.6 1154.5h21.9v15h-21.9zM1117.9 1169.6h21.9v15h-21.9zM1117.9 1184.6h43.9v15h-43.9z" fill="#CCC6C4"/><path d="M1096 1019.2h21.9v15h-21.9zM1139.9 1019.2h21.9v15h-21.9zM1117.9 1034.3h21.9v15h-21.9zM1139.9 1064.3h21.9v15h-21.9zM1074 1139.5h21.9v15h-21.9z" fill="#DFB5AB"/><path d="M1117.9 1019.2h21.9v15h-21.9zM1139.9 1079.4h21.9v15h-21.9z" fill="#E7AA9C"/><path d="M1074 1034.3h21.9v15h-21.9zM1249.6 1049.3h21.9v15h-21.9zM1139.9 1109.4h21.9v15h-21.9zM1052.1 1139.5h21.9v15h-21.9zM1205.8 1169.6h21.9v15h-21.9z" fill="#CEC4C1"/><path d="M1096 1034.3h21.9v15h-21.9zM1139.9 1034.3h21.9v15h-21.9zM1139.9 1124.5h21.9v15h-21.9zM1139.9 1154.5h21.9v15h-21.9z" fill="#D1C2BD"/><path d="M1205.8 1034.3h21.9v15h-21.9zM1205.8 1049.3h21.9v15h-21.9z" fill="#D9BAB2"/><path d="M1096 1049.3h21.9v15h-21.9zM1249.6 1079.4h21.9v15h-21.9zM1205.8 1154.5h21.9v15h-21.9z" fill="#D4BFBA"/><path d="M1117.9 1049.3h43.9v15h-43.9zM1117.9 1124.5h21.9v15h-21.9zM1096 1154.5h21.9v15h-21.9z" fill="#E1B2A8"/><path d="M1096 1064.3h21.9v15h-21.9zM1052.1 1124.5h65.8v15h-65.8z" fill="#D6BCB6"/><path d="M1205.8 1064.3h21.9v15h-21.9zM1139.9 1094.4h21.9v15h-21.9z" fill="#DCB8AF"/><path d="M1117.9 1079.4h21.9v15h-21.9zM1117.9 1109.4h21.9v15h-21.9z" fill="#E6ADA0"/><path d="M1205.8 1094.4h21.9v15h-21.9zM1205.8 1139.5h21.9v15h-21.9zM1139.9 1229.7h21.9v15h-21.9zM1249.6 1259.7h21.9v15h-21.9zM1074 1274.8h21.9v15h-21.9zM1205.8 1289.8h21.9v15h-21.9z" fill="#C7C5C9"/><path d="M1249.6 1139.5h21.9v15h-21.9zM1117.9 1199.6h21.9v15h-21.9zM1205.8 1214.6h21.9v15h-21.9zM1205.8 1229.7h21.9v15h-21.9zM1249.6 1229.7h21.9v15h-21.9zM1139.9 1244.7h21.9v15h-21.9zM1139.9 1259.7h21.9v15h-21.9zM1139.9 1274.8h21.9v15h-21.9zM1096 1289.8h21.9v15h-21.9zM1205.8 1319.9h21.9v15h-21.9z" fill="#C5C2CA"/><path d="M1096 1184.6h21.9v15h-21.9z" fill="#F29680"/><path d="M1096 1199.6h21.9v15h-21.9z" fill="#6A5DAB"/><path d="M1117.9 1214.6h21.9v15h-21.9zM1117.9 1304.8h43.9v15h-43.9z" fill="#9B89C3"/><path d="M1139.9 1214.6h21.9v15h-21.9zM1096 1244.7h43.9v15h-43.9z" fill="#BBACD1"/><path d="M1117.9 1229.7h21.9v15h-21.9z" fill="#8573B8"/><path d="M1205.8 1244.7h21.9v15h-21.9z" fill="#C4BECB"/><path d="M1096 1259.7h21.9v15h-21.9zM1096 1274.8h21.9v15h-21.9z" fill="#C0B7CE"/><path d="M1117.9 1259.7h21.9v15h-21.9z" fill="#B7A5D3"/><path d="M1117.9 1274.8h21.9v15h-21.9zM1139.9 1289.8h21.9v15h-21.9z" fill="#B9A9D2"/><path d="M1117.9 1289.8h21.9v15h-21.9z" fill="#B09ECF"/><path d="M1117.9 1319.9h21.9v15h-21.9z" fill="#605BAA"/><path d="M1074 1004.2v330.7M1096 1004.2v330.7M1117.9 1004.2v330.7M1139.9 1004.2v330.7M1161.8 1004.2v330.7M1183.8 1004.2v330.7M1205.8 1004.2v330.7M1227.7 1004.2v330.7M1249.6 1004.2v330.7M1052.1 1019.2h219.5M1052.1 1034.3h219.5M1052.1 1049.3h219.5M1052.1 1064.3h219.5M1052.1 1079.4h219.5M1052.1 1094.4h219.5M1052.1 1109.4h219.5M1052.1 1124.5h219.5M1052.1 1139.5h219.5M1052.1 1154.5h219.5M1052.1 1169.6h219.5M1052.1 1184.6h219.5M1052.1 1199.6h219.5M1052.1 1214.6h219.5M1052.1 1229.7h219.5M1052.1 1244.7h219.5M1052.1 1259.7h219.5M1052.1 1274.8h219.5M1052.1 1289.8h219.5M1052.1 1304.8h219.5M1052.1 1319.9h219.5" stroke="#D4D4D4" stroke-width="0.7" stroke-opacity="0.7"/><rect x="1278.9" y="1004.2" width="219.5" height="330.7" fill="#C9C9C8"/><path d="M1300.9 1004.2h21.9v15h-21.9zM1366.7 1004.2h21.9v15h-21.9zM1300.9 1019.2h21.9v15h-21.9zM1300.9 1034.3h21.9v15h-21.9zM1344.8 1034.3h21.9v15h-21.9zM1432.6 1139.5h43.9v15h-43.9zM1322.8 1154.5h43.9v15h-43.9zM1366.7 1244.7h21.9v15h-21.9zM1454.5 1244.7h21.9v15h-21.9zM1432.6 1289.8h43.9v15h-43.9z" fill="#CCC6C4"/><path d="M1322.8 1004.2h43.9v15h-43.9zM1300.9 1109.4h21.9v15h-21.9z" fill="#D9BAB2"/><path d="M1322.8 1019.2h21.9v15h-21.9z" fill="#D4BFBA"/><path d="M1344.8 1019.2h21.9v15h-21.9zM1344.8 1079.4h43.9v15h-43.9z" fill="#CEC4C1"/><path d="M1322.8 1034.3h21.9v15h-21.9z" fill="#D1C2BD"/><path d="M1454.5 1049.3h21.9v15h-21.9z" fill="#C5C2CA"/><path d="M1300.9 1094.4h21.9v15h-21.9zM1344.8 1094.4h43.9v15h-43.9zM1432.6 1094.4h43.9v15h-43.9zM1454.5 1124.5h21.9v15h-21.9zM1300.9 1139.5h21.9v15h-21.9zM1300.9 1199.6h43.9v15h-43.9zM1300.9 1259.7h21.9v15h-21.9zM1300.9 1319.9h21.9v15h-21.9z" fill="#C7C5C9"/><path d="M1344.8 1109.4h21.9v15h-21.9zM1300.9 1154.5h21.9v15h-21.9z" fill="#DCB8AF"/><path d="M1344.8 1274.8h43.9v15h-43.9z" fill="#C4BECB"/><path d="M1366.7 1289.8h21.9v15h-21.9z" fill="#BBACD1"/><path d="M1300.9 1004.2v330.7M1322.8 1004.2v330.7M1344.8 1004.2v330.7M1366.7 1004.2v330.7M1388.7 1004.2v330.7M1410.6 1004.2v330.7M1432.6 1004.2v330.7M1454.5 1004.2v330.7M1476.5 1004.2v330.7M1278.9 1019.2h219.5M1278.9 1034.3h219.5M1278.9 1049.3h219.5M1278.9 1064.3h219.5M1278.9 1079.4h219.5M1278.9 1094.4h219.5M1278.9 1109.4h219.5M1278.9 1124.5h219.5M1278.9 1139.5h219.5M1278.9 1154.5h219.5M1278.9 1169.6h219.5M1278.9 1184.6h219.5M1278.9 1199.6h219.5M1278.9 1214.6h219.5M1278.9 1229.7h219.5M1278.9 1244.7h219.5M1278.9 1259.7h219.5M1278.9 1274.8h219.5M1278.9 1289.8h219.5M1278.9 1304.8h219.5M1278.9 1319.9h219.5" stroke="#D4D4D4" stroke-width="0.7" stroke-opacity="0.7"/><rect x="1505.2" y="1004.2" width="219.5" height="330.7" fill="#C9C9C8"/><path d="M1593 1004.2h21.9v15h-21.9z" fill="#E7AA9C"/><path d="M1571 1019.2h21.9v15h-21.9zM1702.8 1049.3h21.9v15h-21.9zM1571 1064.3h43.9v15h-43.9zM1593 1154.5h21.9v15h-21.9zM1571 1184.6h21.9v15h-21.9zM1680.8 1274.8h21.9v15h-21.9z" fill="#CCC6C4"/><path d="M1680.8 1019.2h43.9v15h-43.9zM1680.8 1094.4h21.9v15h-21.9zM1549.1 1109.4h21.9v15h-21.9zM1593 1139.5h21.9v15h-21.9zM1549.1 1199.6h21.9v15h-21.9zM1571 1214.6h21.9v15h-21.9zM1549.1 1259.7h21.9v15h-21.9zM1549.1 1304.8h43.9v15h-43.9z" fill="#C7C5C9"/><path d="M1549.1 1034.3h21.9v15h-21.9zM1680.8 1034.3h21.9v15h-21.9zM1571 1049.3h21.9v15h-21.9z" fill="#D6BCB6"/><path d="M1571 1034.3h21.9v15h-21.9zM1549.1 1049.3h21.9v15h-21.9zM1593 1049.3h21.9v15h-21.9zM1549.1 1079.4h65.8v15h-65.8zM1680.8 1079.4h43.9v15h-43.9zM1571 1094.4h43.9v15h-43.9zM1680.8 1109.4h21.9v15h-21.9zM1549.1 1124.5h21.9v15h-21.9zM1593 1124.5h21.9v15h-21.9zM1702.8 1124.5h21.9v15h-21.9z" fill="#CEC4C1"/><path d="M1593 1034.3h21.9v15h-21.9z" fill="#D4BFBA"/><path d="M1549.1 1094.4h21.9v15h-21.9z" fill="#DCB8AF"/><path d="M1571 1124.5h21.9v15h-21.9z" fill="#D1C2BD"/><path d="M1680.8 1154.5h21.9v15h-21.9zM1680.8 1169.6h21.9v15h-21.9zM1571 1289.8h21.9v15h-21.9z" fill="#C5C2CA"/><path d="M1593 1259.7h21.9v15h-21.9z" fill="#C4BECB"/><path d="M1571 1274.8h43.9v15h-43.9z" fill="#C0B7CE"/><path d="M1593 1289.8h21.9v15h-21.9z" fill="#BBACD1"/><path d="M1527.2 1004.2v330.7M1549.1 1004.2v330.7M1571 1004.2v330.7M1593 1004.2v330.7M1615 1004.2v330.7M1636.9 1004.2v330.7M1658.9 1004.2v330.7M1680.8 1004.2v330.7M1702.8 1004.2v330.7M1505.2 1019.2h219.5M1505.2 1034.3h219.5M1505.2 1049.3h219.5M1505.2 1064.3h219.5M1505.2 1079.4h219.5M1505.2 1094.4h219.5M1505.2 1109.4h219.5M1505.2 1124.5h219.5M1505.2 1139.5h219.5M1505.2 1154.5h219.5M1505.2 1169.6h219.5M1505.2 1184.6h219.5M1505.2 1199.6h219.5M1505.2 1214.6h219.5M1505.2 1229.7h219.5M1505.2 1244.7h219.5M1505.2 1259.7h219.5M1505.2 1274.8h219.5M1505.2 1289.8h219.5M1505.2 1304.8h219.5M1505.2 1319.9h219.5" stroke="#D4D4D4" stroke-width="0.7" stroke-opacity="0.7"/><rect x="1021.1" y="1339.3" width="25.3" height="118.5" fill="#9496C6"/><rect x="1052.1" y="1339.3" width="219.5" height="118.5" fill="#C9C9C8"/><path d="M1096 1354.1h21.9v14.8h-21.9zM1139.9 1398.5h21.9v14.8h-21.9z" fill="#CCC6C4"/><path d="M1117.9 1354.1h43.9v14.8h-43.9zM1249.6 1354.1h21.9v14.8h-21.9zM1117.9 1383.7h21.9v14.8h-21.9zM1205.8 1428.2h21.9v14.8h-21.9z" fill="#D9BAB2"/><path d="M1205.8 1354.1h21.9v14.8h-21.9zM1205.8 1368.9h21.9v14.8h-21.9z" fill="#C7C5C9"/><path d="M1096 1383.7h21.9v14.8h-21.9zM1139.9 1383.7h21.9v14.8h-21.9zM1117.9 1398.5h21.9v14.8h-21.9zM1205.8 1413.4h21.9v14.8h-21.9z" fill="#CEC4C1"/><path d="M1096 1398.5h21.9v14.8h-21.9z" fill="#DCB8AF"/><path d="M1096 1413.4h65.8v14.8h-65.8zM1096 1443h21.9v14.8h-21.9z" fill="#C5C2CA"/><path d="M1096 1428.2h21.9v14.8h-21.9z" fill="#D1C2BD"/><path d="M1117.9 1428.2h43.9v14.8h-43.9z" fill="#C4BECB"/><path d="M1074 1339.3v118.5M1096 1339.3v118.5M1117.9 1339.3v118.5M1139.9 1339.3v118.5M1161.8 1339.3v118.5M1183.8 1339.3v118.5M1205.8 1339.3v118.5M1227.7 1339.3v118.5M1249.6 1339.3v118.5M1052.1 1354.1h219.5M1052.1 1368.9h219.5M1052.1 1383.7h219.5M1052.1 1398.5h219.5M1052.1 1413.4h219.5M1052.1 1428.2h219.5M1052.1 1443h219.5" stroke="#D4D4D4" stroke-width="0.7" stroke-opacity="0.7"/><rect x="1278.9" y="1339.3" width="219.5" height="118.5" fill="#C9C9C8"/><path d="M1322.8 1339.3h21.9v14.8h-21.9z" fill="#F3937C"/><path d="M1300.9 1368.9h21.9v14.8h-21.9zM1300.9 1413.4h21.9v14.8h-21.9z" fill="#C5C2CA"/><path d="M1344.8 1383.7h21.9v14.8h-21.9z" fill="#CEC4C1"/><path d="M1322.8 1398.5h21.9v14.8h-21.9zM1344.8 1413.4h21.9v14.8h-21.9z" fill="#C7C5C9"/><path d="M1300.9 1339.3v118.5M1322.8 1339.3v118.5M1344.8 1339.3v118.5M1366.7 1339.3v118.5M1388.7 1339.3v118.5M1410.6 1339.3v118.5M1432.6 1339.3v118.5M1454.5 1339.3v118.5M1476.5 1339.3v118.5M1278.9 1354.1h219.5M1278.9 1368.9h219.5M1278.9 1383.7h219.5M1278.9 1398.5h219.5M1278.9 1413.4h219.5M1278.9 1428.2h219.5M1278.9 1443h219.5" stroke="#D4D4D4" stroke-width="0.7" stroke-opacity="0.7"/><rect x="1505.2" y="1339.3" width="219.5" height="118.5" fill="#C9C9C8"/><path d="M1549.1 1339.3h21.9v14.8h-21.9z" fill="#F3937C"/><path d="M1571 1339.3h21.9v14.8h-21.9z" fill="#ED9F8C"/><path d="M1549.1 1354.1h21.9v14.8h-21.9zM1593 1354.1h21.9v14.8h-21.9z" fill="#E4B0A4"/><path d="M1571 1354.1h21.9v14.8h-21.9zM1571 1368.9h21.9v14.8h-21.9zM1549.1 1398.5h21.9v14.8h-21.9z" fill="#E7AA9C"/><path d="M1593 1368.9h21.9v14.8h-21.9zM1680.8 1383.7h21.9v14.8h-21.9z" fill="#D4BFBA"/><path d="M1549.1 1383.7h21.9v14.8h-21.9z" fill="#E6ADA0"/><path d="M1571 1383.7h43.9v14.8h-43.9z" fill="#D1C2BD"/><path d="M1702.8 1383.7h21.9v14.8h-21.9z" fill="#DCB8AF"/><path d="M1571 1398.5h21.9v14.8h-21.9z" fill="#CEC4C1"/><path d="M1549.1 1413.4h43.9v14.8h-43.9z" fill="#BCB0D0"/><path d="M1593 1413.4h21.9v14.8h-21.9zM1680.8 1413.4h43.9v14.8h-43.9zM1680.8 1428.2h21.9v14.8h-21.9z" fill="#C7C5C9"/><path d="M1549.1 1428.2h21.9v14.8h-21.9z" fill="#C5C2CA"/><path d="M1571 1428.2h21.9v14.8h-21.9z" fill="#B7A5D3"/><path d="M1593 1428.2h21.9v14.8h-21.9zM1702.8 1428.2h21.9v14.8h-21.9z" fill="#BBACD1"/><path d="M1527.2 1443h43.9v14.8h-43.9z" fill="#9482C0"/><path d="M1527.2 1339.3v118.5M1549.1 1339.3v118.5M1571 1339.3v118.5M1593 1339.3v118.5M1615 1339.3v118.5M1636.9 1339.3v118.5M1658.9 1339.3v118.5M1680.8 1339.3v118.5M1702.8 1339.3v118.5M1505.2 1354.1h219.5M1505.2 1368.9h219.5M1505.2 1383.7h219.5M1505.2 1398.5h219.5M1505.2 1413.4h219.5M1505.2 1428.2h219.5M1505.2 1443h219.5" stroke="#D4D4D4" stroke-width="0.7" stroke-opacity="0.7"/><rect x="1021.1" y="1462" width="25.3" height="105.5" fill="#86AF92"/><rect x="1052.1" y="1462" width="219.5" height="105.5" fill="#C9C9C8"/><path d="M1096 1477.1h21.9v15.1h-21.9zM1096 1492.1h43.9v15.1h-43.9zM1205.8 1492.1h21.9v15.1h-21.9zM1205.8 1522.3h21.9v15.1h-21.9z" fill="#CCC6C4"/><path d="M1117.9 1477.1h43.9v15.1h-43.9z" fill="#CEC4C1"/><path d="M1249.6 1507.2h21.9v15.1h-21.9zM1117.9 1537.4h21.9v15.1h-21.9z" fill="#C7C5C9"/><path d="M1096 1537.4h21.9v15.1h-21.9zM1096 1552.4h21.9v15.1h-21.9z" fill="#C5C2CA"/><path d="M1117.9 1552.4h21.9v15.1h-21.9z" fill="#C4BECB"/><path d="M1074 1462v105.5M1096 1462v105.5M1117.9 1462v105.5M1139.9 1462v105.5M1161.8 1462v105.5M1183.8 1462v105.5M1205.8 1462v105.5M1227.7 1462v105.5M1249.6 1462v105.5M1052.1 1477.1h219.5M1052.1 1492.1h219.5M1052.1 1507.2h219.5M1052.1 1522.3h219.5M1052.1 1537.4h219.5M1052.1 1552.4h219.5" stroke="#D4D4D4" stroke-width="0.7" stroke-opacity="0.7"/><rect x="1278.9" y="1462" width="219.5" height="105.5" fill="#C9C9C8"/><path d="M1344.8 1462h21.9v15.1h-21.9z" fill="#E92C2A"/><path d="M1300.9 1477.1h21.9v15.1h-21.9zM1454.5 1492.1h21.9v15.1h-21.9z" fill="#CEC4C1"/><path d="M1322.8 1477.1h21.9v15.1h-21.9zM1366.7 1477.1h21.9v15.1h-21.9zM1300.9 1492.1h43.9v15.1h-43.9z" fill="#EAA494"/><path d="M1344.8 1477.1h21.9v15.1h-21.9z" fill="#F3937C"/><path d="M1344.8 1492.1h21.9v15.1h-21.9zM1322.8 1522.3h21.9v15.1h-21.9z" fill="#E4B0A4"/><path d="M1366.7 1492.1h21.9v15.1h-21.9zM1300.9 1507.2h21.9v15.1h-21.9zM1300.9 1522.3h21.9v15.1h-21.9zM1344.8 1522.3h21.9v15.1h-21.9z" fill="#CCC6C4"/><path d="M1410.6 1492.1h21.9v15.1h-21.9zM1322.8 1507.2h21.9v15.1h-21.9z" fill="#E7AA9C"/><path d="M1344.8 1507.2h43.9v15.1h-43.9z" fill="#DCB8AF"/><path d="M1300.9 1537.4h21.9v15.1h-21.9z" fill="#C4BECB"/><path d="M1344.8 1537.4h21.9v15.1h-21.9zM1322.8 1552.4h21.9v15.1h-21.9z" fill="#B7A5D3"/><path d="M1300.9 1552.4h21.9v15.1h-21.9zM1344.8 1552.4h21.9v15.1h-21.9z" fill="#BCB0D0"/><path d="M1366.7 1552.4h21.9v15.1h-21.9z" fill="#BEB3CF"/><path d="M1300.9 1462v105.5M1322.8 1462v105.5M1344.8 1462v105.5M1366.7 1462v105.5M1388.7 1462v105.5M1410.6 1462v105.5M1432.6 1462v105.5M1454.5 1462v105.5M1476.5 1462v105.5M1278.9 1477.1h219.5M1278.9 1492.1h219.5M1278.9 1507.2h219.5M1278.9 1522.3h219.5M1278.9 1537.4h219.5M1278.9 1552.4h219.5" stroke="#D4D4D4" stroke-width="0.7" stroke-opacity="0.7"/><rect x="1505.2" y="1462" width="219.5" height="105.5" fill="#C9C9C8"/><path d="M1571 1492.1h21.9v15.1h-21.9z" fill="#E4B0A4"/><path d="M1593 1492.1h21.9v15.1h-21.9z" fill="#CCC6C4"/><path d="M1571 1537.4h21.9v15.1h-21.9z" fill="#C4BECB"/><path d="M1527.2 1462v105.5M1549.1 1462v105.5M1571 1462v105.5M1593 1462v105.5M1615 1462v105.5M1636.9 1462v105.5M1658.9 1462v105.5M1680.8 1462v105.5M1702.8 1462v105.5M1505.2 1477.1h219.5M1505.2 1492.1h219.5M1505.2 1507.2h219.5M1505.2 1522.3h219.5M1505.2 1537.4h219.5M1505.2 1552.4h219.5" stroke="#D4D4D4" stroke-width="0.7" stroke-opacity="0.7"/><text x="1728" y="733.5" font-size="25.5" letter-spacing="0.9">Fos</text><text x="1728" y="762.5" font-size="25.5" letter-spacing="0.9">Npas4</text><text x="1728" y="791.5" font-size="25.5" letter-spacing="0.9">Egr1</text><text x="1728" y="821.5" font-size="25.5" letter-spacing="0.9">Nr4a1</text><text x="1728" y="851" font-size="25.5" letter-spacing="0.9">Nfil3</text><text x="1728" y="880.8" font-size="25.5" letter-spacing="0.9">Egr3</text><text x="1728" y="911" font-size="25.5" letter-spacing="0.9">Xbp1</text><text x="1728" y="941" font-size="25.5" letter-spacing="0.9">Zfp948</text><text x="1728" y="970.3" font-size="25.5" letter-spacing="0.9">Zfp810</text><text x="1728" y="999.7" font-size="25.5" letter-spacing="0.9">Dbp</text><text x="1728" y="1034" font-size="25.5" letter-spacing="0.9">Zfp516</text><text x="1728" y="1062.9" font-size="25.5" letter-spacing="0.9">Paqr8</text><text x="1728" y="1092.3" font-size="25.5" letter-spacing="0.9">Zhx2</text><text x="1728" y="1122.5" font-size="25.5" letter-spacing="0.9">Jun</text><text x="1728" y="1153.5" font-size="25.5" letter-spacing="0.9">Zfp410</text><text x="1728" y="1183.5" font-size="25.5" letter-spacing="0.9">Sox8</text><text x="1728" y="1214" font-size="25.5" letter-spacing="0.9">Sox18</text><text x="1728" y="1244.5" font-size="25.5" letter-spacing="0.9">Lef1</text><text x="1728" y="1273.4" font-size="25.5" letter-spacing="0.9">Cc2d1b</text><text x="1728" y="1303.3" font-size="25.5" letter-spacing="0.9">Zkscan2</text><text x="1728" y="1334.4" font-size="25.5" letter-spacing="0.9">Foxq1</text><text x="1728" y="1367.6" font-size="25.5" letter-spacing="0.9">Bcl6</text><text x="1728" y="1397" font-size="25.5" letter-spacing="0.9">Zfp607b</text><text x="1728" y="1428.6" font-size="25.5" letter-spacing="0.9">Zfp628</text><text x="1728" y="1458.5" font-size="25.5" letter-spacing="0.9">Hes5</text><text x="1728" y="1491.2" font-size="25.5" letter-spacing="0.9">Atoh8</text><text x="1728" y="1520.6" font-size="25.5" letter-spacing="0.9">Sall3</text><text x="1728" y="1551.7" font-size="25.5" letter-spacing="0.9">Zbp599</text><text transform="translate(1068.4 1570.5) rotate(-90)" text-anchor="end" font-size="23.3">15m</text><text transform="translate(1089.5 1570.5) rotate(-90)" text-anchor="end" font-size="23.3">30m</text><text transform="translate(1112.1 1570.5) rotate(-90)" text-anchor="end" font-size="23.3">1h</text><text transform="translate(1136.2 1570.5) rotate(-90)" text-anchor="end" font-size="23.3">1.5h</text><text transform="translate(1157.7 1570.5) rotate(-90)" text-anchor="end" font-size="23.3">2h</text><text transform="translate(1181 1570.5) rotate(-90)" text-anchor="end" font-size="23.3">4h</text><text transform="translate(1202.5 1570.5) rotate(-90)" text-anchor="end" font-size="23.3">6h</text><text transform="translate(1226.6 1570.5) rotate(-90)" text-anchor="end" font-size="23.3">8h</text><text transform="translate(1247.6 1570.5) rotate(-90)" text-anchor="end" font-size="23.3">18h</text><text transform="translate(1269.7 1570.5) rotate(-90)" text-anchor="end" font-size="23.3">24h</text><text transform="translate(1295.2 1570.5) rotate(-90)" text-anchor="end" font-size="23.3">15m</text><text transform="translate(1316.3 1570.5) rotate(-90)" text-anchor="end" font-size="23.3">30m</text><text transform="translate(1338.9 1570.5) rotate(-90)" text-anchor="end" font-size="23.3">1h</text><text transform="translate(1363 1570.5) rotate(-90)" text-anchor="end" font-size="23.3">1.5h</text><text transform="translate(1384.5 1570.5) rotate(-90)" text-anchor="end" font-size="23.3">2h</text><text transform="translate(1407.8 1570.5) rotate(-90)" text-anchor="end" font-size="23.3">4h</text><text transform="translate(1429.3 1570.5) rotate(-90)" text-anchor="end" font-size="23.3">6h</text><text transform="translate(1453.4 1570.5) rotate(-90)" text-anchor="end" font-size="23.3">8h</text><text transform="translate(1474.4 1570.5) rotate(-90)" text-anchor="end" font-size="23.3">18h</text><text transform="translate(1496.5 1570.5) rotate(-90)" text-anchor="end" font-size="23.3">24h</text><text transform="translate(1521.5 1570.5) rotate(-90)" text-anchor="end" font-size="23.3">15m</text><text transform="translate(1542.6 1570.5) rotate(-90)" text-anchor="end" font-size="23.3">30m</text><text transform="translate(1565.2 1570.5) rotate(-90)" text-anchor="end" font-size="23.3">1h</text><text transform="translate(1589.3 1570.5) rotate(-90)" text-anchor="end" font-size="23.3">1.5h</text><text transform="translate(1610.8 1570.5) rotate(-90)" text-anchor="end" font-size="23.3">2h</text><text transform="translate(1634.1 1570.5) rotate(-90)" text-anchor="end" font-size="23.3">4h</text><text transform="translate(1655.6 1570.5) rotate(-90)" text-anchor="end" font-size="23.3">6h</text><text transform="translate(1679.7 1570.5) rotate(-90)" text-anchor="end" font-size="23.3">8h</text><text transform="translate(1700.7 1570.5) rotate(-90)" text-anchor="end" font-size="23.3">18h</text><text transform="translate(1722.8 1570.5) rotate(-90)" text-anchor="end" font-size="23.3">24h</text><text x="1369" y="1654" text-anchor="middle" font-size="38">time</text><text x="123" y="1797.3" font-size="31.5">CA1</text><text x="393" y="1797.3" font-size="31.5">CA3</text><text x="663.5" y="1797.3" font-size="31.5">DG</text><text x="87.7" y="1822.4" text-anchor="end" font-size="28.5">HC</text><text x="87.7" y="1849.1" text-anchor="end" font-size="28.5">15 min</text><text x="87.7" y="1877" text-anchor="end" font-size="28.5">30 min</text><text x="87.7" y="1903.8" text-anchor="end" font-size="28.5">1 h</text><text x="87.7" y="1931" text-anchor="end" font-size="28.5">1.5 h</text><text x="87.7" y="1958.4" text-anchor="end" font-size="28.5">2 h</text><text x="87.7" y="1984.6" text-anchor="end" font-size="28.5">4 h</text><text x="87.7" y="2011.9" text-anchor="end" font-size="28.5">6 h</text><text x="87.7" y="2039.2" text-anchor="end" font-size="28.5">8 h</text><text x="87.7" y="2070.9" text-anchor="end" font-size="28.5">18 h</text><text x="87.7" y="2098.2" text-anchor="end" font-size="28.5">24 h</text><path d="M103 1827.3L362 1827.3" stroke="#9B1B1F" stroke-width="1.3"/><path d="M103 1854.3L362 1854.3" stroke="#9B1B1F" stroke-width="1.3"/><path d="M103 1881.3L362 1881.3" stroke="#9B1B1F" stroke-width="1.3"/><path d="M103 1908.6L362 1908.6" stroke="#9B1B1F" stroke-width="1.3"/><path d="M103 1935.7L362 1935.7" stroke="#9B1B1F" stroke-width="1.3"/><path d="M103 1962.8L362 1962.8" stroke="#9B1B1F" stroke-width="1.3"/><path d="M103 1990.3L362 1990.3" stroke="#9B1B1F" stroke-width="1.3"/><path d="M103 2017.4L362 2017.4" stroke="#9B1B1F" stroke-width="1.3"/><path d="M103 2044.4L362 2044.4" stroke="#9B1B1F" stroke-width="1.3"/><path d="M103 2075.5L362 2075.5" stroke="#9B1B1F" stroke-width="1.3"/><path d="M103 2102.8L362 2102.8" stroke="#9B1B1F" stroke-width="1.3"/><path d="M129.4 1827.3L129.4 1826.9L131 1826.9L132.6 1826.8L134.2 1826.8L135.8 1826.8L137.4 1826.8L139.1 1826.8L140.7 1826.8L142.3 1826.7L143.9 1826.7L145.5 1826.7L147.1 1826.7L148.7 1826.7L148.7 1827.3ZM195.6 1827.3L195.6 1826.8L197 1826.8L198.5 1826.7L199.9 1826.6L201.3 1826.6L202.8 1826.5L204.2 1826.5L205.6 1826.4L207.1 1826.4L208.5 1826.3L209.9 1826.3L211.4 1826.3L212.8 1826.3L212.8 1827.3ZM237.3 1827.3L237.3 1826.3L238.6 1826.3L239.9 1826.4L241.2 1826.5L242.4 1826.5L243.7 1826.5L245 1826.6L245 1827.3ZM251.1 1827.3L251.1 1826.8L252.6 1826.9L254.1 1826.8L255.6 1826.9L257 1826.9L258.5 1827L260 1827L261.5 1827.1L263 1827.1L264.5 1827.1L266 1827.1L267.5 1827.1L268.9 1827.2L270.4 1827.1L271.9 1827.1L273.4 1827.2L274.9 1827.1L276.4 1827.1L277.9 1827.1L279.3 1827.1L280.8 1827.1L282.3 1827.2L283.8 1827.2L285.3 1827.2L286.8 1827.2L288.3 1827.2L289.7 1827.2L291.2 1827.2L292.7 1827.2L294.2 1827.2L295.7 1827.2L297.2 1827.2L298.7 1827.2L300.2 1827.2L301.6 1827.2L303.1 1827.2L304.6 1827.2L306.1 1827.2L307.6 1827.1L309.1 1827.1L310.6 1827.1L312 1827.1L313.5 1827.2L315 1827.2L316.5 1827.2L318 1827.2L319.5 1827.2L321 1827.2L322.4 1827.1L323.9 1827.1L325.4 1827.1L326.9 1827.2L328.4 1827.2L329.9 1827.2L331.4 1827.1L332.9 1827.2L334.3 1827.2L335.8 1827.2L337.3 1827.2L338.8 1827.2L338.8 1827.3ZM129.4 1854.3L129.4 1851L131 1850.4L132.6 1850.1L134.2 1849.9L135.8 1849.7L137.4 1849.6L139.1 1849.4L140.7 1849.3L142.3 1849.2L143.9 1849.1L145.5 1849L147.1 1848.9L148.7 1848.8L148.7 1854.3ZM195.6 1854.3L195.6 1848.5L197 1847.5L198.5 1846.6L199.9 1845.7L201.3 1844.9L202.8 1844.1L204.2 1843.4L205.6 1842.8L207.1 1842.3L208.5 1841.8L209.9 1841.5L211.4 1841.4L212.8 1841.3L212.8 1854.3ZM237.3 1854.3L237.3 1842.3L238.6 1842.9L239.9 1843.5L241.2 1844.1L242.4 1844.7L243.7 1845.3L245 1845.9L245 1854.3ZM251.1 1854.3L251.1 1849.3L252.6 1849.8L254.1 1849.7L255.6 1850.3L257 1850.7L258.5 1851L260 1851.6L261.5 1851.8L263 1851.9L264.5 1851.9L266 1852.3L267.5 1852.6L268.9 1852.9L270.4 1852.5L271.9 1852.5L273.4 1852.8L274.9 1852.6L276.4 1852.4L277.9 1852.3L279.3 1852.3L280.8 1852.5L282.3 1852.8L283.8 1852.8L285.3 1853.1L286.8 1853.2L288.3 1853.4L289.7 1853.5L291.2 1853.5L292.7 1853.5L294.2 1853.3L295.7 1853.3L297.2 1853.3L298.7 1853.3L300.2 1853.2L301.6 1853.2L303.1 1853.3L304.6 1853.1L306.1 1852.8L307.6 1852.7L309.1 1852.6L310.6 1852.7L312 1852.8L313.5 1852.9L315 1853.1L316.5 1853L318 1853L319.5 1852.9L321 1852.9L322.4 1852.7L323.9 1852.5L325.4 1852.8L326.9 1853.1L328.4 1853L329.9 1853L331.4 1852.8L332.9 1852.8L334.3 1853L335.8 1852.9L337.3 1853.6L338.8 1853.6L338.8 1854.3ZM129.4 1881.3L129.4 1876.2L131 1875.2L132.6 1874.8L134.2 1874.5L135.8 1874.2L137.4 1874L139.1 1873.8L140.7 1873.6L142.3 1873.4L143.9 1873.3L145.5 1873.1L147.1 1872.9L148.7 1872.8L148.7 1881.3ZM195.6 1881.3L195.6 1873.2L197 1871.9L198.5 1870.6L199.9 1869.4L201.3 1868.2L202.8 1867.2L204.2 1866.2L205.6 1865.3L207.1 1864.6L208.5 1864.1L209.9 1863.6L211.4 1863.4L212.8 1863.3L212.8 1881.3ZM237.3 1881.3L237.3 1864.3L238.6 1865.1L239.9 1866L241.2 1866.8L242.4 1867.7L243.7 1868.5L245 1869.4L245 1881.3ZM251.1 1881.3L251.1 1871.3L252.6 1872.3L254.1 1872.1L255.6 1873.3L257 1874.1L258.5 1874.6L260 1875.8L261.5 1876.3L263 1876.5L264.5 1876.4L266 1877.3L267.5 1877.8L268.9 1878.5L270.4 1877.7L271.9 1877.7L273.4 1878.3L274.9 1877.9L276.4 1877.5L277.9 1877.4L279.3 1877.3L280.8 1877.8L282.3 1878.4L283.8 1878.4L285.3 1878.9L286.8 1879.2L288.3 1879.5L289.7 1879.6L291.2 1879.7L292.7 1879.7L294.2 1879.3L295.7 1879.3L297.2 1879.2L298.7 1879.2L300.2 1879.1L301.6 1879.1L303.1 1879.3L304.6 1878.8L306.1 1878.4L307.6 1878.1L309.1 1877.9L310.6 1878L312 1878.3L313.5 1878.5L315 1878.9L316.5 1878.7L318 1878.7L319.5 1878.4L321 1878.5L322.4 1878.1L323.9 1877.8L325.4 1878.2L326.9 1878.9L328.4 1878.6L329.9 1878.6L331.4 1878.2L332.9 1878.3L334.3 1878.7L335.8 1878.6L337.3 1879.8L338.8 1879.9L338.8 1881.3ZM129.4 1908.6L129.4 1903.2L131 1902.2L132.6 1901.7L134.2 1901.4L135.8 1901.1L137.4 1900.9L139.1 1900.7L140.7 1900.5L142.3 1900.3L143.9 1900.1L145.5 1899.9L147.1 1899.8L148.7 1899.6L148.7 1908.6ZM195.6 1908.6L195.6 1898.7L197 1897.1L198.5 1895.6L199.9 1894.1L201.3 1892.6L202.8 1891.3L204.2 1890.1L205.6 1889.1L207.1 1888.2L208.5 1887.5L209.9 1887L211.4 1886.7L212.8 1886.6L212.8 1908.6ZM237.3 1908.6L237.3 1888.6L238.6 1889.6L239.9 1890.6L241.2 1891.6L242.4 1892.6L243.7 1893.6L245 1894.6L245 1908.6ZM251.1 1908.6L251.1 1898.6L252.6 1899.6L254.1 1899.4L255.6 1900.6L257 1901.4L258.5 1901.9L260 1903.1L261.5 1903.6L263 1903.8L264.5 1903.7L266 1904.6L267.5 1905.1L268.9 1905.8L270.4 1905L271.9 1905L273.4 1905.6L274.9 1905.2L276.4 1904.8L277.9 1904.7L279.3 1904.6L280.8 1905.1L282.3 1905.7L283.8 1905.7L285.3 1906.2L286.8 1906.5L288.3 1906.8L289.7 1906.9L291.2 1907L292.7 1907L294.2 1906.6L295.7 1906.6L297.2 1906.5L298.7 1906.5L300.2 1906.4L301.6 1906.4L303.1 1906.6L304.6 1906.1L306.1 1905.7L307.6 1905.4L309.1 1905.2L310.6 1905.3L312 1905.6L313.5 1905.8L315 1906.2L316.5 1906L318 1906L319.5 1905.7L321 1905.8L322.4 1905.4L323.9 1905.1L325.4 1905.5L326.9 1906.2L328.4 1905.9L329.9 1905.9L331.4 1905.5L332.9 1905.6L334.3 1906L335.8 1905.9L337.3 1907.1L338.8 1907.2L338.8 1908.6ZM129.4 1935.7L129.4 1932.1L131 1931.4L132.6 1931.1L134.2 1930.9L135.8 1930.7L137.4 1930.6L139.1 1930.4L140.7 1930.3L142.3 1930.1L143.9 1930L145.5 1929.9L147.1 1929.8L148.7 1929.7L148.7 1935.7ZM195.6 1935.7L195.6 1929.4L197 1928.4L198.5 1927.4L199.9 1926.5L201.3 1925.5L202.8 1924.7L204.2 1924L205.6 1923.3L207.1 1922.7L208.5 1922.3L209.9 1922L211.4 1921.8L212.8 1921.7L212.8 1935.7ZM237.3 1935.7L237.3 1922.7L238.6 1923.4L239.9 1924L241.2 1924.7L242.4 1925.3L243.7 1926L245 1926.6L245 1935.7ZM251.1 1935.7L251.1 1930.7L252.6 1931.2L254.1 1931.1L255.6 1931.7L257 1932.1L258.5 1932.4L260 1933L261.5 1933.2L263 1933.3L264.5 1933.3L266 1933.7L267.5 1934L268.9 1934.3L270.4 1933.9L271.9 1933.9L273.4 1934.2L274.9 1934L276.4 1933.8L277.9 1933.7L279.3 1933.7L280.8 1933.9L282.3 1934.2L283.8 1934.2L285.3 1934.5L286.8 1934.6L288.3 1934.8L289.7 1934.9L291.2 1934.9L292.7 1934.9L294.2 1934.7L295.7 1934.7L297.2 1934.7L298.7 1934.7L300.2 1934.6L301.6 1934.6L303.1 1934.7L304.6 1934.5L306.1 1934.2L307.6 1934.1L309.1 1934L310.6 1934.1L312 1934.2L313.5 1934.3L315 1934.5L316.5 1934.4L318 1934.4L319.5 1934.3L321 1934.3L322.4 1934.1L323.9 1933.9L325.4 1934.2L326.9 1934.5L328.4 1934.4L329.9 1934.4L331.4 1934.2L332.9 1934.2L334.3 1934.4L335.8 1934.3L337.3 1935L338.8 1935L338.8 1935.7ZM129.4 1962.8L129.4 1961L131 1960.7L132.6 1960.5L134.2 1960.4L135.8 1960.3L137.4 1960.2L139.1 1960.2L140.7 1960.1L142.3 1960L143.9 1960L145.5 1959.9L147.1 1959.9L148.7 1959.8L148.7 1962.8ZM195.6 1962.8L195.6 1958.8L197 1958.1L198.5 1957.5L199.9 1956.9L201.3 1956.3L202.8 1955.7L204.2 1955.2L205.6 1954.8L207.1 1954.5L208.5 1954.2L209.9 1954L211.4 1953.8L212.8 1953.8L212.8 1962.8ZM237.3 1962.8L237.3 1955.8L238.6 1956.1L239.9 1956.5L241.2 1956.8L242.4 1957.2L243.7 1957.5L245 1957.9L245 1962.8ZM251.1 1962.8L251.1 1959.5L252.6 1959.8L254.1 1959.7L255.6 1960.1L257 1960.4L258.5 1960.6L260 1961L261.5 1961.1L263 1961.2L264.5 1961.2L266 1961.5L267.5 1961.6L268.9 1961.9L270.4 1961.6L271.9 1961.6L273.4 1961.8L274.9 1961.7L276.4 1961.5L277.9 1961.5L279.3 1961.5L280.8 1961.6L282.3 1961.8L283.8 1961.8L285.3 1962L286.8 1962.1L288.3 1962.2L289.7 1962.2L291.2 1962.3L292.7 1962.3L294.2 1962.1L295.7 1962.1L297.2 1962.1L298.7 1962.1L300.2 1962.1L301.6 1962.1L303.1 1962.1L304.6 1962L306.1 1961.8L307.6 1961.7L309.1 1961.7L310.6 1961.7L312 1961.8L313.5 1961.9L315 1962L316.5 1961.9L318 1961.9L319.5 1961.8L321 1961.9L322.4 1961.7L323.9 1961.6L325.4 1961.8L326.9 1962L328.4 1961.9L329.9 1961.9L331.4 1961.8L332.9 1961.8L334.3 1961.9L335.8 1961.9L337.3 1962.3L338.8 1962.3L338.8 1962.8ZM129.4 1990.3L129.4 1989.8L131 1989.7L132.6 1989.7L134.2 1989.7L135.8 1989.6L137.4 1989.6L139.1 1989.6L140.7 1989.6L142.3 1989.6L143.9 1989.5L145.5 1989.5L147.1 1989.5L148.7 1989.5L148.7 1990.3ZM195.6 1990.3L195.6 1989.6L197 1989.5L198.5 1989.4L199.9 1989.3L201.3 1989.2L202.8 1989.1L204.2 1989L205.6 1989L207.1 1988.9L208.5 1988.9L209.9 1988.8L211.4 1988.8L212.8 1988.8L212.8 1990.3ZM237.3 1990.3L237.3 1988.8L238.6 1988.9L239.9 1989L241.2 1989L242.4 1989.1L243.7 1989.2L245 1989.2L245 1990.3ZM251.1 1990.3L251.1 1989.5L252.6 1989.6L254.1 1989.5L255.6 1989.6L257 1989.7L258.5 1989.7L260 1989.8L261.5 1989.9L263 1989.9L264.5 1989.9L266 1990L267.5 1990L268.9 1990.1L270.4 1990L271.9 1990L273.4 1990.1L274.9 1990L276.4 1990L277.9 1990L279.3 1990L280.8 1990L282.3 1990.1L283.8 1990.1L285.3 1990.1L286.8 1990.1L288.3 1990.1L289.7 1990.2L291.2 1990.2L292.7 1990.2L294.2 1990.1L295.7 1990.1L297.2 1990.1L298.7 1990.1L300.2 1990.1L301.6 1990.1L303.1 1990.1L304.6 1990.1L306.1 1990.1L307.6 1990L309.1 1990L310.6 1990L312 1990L313.5 1990.1L315 1990.1L316.5 1990.1L318 1990.1L319.5 1990.1L321 1990.1L322.4 1990L323.9 1990L325.4 1990L326.9 1990.1L328.4 1990.1L329.9 1990.1L331.4 1990L332.9 1990.1L334.3 1990.1L335.8 1990.1L337.3 1990.2L338.8 1990.2L338.8 1990.3ZM129.4 2017.4L129.4 2017L131 2017L132.6 2016.9L134.2 2016.9L135.8 2016.9L137.4 2016.9L139.1 2016.9L140.7 2016.9L142.3 2016.8L143.9 2016.8L145.5 2016.8L147.1 2016.8L148.7 2016.8L148.7 2017.4ZM195.6 2017.4L195.6 2016.7L197 2016.6L198.5 2016.5L199.9 2016.4L201.3 2016.3L202.8 2016.2L204.2 2016.1L205.6 2016.1L207.1 2016L208.5 2016L209.9 2015.9L211.4 2015.9L212.8 2015.9L212.8 2017.4ZM237.3 2017.4L237.3 2015.9L238.6 2016L239.9 2016.1L241.2 2016.1L242.4 2016.2L243.7 2016.3L245 2016.4L245 2017.4ZM251.1 2017.4L251.1 2016.6L252.6 2016.7L254.1 2016.6L255.6 2016.7L257 2016.8L258.5 2016.8L260 2016.9L261.5 2017L263 2017L264.5 2017L266 2017.1L267.5 2017.1L268.9 2017.2L270.4 2017.1L271.9 2017.1L273.4 2017.2L274.9 2017.1L276.4 2017.1L277.9 2017.1L279.3 2017.1L280.8 2017.1L282.3 2017.2L283.8 2017.2L285.3 2017.2L286.8 2017.2L288.3 2017.2L289.7 2017.3L291.2 2017.3L292.7 2017.3L294.2 2017.2L295.7 2017.2L297.2 2017.2L298.7 2017.2L300.2 2017.2L301.6 2017.2L303.1 2017.2L304.6 2017.2L306.1 2017.2L307.6 2017.1L309.1 2017.1L310.6 2017.1L312 2017.1L313.5 2017.2L315 2017.2L316.5 2017.2L318 2017.2L319.5 2017.2L321 2017.2L322.4 2017.1L323.9 2017.1L325.4 2017.1L326.9 2017.2L328.4 2017.2L329.9 2017.2L331.4 2017.1L332.9 2017.2L334.3 2017.2L335.8 2017.2L337.3 2017.3L338.8 2017.3L338.8 2017.4ZM129.4 2044.4L129.4 2044.2L131 2044.2L132.6 2044.2L134.2 2044.2L135.8 2044.2L137.4 2044.1L139.1 2044.1L140.7 2044.1L142.3 2044.1L143.9 2044.1L145.5 2044.1L147.1 2044.1L148.7 2044.1L148.7 2044.4ZM195.6 2044.4L195.6 2043.9L197 2043.8L198.5 2043.7L199.9 2043.6L201.3 2043.5L202.8 2043.5L204.2 2043.4L205.6 2043.3L207.1 2043.3L208.5 2043.3L209.9 2043.2L211.4 2043.2L212.8 2043.2L212.8 2044.4ZM237.3 2044.4L237.3 2043.2L238.6 2043.3L239.9 2043.3L241.2 2043.4L242.4 2043.4L243.7 2043.5L245 2043.6L245 2044.4ZM251.1 2044.4L251.1 2044L252.6 2044L254.1 2044L255.6 2044.1L257 2044.1L258.5 2044.1L260 2044.2L261.5 2044.2L263 2044.2L264.5 2044.2L266 2044.2L267.5 2044.3L268.9 2044.3L270.4 2044.3L271.9 2044.2L273.4 2044.3L274.9 2044.3L276.4 2044.2L277.9 2044.2L279.3 2044.2L280.8 2044.3L282.3 2044.3L283.8 2044.3L285.3 2044.3L286.8 2044.3L288.3 2044.3L289.7 2044.3L291.2 2044.3L292.7 2044.3L294.2 2044.3L295.7 2044.3L297.2 2044.3L298.7 2044.3L300.2 2044.3L301.6 2044.3L303.1 2044.3L304.6 2044.3L306.1 2044.3L307.6 2044.3L309.1 2044.3L310.6 2044.3L312 2044.3L313.5 2044.3L315 2044.3L316.5 2044.3L318 2044.3L319.5 2044.3L321 2044.3L322.4 2044.3L323.9 2044.3L325.4 2044.3L326.9 2044.3L328.4 2044.3L329.9 2044.3L331.4 2044.3L332.9 2044.3L334.3 2044.3L335.8 2044.3L337.3 2044.3L338.8 2044.3L338.8 2044.4ZM129.4 2075.5L129.4 2075.1L131 2075.1L132.6 2075L134.2 2075L135.8 2075L137.4 2075L139.1 2075L140.7 2075L142.3 2074.9L143.9 2074.9L145.5 2074.9L147.1 2074.9L148.7 2074.9L148.7 2075.5ZM195.6 2075.5L195.6 2074.5L197 2074.4L198.5 2074.2L199.9 2074L201.3 2073.9L202.8 2073.8L204.2 2073.7L205.6 2073.6L207.1 2073.5L208.5 2073.4L209.9 2073.3L211.4 2073.3L212.8 2073.3L212.8 2075.5ZM237.3 2075.5L237.3 2073.5L238.6 2073.6L239.9 2073.7L241.2 2073.8L242.4 2073.9L243.7 2074L245 2074.1L245 2075.5ZM251.1 2075.5L251.1 2074.7L252.6 2074.8L254.1 2074.7L255.6 2074.8L257 2074.9L258.5 2074.9L260 2075L261.5 2075.1L263 2075.1L264.5 2075.1L266 2075.2L267.5 2075.2L268.9 2075.3L270.4 2075.2L271.9 2075.2L273.4 2075.3L274.9 2075.2L276.4 2075.2L277.9 2075.2L279.3 2075.2L280.8 2075.2L282.3 2075.3L283.8 2075.3L285.3 2075.3L286.8 2075.3L288.3 2075.3L289.7 2075.4L291.2 2075.4L292.7 2075.4L294.2 2075.3L295.7 2075.3L297.2 2075.3L298.7 2075.3L300.2 2075.3L301.6 2075.3L303.1 2075.3L304.6 2075.3L306.1 2075.3L307.6 2075.2L309.1 2075.2L310.6 2075.2L312 2075.2L313.5 2075.3L315 2075.3L316.5 2075.3L318 2075.3L319.5 2075.3L321 2075.3L322.4 2075.2L323.9 2075.2L325.4 2075.2L326.9 2075.3L328.4 2075.3L329.9 2075.3L331.4 2075.2L332.9 2075.3L334.3 2075.3L335.8 2075.3L337.3 2075.4L338.8 2075.4L338.8 2075.5ZM129.4 2102.8L129.4 2102.4L131 2102.4L132.6 2102.3L134.2 2102.3L135.8 2102.3L137.4 2102.3L139.1 2102.3L140.7 2102.3L142.3 2102.2L143.9 2102.2L145.5 2102.2L147.1 2102.2L148.7 2102.2L148.7 2102.8ZM195.6 2102.8L195.6 2102.1L197 2102L198.5 2101.9L199.9 2101.8L201.3 2101.7L202.8 2101.6L204.2 2101.5L205.6 2101.5L207.1 2101.4L208.5 2101.4L209.9 2101.3L211.4 2101.3L212.8 2101.3L212.8 2102.8ZM237.3 2102.8L237.3 2101.4L238.6 2101.5L239.9 2101.5L241.2 2101.6L242.4 2101.7L243.7 2101.8L245 2101.8L245 2102.8ZM251.1 2102.8L251.1 2102L252.6 2102.1L254.1 2102L255.6 2102.1L257 2102.2L258.5 2102.2L260 2102.3L261.5 2102.4L263 2102.4L264.5 2102.4L266 2102.5L267.5 2102.5L268.9 2102.6L270.4 2102.5L271.9 2102.5L273.4 2102.6L274.9 2102.5L276.4 2102.5L277.9 2102.5L279.3 2102.5L280.8 2102.5L282.3 2102.6L283.8 2102.6L285.3 2102.6L286.8 2102.6L288.3 2102.6L289.7 2102.7L291.2 2102.7L292.7 2102.7L294.2 2102.6L295.7 2102.6L297.2 2102.6L298.7 2102.6L300.2 2102.6L301.6 2102.6L303.1 2102.6L304.6 2102.6L306.1 2102.6L307.6 2102.5L309.1 2102.5L310.6 2102.5L312 2102.5L313.5 2102.6L315 2102.6L316.5 2102.6L318 2102.6L319.5 2102.6L321 2102.6L322.4 2102.5L323.9 2102.5L325.4 2102.5L326.9 2102.6L328.4 2102.6L329.9 2102.6L331.4 2102.5L332.9 2102.6L334.3 2102.6L335.8 2102.6L337.3 2102.7L338.8 2102.7L338.8 2102.8Z" fill="#9B1B1F"/><path d="M148 2116.6L293 2116.6" stroke="#2E3A9A" stroke-width="1.2"/><rect x="130" y="2114" width="10" height="5.2" fill="#2E3A9A"/><rect x="139.5" y="2112" width="8.6" height="9.2" fill="#2E3A9A"/><rect x="195.6" y="2112" width="16.4" height="9.2" fill="#2E3A9A"/><rect x="237.6" y="2112" width="7.2" height="9.2" fill="#2E3A9A"/><rect x="252.5" y="2112" width="40.3" height="9.2" fill="#2E3A9A"/><rect x="292.8" y="2114" width="50.9" height="5.2" fill="#2E3A9A"/><path d="M156.8 2114.1l2.5 2.5l-2.5 2.5" stroke="#2E3A9A" stroke-width="1" fill="none"/><path d="M177.5 2114.1l2.5 2.5l-2.5 2.5" stroke="#2E3A9A" stroke-width="1" fill="none"/><path d="M219.6 2114.1l2.5 2.5l-2.5 2.5" stroke="#2E3A9A" stroke-width="1" fill="none"/><path d="M271 2114.1l2.5 2.5l-2.5 2.5" stroke="#FFFFFF" stroke-width="1" fill="none"/><text x="244" y="2152" text-anchor="middle" font-style="italic" font-size="31">Fos</text><path d="M377.4 1827.3L636.4 1827.3" stroke="#1E6B34" stroke-width="1.3"/><path d="M377.4 1854.3L636.4 1854.3" stroke="#1E6B34" stroke-width="1.3"/><path d="M377.4 1881.3L636.4 1881.3" stroke="#1E6B34" stroke-width="1.3"/><path d="M377.4 1908.6L636.4 1908.6" stroke="#1E6B34" stroke-width="1.3"/><path d="M377.4 1935.7L636.4 1935.7" stroke="#1E6B34" stroke-width="1.3"/><path d="M377.4 1962.8L636.4 1962.8" stroke="#1E6B34" stroke-width="1.3"/><path d="M377.4 1990.3L636.4 1990.3" stroke="#1E6B34" stroke-width="1.3"/><path d="M377.4 2017.4L636.4 2017.4" stroke="#1E6B34" stroke-width="1.3"/><path d="M377.4 2044.4L636.4 2044.4" stroke="#1E6B34" stroke-width="1.3"/><path d="M377.4 2075.5L636.4 2075.5" stroke="#1E6B34" stroke-width="1.3"/><path d="M377.4 2102.8L636.4 2102.8" stroke="#1E6B34" stroke-width="1.3"/><path d="M403.8 1827.3L403.8 1827.1L405.4 1827L407 1827L408.6 1827L410.2 1827L411.8 1827L413.4 1827L415.1 1826.9L416.7 1826.9L418.3 1826.9L419.9 1826.9L421.5 1826.9L423.1 1826.9L423.1 1827.3ZM470 1827.3L470 1826.8L471.4 1826.8L472.9 1826.7L474.3 1826.6L475.7 1826.5L477.2 1826.5L478.6 1826.4L480 1826.4L481.5 1826.3L482.9 1826.3L484.3 1826.3L485.8 1826.3L487.2 1826.3L487.2 1827.3ZM511.7 1827.3L511.7 1826.3L513 1826.3L514.3 1826.4L515.5 1826.4L516.8 1826.5L518.1 1826.5L519.4 1826.6L519.4 1827.3ZM525.5 1827.3L525.5 1826.9L527 1826.9L528.5 1826.9L530 1827L531.4 1827L532.9 1827L534.4 1827.1L535.9 1827.1L537.4 1827.1L538.9 1827.1L540.4 1827.1L541.9 1827.1L543.3 1827.2L544.8 1827.1L546.3 1827.1L547.8 1827.2L549.3 1827.2L550.8 1827.1L552.3 1827.1L553.7 1827.1L555.2 1827.1L556.7 1827.2L558.2 1827.2L559.7 1827.2L561.2 1827.2L562.7 1827.2L564.1 1827.2L565.6 1827.2L567.1 1827.2L568.6 1827.2L570.1 1827.2L571.6 1827.2L573.1 1827.2L574.6 1827.2L576 1827.2L577.5 1827.2L579 1827.2L580.5 1827.2L582 1827.2L583.5 1827.2L585 1827.2L586.4 1827.2L587.9 1827.2L589.4 1827.2L590.9 1827.2L592.4 1827.2L593.9 1827.2L595.4 1827.2L596.8 1827.2L598.3 1827.1L599.8 1827.2L601.3 1827.2L602.8 1827.2L604.3 1827.2L605.8 1827.2L607.3 1827.2L608.7 1827.2L610.2 1827.2L611.7 1827.2L613.2 1827.2L613.2 1827.3ZM403.8 1854.3L403.8 1851.6L405.4 1851L407 1850.8L408.6 1850.7L410.2 1850.5L411.8 1850.4L413.4 1850.3L415.1 1850.2L416.7 1850.1L418.3 1850L419.9 1849.9L421.5 1849.8L423.1 1849.8L423.1 1854.3ZM470 1854.3L470 1850.2L471.4 1849.6L472.9 1848.9L474.3 1848.3L475.7 1847.7L477.2 1847.2L478.6 1846.7L480 1846.2L481.5 1845.9L482.9 1845.6L484.3 1845.4L485.8 1845.2L487.2 1845.2L487.2 1854.3ZM511.7 1854.3L511.7 1845.8L513 1846.3L514.3 1846.7L515.5 1847.1L516.8 1847.5L518.1 1848L519.4 1848.4L519.4 1854.3ZM525.5 1854.3L525.5 1850L527 1850.4L528.5 1850.3L530 1850.8L531.4 1851.2L532.9 1851.4L534.4 1851.9L535.9 1852.1L537.4 1852.2L538.9 1852.2L540.4 1852.6L541.9 1852.8L543.3 1853.1L544.8 1852.8L546.3 1852.7L547.8 1853L549.3 1852.8L550.8 1852.6L552.3 1852.6L553.7 1852.6L555.2 1852.8L556.7 1853L558.2 1853L559.7 1853.2L561.2 1853.4L562.7 1853.5L564.1 1853.6L565.6 1853.6L567.1 1853.6L568.6 1853.5L570.1 1853.4L571.6 1853.4L573.1 1853.4L574.6 1853.3L576 1853.3L577.5 1853.4L579 1853.2L580.5 1853L582 1852.9L583.5 1852.8L585 1852.9L586.4 1853L587.9 1853.1L589.4 1853.3L590.9 1853.2L592.4 1853.2L593.9 1853.1L595.4 1853.1L596.8 1852.9L598.3 1852.8L599.8 1853L601.3 1853.3L602.8 1853.1L604.3 1853.1L605.8 1853L607.3 1853L608.7 1853.2L610.2 1853.1L611.7 1853.7L613.2 1853.7L613.2 1854.3ZM403.8 1881.3L403.8 1877.8L405.4 1877.1L407 1876.8L408.6 1876.6L410.2 1876.4L411.8 1876.3L413.4 1876.1L415.1 1876L416.7 1875.9L418.3 1875.8L419.9 1875.7L421.5 1875.5L423.1 1875.5L423.1 1881.3ZM470 1881.3L470 1875.5L471.4 1874.5L472.9 1873.6L474.3 1872.7L475.7 1871.9L477.2 1871.1L478.6 1870.4L480 1869.8L481.5 1869.3L482.9 1868.8L484.3 1868.5L485.8 1868.4L487.2 1868.3L487.2 1881.3ZM511.7 1881.3L511.7 1868.3L513 1869L514.3 1869.6L515.5 1870.2L516.8 1870.9L518.1 1871.5L519.4 1872.2L519.4 1881.3ZM525.5 1881.3L525.5 1875.3L527 1875.9L528.5 1875.8L530 1876.5L531.4 1877L532.9 1877.3L534.4 1878L535.9 1878.3L537.4 1878.4L538.9 1878.4L540.4 1878.9L541.9 1879.2L543.3 1879.6L544.8 1879.2L546.3 1879.1L547.8 1879.5L549.3 1879.3L550.8 1879L552.3 1879L553.7 1878.9L555.2 1879.2L556.7 1879.5L558.2 1879.6L559.7 1879.8L561.2 1880L562.7 1880.2L564.1 1880.3L565.6 1880.3L567.1 1880.3L568.6 1880.1L570.1 1880.1L571.6 1880L573.1 1880.1L574.6 1880L576 1880L577.5 1880.1L579 1879.8L580.5 1879.6L582 1879.4L583.5 1879.2L585 1879.4L586.4 1879.5L587.9 1879.6L589.4 1879.9L590.9 1879.7L592.4 1879.8L593.9 1879.6L595.4 1879.6L596.8 1879.4L598.3 1879.2L599.8 1879.5L601.3 1879.9L602.8 1879.7L604.3 1879.7L605.8 1879.5L607.3 1879.5L608.7 1879.7L610.2 1879.7L611.7 1880.4L613.2 1880.5L613.2 1881.3ZM403.8 1908.6L403.8 1905.1L405.4 1904.4L407 1904.1L408.6 1903.9L410.2 1903.7L411.8 1903.6L413.4 1903.4L415.1 1903.3L416.7 1903.2L418.3 1903.1L419.9 1903L421.5 1902.8L423.1 1902.8L423.1 1908.6ZM470 1908.6L470 1902.2L471.4 1901.1L472.9 1900.1L474.3 1899.2L475.7 1898.2L477.2 1897.4L478.6 1896.6L480 1895.9L481.5 1895.4L482.9 1894.9L484.3 1894.6L485.8 1894.4L487.2 1894.3L487.2 1908.6ZM511.7 1908.6L511.7 1896.9L513 1897.5L514.3 1898.1L515.5 1898.7L516.8 1899.2L518.1 1899.8L519.4 1900.4L519.4 1908.6ZM525.5 1908.6L525.5 1903.2L527 1903.7L528.5 1903.6L530 1904.2L531.4 1904.7L532.9 1905L534.4 1905.6L535.9 1905.9L537.4 1906L538.9 1906L540.4 1906.4L541.9 1906.7L543.3 1907.1L544.8 1906.7L546.3 1906.6L547.8 1907L549.3 1906.7L550.8 1906.5L552.3 1906.5L553.7 1906.5L555.2 1906.7L556.7 1907L558.2 1907L559.7 1907.3L561.2 1907.5L562.7 1907.6L564.1 1907.7L565.6 1907.7L567.1 1907.7L568.6 1907.5L570.1 1907.5L571.6 1907.5L573.1 1907.5L574.6 1907.4L576 1907.4L577.5 1907.5L579 1907.3L580.5 1907L582 1906.8L583.5 1906.7L585 1906.8L586.4 1907L587.9 1907.1L589.4 1907.3L590.9 1907.2L592.4 1907.2L593.9 1907L595.4 1907.1L596.8 1906.9L598.3 1906.7L599.8 1906.9L601.3 1907.3L602.8 1907.1L604.3 1907.2L605.8 1906.9L607.3 1907L608.7 1907.2L610.2 1907.1L611.7 1907.8L613.2 1907.8L613.2 1908.6ZM403.8 1935.7L403.8 1932.2L405.4 1931.5L407 1931.2L408.6 1931L410.2 1930.8L411.8 1930.7L413.4 1930.5L415.1 1930.4L416.7 1930.3L418.3 1930.2L419.9 1930.1L421.5 1929.9L423.1 1929.9L423.1 1935.7ZM470 1935.7L470 1929.9L471.4 1928.9L472.9 1928L474.3 1927.1L475.7 1926.3L477.2 1925.5L478.6 1924.8L480 1924.2L481.5 1923.7L482.9 1923.2L484.3 1922.9L485.8 1922.8L487.2 1922.7L487.2 1935.7ZM511.7 1935.7L511.7 1924L513 1924.6L514.3 1925.2L515.5 1925.8L516.8 1926.3L518.1 1926.9L519.4 1927.5L519.4 1935.7ZM525.5 1935.7L525.5 1930.3L527 1930.8L528.5 1930.7L530 1931.3L531.4 1931.8L532.9 1932.1L534.4 1932.7L535.9 1933L537.4 1933.1L538.9 1933.1L540.4 1933.5L541.9 1933.8L543.3 1934.2L544.8 1933.8L546.3 1933.7L547.8 1934.1L549.3 1933.8L550.8 1933.6L552.3 1933.6L553.7 1933.6L555.2 1933.8L556.7 1934.1L558.2 1934.1L559.7 1934.4L561.2 1934.6L562.7 1934.7L564.1 1934.8L565.6 1934.8L567.1 1934.8L568.6 1934.6L570.1 1934.6L571.6 1934.6L573.1 1934.6L574.6 1934.5L576 1934.5L577.5 1934.6L579 1934.4L580.5 1934.1L582 1933.9L583.5 1933.8L585 1933.9L586.4 1934.1L587.9 1934.2L589.4 1934.4L590.9 1934.3L592.4 1934.3L593.9 1934.1L595.4 1934.2L596.8 1934L598.3 1933.8L599.8 1934L601.3 1934.4L602.8 1934.2L604.3 1934.3L605.8 1934L607.3 1934.1L608.7 1934.3L610.2 1934.2L611.7 1934.9L613.2 1934.9L613.2 1935.7ZM403.8 1962.8L403.8 1961.1L405.4 1960.8L407 1960.6L408.6 1960.5L410.2 1960.4L411.8 1960.3L413.4 1960.3L415.1 1960.2L416.7 1960.1L418.3 1960.1L419.9 1960L421.5 1960L423.1 1959.9L423.1 1962.8ZM470 1962.8L470 1960.2L471.4 1959.7L472.9 1959.3L474.3 1958.9L475.7 1958.6L477.2 1958.2L478.6 1957.9L480 1957.6L481.5 1957.4L482.9 1957.2L484.3 1957.1L485.8 1957L487.2 1957L487.2 1962.8ZM511.7 1962.8L511.7 1957.6L513 1957.9L514.3 1958.1L515.5 1958.4L516.8 1958.6L518.1 1958.9L519.4 1959.2L519.4 1962.8ZM525.5 1962.8L525.5 1960.4L527 1960.7L528.5 1960.6L530 1960.9L531.4 1961.1L532.9 1961.2L534.4 1961.5L535.9 1961.6L537.4 1961.7L538.9 1961.6L540.4 1961.9L541.9 1962L543.3 1962.1L544.8 1962L546.3 1961.9L547.8 1962.1L549.3 1962L550.8 1961.9L552.3 1961.9L553.7 1961.9L555.2 1962L556.7 1962.1L558.2 1962.1L559.7 1962.2L561.2 1962.3L562.7 1962.4L564.1 1962.4L565.6 1962.4L567.1 1962.4L568.6 1962.3L570.1 1962.3L571.6 1962.3L573.1 1962.3L574.6 1962.3L576 1962.3L577.5 1962.3L579 1962.2L580.5 1962.1L582 1962L583.5 1962L585 1962L586.4 1962.1L587.9 1962.1L589.4 1962.2L590.9 1962.2L592.4 1962.2L593.9 1962.1L595.4 1962.1L596.8 1962L598.3 1962L599.8 1962.1L601.3 1962.2L602.8 1962.2L604.3 1962.2L605.8 1962.1L607.3 1962.1L608.7 1962.2L610.2 1962.1L611.7 1962.4L613.2 1962.5L613.2 1962.8ZM403.8 1990.3L403.8 1990.1L405.4 1990L407 1990L408.6 1990L410.2 1990L411.8 1990L413.4 1990L415.1 1989.9L416.7 1989.9L418.3 1989.9L419.9 1989.9L421.5 1989.9L423.1 1989.9L423.1 1990.3ZM470 1990.3L470 1989.6L471.4 1989.5L472.9 1989.4L474.3 1989.3L475.7 1989.2L477.2 1989.1L478.6 1989L480 1988.9L481.5 1988.9L482.9 1988.8L484.3 1988.8L485.8 1988.7L487.2 1988.7L487.2 1990.3ZM511.7 1990.3L511.7 1988.7L513 1988.8L514.3 1988.9L515.5 1989L516.8 1989.1L518.1 1989.1L519.4 1989.2L519.4 1990.3ZM525.5 1990.3L525.5 1989.8L527 1989.8L528.5 1989.8L530 1989.9L531.4 1989.9L532.9 1989.9L534.4 1990L535.9 1990L537.4 1990L538.9 1990L540.4 1990.1L541.9 1990.1L543.3 1990.1L544.8 1990.1L546.3 1990.1L547.8 1990.1L549.3 1990.1L550.8 1990.1L552.3 1990.1L553.7 1990.1L555.2 1990.1L556.7 1990.1L558.2 1990.1L559.7 1990.2L561.2 1990.2L562.7 1990.2L564.1 1990.2L565.6 1990.2L567.1 1990.2L568.6 1990.2L570.1 1990.2L571.6 1990.2L573.1 1990.2L574.6 1990.2L576 1990.2L577.5 1990.2L579 1990.2L580.5 1990.1L582 1990.1L583.5 1990.1L585 1990.1L586.4 1990.1L587.9 1990.1L589.4 1990.2L590.9 1990.2L592.4 1990.2L593.9 1990.1L595.4 1990.1L596.8 1990.1L598.3 1990.1L599.8 1990.1L601.3 1990.2L602.8 1990.2L604.3 1990.2L605.8 1990.1L607.3 1990.1L608.7 1990.2L610.2 1990.2L611.7 1990.2L613.2 1990.2L613.2 1990.3ZM403.8 2017.4L403.8 2017.2L405.4 2017.1L407 2017.1L408.6 2017.1L410.2 2017.1L411.8 2017.1L413.4 2017.1L415.1 2017L416.7 2017L418.3 2017L419.9 2017L421.5 2017L423.1 2017L423.1 2017.4ZM470 2017.4L470 2017L471.4 2017L472.9 2016.9L474.3 2016.9L475.7 2016.8L477.2 2016.8L478.6 2016.7L480 2016.7L481.5 2016.7L482.9 2016.7L484.3 2016.6L485.8 2016.6L487.2 2016.6L487.2 2017.4ZM511.7 2017.4L511.7 2016.8L513 2016.8L514.3 2016.8L515.5 2016.8L516.8 2016.9L518.1 2016.9L519.4 2016.9L519.4 2017.4ZM525.5 2017.4L525.5 2017.1L527 2017.1L528.5 2017.1L530 2017.1L531.4 2017.2L532.9 2017.2L534.4 2017.2L535.9 2017.2L537.4 2017.2L538.9 2017.2L540.4 2017.3L541.9 2017.3L543.3 2017.3L544.8 2017.3L546.3 2017.3L547.8 2017.3L549.3 2017.3L550.8 2017.3L552.3 2017.3L553.7 2017.3L555.2 2017.3L556.7 2017.3L558.2 2017.3L559.7 2017.3L561.2 2017.3L562.7 2017.3L564.1 2017.3L565.6 2017.3L567.1 2017.3L568.6 2017.3L570.1 2017.3L571.6 2017.3L573.1 2017.3L574.6 2017.3L576 2017.3L577.5 2017.3L579 2017.3L580.5 2017.3L582 2017.3L583.5 2017.3L585 2017.3L586.4 2017.3L587.9 2017.3L589.4 2017.3L590.9 2017.3L592.4 2017.3L593.9 2017.3L595.4 2017.3L596.8 2017.3L598.3 2017.3L599.8 2017.3L601.3 2017.3L602.8 2017.3L604.3 2017.3L605.8 2017.3L607.3 2017.3L608.7 2017.3L610.2 2017.3L611.7 2017.4L613.2 2017.4L613.2 2017.4ZM403.8 2044.4L403.8 2044.2L405.4 2044.1L407 2044.1L408.6 2044.1L410.2 2044.1L411.8 2044.1L413.4 2044.1L415.1 2044L416.7 2044L418.3 2044L419.9 2044L421.5 2044L423.1 2044L423.1 2044.4ZM470 2044.4L470 2043.7L471.4 2043.6L472.9 2043.5L474.3 2043.4L475.7 2043.3L477.2 2043.2L478.6 2043.1L480 2043L481.5 2043L482.9 2042.9L484.3 2042.9L485.8 2042.8L487.2 2042.8L487.2 2044.4ZM511.7 2044.4L511.7 2043.1L513 2043.2L514.3 2043.2L515.5 2043.3L516.8 2043.4L518.1 2043.4L519.4 2043.5L519.4 2044.4ZM525.5 2044.4L525.5 2044.1L527 2044.1L528.5 2044.1L530 2044.1L531.4 2044.2L532.9 2044.2L534.4 2044.2L535.9 2044.2L537.4 2044.2L538.9 2044.2L540.4 2044.3L541.9 2044.3L543.3 2044.3L544.8 2044.3L546.3 2044.3L547.8 2044.3L549.3 2044.3L550.8 2044.3L552.3 2044.3L553.7 2044.3L555.2 2044.3L556.7 2044.3L558.2 2044.3L559.7 2044.3L561.2 2044.3L562.7 2044.3L564.1 2044.3L565.6 2044.3L567.1 2044.3L568.6 2044.3L570.1 2044.3L571.6 2044.3L573.1 2044.3L574.6 2044.3L576 2044.3L577.5 2044.3L579 2044.3L580.5 2044.3L582 2044.3L583.5 2044.3L585 2044.3L586.4 2044.3L587.9 2044.3L589.4 2044.3L590.9 2044.3L592.4 2044.3L593.9 2044.3L595.4 2044.3L596.8 2044.3L598.3 2044.3L599.8 2044.3L601.3 2044.3L602.8 2044.3L604.3 2044.3L605.8 2044.3L607.3 2044.3L608.7 2044.3L610.2 2044.3L611.7 2044.4L613.2 2044.4L613.2 2044.4ZM470 2075.5L470 2075L471.4 2075L472.9 2074.9L474.3 2074.8L475.7 2074.7L477.2 2074.7L478.6 2074.6L480 2074.6L481.5 2074.5L482.9 2074.5L484.3 2074.5L485.8 2074.5L487.2 2074.5L487.2 2075.5ZM511.7 2075.5L511.7 2074.7L513 2074.8L514.3 2074.8L515.5 2074.8L516.8 2074.9L518.1 2074.9L519.4 2075L519.4 2075.5ZM403.8 2102.8L403.8 2102.6L405.4 2102.6L407 2102.6L408.6 2102.6L410.2 2102.6L411.8 2102.6L413.4 2102.6L415.1 2102.6L416.7 2102.6L418.3 2102.6L419.9 2102.5L421.5 2102.5L423.1 2102.5L423.1 2102.8ZM470 2102.8L470 2102.1L471.4 2102L472.9 2101.9L474.3 2101.8L475.7 2101.7L477.2 2101.6L478.6 2101.5L480 2101.4L481.5 2101.4L482.9 2101.3L484.3 2101.3L485.8 2101.2L487.2 2101.2L487.2 2102.8ZM511.7 2102.8L511.7 2101.5L513 2101.6L514.3 2101.6L515.5 2101.7L516.8 2101.8L518.1 2101.8L519.4 2101.9L519.4 2102.8ZM525.5 2102.8L525.5 2102.3L527 2102.3L528.5 2102.3L530 2102.4L531.4 2102.4L532.9 2102.4L534.4 2102.5L535.9 2102.5L537.4 2102.5L538.9 2102.5L540.4 2102.6L541.9 2102.6L543.3 2102.6L544.8 2102.6L546.3 2102.6L547.8 2102.6L549.3 2102.6L550.8 2102.6L552.3 2102.6L553.7 2102.6L555.2 2102.6L556.7 2102.6L558.2 2102.6L559.7 2102.7L561.2 2102.7L562.7 2102.7L564.1 2102.7L565.6 2102.7L567.1 2102.7L568.6 2102.7L570.1 2102.7L571.6 2102.7L573.1 2102.7L574.6 2102.7L576 2102.7L577.5 2102.7L579 2102.7L580.5 2102.6L582 2102.6L583.5 2102.6L585 2102.6L586.4 2102.6L587.9 2102.6L589.4 2102.7L590.9 2102.7L592.4 2102.7L593.9 2102.6L595.4 2102.6L596.8 2102.6L598.3 2102.6L599.8 2102.6L601.3 2102.7L602.8 2102.7L604.3 2102.7L605.8 2102.6L607.3 2102.6L608.7 2102.7L610.2 2102.7L611.7 2102.7L613.2 2102.7L613.2 2102.8Z" fill="#1E6B34"/><path d="M422.4 2116.6L567.4 2116.6" stroke="#2E3A9A" stroke-width="1.2"/><rect x="404.4" y="2114" width="10" height="5.2" fill="#2E3A9A"/><rect x="413.9" y="2112" width="8.6" height="9.2" fill="#2E3A9A"/><rect x="470" y="2112" width="16.4" height="9.2" fill="#2E3A9A"/><rect x="512" y="2112" width="7.2" height="9.2" fill="#2E3A9A"/><rect x="526.9" y="2112" width="40.3" height="9.2" fill="#2E3A9A"/><rect x="567.2" y="2114" width="50.9" height="5.2" fill="#2E3A9A"/><path d="M431.2 2114.1l2.5 2.5l-2.5 2.5" stroke="#2E3A9A" stroke-width="1" fill="none"/><path d="M451.9 2114.1l2.5 2.5l-2.5 2.5" stroke="#2E3A9A" stroke-width="1" fill="none"/><path d="M494 2114.1l2.5 2.5l-2.5 2.5" stroke="#2E3A9A" stroke-width="1" fill="none"/><path d="M545.4 2114.1l2.5 2.5l-2.5 2.5" stroke="#FFFFFF" stroke-width="1" fill="none"/><text x="518.1" y="2152" text-anchor="middle" font-style="italic" font-size="31">Fos</text><path d="M658.9 1827.3L917.9 1827.3" stroke="#29338C" stroke-width="1.3"/><path d="M658.9 1854.3L917.9 1854.3" stroke="#29338C" stroke-width="1.3"/><path d="M658.9 1881.3L917.9 1881.3" stroke="#29338C" stroke-width="1.3"/><path d="M658.9 1908.6L917.9 1908.6" stroke="#29338C" stroke-width="1.3"/><path d="M658.9 1935.7L917.9 1935.7" stroke="#29338C" stroke-width="1.3"/><path d="M658.9 1962.8L917.9 1962.8" stroke="#29338C" stroke-width="1.3"/><path d="M658.9 1990.3L917.9 1990.3" stroke="#29338C" stroke-width="1.3"/><path d="M658.9 2017.4L917.9 2017.4" stroke="#29338C" stroke-width="1.3"/><path d="M658.9 2044.4L917.9 2044.4" stroke="#29338C" stroke-width="1.3"/><path d="M658.9 2075.5L917.9 2075.5" stroke="#29338C" stroke-width="1.3"/><path d="M658.9 2102.8L917.9 2102.8" stroke="#29338C" stroke-width="1.3"/><path d="M751.5 1827.3L751.5 1826.8L752.9 1826.7L754.4 1826.6L755.8 1826.5L757.2 1826.5L758.7 1826.4L760.1 1826.3L761.5 1826.3L763 1826.2L764.4 1826.2L765.8 1826.2L767.3 1826.1L768.7 1826.1L768.7 1827.3ZM793.2 1827.3L793.2 1826.1L794.5 1826.2L795.8 1826.3L797.1 1826.3L798.3 1826.4L799.6 1826.4L800.9 1826.5L800.9 1827.3ZM807 1827.3L807 1827.1L808.5 1827.1L810 1827.1L811.5 1827.1L812.9 1827.1L814.4 1827.1L815.9 1827.1L817.4 1827.1L818.9 1827.1L820.4 1827.1L821.9 1827.2L823.4 1827.2L824.8 1827.2L826.3 1827.2L827.8 1827.1L829.3 1827.2L830.8 1827.2L832.3 1827.1L833.8 1827.1L835.2 1827.1L836.7 1827.1L838.2 1827.2L839.7 1827.2L841.2 1827.2L842.7 1827.2L844.2 1827.2L845.6 1827.2L847.1 1827.2L848.6 1827.2L850.1 1827.2L851.6 1827.2L853.1 1827.2L854.6 1827.2L856.1 1827.2L857.5 1827.2L859 1827.2L860.5 1827.2L862 1827.2L863.5 1827.1L865 1827.1L866.5 1827.1L867.9 1827.2L869.4 1827.2L870.9 1827.2L872.4 1827.2L873.9 1827.2L875.4 1827.2L876.9 1827.2L878.3 1827.1L879.8 1827.1L881.3 1827.1L882.8 1827.2L884.3 1827.2L885.8 1827.2L887.3 1827.1L888.8 1827.2L890.2 1827.2L891.7 1827.2L893.2 1827.2L894.7 1827.2L894.7 1827.3ZM685.3 1854.3L685.3 1853L686.9 1852.7L688.5 1852.6L690.1 1852.6L691.7 1852.5L693.3 1852.4L694.9 1852.4L696.6 1852.3L698.2 1852.3L699.8 1852.2L701.4 1852.2L703 1852.2L704.6 1852.1L704.6 1854.3ZM751.5 1854.3L751.5 1852.7L752.9 1852.4L754.4 1852.2L755.8 1851.9L757.2 1851.7L758.7 1851.5L760.1 1851.3L761.5 1851.1L763 1850.9L764.4 1850.8L765.8 1850.7L767.3 1850.7L768.7 1850.7L768.7 1854.3ZM793.2 1854.3L793.2 1850.7L794.5 1850.9L795.8 1851L797.1 1851.2L798.3 1851.4L799.6 1851.6L800.9 1851.8L800.9 1854.3ZM807 1854.3L807 1852.8L808.5 1852.9L810 1852.9L811.5 1853L812.9 1853.1L814.4 1853.1L815.9 1853.3L817.4 1853.3L818.9 1853.3L820.4 1853.3L821.9 1853.4L823.4 1853.5L824.8 1853.6L826.3 1853.4L827.8 1853.4L829.3 1853.5L830.8 1853.4L832.3 1853.3L833.8 1853.2L835.2 1853.2L836.7 1853.3L838.2 1853.5L839.7 1853.5L841.2 1853.6L842.7 1853.7L844.2 1853.8L845.6 1853.8L847.1 1853.8L848.6 1853.8L850.1 1853.7L851.6 1853.7L853.1 1853.7L854.6 1853.7L856.1 1853.6L857.5 1853.7L859 1853.7L860.5 1853.6L862 1853.4L863.5 1853.3L865 1853.3L866.5 1853.3L867.9 1853.4L869.4 1853.5L870.9 1853.6L872.4 1853.5L873.9 1853.5L875.4 1853.4L876.9 1853.5L878.3 1853.3L879.8 1853.3L881.3 1853.4L882.8 1853.6L884.3 1853.5L885.8 1853.5L887.3 1853.4L888.8 1853.4L890.2 1853.5L891.7 1853.5L893.2 1853.9L894.7 1853.9L894.7 1854.3ZM685.3 1881.3L685.3 1879.6L686.9 1879.2L688.5 1879.1L690.1 1879L691.7 1878.9L693.3 1878.8L694.9 1878.7L696.6 1878.7L698.2 1878.6L699.8 1878.6L701.4 1878.5L703 1878.4L704.6 1878.4L704.6 1881.3ZM751.5 1881.3L751.5 1878.8L752.9 1878.4L754.4 1878L755.8 1877.7L757.2 1877.3L758.7 1877L760.1 1876.7L761.5 1876.4L763 1876.2L764.4 1876L765.8 1875.9L767.3 1875.8L768.7 1875.8L768.7 1881.3ZM793.2 1881.3L793.2 1876.2L794.5 1876.5L795.8 1876.7L797.1 1877L798.3 1877.2L799.6 1877.5L800.9 1877.7L800.9 1881.3ZM807 1881.3L807 1879.5L808.5 1879.6L810 1879.5L811.5 1879.6L812.9 1879.8L814.4 1879.8L815.9 1880L817.4 1880.1L818.9 1880.1L820.4 1880L821.9 1880.2L823.4 1880.3L824.8 1880.5L826.3 1880.2L827.8 1880.2L829.3 1880.4L830.8 1880.2L832.3 1880L833.8 1880L835.2 1880L836.7 1880.1L838.2 1880.3L839.7 1880.3L841.2 1880.4L842.7 1880.5L844.2 1880.6L845.6 1880.7L847.1 1880.7L848.6 1880.7L850.1 1880.6L851.6 1880.6L853.1 1880.5L854.6 1880.5L856.1 1880.5L857.5 1880.5L859 1880.6L860.5 1880.4L862 1880.2L863.5 1880.1L865 1880L866.5 1880.1L867.9 1880.2L869.4 1880.3L870.9 1880.4L872.4 1880.3L873.9 1880.4L875.4 1880.2L876.9 1880.3L878.3 1880.1L879.8 1880L881.3 1880.2L882.8 1880.4L884.3 1880.3L885.8 1880.3L887.3 1880.2L888.8 1880.2L890.2 1880.3L891.7 1880.3L893.2 1880.8L894.7 1880.8L894.7 1881.3ZM685.3 1908.6L685.3 1906.9L686.9 1906.5L688.5 1906.4L690.1 1906.3L691.7 1906.2L693.3 1906.1L694.9 1906L696.6 1906L698.2 1905.9L699.8 1905.9L701.4 1905.8L703 1905.7L704.6 1905.7L704.6 1908.6ZM751.5 1908.6L751.5 1905.7L752.9 1905.2L754.4 1904.7L755.8 1904.3L757.2 1903.9L758.7 1903.5L760.1 1903.1L761.5 1902.8L763 1902.6L764.4 1902.3L765.8 1902.2L767.3 1902.1L768.7 1902.1L768.7 1908.6ZM793.2 1908.6L793.2 1903.5L794.5 1903.8L795.8 1904L797.1 1904.3L798.3 1904.5L799.6 1904.8L800.9 1905L800.9 1908.6ZM807 1908.6L807 1906.8L808.5 1906.9L810 1906.8L811.5 1906.9L812.9 1907.1L814.4 1907.1L815.9 1907.3L817.4 1907.4L818.9 1907.4L820.4 1907.3L821.9 1907.5L823.4 1907.6L824.8 1907.8L826.3 1907.5L827.8 1907.5L829.3 1907.7L830.8 1907.5L832.3 1907.3L833.8 1907.3L835.2 1907.3L836.7 1907.4L838.2 1907.6L839.7 1907.6L841.2 1907.7L842.7 1907.8L844.2 1907.9L845.6 1908L847.1 1908L848.6 1908L850.1 1907.9L851.6 1907.9L853.1 1907.8L854.6 1907.8L856.1 1907.8L857.5 1907.8L859 1907.9L860.5 1907.7L862 1907.5L863.5 1907.4L865 1907.3L866.5 1907.4L867.9 1907.5L869.4 1907.6L870.9 1907.7L872.4 1907.6L873.9 1907.7L875.4 1907.5L876.9 1907.6L878.3 1907.4L879.8 1907.3L881.3 1907.5L882.8 1907.7L884.3 1907.6L885.8 1907.6L887.3 1907.5L888.8 1907.5L890.2 1907.6L891.7 1907.6L893.2 1908.1L894.7 1908.1L894.7 1908.6ZM685.3 1935.7L685.3 1934L686.9 1933.6L688.5 1933.5L690.1 1933.4L691.7 1933.3L693.3 1933.2L694.9 1933.1L696.6 1933.1L698.2 1933L699.8 1933L701.4 1932.9L703 1932.8L704.6 1932.8L704.6 1935.7ZM751.5 1935.7L751.5 1932.8L752.9 1932.3L754.4 1931.8L755.8 1931.4L757.2 1931L758.7 1930.6L760.1 1930.2L761.5 1929.9L763 1929.7L764.4 1929.4L765.8 1929.3L767.3 1929.2L768.7 1929.2L768.7 1935.7ZM793.2 1935.7L793.2 1930.6L794.5 1930.9L795.8 1931.1L797.1 1931.4L798.3 1931.6L799.6 1931.9L800.9 1932.1L800.9 1935.7ZM807 1935.7L807 1933.9L808.5 1934L810 1933.9L811.5 1934L812.9 1934.2L814.4 1934.2L815.9 1934.4L817.4 1934.5L818.9 1934.5L820.4 1934.4L821.9 1934.6L823.4 1934.7L824.8 1934.9L826.3 1934.6L827.8 1934.6L829.3 1934.8L830.8 1934.6L832.3 1934.4L833.8 1934.4L835.2 1934.4L836.7 1934.5L838.2 1934.7L839.7 1934.7L841.2 1934.8L842.7 1934.9L844.2 1935L845.6 1935.1L847.1 1935.1L848.6 1935.1L850.1 1935L851.6 1935L853.1 1934.9L854.6 1934.9L856.1 1934.9L857.5 1934.9L859 1935L860.5 1934.8L862 1934.6L863.5 1934.5L865 1934.4L866.5 1934.5L867.9 1934.6L869.4 1934.7L870.9 1934.8L872.4 1934.7L873.9 1934.8L875.4 1934.6L876.9 1934.7L878.3 1934.5L879.8 1934.4L881.3 1934.6L882.8 1934.8L884.3 1934.7L885.8 1934.7L887.3 1934.6L888.8 1934.6L890.2 1934.7L891.7 1934.7L893.2 1935.2L894.7 1935.2L894.7 1935.7ZM685.3 1962.8L685.3 1961.5L686.9 1961.2L688.5 1961.1L690.1 1961.1L691.7 1961L693.3 1960.9L694.9 1960.9L696.6 1960.8L698.2 1960.8L699.8 1960.7L701.4 1960.7L703 1960.7L704.6 1960.6L704.6 1962.8ZM751.5 1962.8L751.5 1960.8L752.9 1960.5L754.4 1960.2L755.8 1959.9L757.2 1959.6L758.7 1959.4L760.1 1959.2L761.5 1958.9L763 1958.8L764.4 1958.6L765.8 1958.5L767.3 1958.5L768.7 1958.5L768.7 1962.8ZM793.2 1962.8L793.2 1959.2L794.5 1959.4L795.8 1959.5L797.1 1959.7L798.3 1959.9L799.6 1960.1L800.9 1960.3L800.9 1962.8ZM807 1962.8L807 1961.3L808.5 1961.4L810 1961.4L811.5 1961.5L812.9 1961.6L814.4 1961.6L815.9 1961.8L817.4 1961.8L818.9 1961.8L820.4 1961.8L821.9 1961.9L823.4 1962L824.8 1962.1L826.3 1961.9L827.8 1961.9L829.3 1962L830.8 1961.9L832.3 1961.8L833.8 1961.7L835.2 1961.7L836.7 1961.8L838.2 1962L839.7 1962L841.2 1962.1L842.7 1962.2L844.2 1962.3L845.6 1962.3L847.1 1962.3L848.6 1962.3L850.1 1962.2L851.6 1962.2L853.1 1962.2L854.6 1962.2L856.1 1962.1L857.5 1962.2L859 1962.2L860.5 1962.1L862 1961.9L863.5 1961.8L865 1961.8L866.5 1961.8L867.9 1961.9L869.4 1962L870.9 1962.1L872.4 1962L873.9 1962L875.4 1961.9L876.9 1962L878.3 1961.8L879.8 1961.8L881.3 1961.9L882.8 1962.1L884.3 1962L885.8 1962L887.3 1961.9L888.8 1961.9L890.2 1962L891.7 1962L893.2 1962.4L894.7 1962.4L894.7 1962.8ZM751.5 1990.3L751.5 1989.8L752.9 1989.7L754.4 1989.6L755.8 1989.5L757.2 1989.5L758.7 1989.4L760.1 1989.3L761.5 1989.3L763 1989.2L764.4 1989.2L765.8 1989.2L767.3 1989.1L768.7 1989.1L768.7 1990.3ZM793.2 1990.3L793.2 1989.1L794.5 1989.2L795.8 1989.3L797.1 1989.3L798.3 1989.4L799.6 1989.4L800.9 1989.5L800.9 1990.3ZM751.5 2017.4L751.5 2017.1L752.9 2017L754.4 2017L755.8 2016.9L757.2 2016.9L758.7 2016.8L760.1 2016.8L761.5 2016.8L763 2016.7L764.4 2016.7L765.8 2016.7L767.3 2016.7L768.7 2016.7L768.7 2017.4ZM793.2 2017.4L793.2 2016.7L794.5 2016.7L795.8 2016.7L797.1 2016.8L798.3 2016.8L799.6 2016.9L800.9 2016.9L800.9 2017.4ZM685.3 2044.4L685.3 2044L686.9 2043.9L688.5 2043.8L690.1 2043.8L691.7 2043.8L693.3 2043.8L694.9 2043.8L696.6 2043.7L698.2 2043.7L699.8 2043.7L701.4 2043.7L703 2043.7L704.6 2043.7L704.6 2044.4ZM751.5 2044.4L751.5 2044L752.9 2043.9L754.4 2043.9L755.8 2043.8L757.2 2043.8L758.7 2043.7L760.1 2043.7L761.5 2043.6L763 2043.6L764.4 2043.6L765.8 2043.5L767.3 2043.5L768.7 2043.5L768.7 2044.4ZM793.2 2044.4L793.2 2043.5L794.5 2043.6L795.8 2043.6L797.1 2043.7L798.3 2043.7L799.6 2043.7L800.9 2043.8L800.9 2044.4ZM751.5 2075.5L751.5 2075.1L752.9 2075L754.4 2075L755.8 2074.9L757.2 2074.9L758.7 2074.8L760.1 2074.8L761.5 2074.7L763 2074.7L764.4 2074.7L765.8 2074.6L767.3 2074.6L768.7 2074.6L768.7 2075.5ZM793.2 2075.5L793.2 2074.6L794.5 2074.7L795.8 2074.7L797.1 2074.8L798.3 2074.8L799.6 2074.8L800.9 2074.9L800.9 2075.5ZM685.3 2102.8L685.3 2102.5L686.9 2102.5L688.5 2102.5L690.1 2102.5L691.7 2102.4L693.3 2102.4L694.9 2102.4L696.6 2102.4L698.2 2102.4L699.8 2102.4L701.4 2102.4L703 2102.4L704.6 2102.4L704.6 2102.8ZM751.5 2102.8L751.5 2102.5L752.9 2102.4L754.4 2102.4L755.8 2102.3L757.2 2102.3L758.7 2102.2L760.1 2102.2L761.5 2102.2L763 2102.1L764.4 2102.1L765.8 2102.1L767.3 2102.1L768.7 2102.1L768.7 2102.8ZM793.2 2102.8L793.2 2102.1L794.5 2102.1L795.8 2102.1L797.1 2102.2L798.3 2102.2L799.6 2102.3L800.9 2102.3L800.9 2102.8Z" fill="#29338C"/><path d="M703.9 2116.6L848.9 2116.6" stroke="#2E3A9A" stroke-width="1.2"/><rect x="685.9" y="2114" width="10" height="5.2" fill="#2E3A9A"/><rect x="695.4" y="2112" width="8.6" height="9.2" fill="#2E3A9A"/><rect x="751.5" y="2112" width="16.4" height="9.2" fill="#2E3A9A"/><rect x="793.5" y="2112" width="7.2" height="9.2" fill="#2E3A9A"/><rect x="808.4" y="2112" width="40.3" height="9.2" fill="#2E3A9A"/><rect x="848.7" y="2114" width="50.9" height="5.2" fill="#2E3A9A"/><path d="M712.7 2114.1l2.5 2.5l-2.5 2.5" stroke="#2E3A9A" stroke-width="1" fill="none"/><path d="M733.4 2114.1l2.5 2.5l-2.5 2.5" stroke="#2E3A9A" stroke-width="1" fill="none"/><path d="M775.5 2114.1l2.5 2.5l-2.5 2.5" stroke="#2E3A9A" stroke-width="1" fill="none"/><path d="M826.9 2114.1l2.5 2.5l-2.5 2.5" stroke="#FFFFFF" stroke-width="1" fill="none"/><text x="800" y="2152" text-anchor="middle" font-style="italic" font-size="31">Fos</text><text x="779.4" y="1802.6" fill="#999999" font-size="26">chr12</text><text x="863.2" y="1788.7" fill="#999999" font-size="25">1kb</text><path d="M851.7 1794.6L916.7 1794.6" stroke="#999999" stroke-width="1.5"/><path d="M852.4 1790.6L852.4 1798.6" stroke="#999999" stroke-width="1.5"/><path d="M916 1790.6L916 1798.6" stroke="#999999" stroke-width="1.5"/><text x="867.4" y="2097" fill="#999999" font-size="13.5">[0 - 5.39]</text><rect x="103" y="2214.5" width="823" height="41.1" fill="#E6E6E6"/><text x="419" y="2248.1" font-size="32.3"><tspan font-style="italic">Fos</tspan> - common</text><path d="M103.5 2273.5L103.5 2459.9" stroke="#000" stroke-width="2"/><path d="M102.5 2458.9L351.5 2458.9" stroke="#000" stroke-width="2"/><path d="M97.5 2294.2L103.5 2294.2" stroke="#000" stroke-width="2"/><path d="M97.5 2335.3L103.5 2335.3" stroke="#000" stroke-width="2"/><path d="M97.5 2376.1L103.5 2376.1" stroke="#000" stroke-width="2"/><path d="M97.5 2417.3L103.5 2417.3" stroke="#000" stroke-width="2"/><path d="M97.5 2458.9L103.5 2458.9" stroke="#000" stroke-width="2"/><path d="M115 2459.9L115 2462.7" stroke="#000" stroke-width="1.8"/><text x="115" y="2489.1" text-anchor="middle" font-size="32">0</text><path d="M162.1 2459.9L162.1 2462.7" stroke="#000" stroke-width="1.8"/><text x="162.1" y="2489.1" text-anchor="middle" font-size="32">5</text><path d="M209.1 2459.9L209.1 2462.7" stroke="#000" stroke-width="1.8"/><text x="209.1" y="2489.1" text-anchor="middle" font-size="32">10</text><path d="M256.1 2459.9L256.1 2462.7" stroke="#000" stroke-width="1.8"/><text x="256.1" y="2489.1" text-anchor="middle" font-size="32">15</text><path d="M303.2 2459.9L303.2 2462.7" stroke="#000" stroke-width="1.8"/><text x="303.2" y="2489.1" text-anchor="middle" font-size="32">20</text><path d="M350.2 2459.9L350.2 2462.7" stroke="#000" stroke-width="1.8"/><text x="350.2" y="2489.1" text-anchor="middle" font-size="32">25</text><text x="235.1" y="2519.4" text-anchor="middle" font-size="32">time (h)</text><path d="M391.1 2273.5L391.1 2459.9" stroke="#000" stroke-width="2"/><path d="M390.1 2458.9L637.4 2458.9" stroke="#000" stroke-width="2"/><path d="M385.1 2294.2L391.1 2294.2" stroke="#000" stroke-width="2"/><path d="M385.1 2335.3L391.1 2335.3" stroke="#000" stroke-width="2"/><path d="M385.1 2376.1L391.1 2376.1" stroke="#000" stroke-width="2"/><path d="M385.1 2417.3L391.1 2417.3" stroke="#000" stroke-width="2"/><path d="M385.1 2458.9L391.1 2458.9" stroke="#000" stroke-width="2"/><path d="M401.3 2459.9L401.3 2462.7" stroke="#000" stroke-width="1.8"/><text x="401.3" y="2489.1" text-anchor="middle" font-size="32">0</text><path d="M448.4 2459.9L448.4 2462.7" stroke="#000" stroke-width="1.8"/><text x="448.4" y="2489.1" text-anchor="middle" font-size="32">5</text><path d="M495.4 2459.9L495.4 2462.7" stroke="#000" stroke-width="1.8"/><text x="495.4" y="2489.1" text-anchor="middle" font-size="32">10</text><path d="M542.5 2459.9L542.5 2462.7" stroke="#000" stroke-width="1.8"/><text x="542.5" y="2489.1" text-anchor="middle" font-size="32">15</text><path d="M589.5 2459.9L589.5 2462.7" stroke="#000" stroke-width="1.8"/><text x="589.5" y="2489.1" text-anchor="middle" font-size="32">20</text><path d="M636.5 2459.9L636.5 2462.7" stroke="#000" stroke-width="1.8"/><text x="636.5" y="2489.1" text-anchor="middle" font-size="32">25</text><text x="520.6" y="2519.4" text-anchor="middle" font-size="32">time (h)</text><path d="M678.3 2273.5L678.3 2459.9" stroke="#000" stroke-width="2"/><path d="M677.3 2458.9L925 2458.9" stroke="#000" stroke-width="2"/><path d="M672.3 2294.2L678.3 2294.2" stroke="#000" stroke-width="2"/><path d="M672.3 2335.3L678.3 2335.3" stroke="#000" stroke-width="2"/><path d="M672.3 2376.1L678.3 2376.1" stroke="#000" stroke-width="2"/><path d="M672.3 2417.3L678.3 2417.3" stroke="#000" stroke-width="2"/><path d="M672.3 2458.9L678.3 2458.9" stroke="#000" stroke-width="2"/><path d="M688.7 2459.9L688.7 2462.7" stroke="#000" stroke-width="1.8"/><text x="688.7" y="2489.1" text-anchor="middle" font-size="32">0</text><path d="M735.8 2459.9L735.8 2462.7" stroke="#000" stroke-width="1.8"/><text x="735.8" y="2489.1" text-anchor="middle" font-size="32">5</text><path d="M782.8 2459.9L782.8 2462.7" stroke="#000" stroke-width="1.8"/><text x="782.8" y="2489.1" text-anchor="middle" font-size="32">10</text><path d="M829.9 2459.9L829.9 2462.7" stroke="#000" stroke-width="1.8"/><text x="829.9" y="2489.1" text-anchor="middle" font-size="32">15</text><path d="M876.9 2459.9L876.9 2462.7" stroke="#000" stroke-width="1.8"/><text x="876.9" y="2489.1" text-anchor="middle" font-size="32">20</text><path d="M924 2459.9L924 2462.7" stroke="#000" stroke-width="1.8"/><text x="924" y="2489.1" text-anchor="middle" font-size="32">25</text><text x="809" y="2519.4" text-anchor="middle" font-size="32">time (h)</text><text x="91" y="2306.5" text-anchor="end" font-size="32">2.0</text><text x="91" y="2347.6" text-anchor="end" font-size="32">1.5</text><text x="91" y="2388.4" text-anchor="end" font-size="32">1.0</text><text x="91" y="2429.6" text-anchor="end" font-size="32">0.5</text><text x="91" y="2471.2" text-anchor="end" font-size="32">0.0</text><text transform="translate(26.5 2367) rotate(-90)" text-anchor="middle" font-size="32.5">Counts (x10<tspan font-size="20" dy="-11.5">3</tspan><tspan dy="11.5">)</tspan></text><path d="M115 2439.7L117.1 2352.9L119.9 2297.8L124.2 2282.9L129.1 2344.7L133.7 2397.5L152.4 2439.6L171.7 2441L190.4 2445.5L284.7 2429.5L341.7 2433.4L341.7 2446.4L284.7 2439.5L190.4 2449.5L171.7 2447L152.4 2445.6L133.7 2412.5L129.1 2355.7L124.2 2301.9L119.9 2311.8L117.1 2360.9L115 2443.7Z" fill="#F8CDCD"/><path d="M115 2441.7L117.1 2356.9L119.9 2306.8L124.2 2295.9L129.1 2349.7L133.7 2403.5L152.4 2442.6L171.7 2444L190.4 2447.5L284.7 2434.5L341.7 2439.4" stroke="#9B1B1F" stroke-width="2.4" fill="none" stroke-linejoin="round"/><path d="M115 2441.7h0M152.4 2442.6h0M171.7 2444h0M190.4 2447.5h0M284.7 2434.5h0M341.7 2439.4h0" stroke="#C8C8C8" stroke-width="7.2" stroke-linecap="round" fill="none"/><path d="M117.1 2356.9h0M119.9 2306.8h0M124.2 2295.9h0M129.1 2349.7h0M133.7 2403.5h0" stroke="#000000" stroke-width="7.2" stroke-linecap="round" fill="none"/><path d="M401.1 2443.1L404.5 2399.5L406.8 2369.3L411.9 2361.9L416.6 2383.4L420.9 2418.6L439.7 2442.1L458.9 2447.5L477.7 2448.1L572.6 2446.1L629.3 2445.8L629.3 2447.8L572.6 2448.1L477.7 2450.1L458.9 2449.5L439.7 2446.1L420.9 2424.6L416.6 2389.4L411.9 2370.9L406.8 2376.3L404.5 2405.5L401.1 2447.1Z" fill="#CFE3D8"/><path d="M401.1 2445.1L404.5 2402.5L406.8 2373.3L411.9 2367.9L416.6 2386.4L420.9 2421.6L439.7 2444.1L458.9 2448.5L477.7 2449.1L572.6 2447.1L629.3 2446.8" stroke="#1E6B34" stroke-width="2.4" fill="none" stroke-linejoin="round"/><path d="M401.1 2445.1h0M439.7 2444.1h0M458.9 2448.5h0M477.7 2449.1h0M572.6 2447.1h0M629.3 2446.8h0" stroke="#C8C8C8" stroke-width="7.2" stroke-linecap="round" fill="none"/><path d="M404.5 2402.5h0M406.8 2373.3h0M411.9 2367.9h0M416.6 2386.4h0M420.9 2421.6h0" stroke="#000000" stroke-width="7.2" stroke-linecap="round" fill="none"/><path d="M688.7 2443.1L692.1 2424.6L694.4 2406.5L699.5 2409.6L703.8 2418.6L708.2 2427L727.7 2446.4L746.8 2449.5L765.2 2447.5L860.2 2447.5L916.9 2447.5L916.9 2449.5L860.2 2449.5L765.2 2449.5L746.8 2451.5L727.7 2448.4L708.2 2433L703.8 2424.6L699.5 2415.6L694.4 2412.5L692.1 2428.6L688.7 2445.1Z" fill="#D8D9EC"/><path d="M688.7 2444.1L692.1 2426.6L694.4 2409.5L699.5 2412.6L703.8 2421.6L708.2 2430L727.7 2447.4L746.8 2450.5L765.2 2448.5L860.2 2448.5L916.9 2448.5" stroke="#29338C" stroke-width="2.4" fill="none" stroke-linejoin="round"/><path d="M688.7 2444.1h0M692.1 2426.6h0M708.2 2430h0M727.7 2447.4h0M746.8 2450.5h0M765.2 2448.5h0M860.2 2448.5h0M916.9 2448.5h0" stroke="#C8C8C8" stroke-width="7.2" stroke-linecap="round" fill="none"/><path d="M694.4 2409.5h0M699.5 2412.6h0M703.8 2421.6h0" stroke="#000000" stroke-width="7.2" stroke-linecap="round" fill="none"/><rect x="1072.3" y="1741.8" width="810.5" height="40.3" fill="#F4E6E6"/><rect x="1075.7" y="1977.3" width="806.4" height="40.8" fill="#E6EEE9"/><rect x="1077.5" y="2223.9" width="810.4" height="40.9" fill="#E8E8F2"/><text x="1330.6" y="1774.3" font-size="32.5"><tspan font-style="italic">Nr4a3</tspan> - CA1-induced</text><text x="1341.2" y="2009.4" font-size="32.5"><tspan font-style="italic">Atoh8</tspan> - CA3-induced</text><text x="1356.4" y="2252.2" font-size="32.5"><tspan font-style="italic">Bcl6</tspan> - DG-induced</text><path d="M1078.4 1785L1078.4 1970.5" stroke="#000" stroke-width="2"/><path d="M1067.9 1795L1078.4 1795" stroke="#000" stroke-width="1.9"/><text x="1064.3" y="1807.2" text-anchor="end" font-size="32">16.0</text><path d="M1067.9 1842.5L1078.4 1842.5" stroke="#000" stroke-width="1.9"/><text x="1064.3" y="1854.7" text-anchor="end" font-size="32">12.0</text><path d="M1067.9 1889.4L1078.4 1889.4" stroke="#000" stroke-width="1.9"/><text x="1064.3" y="1901.6" text-anchor="end" font-size="32">8.0</text><path d="M1067.9 1936L1078.4 1936" stroke="#000" stroke-width="1.9"/><text x="1064.3" y="1948.2" text-anchor="end" font-size="32">4.0</text><path d="M1365 1785L1365 1970.5" stroke="#000" stroke-width="2"/><path d="M1354.5 1795L1365 1795" stroke="#000" stroke-width="1.9"/><path d="M1354.5 1842.5L1365 1842.5" stroke="#000" stroke-width="1.9"/><path d="M1354.5 1889.4L1365 1889.4" stroke="#000" stroke-width="1.9"/><path d="M1354.5 1936L1365 1936" stroke="#000" stroke-width="1.9"/><path d="M1653 1785L1653 1970.5" stroke="#000" stroke-width="2"/><path d="M1642.5 1795L1653 1795" stroke="#000" stroke-width="1.9"/><path d="M1642.5 1842.5L1653 1842.5" stroke="#000" stroke-width="1.9"/><path d="M1642.5 1889.4L1653 1889.4" stroke="#000" stroke-width="1.9"/><path d="M1642.5 1936L1653 1936" stroke="#000" stroke-width="1.9"/><text transform="translate(986.5 1883.5) rotate(-90)" text-anchor="middle" font-size="32.5">Counts (x10<tspan font-size="20" dy="-11.5">3</tspan><tspan dy="11.5">)</tspan></text><path d="M1078.4 2026.1L1078.4 2212.4" stroke="#000" stroke-width="2"/><path d="M1067.9 2080.2L1078.4 2080.2" stroke="#000" stroke-width="1.9"/><text x="1064.3" y="2092.4" text-anchor="end" font-size="32">0.15</text><path d="M1067.9 2146.4L1078.4 2146.4" stroke="#000" stroke-width="1.9"/><text x="1064.3" y="2158.6" text-anchor="end" font-size="32">0.10</text><path d="M1067.9 2211.9L1078.4 2211.9" stroke="#000" stroke-width="1.9"/><text x="1064.3" y="2224.1" text-anchor="end" font-size="32">0.05</text><path d="M1365 2026.1L1365 2212.4" stroke="#000" stroke-width="2"/><path d="M1354.5 2080.2L1365 2080.2" stroke="#000" stroke-width="1.9"/><path d="M1354.5 2146.4L1365 2146.4" stroke="#000" stroke-width="1.9"/><path d="M1354.5 2211.9L1365 2211.9" stroke="#000" stroke-width="1.9"/><path d="M1653 2026.1L1653 2212.4" stroke="#000" stroke-width="2"/><path d="M1642.5 2080.2L1653 2080.2" stroke="#000" stroke-width="1.9"/><path d="M1642.5 2146.4L1653 2146.4" stroke="#000" stroke-width="1.9"/><path d="M1642.5 2211.9L1653 2211.9" stroke="#000" stroke-width="1.9"/><text transform="translate(986.5 2113.9) rotate(-90)" text-anchor="middle" font-size="32.5">Counts (x10<tspan font-size="20" dy="-11.5">3</tspan><tspan dy="11.5">)</tspan></text><path d="M1078.4 2268.5L1078.4 2453.6" stroke="#000" stroke-width="2"/><path d="M1067.9 2280.5L1078.4 2280.5" stroke="#000" stroke-width="1.9"/><text x="1064.3" y="2292.7" text-anchor="end" font-size="32">4.0</text><path d="M1067.9 2339.5L1078.4 2339.5" stroke="#000" stroke-width="1.9"/><text x="1064.3" y="2351.7" text-anchor="end" font-size="32">3.0</text><path d="M1067.9 2398.4L1078.4 2398.4" stroke="#000" stroke-width="1.9"/><text x="1064.3" y="2410.6" text-anchor="end" font-size="32">2.0</text><path d="M1365 2268.5L1365 2453.6" stroke="#000" stroke-width="2"/><path d="M1354.5 2280.5L1365 2280.5" stroke="#000" stroke-width="1.9"/><path d="M1354.5 2339.5L1365 2339.5" stroke="#000" stroke-width="1.9"/><path d="M1354.5 2398.4L1365 2398.4" stroke="#000" stroke-width="1.9"/><path d="M1653 2268.5L1653 2453.6" stroke="#000" stroke-width="2"/><path d="M1642.5 2280.5L1653 2280.5" stroke="#000" stroke-width="1.9"/><path d="M1642.5 2339.5L1653 2339.5" stroke="#000" stroke-width="1.9"/><path d="M1642.5 2398.4L1653 2398.4" stroke="#000" stroke-width="1.9"/><text transform="translate(986.5 2358.9) rotate(-90)" text-anchor="middle" font-size="32.5">Counts (x10<tspan font-size="20" dy="-11.5">3</tspan><tspan dy="11.5">)</tspan></text><path d="M1077.4 2453.1L1315.3 2453.1" stroke="#000" stroke-width="2"/><path d="M1088.1 2454L1088.1 2456.5" stroke="#000" stroke-width="1.8"/><text x="1091.1" y="2487.3" text-anchor="middle" font-size="32">0</text><path d="M1133.5 2454L1133.5 2456.5" stroke="#000" stroke-width="1.8"/><text x="1136.5" y="2487.3" text-anchor="middle" font-size="32">5</text><path d="M1178.9 2454L1178.9 2456.5" stroke="#000" stroke-width="1.8"/><text x="1181.9" y="2487.3" text-anchor="middle" font-size="32">10</text><path d="M1224.3 2454L1224.3 2456.5" stroke="#000" stroke-width="1.8"/><text x="1227.3" y="2487.3" text-anchor="middle" font-size="32">15</text><path d="M1269.7 2454L1269.7 2456.5" stroke="#000" stroke-width="1.8"/><text x="1272.7" y="2487.3" text-anchor="middle" font-size="32">20</text><path d="M1315.1 2454L1315.1 2456.5" stroke="#000" stroke-width="1.8"/><text x="1318.1" y="2487.3" text-anchor="middle" font-size="32">25</text><text x="1202" y="2519" text-anchor="middle" font-size="32">time (h)</text><path d="M1364 2453.1L1602.5 2453.1" stroke="#000" stroke-width="2"/><path d="M1375.1 2454L1375.1 2456.5" stroke="#000" stroke-width="1.8"/><text x="1378.1" y="2487.3" text-anchor="middle" font-size="32">0</text><path d="M1420.5 2454L1420.5 2456.5" stroke="#000" stroke-width="1.8"/><text x="1423.5" y="2487.3" text-anchor="middle" font-size="32">5</text><path d="M1465.9 2454L1465.9 2456.5" stroke="#000" stroke-width="1.8"/><text x="1468.9" y="2487.3" text-anchor="middle" font-size="32">10</text><path d="M1511.3 2454L1511.3 2456.5" stroke="#000" stroke-width="1.8"/><text x="1514.3" y="2487.3" text-anchor="middle" font-size="32">15</text><path d="M1556.7 2454L1556.7 2456.5" stroke="#000" stroke-width="1.8"/><text x="1559.7" y="2487.3" text-anchor="middle" font-size="32">20</text><path d="M1602.1 2454L1602.1 2456.5" stroke="#000" stroke-width="1.8"/><text x="1605.1" y="2487.3" text-anchor="middle" font-size="32">25</text><text x="1487.3" y="2519" text-anchor="middle" font-size="32">time (h)</text><path d="M1652 2453.1L1891.3 2453.1" stroke="#000" stroke-width="2"/><path d="M1663.9 2454L1663.9 2456.5" stroke="#000" stroke-width="1.8"/><text x="1666.9" y="2487.3" text-anchor="middle" font-size="32">0</text><path d="M1709.3 2454L1709.3 2456.5" stroke="#000" stroke-width="1.8"/><text x="1712.3" y="2487.3" text-anchor="middle" font-size="32">5</text><path d="M1754.7 2454L1754.7 2456.5" stroke="#000" stroke-width="1.8"/><text x="1757.7" y="2487.3" text-anchor="middle" font-size="32">10</text><path d="M1800.1 2454L1800.1 2456.5" stroke="#000" stroke-width="1.8"/><text x="1803.1" y="2487.3" text-anchor="middle" font-size="32">15</text><path d="M1845.5 2454L1845.5 2456.5" stroke="#000" stroke-width="1.8"/><text x="1848.5" y="2487.3" text-anchor="middle" font-size="32">20</text><path d="M1890.9 2454L1890.9 2456.5" stroke="#000" stroke-width="1.8"/><text x="1893.9" y="2487.3" text-anchor="middle" font-size="32">25</text><text x="1776.1" y="2519" text-anchor="middle" font-size="32">time (h)</text><path d="M1089 1909.4L1091.3 1887.7L1093.9 1874.2L1098.2 1827.6L1103.4 1828.5L1108 1835.8L1126.4 1896.2L1145.1 1903.1L1163.8 1903L1256.9 1886L1313 1888.1L1313 1906.1L1256.9 1923L1163.8 1925L1145.1 1916.1L1126.4 1907.2L1108 1855.8L1103.4 1846.5L1098.2 1845.6L1093.9 1882.2L1091.3 1895.7L1089 1915.4Z" fill="#F8CDCD"/><path d="M1089 1912.4L1091.3 1891.7L1093.9 1878.2L1098.2 1837.6L1103.4 1838.5L1108 1846.8L1126.4 1901.2L1145.1 1908.1L1163.8 1913L1256.9 1904L1313 1897.1" stroke="#9B1B1F" stroke-width="2.4" fill="none" stroke-linejoin="round"/><path d="M1089 1912.4h0M1091.3 1891.7h0M1126.4 1901.2h0M1145.1 1908.1h0M1163.8 1913h0M1256.9 1904h0M1313 1897.1h0" stroke="#C8C8C8" stroke-width="7.2" stroke-linecap="round" fill="none"/><path d="M1093.9 1878.2h0M1098.2 1837.6h0M1103.4 1838.5h0M1108 1846.8h0" stroke="#000000" stroke-width="7.2" stroke-linecap="round" fill="none"/><path d="M1376.5 1840.6L1378.5 1852.5L1381.3 1825L1385.3 1793.7L1390.5 1799.5L1395.2 1813.2L1413.6 1834.7L1432.4 1832.9L1451.1 1845.3L1544.2 1825.8L1600.5 1816L1600.5 1850L1544.2 1853.8L1451.1 1883.3L1432.4 1860.9L1413.6 1862.7L1395.2 1841.2L1390.5 1825.5L1385.3 1818.7L1381.3 1843L1378.5 1867.5L1376.5 1853.6Z" fill="#CFE3D8"/><path d="M1376.5 1845.6L1378.5 1858.5L1381.3 1833L1385.3 1806.7L1390.5 1813.5L1395.2 1827.2L1413.6 1848.7L1432.4 1846.9L1451.1 1864.3L1544.2 1839.8L1600.5 1833" stroke="#1E6B34" stroke-width="2.4" fill="none" stroke-linejoin="round"/><path d="M1376.5 1845.6h0M1378.5 1858.5h0M1381.3 1833h0M1385.3 1806.7h0M1390.5 1813.5h0M1395.2 1827.2h0M1413.6 1848.7h0M1432.4 1846.9h0M1451.1 1864.3h0M1544.2 1839.8h0M1600.5 1833h0" stroke="#C8C8C8" stroke-width="7.2" stroke-linecap="round" fill="none"/><path d="M1663.2 1931.6L1665.9 1919.8L1668 1909.6L1672.8 1901.5L1677.5 1899.1L1682.3 1892.7L1700.7 1910.8L1719.5 1913.7L1738.2 1924.3L1831.6 1928.5L1887.6 1939.9L1887.6 1957.9L1831.6 1962.5L1738.2 1950.3L1719.5 1937.7L1700.7 1944.8L1682.3 1920.7L1677.5 1923.1L1672.8 1925.5L1668 1931.6L1665.9 1937.8L1663.2 1949.6Z" fill="#D8D9EC"/><path d="M1663.2 1937.6L1665.9 1927.8L1668 1921.6L1672.8 1915.5L1677.5 1913.1L1682.3 1908.7L1700.7 1927.8L1719.5 1925.7L1738.2 1936.3L1831.6 1945.5L1887.6 1948.9" stroke="#29338C" stroke-width="2.4" fill="none" stroke-linejoin="round"/><path d="M1663.2 1937.6h0M1665.9 1927.8h0M1668 1921.6h0M1672.8 1915.5h0M1677.5 1913.1h0M1682.3 1908.7h0M1700.7 1927.8h0M1719.5 1925.7h0M1738.2 1936.3h0M1831.6 1945.5h0M1887.6 1948.9h0" stroke="#C8C8C8" stroke-width="7.2" stroke-linecap="round" fill="none"/><path d="M1089 2147.8L1091.9 2184.4L1094.7 2157.7L1098.5 2096.2L1103.9 2091.2L1109.1 2097L1127.8 2144.4L1147.1 2116.9L1166.1 2112.9L1262.1 2130.4L1319.6 2178.7L1319.6 2202.7L1262.1 2177.4L1166.1 2156.9L1147.1 2153.9L1127.8 2168.4L1109.1 2137L1103.9 2141.2L1098.5 2136.2L1094.7 2177.7L1091.9 2204.4L1089 2172.8Z" fill="#F8CDCD"/><path d="M1089 2162.8L1091.9 2194.4L1094.7 2167.7L1098.5 2116.2L1103.9 2116.2L1109.1 2117L1127.8 2158.4L1147.1 2134.9L1166.1 2134.9L1262.1 2154.4L1319.6 2190.7" stroke="#9B1B1F" stroke-width="2.4" fill="none" stroke-linejoin="round"/><path d="M1089 2162.8h0M1091.9 2194.4h0M1094.7 2167.7h0M1098.5 2116.2h0M1103.9 2116.2h0M1109.1 2117h0M1127.8 2158.4h0M1147.1 2134.9h0M1166.1 2134.9h0M1262.1 2154.4h0M1319.6 2190.7h0" stroke="#C8C8C8" stroke-width="7.2" stroke-linecap="round" fill="none"/><path d="M1376.5 2174L1379.2 2153.5L1381.6 2121.5L1386.7 2102.2L1391.1 2035.7L1395.6 2102.2L1415.3 2161.1L1434.1 2151.3L1453.2 2149.6L1549.7 2176.3L1607.3 2150.1L1607.3 2170.1L1549.7 2190.3L1453.2 2187.6L1434.1 2181.3L1415.3 2183.1L1395.6 2132.2L1391.1 2120.7L1386.7 2132.2L1381.6 2141.5L1379.2 2173.5L1376.5 2194Z" fill="#CFE3D8"/><path d="M1376.5 2184L1379.2 2163.5L1381.6 2131.5L1386.7 2117.2L1391.1 2080.7L1395.6 2117.2L1415.3 2173.1L1434.1 2166.3L1453.2 2167.6L1549.7 2183.3L1607.3 2160.1" stroke="#1E6B34" stroke-width="2.4" fill="none" stroke-linejoin="round"/><path d="M1376.5 2184h0M1379.2 2163.5h0M1381.6 2131.5h0M1386.7 2117.2h0M1395.6 2117.2h0M1415.3 2173.1h0M1434.1 2166.3h0M1453.2 2167.6h0M1549.7 2183.3h0M1607.3 2160.1h0" stroke="#C8C8C8" stroke-width="7.2" stroke-linecap="round" fill="none"/><path d="M1391.1 2080.7h0" stroke="#000000" stroke-width="7.2" stroke-linecap="round" fill="none"/><path d="M1663.9 2162.4L1666.3 2167.9L1668.3 2127.7L1673.8 2113.1L1678.6 2119.9L1683.3 2157.3L1702.4 2157L1721.9 2164.6L1741 2161.4L1837.1 2161.5L1895.1 2135.4L1895.1 2181.4L1837.1 2195.5L1741 2185.4L1721.9 2198.6L1702.4 2181L1683.3 2173.3L1678.6 2147.9L1673.8 2141.1L1668.3 2151.7L1666.3 2191.9L1663.9 2182.4Z" fill="#D8D9EC"/><path d="M1663.9 2172.4L1666.3 2179.9L1668.3 2139.7L1673.8 2127.1L1678.6 2133.9L1683.3 2165.3L1702.4 2169L1721.9 2181.6L1741 2173.4L1837.1 2178.5L1895.1 2158.4" stroke="#29338C" stroke-width="2.4" fill="none" stroke-linejoin="round"/><path d="M1663.9 2172.4h0M1666.3 2179.9h0M1668.3 2139.7h0M1673.8 2127.1h0M1678.6 2133.9h0M1683.3 2165.3h0M1702.4 2169h0M1721.9 2181.6h0M1741 2173.4h0M1837.1 2178.5h0M1895.1 2158.4h0" stroke="#C8C8C8" stroke-width="7.2" stroke-linecap="round" fill="none"/><path d="M1089 2356.2L1091.6 2363.4L1094.2 2370.3L1098.5 2347.6L1103.1 2332.6L1108.2 2333.5L1127.2 2356.8L1145.9 2364.8L1165.2 2365.9L1259.8 2348.9L1316.2 2312.1L1316.2 2350.1L1259.8 2366.9L1165.2 2399.9L1145.9 2380.8L1127.2 2368.8L1108.2 2349.5L1103.1 2348.6L1098.5 2363.6L1094.2 2390.3L1091.6 2383.4L1089 2376.2Z" fill="#F8CDCD"/><path d="M1089 2366.2L1091.6 2373.4L1094.2 2380.3L1098.5 2355.6L1103.1 2340.6L1108.2 2341.5L1127.2 2362.8L1145.9 2370.8L1165.2 2382.9L1259.8 2357.9L1316.2 2331.1" stroke="#9B1B1F" stroke-width="2.4" fill="none" stroke-linejoin="round"/><path d="M1089 2366.2h0M1091.6 2373.4h0M1094.2 2380.3h0M1098.5 2355.6h0M1103.1 2340.6h0M1108.2 2341.5h0M1127.2 2362.8h0M1145.9 2370.8h0M1165.2 2382.9h0M1259.8 2357.9h0M1316.2 2331.1h0" stroke="#C8C8C8" stroke-width="7.2" stroke-linecap="round" fill="none"/><path d="M1375.8 2417.7L1378.5 2406.8L1380.9 2414L1385.7 2391.7L1390.5 2414L1395.2 2400L1414 2416L1433.1 2418.7L1452.2 2412.7L1547 2416L1604.2 2430L1604.2 2446L1547 2436L1452.2 2434.7L1433.1 2434.7L1414 2432L1395.2 2416L1390.5 2430L1385.7 2427.7L1380.9 2438L1378.5 2422.8L1375.8 2433.7Z" fill="#CFE3D8"/><path d="M1375.8 2425.7L1378.5 2414.8L1380.9 2426L1385.7 2409.7L1390.5 2422L1395.2 2408L1414 2424L1433.1 2426.7L1452.2 2423.7L1547 2426L1604.2 2438" stroke="#1E6B34" stroke-width="2.4" fill="none" stroke-linejoin="round"/><path d="M1375.8 2425.7h0M1378.5 2414.8h0M1380.9 2426h0M1385.7 2409.7h0M1390.5 2422h0M1395.2 2408h0M1414 2424h0M1433.1 2426.7h0M1452.2 2423.7h0M1547 2426h0M1604.2 2438h0" stroke="#C8C8C8" stroke-width="7.2" stroke-linecap="round" fill="none"/><path d="M1663.9 2343.4L1666.6 2344.1L1668.3 2320.3L1673.1 2288.7L1677.9 2276.1L1683 2284.3L1702.1 2343.4L1720.8 2344.4L1739.6 2337.9L1834.4 2326.2L1891.3 2329.6L1891.3 2365.6L1834.4 2364.2L1739.6 2349.9L1720.8 2360.4L1702.1 2361.4L1683 2320.3L1677.9 2316.1L1673.1 2324.7L1668.3 2348.3L1666.6 2364.1L1663.9 2363.4Z" fill="#D8D9EC"/><path d="M1663.9 2353.4L1666.6 2354.1L1668.3 2334.3L1673.1 2306.7L1677.9 2296.1L1683 2302.3L1702.1 2352.4L1720.8 2352.4L1739.6 2343.9L1834.4 2345.2L1891.3 2347.6" stroke="#29338C" stroke-width="2.4" fill="none" stroke-linejoin="round"/><path d="M1663.9 2353.4h0M1666.6 2354.1h0M1668.3 2334.3h0M1673.1 2306.7h0M1702.1 2352.4h0M1720.8 2352.4h0M1739.6 2343.9h0M1834.4 2345.2h0M1891.3 2347.6h0" stroke="#C8C8C8" stroke-width="7.2" stroke-linecap="round" fill="none"/><path d="M1677.9 2296.1h0M1683 2302.3h0" stroke="#000000" stroke-width="7.2" stroke-linecap="round" fill="none"/></svg></body></html>
